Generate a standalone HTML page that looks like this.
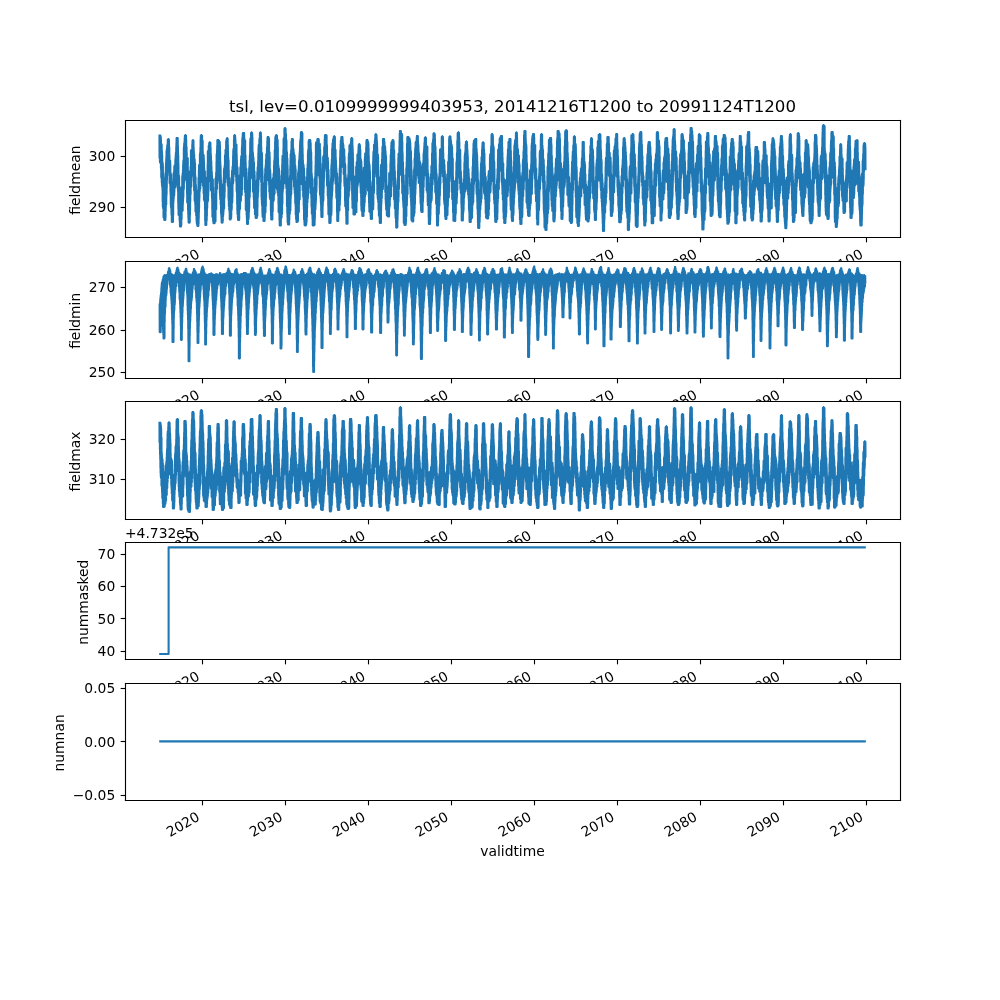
<!DOCTYPE html>
<html><head><meta charset="utf-8"><title>tsl</title>
<style>html,body{margin:0;padding:0;background:#fff;}svg{display:block;transform:translateZ(0);}text{font-family:"DejaVu Sans","Liberation Sans",sans-serif;}</style>
</head><body>
<svg  width="1000" height="1000" viewBox="0 0 720 720">
 
 <defs>
  <style type="text/css">*{stroke-linejoin: round; stroke-linecap: butt}</style>
 </defs>
 <g id="figure_1">
  <g id="patch_1">
   <path d="M 0 720 
L 720 720 
L 720 0 
L 0 0 
z
" style="fill: #ffffff"/>
  </g>
  <g id="axes_1">
   <g id="patch_2">
    <path d="M 90 170.813793 
L 648 170.813793 
L 648 86.4 
L 90 86.4 
z
" style="fill: #ffffff"/>
   </g>
   <g id="matplotlib.axis_1">
    <g id="xtick_1">
     <g id="line2d_1">
      <defs>
       <path id="mb9af4d5690" d="M 0 0 
L 0 3.5 
" style="stroke: #000000; stroke-width: 0.8"/>
      </defs>
      <g>
       <use href="#mb9af4d5690" x="145.8" y="171" style="stroke: #000000; stroke-width: 0.8"/>
      </g>
     </g>
     <g id="text_1">
      <text style="font-size: 10px; font-family: 'DejaVu Sans', 'Liberation Sans', sans-serif" transform="translate(122.393771 197.699233) rotate(-30)">2020</text>
     </g>
    </g>
    <g id="xtick_2">
     <g id="line2d_2">
      <g>
       <use href="#mb9af4d5690" x="205.56" y="171" style="stroke: #000000; stroke-width: 0.8"/>
      </g>
     </g>
     <g id="text_2">
      <text style="font-size: 10px; font-family: 'DejaVu Sans', 'Liberation Sans', sans-serif" transform="translate(182.123892 197.699233) rotate(-30)">2030</text>
     </g>
    </g>
    <g id="xtick_3">
     <g id="line2d_3">
      <g>
       <use href="#mb9af4d5690" x="265.32" y="171" style="stroke: #000000; stroke-width: 0.8"/>
      </g>
     </g>
     <g id="text_3">
      <text style="font-size: 10px; font-family: 'DejaVu Sans', 'Liberation Sans', sans-serif" transform="translate(241.837662 197.699233) rotate(-30)">2040</text>
     </g>
    </g>
    <g id="xtick_4">
     <g id="line2d_4">
      <g>
       <use href="#mb9af4d5690" x="325.08" y="171" style="stroke: #000000; stroke-width: 0.8"/>
      </g>
     </g>
     <g id="text_4">
      <text style="font-size: 10px; font-family: 'DejaVu Sans', 'Liberation Sans', sans-serif" transform="translate(301.567783 197.699233) rotate(-30)">2050</text>
     </g>
    </g>
    <g id="xtick_5">
     <g id="line2d_5">
      <g>
       <use href="#mb9af4d5690" x="384.84" y="171" style="stroke: #000000; stroke-width: 0.8"/>
      </g>
     </g>
     <g id="text_5">
      <text style="font-size: 10px; font-family: 'DejaVu Sans', 'Liberation Sans', sans-serif" transform="translate(361.281553 197.699233) rotate(-30)">2060</text>
     </g>
    </g>
    <g id="xtick_6">
     <g id="line2d_6">
      <g>
       <use href="#mb9af4d5690" x="444.6" y="171" style="stroke: #000000; stroke-width: 0.8"/>
      </g>
     </g>
     <g id="text_6">
      <text style="font-size: 10px; font-family: 'DejaVu Sans', 'Liberation Sans', sans-serif" transform="translate(421.011674 197.699233) rotate(-30)">2070</text>
     </g>
    </g>
    <g id="xtick_7">
     <g id="line2d_7">
      <g>
       <use href="#mb9af4d5690" x="504.36" y="171" style="stroke: #000000; stroke-width: 0.8"/>
      </g>
     </g>
     <g id="text_7">
      <text style="font-size: 10px; font-family: 'DejaVu Sans', 'Liberation Sans', sans-serif" transform="translate(480.725444 197.699233) rotate(-30)">2080</text>
     </g>
    </g>
    <g id="xtick_8">
     <g id="line2d_8">
      <g>
       <use href="#mb9af4d5690" x="564.12" y="171" style="stroke: #000000; stroke-width: 0.8"/>
      </g>
     </g>
     <g id="text_8">
      <text style="font-size: 10px; font-family: 'DejaVu Sans', 'Liberation Sans', sans-serif" transform="translate(540.455565 197.699233) rotate(-30)">2090</text>
     </g>
    </g>
    <g id="xtick_9">
     <g id="line2d_9">
      <g>
       <use href="#mb9af4d5690" x="623.88" y="171" style="stroke: #000000; stroke-width: 0.8"/>
      </g>
     </g>
     <g id="text_9">
      <text style="font-size: 10px; font-family: 'DejaVu Sans', 'Liberation Sans', sans-serif" transform="translate(600.169335 197.699233) rotate(-30)">2100</text>
     </g>
    </g>
   </g>
   <g id="matplotlib.axis_2">
    <g id="ytick_1">
     <g id="line2d_10">
      <defs>
       <path id="mb0a17fd25a" d="M 0 0 
L -3.5 0 
" style="stroke: #000000; stroke-width: 0.8"/>
      </defs>
      <g>
       <use href="#mb0a17fd25a" x="90.36" y="149.4" style="stroke: #000000; stroke-width: 0.8"/>
      </g>
     </g>
     <g id="text_10">
      <text style="font-size: 10px; font-family: 'DejaVu Sans', 'Liberation Sans', sans-serif; text-anchor: end" x="83" y="152.692597" transform="rotate(-0 83 152.692597)">290</text>
     </g>
    </g>
    <g id="ytick_2">
     <g id="line2d_11">
      <g>
       <use href="#mb0a17fd25a" x="90.36" y="112.68" style="stroke: #000000; stroke-width: 0.8"/>
      </g>
     </g>
     <g id="text_11">
      <text style="font-size: 10px; font-family: 'DejaVu Sans', 'Liberation Sans', sans-serif; text-anchor: end" x="83" y="115.974983" transform="rotate(-0 83 115.974983)">300</text>
     </g>
    </g>
    <g id="text_12">
     <text style="font-size: 10px; font-family: 'DejaVu Sans', 'Liberation Sans', sans-serif; text-anchor: middle" x="57.832812" y="128.606897" transform="translate(-0.5 1.08) rotate(-90 57.832812 128.606897)">fieldmean</text>
    </g>
   </g>
   <g id="L_fieldmean">
    <path d="M114.98 97.7L115.05 113.7L115.11 97.7L115.17 113.7L115.23 97.7L115.3 116L115.36 97.7L115.42 117L115.48 98.8L115.54 117L115.61 98.8L115.67 117L115.73 100.7L115.79 117L115.86 104L115.92 116.6L115.98 104L116.04 120.9L116.1 104L116.17 122.2L116.23 104L116.29 127.7L116.35 108.1L116.42 127.7L116.48 109.5L116.54 128.8L116.6 111.4L116.66 131.4L116.73 115.9L116.79 133L116.85 117.6L116.91 134.4L116.98 117.6L117.04 134.4L117.1 118.6L117.16 136.7L117.22 125.1L117.29 145L117.35 125.1L117.41 148.6L117.47 126.5L117.54 149.7L117.6 128.2L117.66 149.7L117.72 132.1L117.78 149.7L117.85 132.2L117.91 156.4L117.97 135.5L118.03 156.4L118.1 136L118.16 156.4L118.22 136.1L118.28 156.4L118.34 139.1L118.41 158.2L118.47 139.1L118.53 158.2L118.59 139.1L118.66 158.2L118.72 140.8L118.78 158.2L118.84 141.6L118.9 158.2L118.97 139.4L119.03 156.4L119.09 134.6L119.15 152.1L119.22 133.3L119.28 148.5L119.34 129.9L119.4 147.6L119.46 124L119.53 147.3L119.59 120.3L119.65 141.5L119.71 117.5L119.78 139.7L119.84 114.6L119.9 135.3L119.96 112.6L120.02 129.7L120.09 108.6L120.15 126.8L120.21 108.3L120.27 124.6L120.34 106.9L120.4 121L120.46 106.9L120.52 121L120.58 104.8L120.65 119.3L120.71 104.2L120.77 119.3L120.83 104.2L120.9 119.3L120.96 100.6L121.02 114.1L121.08 100.6L121.14 110.2L121.21 100.6L121.27 114.4L121.33 100.6L121.39 118.3L121.46 100.6L121.52 120.2L121.58 105.9L121.64 120.2L121.7 105.9L121.77 121.3L121.83 111.5L121.89 121.3L121.95 115.8L122.02 124.4L122.08 115.8L122.14 126.4L122.2 115.8L122.27 131.8L122.33 115.8L122.39 131.8L122.45 118.1L122.51 131.8L122.58 123.9L122.64 131.8L122.7 125.6L122.76 133.7L122.83 125.6L122.89 137.9L122.95 125.6L123.01 140.4L123.07 125.6L123.14 147.3L123.2 128.7L123.26 149.1L123.32 135.7L123.39 149.5L123.45 138.5L123.51 149.5L123.57 143.8L123.63 154.3L123.7 144L123.76 155.1L123.82 144L123.88 159.6L123.95 144L124.01 159.6L124.07 146.6L124.13 159.6L124.19 143.4L124.26 159.6L124.32 143.4L124.38 159.6L124.44 140.6L124.51 155L124.57 138.1L124.63 146.5L124.69 135.5L124.75 144.8L124.82 135.5L124.88 143.1L124.94 131.2L125 141.6L125.07 131.2L125.13 140.8L125.19 124.8L125.25 140.8L125.31 124.8L125.38 138.5L125.44 124.8L125.5 134.8L125.56 123L125.63 134.8L125.69 119.9L125.75 134.8L125.81 119.9L125.87 134.8L125.94 119.1L126 134.8L126.06 119.1L126.12 130.3L126.19 119.1L126.25 130.3L126.31 119.1L126.37 130.3L126.43 114.9L126.5 130.3L126.56 113.8L126.62 129.5L126.68 112L126.75 128.8L126.81 110L126.87 123.5L126.93 110L126.99 122.5L127.06 105.8L127.12 122L127.18 103.1L127.24 122L127.31 99.6L127.37 122L127.43 99.6L127.49 114.7L127.55 99.6L127.62 119L127.68 99.6L127.74 119.5L127.8 99.6L127.87 133.5L127.93 105.2L127.99 134.2L128.05 110.3L128.11 135.1L128.18 112.1L128.24 136.6L128.3 117.7L128.36 137.7L128.43 126.1L128.49 145.9L128.55 126.6L128.61 150.3L128.67 126.6L128.74 154.6L128.8 128L128.86 154.6L128.92 134.7L128.99 154.6L129.05 137L129.11 154.6L129.17 137L129.23 154.6L129.3 137L129.36 153.9L129.42 137L129.48 158L129.55 137.6L129.61 159.6L129.67 138.8L129.73 162.9L129.8 138.8L129.86 162.9L129.92 145.3L129.98 162.9L130.04 144.7L130.11 162.9L130.17 144.4L130.23 162.9L130.29 137.4L130.36 161.8L130.42 137.4L130.48 157.6L130.54 135L130.6 157.6L130.67 135L130.73 150.5L130.79 135L130.85 150.8L130.92 135L130.98 151.6L131.04 135L131.1 151.6L131.16 135.2L131.23 151.6L131.29 135.2L131.35 151.6L131.41 126.9L131.48 147.2L131.54 126.9L131.6 145.2L131.66 125L131.72 143.3L131.79 125L131.85 141.7L131.91 122.4L131.97 136.4L132.04 118.6L132.1 136.4L132.16 115.9L132.22 135.6L132.28 115.5L132.35 131.5L132.41 114.8L132.47 126.9L132.53 106.6L132.6 125.4L132.66 105.4L132.72 125.4L132.78 103.5L132.84 122.3L132.91 103.5L132.97 115.7L133.03 102L133.09 113.4L133.16 99.4L133.22 113.4L133.28 97.7L133.34 113.4L133.4 97.7L133.47 112L133.53 97.7L133.59 113.1L133.65 97.7L133.72 115.4L133.78 97.7L133.84 121.2L133.9 100.2L133.96 129.3L134.03 105.9L134.09 129.3L134.15 105.9L134.21 129.3L134.28 109.8L134.34 129.3L134.4 115.4L134.46 129.3L134.52 115.5L134.59 124.2L134.65 114L134.71 132.1L134.77 114L134.84 139.4L134.9 114L134.96 145.6L135.02 114L135.08 145.9L135.15 122.9L135.21 145.9L135.27 130.1L135.33 145.9L135.4 134.6L135.46 145.9L135.52 136.7L135.58 151L135.64 137.6L135.71 154L135.77 137.8L135.83 157.4L135.89 139.6L135.96 160.1L136.02 140.8L136.08 160.1L136.14 141.6L136.2 160.1L136.27 141.1L136.33 160.1L136.39 139L136.45 160.1L136.52 133.1L136.58 154.8L136.64 130.4L136.7 151.9L136.76 128.2L136.83 145.3L136.89 126.4L136.95 140.2L137.01 123.3L137.08 139.7L137.14 123.3L137.2 135L137.26 123.1L137.33 134.2L137.39 120.3L137.45 134.2L137.51 120.1L137.57 134.2L137.64 108.4L137.7 129.7L137.76 108.4L137.82 127.6L137.89 108.4L137.95 125.9L138.01 108.4L138.07 119.7L138.13 108.4L138.2 119.7L138.26 108.8L138.32 119.7L138.38 108.8L138.45 119.7L138.51 107.7L138.57 119.5L138.63 103.8L138.69 119.5L138.76 101.4L138.82 119.5L138.88 101.4L138.94 119.5L139.01 101.4L139.07 124.2L139.13 101.4L139.19 124.2L139.25 106L139.32 125.2L139.38 108.6L139.44 125.2L139.5 111.2L139.57 126L139.63 111.2L139.69 126.9L139.75 114.8L139.81 130.8L139.88 114.8L139.94 137.1L140 114.8L140.06 137.1L140.13 117.5L140.19 137.1L140.25 117.5L140.31 144.3L140.37 125.8L140.44 144.3L140.5 127.6L140.56 144.5L140.62 127.6L140.69 146L140.75 133.1L140.81 147.4L140.87 133.2L140.93 152.3L141 136.7L141.06 152.3L141.12 139.8L141.18 152.3L141.25 138.9L141.31 152.3L141.37 138.9L141.43 155.2L141.49 138.9L141.56 155.2L141.62 138.9L141.68 158.4L141.74 138.9L141.81 160.2L141.87 146.3L141.93 161.1L141.99 146.3L142.05 161.1L142.12 146.4L142.18 161.1L142.24 149.5L142.3 162.5L142.37 150.3L142.43 162.5L142.49 145.4L142.55 162.5L142.61 145.2L142.68 162.5L142.74 141.4L142.8 161.1L142.86 136.9L142.93 157.2L142.99 134.8L143.05 152.9L143.11 128.2L143.17 149.7L143.24 128.2L143.3 145.1L143.36 122.8L143.42 142.5L143.49 119L143.55 138.1L143.61 119L143.67 137.6L143.73 119L143.8 135.7L143.86 119L143.92 135.7L143.98 118.2L144.05 135.7L144.11 110.9L144.17 133.4L144.23 110.9L144.29 133.4L144.36 109.5L144.42 127.4L144.48 106.2L144.54 124.1L144.61 100.5L144.67 124.1L144.73 97.8L144.79 124.1L144.85 97.8L144.92 120.8L144.98 97.8L145.04 115.1L145.1 97.8L145.17 114.3L145.23 97.8L145.29 114.3L145.35 98L145.42 123L145.48 101.5L145.54 127.6L145.6 101.5L145.66 128.9L145.73 101.5L145.79 130.8L145.85 109.3L145.91 130.8L145.98 116.2L146.04 130.8L146.1 111.8L146.16 130.8L146.22 111.8L146.29 130.6L146.35 111.8L146.41 134L146.47 111.8L146.54 134L146.6 114.2L146.66 134L146.72 116.4L146.78 139.2L146.85 120.9L146.91 139.2L146.97 123.5L147.03 143.8L147.1 123.5L147.16 143.8L147.22 123.5L147.28 143.8L147.34 123.5L147.41 144.8L147.47 127.9L147.53 144.8L147.59 127.9L147.66 144.8L147.72 127.9L147.78 150.9L147.84 129.9L147.9 158.7L147.97 131.3L148.03 161.8L148.09 132.6L148.15 161.8L148.22 137.2L148.28 161.8L148.34 143.8L148.4 161.8L148.46 139.8L148.53 158.8L148.59 139.8L148.65 158.7L148.71 131L148.78 155.3L148.84 131L148.9 149.7L148.96 131L149.02 149.7L149.09 131L149.15 145.3L149.21 131L149.27 145.3L149.34 131.4L149.4 145.3L149.46 128.3L149.52 144.1L149.58 122.6L149.65 144.1L149.71 118.3L149.77 140.9L149.83 108.9L149.9 137.9L149.96 108.9L150.02 127.6L150.08 108.9L150.14 126.8L150.21 108.9L150.27 118.8L150.33 108.4L150.39 117.4L150.46 104.9L150.52 115.2L150.58 104.9L150.64 115.2L150.7 104.9L150.77 115L150.83 102.9L150.89 114L150.95 102.9L151.02 114L151.08 102.9L151.14 114.1L151.2 102.9L151.26 116.6L151.33 102.9L151.39 123.6L151.45 106.2L151.51 128L151.58 110.3L151.64 128L151.7 112.4L151.76 130.8L151.82 115.7L151.89 130.8L151.95 116L152.01 136.3L152.07 119.5L152.14 136.9L152.2 123.1L152.26 136.9L152.32 123.7L152.38 136.9L152.45 126.6L152.51 136.9L152.57 129.2L152.63 138.3L152.7 129.2L152.76 142L152.82 129.2L152.88 143.3L152.95 129.2L153.01 150.8L153.07 129.2L153.13 156L153.19 134.8L153.26 156L153.32 139.4L153.38 156L153.44 141.4L153.51 156L153.57 141.7L153.63 158.8L153.69 141.7L153.75 159.6L153.82 143.6L153.88 160.6L153.94 147L154 160.6L154.07 147.3L154.13 160.6L154.19 147.9L154.25 160.6L154.31 147.9L154.38 160.6L154.44 147.2L154.5 159.3L154.56 147.2L154.63 159.3L154.69 141.8L154.75 159.3L154.81 141.8L154.87 159.3L154.94 141.8L155 159.3L155.06 140.7L155.12 151L155.19 134.8L155.25 151L155.31 128.7L155.37 151L155.43 128.7L155.5 150.6L155.56 128.7L155.62 139.7L155.68 127.2L155.75 136.5L155.81 124.2L155.87 136.5L155.93 124.2L155.99 135.8L156.06 116.4L156.12 135.8L156.18 111L156.24 131.9L156.31 111L156.37 131.9L156.43 108.1L156.49 128.9L156.55 105L156.62 121.7L156.68 101L156.74 121.7L156.8 101L156.87 117.9L156.93 101L156.99 115.5L157.05 101L157.11 115.5L157.18 101L157.24 115.5L157.3 101.8L157.36 115.2L157.43 101.8L157.49 116.1L157.55 101.8L157.61 116.1L157.67 101.8L157.74 116.1L157.8 102.2L157.86 117.7L157.92 102.2L157.99 123.1L158.05 102.2L158.11 129.6L158.17 104.2L158.23 129.6L158.3 108.8L158.36 130.9L158.42 116.3L158.48 138.8L158.55 118.7L158.61 140.8L158.67 120.2L158.73 143.3L158.79 126.1L158.86 143.3L158.92 130L158.98 143.4L159.04 132.6L159.11 147.3L159.17 132.6L159.23 147.7L159.29 132.6L159.35 153.8L159.42 133.6L159.48 154.6L159.54 133.6L159.6 156.7L159.67 137.3L159.73 160.1L159.79 146.3L159.85 160.1L159.91 146.3L159.98 160.1L160.04 146.7L160.1 160.1L160.16 145L160.23 159.1L160.29 145L160.35 155.7L160.41 141.8L160.48 155.7L160.54 136.4L160.6 154.2L160.66 136.4L160.72 152.7L160.79 136.4L160.85 151.3L160.91 136.4L160.97 149.9L161.04 133.1L161.1 149.9L161.16 129.4L161.22 149.9L161.28 127.9L161.35 142.5L161.41 122.7L161.47 142.1L161.53 121.5L161.6 138.3L161.66 121.5L161.72 131.6L161.78 121.5L161.84 131.4L161.91 119.5L161.97 131.2L162.03 119.5L162.09 131.2L162.16 112L162.22 129.2L162.28 112L162.34 127.3L162.4 112L162.47 125.8L162.53 108L162.59 120.3L162.65 108L162.72 120.3L162.78 108L162.84 120.3L162.9 108L162.96 119.1L163.03 101.7L163.09 119.1L163.15 101.5L163.21 119.1L163.28 100.6L163.34 115.3L163.4 100L163.46 112.2L163.52 100L163.59 118.7L163.65 100L163.71 118.8L163.77 100L163.84 125.5L163.9 104.6L163.96 125.5L164.02 109.5L164.08 128.3L164.15 113.3L164.21 133.8L164.27 115.4L164.33 133.8L164.4 115.4L164.46 133.8L164.52 122.6L164.58 134.2L164.64 127.8L164.71 142.9L164.77 128.8L164.83 144.3L164.89 128.8L164.96 148.5L165.02 130.9L165.08 148.5L165.14 132.8L165.2 151.1L165.27 139.6L165.33 151.1L165.39 144.6L165.45 152.7L165.52 144.6L165.58 157.9L165.64 145L165.7 157.9L165.76 145L165.83 157.9L165.89 148.6L165.95 157.9L166.01 145.6L166.08 157.5L166.14 145.6L166.2 157.1L166.26 145L166.32 156.2L166.39 141.9L166.45 151.4L166.51 140.2L166.57 151.4L166.64 140.2L166.7 150.1L166.76 133.6L166.82 146.1L166.88 127.9L166.95 146.1L167.01 127.8L167.07 145.5L167.13 125.8L167.2 142L167.26 123L167.32 133L167.38 122.9L167.44 132L167.51 122.9L167.57 132L167.63 120.1L167.69 132L167.76 120.1L167.82 130.7L167.88 120.1L167.94 127.2L168.01 112.2L168.07 126.2L168.13 108.5L168.19 125.3L168.25 107.3L168.32 125.3L168.38 107.3L168.44 120.2L168.5 107.3L168.57 118.9L168.63 100.6L168.69 118.9L168.75 97.7L168.81 118.9L168.88 97.7L168.94 114.4L169 97.7L169.06 114.2L169.13 97.7L169.19 114.2L169.25 99.5L169.31 114.2L169.37 100.9L169.44 114.2L169.5 104.6L169.56 112.3L169.62 104.2L169.69 111.1L169.75 104.2L169.81 114.9L169.87 104.2L169.93 123.6L170 104.2L170.06 127.3L170.12 104.2L170.18 127.3L170.25 111.1L170.31 130.4L170.37 115.2L170.43 131.9L170.49 120.3L170.56 137.3L170.62 120.3L170.68 138L170.74 120.8L170.81 139L170.87 120.8L170.93 146.9L170.99 125.5L171.05 151.4L171.12 132.8L171.18 154.1L171.24 133.8L171.3 154.1L171.37 138.2L171.43 156.5L171.49 142.4L171.55 158.2L171.61 142.4L171.68 158.2L171.74 142.4L171.8 158.2L171.86 138.2L171.93 158.2L171.99 137.3L172.05 158.2L172.11 137L172.17 152.6L172.24 137L172.3 150.3L172.36 131.4L172.42 150.3L172.49 129.2L172.55 150.3L172.61 126.9L172.67 150.3L172.73 126.9L172.8 146.2L172.86 126.9L172.92 144.4L172.98 126.9L173.05 144.4L173.11 125.1L173.17 144.4L173.23 121L173.29 144.4L173.36 119.9L173.42 140.3L173.48 119.9L173.54 140.2L173.61 117.6L173.67 140.2L173.73 114.7L173.79 140.2L173.85 112.7L173.92 140.2L173.98 112.7L174.04 136.6L174.1 112.4L174.17 126.6L174.23 112.4L174.29 126.3L174.35 106.6L174.41 126.3L174.48 104.9L174.54 126.3L174.6 100.4L174.66 126.3L174.73 99.1L174.79 118.9L174.85 99.1L174.91 116.7L174.97 96.2L175.04 115.2L175.1 96L175.16 115.2L175.22 96L175.29 115.9L175.35 96L175.41 119.9L175.47 96L175.54 123.5L175.6 96L175.66 123.5L175.72 99.1L175.78 123.5L175.85 101.2L175.91 123.5L175.97 101.2L176.03 123.5L176.1 101.2L176.16 123.3L176.22 101.2L176.28 128.5L176.34 101.2L176.41 136.3L176.47 112L176.53 136.7L176.59 112L176.66 138.3L176.72 117L176.78 138.3L176.84 121.2L176.9 138.3L176.97 121.6L177.03 141.4L177.09 121.6L177.15 151L177.22 121.6L177.28 151L177.34 127.1L177.4 151L177.46 129.4L177.53 151L177.59 134.6L177.65 151.9L177.71 137.4L177.78 154.8L177.84 137.4L177.9 157.2L177.96 137.4L178.02 161.1L178.09 143.7L178.15 161.1L178.21 148.4L178.27 161.1L178.34 148.5L178.4 161.1L178.46 148.2L178.52 157.6L178.58 146.2L178.65 157.6L178.71 145.4L178.77 157.6L178.83 137.9L178.9 156.4L178.96 136.6L179.02 152.3L179.08 132.8L179.14 152.3L179.21 132.1L179.27 149.3L179.33 124.1L179.39 143.1L179.46 124.1L179.52 142.2L179.58 121.4L179.64 141.8L179.7 120.1L179.77 138.1L179.83 115.7L179.89 136.9L179.95 115.7L180.02 130.1L180.08 111.8L180.14 128.9L180.2 110.9L180.26 125.7L180.33 101.9L180.39 125.7L180.45 99.9L180.51 125.7L180.58 99.9L180.64 121.4L180.7 99.9L180.76 115.3L180.82 98.7L180.89 111.4L180.95 95.7L181.01 111.4L181.07 95.7L181.14 114.2L181.2 95.7L181.26 119.4L181.32 95.7L181.38 119.4L181.45 96.4L181.51 127.8L181.57 98.9L181.63 127.8L181.7 109.1L181.76 127.8L181.82 109.5L181.88 127.8L181.94 110.5L182.01 127.8L182.07 112.8L182.13 127.5L182.19 112.8L182.26 127.8L182.32 114L182.38 138L182.44 116.8L182.5 138L182.57 116.8L182.63 138L182.69 117.1L182.75 138.6L182.82 122.7L182.88 142.3L182.94 123.5L183 143.9L183.06 123.5L183.13 149.6L183.19 126.3L183.25 149.6L183.31 130.2L183.38 149.6L183.44 131.4L183.5 149.6L183.56 131.4L183.63 149.5L183.69 131.4L183.75 154.3L183.81 132.1L183.87 154.3L183.94 134.4L184 154.3L184.06 137.2L184.12 154.3L184.19 138.5L184.25 156.8L184.31 138.5L184.37 156.8L184.43 138.5L184.5 156.8L184.56 140.1L184.62 156.8L184.68 140.8L184.75 156.8L184.81 134.6L184.87 155.3L184.93 131.6L184.99 155.3L185.06 130.7L185.12 155.3L185.18 129.7L185.24 149.1L185.31 128.8L185.37 141.9L185.43 124.2L185.49 141.9L185.55 123.4L185.62 138.6L185.68 120.6L185.74 137.8L185.8 120.6L185.87 133.5L185.93 119.2L185.99 130.1L186.05 115.9L186.11 129.3L186.18 110.3L186.24 129.3L186.3 106.6L186.36 127.7L186.43 104.5L186.49 126.5L186.55 104.5L186.61 122.3L186.67 104.5L186.74 118.2L186.8 104.5L186.86 118.2L186.92 100.2L186.99 118.2L187.05 99.8L187.11 114.7L187.17 99.3L187.23 114.7L187.3 95.7L187.36 115.3L187.42 95.7L187.48 115.5L187.55 95.7L187.61 118.7L187.67 95.7L187.73 119.8L187.79 98.2L187.86 121.2L187.92 105.6L187.98 121.2L188.04 109.2L188.11 121.3L188.17 110.3L188.23 131.1L188.29 110.3L188.35 131.1L188.42 110.4L188.48 141.4L188.54 114.6L188.6 143.7L188.67 121.3L188.73 146.3L188.79 123L188.85 148L188.91 126.9L188.98 148.3L189.04 131.8L189.1 153.4L189.16 131.8L189.23 155.9L189.29 134.6L189.35 155.9L189.41 140.4L189.47 155.9L189.54 137.1L189.6 155.9L189.66 137.1L189.72 156.7L189.79 137.1L189.85 158.9L189.91 137.1L189.97 158.9L190.03 138.3L190.1 158.9L190.16 143.7L190.22 158.9L190.28 134.9L190.35 158.9L190.41 134.9L190.47 156.7L190.53 134.9L190.59 154L190.66 134.9L190.72 153.2L190.78 134.9L190.84 153.2L190.91 131.4L190.97 152.7L191.03 125.2L191.09 148.6L191.16 121.6L191.22 148.4L191.28 121.5L191.34 142.3L191.4 119.8L191.47 135.1L191.53 118.5L191.59 133.3L191.65 115.5L191.72 130.1L191.78 114.7L191.84 130.1L191.9 111.3L191.96 129.9L192.03 111.3L192.09 127.4L192.15 111.3L192.21 127.4L192.28 110L192.34 122.5L192.4 106L192.46 122.5L192.52 106L192.59 121.3L192.65 101.4L192.71 118.5L192.77 99.1L192.84 115.1L192.9 99.1L192.96 115.1L193.02 99.1L193.08 114.5L193.15 99.1L193.21 115.8L193.27 99.1L193.33 119.6L193.4 99.7L193.46 122.3L193.52 100L193.58 124.5L193.64 109.6L193.71 130.2L193.77 109.6L193.83 131.3L193.89 109.6L193.96 132.8L194.02 112.8L194.08 138.1L194.14 122L194.2 138.1L194.27 122L194.33 139.7L194.39 123L194.45 142.2L194.52 125.1L194.58 143.1L194.64 127.8L194.7 143.1L194.76 130.3L194.83 143.1L194.89 129.8L194.95 143.1L195.01 129.8L195.08 143.6L195.14 129.8L195.2 151.5L195.26 129.8L195.32 155.1L195.39 129.8L195.45 157.9L195.51 132.8L195.57 157.9L195.64 141.1L195.7 157.9L195.76 141.1L195.82 157.9L195.88 140.2L195.95 157.9L196.01 134L196.07 152.2L196.13 133.9L196.2 152.2L196.26 133.9L196.32 145.3L196.38 133.9L196.44 144.9L196.51 131.2L196.57 144.9L196.63 131.1L196.69 144.9L196.76 128.3L196.82 144L196.88 128.3L196.94 144L197 128.3L197.07 140.7L197.13 125.5L197.19 139.4L197.25 125L197.32 139.4L197.38 123.8L197.44 139.4L197.5 119.2L197.56 139.4L197.63 116L197.69 135.4L197.75 116L197.81 135.4L197.88 113.7L197.94 134.9L198 108.1L198.06 134.9L198.12 108.1L198.19 134.9L198.25 102L198.31 125.1L198.37 99.5L198.44 124.6L198.5 98.4L198.56 117.7L198.62 98.4L198.69 114.6L198.75 97.7L198.81 115.8L198.87 97.7L198.93 115.8L199 97.7L199.06 121.7L199.12 97.7L199.18 121.7L199.25 97.7L199.31 121.7L199.37 100.7L199.43 123.8L199.49 100.7L199.56 128.3L199.62 100.9L199.68 136.4L199.74 100.9L199.81 136.4L199.87 106L199.93 136.4L199.99 114.3L200.05 138.6L200.12 119L200.18 138.6L200.24 119L200.3 138.6L200.37 120.3L200.43 141L200.49 121.7L200.55 141L200.61 121.7L200.68 146.9L200.74 121.7L200.8 152.6L200.86 126.1L200.93 152.6L200.99 129.8L201.05 152.6L201.11 132.4L201.17 152.6L201.24 132.6L201.3 153.8L201.36 132.6L201.42 158.4L201.49 132.6L201.55 162.1L201.61 132.6L201.67 162.1L201.73 136.4L201.8 162.1L201.86 138.2L201.92 162.1L201.98 137.8L202.05 162.1L202.11 137.8L202.17 156.6L202.23 137.8L202.29 156.6L202.36 137.8L202.42 156.6L202.48 135.8L202.54 156.6L202.61 135.8L202.67 154.4L202.73 129.7L202.79 154.2L202.85 126.9L202.92 153.7L202.98 125.5L203.04 147.4L203.1 123.1L203.17 146.4L203.23 123.1L203.29 139.2L203.35 118.6L203.41 137.9L203.48 114.3L203.54 135.7L203.6 112.4L203.66 135.7L203.73 112.4L203.79 135.7L203.85 112.4L203.91 132.1L203.97 112.4L204.04 132.1L204.1 112.4L204.16 132.1L204.22 107.5L204.29 132.1L204.35 100.2L204.41 131.3L204.47 99.5L204.53 126L204.6 99.5L204.66 120.3L204.72 99.5L204.78 119.5L204.85 99.3L204.91 115.7L204.97 92.8L205.03 115.7L205.09 92.8L205.16 112.9L205.22 92.8L205.28 112.9L205.34 92.8L205.41 112.4L205.47 92.8L205.53 112.4L205.59 96.5L205.65 118L205.72 96.5L205.78 120.4L205.84 100.5L205.9 123.6L205.97 100.7L206.03 123.6L206.09 101.5L206.15 132.3L206.22 108.3L206.28 134.4L206.34 109.8L206.4 135.6L206.46 109.8L206.53 135.6L206.59 114.2L206.65 140L206.71 114.2L206.78 148.5L206.84 118.7L206.9 148.5L206.96 121.7L207.02 153.6L207.09 128.1L207.15 156.2L207.21 130.5L207.27 160.1L207.34 130.5L207.4 160.1L207.46 140.8L207.52 161.5L207.58 141.1L207.65 161.5L207.71 142.4L207.77 161.5L207.83 140.3L207.9 161.5L207.96 140.3L208.02 161.5L208.08 140.3L208.14 158.2L208.21 140.3L208.27 153.9L208.33 140.3L208.39 153.9L208.46 138.5L208.52 153.9L208.58 133.5L208.64 151.5L208.7 131L208.77 151.5L208.83 128.5L208.89 151.5L208.95 126.7L209.02 146.8L209.08 126.7L209.14 142.8L209.2 120.1L209.26 140.1L209.33 115.3L209.39 140.1L209.45 111.1L209.51 140.1L209.58 111.1L209.64 136.7L209.7 111.1L209.76 126.5L209.82 108.1L209.89 123.7L209.95 108.1L210.01 123.5L210.07 102.1L210.14 120.5L210.2 102.1L210.26 119.9L210.32 100.3L210.38 119.9L210.45 100.3L210.51 117.1L210.57 100.3L210.63 120.1L210.7 100.3L210.76 120.5L210.82 106.5L210.88 128.5L210.94 106.5L211.01 128.5L211.07 107.9L211.13 128.5L211.19 107.9L211.26 128.5L211.32 110.2L211.38 124.9L211.44 110.2L211.5 124.9L211.57 111.3L211.63 127.7L211.69 112L211.75 130.8L211.82 112L211.88 134.3L211.94 112L212 134.3L212.06 114.1L212.13 134.3L212.19 119.3L212.25 136.5L212.31 119.3L212.38 139L212.44 119.3L212.5 139.2L212.56 121.8L212.62 140.9L212.69 121.8L212.75 146.3L212.81 127.1L212.87 146.3L212.94 130.4L213 148.1L213.06 130.4L213.12 154.7L213.18 130.4L213.25 154.7L213.31 130.4L213.37 157.6L213.43 133.8L213.5 157.6L213.56 138.7L213.62 159.6L213.68 140.7L213.74 159.6L213.81 140.7L213.87 159.6L213.93 140.7L213.99 159.6L214.06 134.8L214.12 159.3L214.18 134.8L214.24 159.3L214.31 134.8L214.37 158.8L214.43 134.8L214.49 153.3L214.55 134.8L214.62 152.9L214.68 129.5L214.74 152.9L214.8 124.7L214.87 152.4L214.93 123.7L214.99 152.4L215.05 123.7L215.11 146.7L215.18 122.3L215.24 143.4L215.3 119.8L215.36 143.4L215.43 116.3L215.49 143.4L215.55 115.3L215.61 143.4L215.67 115.3L215.74 132.4L215.8 112.4L215.86 132.4L215.92 110.2L215.99 132.4L216.05 108.7L216.11 130.7L216.17 104.3L216.23 130.7L216.3 101.5L216.36 127.4L216.42 100.9L216.48 125.1L216.55 100.9L216.61 118.6L216.67 99.1L216.73 116.3L216.79 95.5L216.86 114.9L216.92 95.5L216.98 113.9L217.04 95.5L217.11 117.5L217.17 95.5L217.23 122L217.29 95.5L217.35 123.5L217.42 96.1L217.48 130.5L217.54 96.1L217.6 132.6L217.67 106.3L217.73 132.6L217.79 111L217.85 132.6L217.91 115.2L217.98 132.6L218.04 117.7L218.1 136.9L218.16 118.9L218.23 136.9L218.29 118.9L218.35 136.9L218.41 118.9L218.47 141.7L218.54 121.1L218.6 141.7L218.66 121.1L218.72 141.7L218.79 123.4L218.85 147.7L218.91 127.5L218.97 150.8L219.03 127.5L219.1 158.1L219.16 127.5L219.22 158.3L219.28 135.2L219.35 160.1L219.41 144.1L219.47 162L219.53 148.1L219.59 162L219.66 148.7L219.72 162.2L219.78 148.7L219.84 162.2L219.91 150.3L219.97 162.2L220.03 147.9L220.09 162.2L220.15 147L220.22 161.4L220.28 141.7L220.34 161.4L220.4 137.8L220.47 160.1L220.53 134.2L220.59 158.9L220.65 133L220.71 156L220.78 132.4L220.84 156L220.9 130.8L220.96 149.7L221.03 130.5L221.09 145.8L221.15 130.5L221.21 145.8L221.27 127.4L221.34 143.4L221.4 121.5L221.46 143.1L221.52 121.5L221.59 141.2L221.65 118.8L221.71 138.7L221.77 117.3L221.84 135.8L221.9 110.5L221.96 135.1L222.02 108.6L222.08 131.1L222.15 107.6L222.21 129.3L222.27 107.5L222.33 123.7L222.4 101.8L222.46 119.1L222.52 101.8L222.58 119.1L222.64 101L222.71 119.1L222.77 101L222.83 117.5L222.89 101L222.96 117L223.02 101L223.08 120.1L223.14 101L223.2 120.2L223.27 101.1L223.33 122.8L223.39 102.6L223.45 122.9L223.52 103.2L223.58 133.2L223.64 107.5L223.7 133.5L223.76 109.6L223.83 139.1L223.89 109.6L223.95 139.1L224.01 115.9L224.08 139.1L224.14 125L224.2 139.1L224.26 125L224.32 142.1L224.39 126.6L224.45 148.4L224.51 128.7L224.57 149.3L224.64 128.7L224.7 153.7L224.76 128.7L224.82 154.1L224.88 137.2L224.95 154.1L225.01 140.3L225.07 155.6L225.13 140.3L225.2 157.7L225.26 140.3L225.32 162.1L225.38 140.3L225.44 162.1L225.51 148.2L225.57 162.1L225.63 148.4L225.69 162.1L225.76 148.4L225.82 162.1L225.88 148.4L225.94 161.8L226 146.6L226.07 161.8L226.13 139.3L226.19 161.8L226.25 136.2L226.32 161.8L226.38 136.2L226.44 158.6L226.5 136.2L226.56 156.6L226.63 135.1L226.69 150.7L226.75 135.1L226.81 150.7L226.88 129.5L226.94 150.7L227 128L227.06 148.2L227.12 127.4L227.19 146.1L227.25 123.8L227.31 144.2L227.37 119.2L227.44 138.6L227.5 112.7L227.56 138.6L227.62 103.6L227.68 137.6L227.75 102.6L227.81 133L227.87 102.6L227.93 125.6L228 102.6L228.06 126.1L228.12 102.6L228.18 126.1L228.24 107.3L228.31 126.1L228.37 108L228.43 126.1L228.49 106.6L228.56 124.9L228.62 100.6L228.68 124.9L228.74 100.3L228.8 124.9L228.87 100.3L228.93 123.3L228.99 100.3L229.05 118.3L229.12 100.3L229.18 120.5L229.24 100.3L229.3 122.2L229.37 100.8L229.43 124.9L229.49 104.3L229.55 125.2L229.61 104.6L229.68 125.2L229.74 103.7L229.8 125.2L229.86 103.7L229.93 125.2L229.99 103.7L230.05 125.7L230.11 103.7L230.17 127.8L230.24 108L230.3 128.8L230.36 108L230.42 135.3L230.49 113.4L230.55 140L230.61 117.8L230.67 140L230.73 117.8L230.8 140L230.86 121.6L230.92 141.5L230.98 127.3L231.05 143L231.11 127.3L231.17 145.6L231.23 127.3L231.29 147.5L231.36 134.4L231.42 151.5L231.48 137L231.54 156L231.61 137.4L231.67 156L231.73 144.1L231.79 156L231.85 141.2L231.92 156L231.98 140.1L232.04 156L232.1 140L232.17 148.8L232.23 138.1L232.29 146.9L232.35 129.7L232.41 144.7L232.48 126.8L232.54 144.7L232.6 122.1L232.66 144L232.73 118L232.79 138.9L232.85 113.3L232.91 135.3L232.97 112.9L233.04 130.2L233.1 112.3L233.16 127.8L233.22 112.3L233.29 121.1L233.35 112.3L233.41 120.6L233.47 112.3L233.53 120.4L233.6 106.3L233.66 118.6L233.72 105.7L233.78 118.6L233.85 105.7L233.91 117.8L233.97 100.5L234.03 113.9L234.09 97.7L234.16 113.9L234.22 97.4L234.28 113.9L234.34 97.4L234.41 113.9L234.47 97.4L234.53 106.9L234.59 97.4L234.65 110.7L234.72 97.6L234.78 113.9L234.84 97.6L234.9 116.8L234.97 97.6L235.03 121.1L235.09 103.7L235.15 122.3L235.21 104.8L235.28 123.4L235.34 111.2L235.4 123.5L235.46 113.5L235.53 128.5L235.59 113.7L235.65 133.5L235.71 113.7L235.77 133.5L235.84 113.7L235.9 133.5L235.96 116L236.02 133.7L236.09 122.4L236.15 141L236.21 122.4L236.27 141.2L236.33 122.4L236.4 142.7L236.46 126.1L236.52 148.1L236.58 131.3L236.65 154.3L236.71 131.3L236.77 154.3L236.83 134.4L236.9 154.3L236.96 138.9L237.02 154.3L237.08 139.2L237.14 154.3L237.21 139.2L237.27 160.4L237.33 139.2L237.39 160.4L237.46 139.2L237.52 160.4L237.58 143L237.64 160.4L237.7 142.9L237.77 160.4L237.83 139.7L237.89 159.5L237.95 138.9L238.02 155.6L238.08 138.9L238.14 154.6L238.2 132L238.26 154.6L238.33 132L238.39 154.6L238.45 129.6L238.51 152.5L238.58 127.8L238.64 143.7L238.7 120.9L238.76 141.9L238.82 119.1L238.89 140.7L238.95 117.7L239.01 138.4L239.07 115.1L239.14 137.1L239.2 114.3L239.26 133.3L239.32 107.2L239.38 132.2L239.45 107.2L239.51 130.4L239.57 103.3L239.63 130.4L239.7 103.3L239.76 127.5L239.82 103.1L239.88 122L239.94 100.6L240.01 118.7L240.07 100.6L240.13 118.6L240.19 100.6L240.26 121.1L240.32 100.6L240.38 121.1L240.44 98.6L240.5 121.1L240.57 98.6L240.63 121.1L240.69 98.6L240.75 119.3L240.82 98.6L240.88 119.3L240.94 98.6L241 119.8L241.06 107.8L241.13 126.7L241.19 108.1L241.25 126.7L241.31 108.1L241.38 126.7L241.44 108.1L241.5 126.7L241.56 113.3L241.62 129L241.69 115.2L241.75 132.1L241.81 118.1L241.87 132.4L241.94 120.9L242 132.4L242.06 122.9L242.12 132.4L242.18 125.2L242.25 138.7L242.31 125.2L242.37 142.3L242.43 125.2L242.5 142.3L242.56 125.2L242.62 142.3L242.68 132.3L242.74 144.2L242.81 137.4L242.87 152.8L242.93 139.3L242.99 158.9L243.06 139.3L243.12 158.9L243.18 143.6L243.24 158.9L243.3 147.2L243.37 158.9L243.43 144.9L243.49 154.7L243.55 142.4L243.62 151.5L243.68 142.4L243.74 148L243.8 142.4L243.86 151.3L243.93 142.4L243.99 151.3L244.05 145.9L244.11 151.3L244.18 138.9L244.24 151.3L244.3 138.1L244.36 148L244.42 131.7L244.49 147.6L244.55 127.6L244.61 144.1L244.67 126.7L244.74 142.4L244.8 121.1L244.86 135.9L244.92 119.2L244.99 131.9L245.05 113.3L245.11 131.1L245.17 108.3L245.23 124.4L245.3 108.3L245.36 119.4L245.42 104.1L245.48 119.3L245.55 101.4L245.61 116.8L245.67 101.4L245.73 111.5L245.79 101.1L245.86 109.9L245.92 98.8L245.98 109.9L246.04 98.8L246.11 109.9L246.17 98.8L246.23 110.2L246.29 98.8L246.35 110.2L246.42 98.8L246.48 110.2L246.54 100.7L246.6 111.9L246.67 103.1L246.73 116.4L246.79 103.1L246.85 119.9L246.91 104.2L246.98 119.9L247.04 104.4L247.1 119.9L247.16 107.6L247.23 119.9L247.29 107.6L247.35 119.8L247.41 107.6L247.47 119.8L247.54 107.6L247.6 125.2L247.66 107.6L247.72 125.2L247.79 112.2L247.85 125.2L247.91 113.1L247.97 125.8L248.03 118.1L248.1 131.9L248.16 118.1L248.22 134L248.28 118.1L248.35 134L248.41 119.4L248.47 134L248.53 126L248.59 144.5L248.66 126L248.72 148.3L248.78 128.4L248.84 148.3L248.91 128.4L248.97 148.3L249.03 138.6L249.09 148.3L249.15 143.7L249.22 149.8L249.28 143.7L249.34 150.6L249.4 143.7L249.47 155.6L249.53 143.7L249.59 160.9L249.65 147.8L249.71 160.9L249.78 146L249.84 160.9L249.9 145.2L249.96 160.9L250.03 140.4L250.09 160.9L250.15 136.7L250.21 151.9L250.27 135L250.34 151.4L250.4 133L250.46 151.4L250.52 133L250.59 142.8L250.65 128.6L250.71 142.3L250.77 128.6L250.83 140.9L250.9 126.3L250.96 140.9L251.02 125.3L251.08 137.4L251.15 118.2L251.21 137.4L251.27 112.9L251.33 137.4L251.39 110.5L251.46 136L251.52 110.5L251.58 130.6L251.64 110.5L251.71 129.1L251.77 104.7L251.83 129.1L251.89 104.7L251.95 129.1L252.02 104.7L252.08 125.5L252.14 104.7L252.2 126.1L252.27 104.7L252.33 126.1L252.39 105L252.45 126.1L252.52 103.8L252.58 126.1L252.64 103.8L252.7 125.4L252.76 103.8L252.83 125.4L252.89 102.3L252.95 125.4L253.01 100L253.08 125.4L253.14 100L253.2 122.9L253.26 100L253.32 125.5L253.39 100L253.45 125.8L253.51 100L253.57 132.8L253.64 104.8L253.7 139.5L253.76 106.9L253.82 144.2L253.88 110L253.95 149.5L254.01 113.7L254.07 149.5L254.13 119.5L254.2 149.5L254.26 125.8L254.32 149.5L254.38 127.4L254.44 148.4L254.51 127.2L254.57 150.1L254.63 127.2L254.69 154.3L254.76 127.2L254.82 154.3L254.88 127.2L254.94 154.3L255 127.9L255.07 154.3L255.13 133.8L255.19 154.3L255.25 132L255.32 154.3L255.38 132L255.44 154.3L255.5 132L255.56 152.3L255.63 132L255.69 152.3L255.75 128.8L255.81 152.3L255.88 128.8L255.94 152.6L256 128.8L256.06 152.6L256.12 128.8L256.19 152.6L256.25 128.8L256.31 152.6L256.37 130.3L256.44 152.6L256.5 126.7L256.56 145.9L256.62 120.3L256.68 144.9L256.75 120.3L256.81 144.9L256.87 120.3L256.93 138.6L257 116.8L257.06 135.5L257.12 116.8L257.18 133.9L257.24 116.8L257.31 133.9L257.37 116.8L257.43 132.5L257.49 111.4L257.56 132.5L257.62 111.4L257.68 131.3L257.74 111.4L257.8 131.3L257.87 111.4L257.93 128.6L257.99 110.9L258.05 128.6L258.12 110.4L258.18 128.6L258.24 108.2L258.3 127.3L258.36 105.7L258.43 123.3L258.49 104.3L258.55 120.4L258.61 104.3L258.68 120.4L258.74 104.3L258.8 120.4L258.86 104.3L258.92 120.9L258.99 104.9L259.05 127.7L259.11 107.5L259.17 127.7L259.24 107.9L259.3 127.7L259.36 113.3L259.42 127.7L259.48 115.2L259.55 127.7L259.61 115.2L259.67 133.5L259.73 115.2L259.8 135.1L259.86 116.1L259.92 138.9L259.98 116.4L260.05 138.9L260.11 119.5L260.17 141.9L260.23 123.3L260.29 148.2L260.36 123.3L260.42 150.6L260.48 123.3L260.54 151.8L260.61 126.4L260.67 151.8L260.73 134L260.79 151.8L260.85 133.2L260.92 151.8L260.98 133.2L261.04 155.3L261.1 133.2L261.17 155.3L261.23 133.2L261.29 155.3L261.35 133.3L261.41 155.3L261.48 132.3L261.54 155.3L261.6 130.1L261.66 152.3L261.73 130.1L261.79 152.3L261.85 127.9L261.91 152.3L261.97 126.7L262.04 149L262.1 120.9L262.16 147.8L262.22 120.9L262.29 145.8L262.35 120.9L262.41 145.8L262.47 120.9L262.53 141.7L262.6 120.9L262.66 141.7L262.72 121.7L262.78 139.6L262.85 114.1L262.91 139.6L262.97 112.6L263.03 139.6L263.09 110.6L263.16 139.6L263.22 110.6L263.28 135.5L263.34 110.6L263.41 129.7L263.47 110.6L263.53 132L263.59 110.6L263.65 132L263.72 111.2L263.78 132L263.84 106L263.9 132L263.97 102.1L264.03 128.9L264.09 101L264.15 127.2L264.21 101L264.28 122L264.34 101L264.4 122L264.46 101L264.53 122L264.59 102.4L264.65 122L264.71 102.4L264.77 123.7L264.84 102.4L264.9 129.9L264.96 102.4L265.02 130.4L265.09 103.6L265.15 137.2L265.21 106.7L265.27 137.2L265.33 112.2L265.4 137.2L265.46 116.2L265.52 137.2L265.58 118L265.65 137.2L265.71 118.4L265.77 141.7L265.83 118.4L265.89 146L265.96 119.6L266.02 149.3L266.08 122.6L266.14 152.2L266.21 123.9L266.27 152.2L266.33 132L266.39 152.2L266.45 137.5L266.52 152.2L266.58 136.8L266.64 151.6L266.7 136.8L266.77 151.6L266.83 136.8L266.89 153.2L266.95 136.8L267.01 155.5L267.08 136.8L267.14 157.5L267.2 139.1L267.26 157.5L267.33 143.8L267.39 157.5L267.45 143.8L267.51 157.5L267.58 141L267.64 157.5L267.7 139.3L267.76 152.7L267.82 139.3L267.89 149.6L267.95 134.7L268.01 149.6L268.07 134.7L268.14 150.4L268.2 134.7L268.26 150.4L268.32 130.7L268.38 150.4L268.45 130.7L268.51 150.4L268.57 130.7L268.63 147.9L268.7 122.6L268.76 138.9L268.82 116.4L268.88 138.9L268.94 112.2L269.01 138.9L269.07 109.2L269.13 137.4L269.19 109.2L269.26 125.1L269.32 109.2L269.38 122.8L269.44 104.5L269.5 120.9L269.57 104.5L269.63 120.9L269.69 104.5L269.75 120.9L269.82 104.5L269.88 120.5L269.94 104.5L270 120.5L270.06 101.6L270.13 118L270.19 101.6L270.25 117.5L270.31 99.3L270.38 116.9L270.44 97.1L270.5 115.4L270.56 97.1L270.62 112.7L270.69 97.1L270.75 112.7L270.81 97.1L270.87 117.2L270.94 97.6L271 119.1L271.06 100.1L271.12 127L271.18 101.5L271.25 127L271.31 103.7L271.37 127L271.43 106.3L271.5 127L271.56 111.2L271.62 127L271.68 111.4L271.74 132.5L271.81 111.4L271.87 140.3L271.93 111.4L271.99 140.3L272.06 113L272.12 142.3L272.18 120.2L272.24 143.4L272.3 126.6L272.37 143.5L272.43 128.3L272.49 145.4L272.55 128L272.62 145.4L272.68 128L272.74 151L272.8 128L272.86 151.1L272.93 128L272.99 155.2L273.05 128L273.11 155.2L273.18 133.9L273.24 155.2L273.3 137.5L273.36 155.9L273.42 138.2L273.49 157.1L273.55 138.2L273.61 160.4L273.67 138.2L273.74 160.4L273.8 135.5L273.86 160.4L273.92 133L273.98 160.4L274.05 129.3L274.11 160.4L274.17 127.8L274.23 151.9L274.3 127.3L274.36 147.5L274.42 122.7L274.48 145.7L274.54 118.8L274.61 142.8L274.67 118.8L274.73 142.6L274.79 118.8L274.86 138.4L274.92 118.8L274.98 135.8L275.04 118.8L275.11 136L275.17 115.1L275.23 136L275.29 114.7L275.35 136L275.42 109.7L275.48 136L275.54 105.9L275.6 134.7L275.67 105.9L275.73 128L275.79 105.4L275.85 125L275.91 100.3L275.98 119.7L276.04 100.3L276.1 119.7L276.16 100.3L276.23 115.4L276.29 100.3L276.35 115.5L276.41 100.3L276.47 115.5L276.54 102L276.6 117.2L276.66 102.5L276.72 117.2L276.79 104.9L276.85 117.2L276.91 105.2L276.97 120L277.03 105.6L277.1 122.8L277.16 105.8L277.22 122.8L277.28 108.2L277.35 124.6L277.41 109.2L277.47 131.2L277.53 111.8L277.59 138.2L277.66 112.1L277.72 138.3L277.78 113.1L277.84 143.9L277.91 118.1L277.97 146.2L278.03 129.4L278.09 147.7L278.15 133.5L278.22 150.9L278.28 136.6L278.34 151L278.4 136.6L278.47 151L278.53 137.5L278.59 151.1L278.65 137.7L278.71 154.9L278.78 139.4L278.84 154.9L278.9 139.4L278.96 154.9L279.03 140.3L279.09 154.9L279.15 142.5L279.21 154.9L279.27 141.8L279.34 154.1L279.4 141.8L279.46 155.7L279.52 141.8L279.59 155.7L279.65 135.1L279.71 155.7L279.77 135.1L279.83 155.7L279.9 135.1L279.96 155.7L280.02 134.1L280.08 149.9L280.15 133.1L280.21 148.8L280.27 132.2L280.33 148.8L280.39 124.8L280.46 148.1L280.52 124.8L280.58 143.5L280.64 124.8L280.71 139.3L280.77 124.8L280.83 140.7L280.89 124.8L280.95 141.2L281.02 128.6L281.08 141.2L281.14 123.7L281.2 141.2L281.27 117.7L281.33 141.2L281.39 115.9L281.45 141.2L281.51 111.5L281.58 133L281.64 110.9L281.7 130L281.76 107.4L281.83 124.5L281.89 104.9L281.95 122.9L282.01 102.7L282.07 122.5L282.14 102.7L282.2 118.5L282.26 102.5L282.32 116.8L282.39 102.5L282.45 116.8L282.51 102.5L282.57 114.7L282.63 101.4L282.7 114.7L282.76 101.4L282.82 114.7L282.88 101.4L282.95 120L283.01 101.4L283.07 120L283.13 101.4L283.2 120L283.26 101.8L283.32 122.3L283.38 108.2L283.44 127.6L283.51 108.2L283.57 134.2L283.63 108.2L283.69 134.2L283.76 114.6L283.82 134.2L283.88 120.1L283.94 143.5L284 123.4L284.07 143.5L284.13 123.4L284.19 143.5L284.25 127.7L284.32 145.1L284.38 129.3L284.44 150L284.5 132.4L284.56 150L284.63 133.8L284.69 150L284.75 135.6L284.81 150.7L284.88 141.5L284.94 155.2L285 141.8L285.06 157L285.12 145.6L285.19 157L285.25 145.6L285.31 160.1L285.37 146.7L285.44 163.7L285.5 148.7L285.56 163.7L285.62 150L285.68 163.7L285.75 151.1L285.81 163.7L285.87 149.8L285.93 163.5L286 139.1L286.06 158.4L286.12 139.1L286.18 154.2L286.24 139L286.31 150.7L286.37 136.2L286.43 147.2L286.49 130.3L286.56 145.3L286.62 127.8L286.68 145.3L286.74 122.5L286.8 141.9L286.87 118.1L286.93 136L286.99 114L287.05 136L287.12 110.8L287.18 130.9L287.24 110.8L287.3 125.8L287.36 110.8L287.43 125.8L287.49 110.8L287.55 125.8L287.61 112.9L287.68 125.8L287.74 105.4L287.8 125.8L287.86 101.1L287.92 122.6L287.99 96.2L288.05 121.2L288.11 94.5L288.17 113.4L288.24 94.5L288.3 111.7L288.36 94.5L288.42 112.1L288.48 94.5L288.55 112.1L288.61 97.5L288.67 112.5L288.73 100.7L288.8 112.5L288.86 96.6L288.92 112.5L288.98 96.6L289.04 114.3L289.11 96.6L289.17 118.2L289.23 96.6L289.29 121.7L289.36 96.6L289.42 125L289.48 102.1L289.54 126.2L289.6 108.9L289.67 131.4L289.73 111L289.79 138.9L289.85 116.9L289.92 139L289.98 116.9L290.04 139L290.1 122.1L290.16 140.2L290.23 126.2L290.29 143.7L290.35 126.2L290.41 144.8L290.48 126.2L290.54 146.9L290.6 130.1L290.66 149L290.73 135.5L290.79 149.3L290.85 135.5L290.91 160.3L290.97 139.4L291.04 160.3L291.1 141.7L291.16 160.3L291.22 144L291.29 160.3L291.35 148.7L291.41 161.8L291.47 150.5L291.53 161.8L291.6 150.5L291.66 161.8L291.72 149.9L291.78 161.8L291.85 147.8L291.91 161.8L291.97 146.9L292.03 161.1L292.09 138.4L292.16 159.6L292.22 138.4L292.28 155.7L292.34 137L292.41 155.7L292.47 133.4L292.53 148.9L292.59 125.9L292.65 147.8L292.72 121L292.78 147.8L292.84 121L292.9 144.1L292.97 116.6L293.03 139.7L293.09 113L293.15 139.7L293.21 103.7L293.28 139.7L293.34 103L293.4 132.5L293.46 98.8L293.53 127.4L293.59 98.8L293.65 121.5L293.71 98.8L293.77 117.9L293.84 98.8L293.9 117.7L293.96 98.8L294.02 121.2L294.09 100.3L294.15 121.2L294.21 99.8L294.27 121.2L294.33 99.8L294.4 121.2L294.46 99.8L294.52 121.2L294.58 99.8L294.65 120.6L294.71 99.8L294.77 120.6L294.83 100.3L294.89 120.6L294.96 101.1L295.02 123.5L295.08 102.7L295.14 123.5L295.21 102.7L295.27 127.1L295.33 105.9L295.39 134.1L295.45 109L295.52 134.1L295.58 109L295.64 136.4L295.7 109L295.77 139.1L295.83 115.7L295.89 142.2L295.95 115.7L296.01 142.3L296.08 122L296.14 144.5L296.2 123.3L296.26 148.2L296.33 126.4L296.39 157.6L296.45 129.7L296.51 158.5L296.57 134.1L296.64 158.5L296.7 136.3L296.76 158.5L296.82 137.9L296.89 158.5L296.95 143.4L297.01 159.3L297.07 143.4L297.13 159.3L297.2 142.8L297.26 159.3L297.32 142.2L297.38 159.3L297.45 140.6L297.51 155.9L297.57 140.6L297.63 155.5L297.69 140.6L297.76 155.5L297.82 137.7L297.88 155L297.94 136.4L298.01 154.2L298.07 134.3L298.13 153.7L298.19 129.5L298.26 153.2L298.32 122L298.38 150.1L298.44 122L298.5 147.2L298.57 120L298.63 146.5L298.69 114.2L298.75 140.4L298.82 114.2L298.88 139.2L298.94 110.6L299 136L299.06 108.2L299.13 133.1L299.19 106.2L299.25 130.1L299.31 106.2L299.38 124.5L299.44 102.4L299.5 122.7L299.56 102.4L299.62 122.7L299.69 102.4L299.75 123.7L299.81 102.4L299.87 123.7L299.94 105.5L300 123.7L300.06 101.2L300.12 123.7L300.18 99.6L300.25 122.2L300.31 98.1L300.37 116.9L300.43 98.1L300.5 116.9L300.56 98.1L300.62 118.9L300.68 98.1L300.74 120.1L300.81 101.4L300.87 122.2L300.93 103.8L300.99 122.6L301.06 104.8L301.12 126.5L301.18 108L301.24 126.5L301.3 110.4L301.37 128.1L301.43 110.4L301.49 128.6L301.55 110.8L301.62 131.6L301.68 113L301.74 131.6L301.8 115.2L301.86 131.6L301.93 116.9L301.99 131.6L302.05 116.9L302.11 130L302.18 116.9L302.24 128.2L302.3 116.9L302.36 130.2L302.42 118.1L302.49 132L302.55 118.1L302.61 134.8L302.67 119.4L302.74 138.4L302.8 121.9L302.86 141.8L302.92 121.9L302.98 146.3L303.05 126.8L303.11 146.3L303.17 128.8L303.23 147.9L303.3 128.8L303.36 151.7L303.42 135.3L303.48 151.7L303.54 135.3L303.61 152.4L303.67 136.2L303.73 152.4L303.79 139.5L303.86 152.4L303.92 139.5L303.98 152.4L304.04 135.8L304.1 152.4L304.17 132.7L304.23 145.5L304.29 126.2L304.35 144.9L304.42 119.8L304.48 142.6L304.54 119.4L304.6 139L304.66 117.9L304.73 134.7L304.79 117.9L304.85 134.7L304.91 117.9L304.98 129.6L305.04 115.6L305.1 126.3L305.16 111.1L305.22 126.3L305.29 109.9L305.35 126.3L305.41 108.8L305.47 125L305.54 107.2L305.6 122.3L305.66 105.4L305.72 120.3L305.79 103L305.85 120.3L305.91 103L305.97 115.5L306.03 99.3L306.1 114L306.16 99.3L306.22 118.2L306.28 99.3L306.35 120.6L306.41 99.3L306.47 123.1L306.53 99.3L306.59 123.7L306.66 105.8L306.72 126L306.78 108.1L306.84 126L306.91 111L306.97 126L307.03 105.7L307.09 126L307.15 105.7L307.22 128.4L307.28 105.7L307.34 137L307.4 105.7L307.47 137L307.53 105.7L307.59 137L307.65 114.2L307.71 137L307.78 122.3L307.84 138.8L307.9 125.2L307.96 138.8L308.03 125.2L308.09 145.1L308.15 125.2L308.21 147.6L308.27 127.4L308.34 147.6L308.4 127.4L308.46 147.6L308.52 132.4L308.59 147.6L308.65 132.4L308.71 147.1L308.77 132.4L308.83 156.2L308.9 132.4L308.96 161.1L309.02 137.8L309.08 161.1L309.15 138.4L309.21 161.1L309.27 143.9L309.33 161.1L309.39 146.2L309.46 161.1L309.52 141.9L309.58 158.6L309.64 139.8L309.71 154.9L309.77 134.7L309.83 150.1L309.89 134.7L309.95 146.3L310.02 134.3L310.08 146L310.14 133.1L310.2 144.2L310.27 133.1L310.33 144.2L310.39 127.6L310.45 144.2L310.51 125.7L310.58 144.2L310.64 124.8L310.7 142.7L310.76 119.7L310.83 137.6L310.89 119.7L310.95 132.9L311.01 119.2L311.07 132.9L311.14 118.8L311.2 132.9L311.26 110.4L311.32 132.9L311.39 110.1L311.45 129L311.51 103.2L311.57 126.6L311.63 103.2L311.7 120.9L311.76 103.2L311.82 120.9L311.88 102.3L311.95 117.6L312.01 100.4L312.07 117.6L312.13 100.4L312.19 117.6L312.26 96.4L312.32 115.5L312.38 96.4L312.44 113.3L312.51 96.4L312.57 111.2L312.63 96.4L312.69 115.1L312.75 96.7L312.82 115.4L312.88 96.7L312.94 118.7L313 100L313.07 118.7L313.13 104.4L313.19 124.8L313.25 105.9L313.31 129.3L313.38 105.9L313.44 131L313.5 109.9L313.56 138.3L313.63 114.9L313.69 138.3L313.75 120.7L313.81 138.3L313.88 121.9L313.94 139.2L314 125L314.06 140.1L314.12 125L314.19 146.5L314.25 126.2L314.31 146.8L314.37 130.7L314.44 146.8L314.5 130.7L314.56 147.5L314.62 132.2L314.68 154.5L314.75 135.6L314.81 162.1L314.87 137.6L314.93 162.1L315 137.6L315.06 162.1L315.12 142.1L315.18 162.1L315.24 142.1L315.31 159.5L315.37 142.1L315.43 154L315.49 141.6L315.56 154L315.62 141.6L315.68 154L315.74 141.6L315.8 153.1L315.87 138.5L315.93 148.9L315.99 133.3L316.05 147.9L316.12 131.4L316.18 147.9L316.24 128.4L316.3 143.7L316.36 127.4L316.43 140.9L316.49 126.8L316.55 140.9L316.61 124.8L316.68 135.8L316.74 118.1L316.8 132.8L316.86 113.2L316.92 131.9L316.99 107.8L317.05 127.4L317.11 107.6L317.17 124L317.24 107.6L317.3 117.1L317.36 107.6L317.42 114.9L317.48 107.6L317.55 114.9L317.61 107.6L317.67 114.9L317.73 107.3L317.8 114.9L317.86 107.3L317.92 118L317.98 107.3L318.04 118L318.11 106.9L318.17 118L318.23 98.6L318.29 118L318.36 98.6L318.42 110.6L318.48 98.6L318.54 113.1L318.6 98.6L318.67 118.1L318.73 98.6L318.79 124.6L318.85 105.1L318.92 124.6L318.98 110.2L319.04 126.9L319.1 116.9L319.16 126.9L319.23 115.4L319.29 126.9L319.35 115.4L319.41 127.3L319.48 115.4L319.54 131.4L319.6 115.4L319.66 131.4L319.72 118.8L319.79 136.3L319.85 118.9L319.91 144.1L319.97 123.3L320.04 145.5L320.1 123.3L320.16 146.7L320.22 126.5L320.28 147.3L320.35 128.6L320.41 147.8L320.47 136.4L320.53 150.9L320.6 137L320.66 155.9L320.72 139.6L320.78 155.9L320.84 139.8L320.91 157.5L320.97 142.4L321.03 157.5L321.09 143.8L321.16 157.5L321.22 141.2L321.28 157.5L321.34 141.2L321.41 152.9L321.47 141L321.53 154.7L321.59 141L321.65 154.7L321.72 141L321.78 154.7L321.84 141L321.9 154.7L321.97 133.1L322.03 154.7L322.09 129.3L322.15 148.8L322.21 125.7L322.28 148.4L322.34 125.7L322.4 144.9L322.46 125.7L322.53 142.1L322.59 125.7L322.65 142.1L322.71 126.7L322.77 142.1L322.84 116.7L322.9 142.1L322.96 116.7L323.02 142.1L323.09 116.7L323.15 137.7L323.21 116.1L323.27 130.9L323.33 111.4L323.4 130.9L323.46 105.6L323.52 128.5L323.58 100L323.65 125.9L323.71 98.6L323.77 121L323.83 98.6L323.89 114.5L323.96 98.6L324.02 111.1L324.08 98.6L324.14 111.1L324.21 98.6L324.27 111.1L324.33 101.2L324.39 114.1L324.45 101.2L324.52 114.7L324.58 102.1L324.64 114.7L324.7 103.5L324.77 114.7L324.83 104.6L324.89 115.7L324.95 104.6L325.01 121.3L325.08 104.6L325.14 127.1L325.2 105.8L325.26 127.1L325.33 106L325.39 129.8L325.45 110.5L325.51 138.3L325.57 114.1L325.64 138.3L325.7 114.1L325.76 143.2L325.82 114.1L325.89 143.2L325.95 127L326.01 143.2L326.07 130.4L326.13 143.2L326.2 130.4L326.26 147L326.32 130.4L326.38 153L326.45 130.4L326.51 153L326.57 130.4L326.63 158.7L326.69 137L326.76 158.7L326.82 140.2L326.88 158.7L326.94 141.6L327.01 158.7L327.07 144.7L327.13 158.7L327.19 144.7L327.25 158.9L327.32 144.7L327.38 158.9L327.44 144.8L327.5 158.9L327.57 139L327.63 158.9L327.69 135.7L327.75 155.3L327.81 134.7L327.88 153.7L327.94 130.7L328 153.7L328.06 130.7L328.13 147.3L328.19 130.7L328.25 146.7L328.31 130.7L328.37 146.7L328.44 130.1L328.5 146.7L328.56 128.2L328.62 146.3L328.69 123.4L328.75 143L328.81 116.8L328.87 141.2L328.94 116.8L329 137L329.06 115L329.12 137L329.18 110.7L329.25 132.2L329.31 109.4L329.37 127.8L329.43 101.4L329.5 127.8L329.56 101L329.62 124.4L329.68 96.1L329.74 123.8L329.81 95.7L329.87 111.6L329.93 95.7L329.99 110.8L330.06 95.7L330.12 114.8L330.18 95.7L330.24 117.6L330.3 95.7L330.37 117.6L330.43 99L330.49 117.6L330.55 102.2L330.62 117.6L330.68 108L330.74 117.4L330.8 108L330.86 122.3L330.93 108L330.99 126.5L331.05 108L331.11 128L331.18 108L331.24 128.8L331.3 114.8L331.36 132L331.42 122.5L331.49 132.2L331.55 123.7L331.61 135.9L331.67 123.7L331.74 135.9L331.8 126.7L331.86 136.9L331.92 128.9L331.98 139L332.05 128.9L332.11 139L332.17 133.1L332.23 139L332.3 134L332.36 146.9L332.42 134L332.48 149.4L332.54 134L332.61 158.6L332.67 135.9L332.73 158.6L332.79 142.1L332.86 158.6L332.92 148.1L332.98 158.6L333.04 150.3L333.1 158.6L333.17 149.2L333.23 153.5L333.29 143.1L333.35 153.5L333.42 140.3L333.48 152.1L333.54 139.4L333.6 151.4L333.66 137.5L333.73 146.8L333.79 133.2L333.85 142.4L333.91 132L333.98 142.4L334.04 132L334.1 141.3L334.16 132L334.22 139.6L334.29 129.1L334.35 137.9L334.41 122.6L334.47 137.9L334.54 117.3L334.6 137.9L334.66 116.4L334.72 137.9L334.78 112.5L334.85 126L334.91 111.1L334.97 123.1L335.03 110.4L335.1 121L335.16 110.4L335.22 120.9L335.28 108.5L335.34 120.9L335.41 104.2L335.47 120.6L335.53 104.2L335.59 120.6L335.66 102.2L335.72 120.6L335.78 102.2L335.84 118.8L335.9 102.2L335.97 123.3L336.03 102.2L336.09 123.3L336.15 103.9L336.22 123.3L336.28 107.3L336.34 127.4L336.4 108.5L336.47 127.6L336.53 111.2L336.59 136.3L336.65 113.1L336.71 136.3L336.78 120.8L336.84 136.3L336.9 121.2L336.96 137.9L337.03 122.1L337.09 137.9L337.15 122.1L337.21 139.8L337.27 124.8L337.34 139.8L337.4 127.1L337.46 140.9L337.52 128.5L337.59 142.5L337.65 128.5L337.71 144.1L337.77 131.4L337.83 150.4L337.9 132.4L337.96 151.3L338.02 134L338.08 152.7L338.15 134.8L338.21 158.7L338.27 139.2L338.33 159.6L338.39 141.2L338.46 159.6L338.52 143.7L338.58 159.6L338.64 144.5L338.71 159.6L338.77 142.1L338.83 159.6L338.89 142.1L338.95 157.7L339.02 142.1L339.08 157.7L339.14 142.1L339.2 156.4L339.27 142.2L339.33 156.8L339.39 139.4L339.45 156.8L339.51 134.1L339.58 156.8L339.64 134.1L339.7 156.8L339.76 131.2L339.83 152.4L339.89 129L339.95 147.3L340.01 129L340.07 147.3L340.14 129L340.2 147.3L340.26 129L340.32 146L340.39 123.6L340.45 146L340.51 120.1L340.57 145.5L340.63 120.1L340.7 140.5L340.76 113.6L340.82 137.7L340.88 111.3L340.95 133.1L341.01 107L341.07 132.1L341.13 103.3L341.19 128.8L341.26 103.3L341.32 124.3L341.38 101.4L341.44 122.6L341.51 101.4L341.57 118.9L341.63 101.4L341.69 122.2L341.75 101.4L341.82 122.2L341.88 103.6L341.94 122.2L342 103.6L342.07 122.2L342.13 105.9L342.19 121.4L342.25 100.3L342.31 121.4L342.38 100.3L342.44 123L342.5 100.3L342.56 123L342.63 100.3L342.69 124.4L342.75 100.3L342.81 125.1L342.87 107.1L342.94 130.5L343 107.1L343.06 130.8L343.12 109.6L343.19 135.1L343.25 110.7L343.31 139.2L343.37 111.9L343.43 139.8L343.5 116.2L343.56 139.8L343.62 120.4L343.68 141.4L343.75 123.3L343.81 145.5L343.87 128.8L343.93 150.3L343.99 129.9L344.06 151L344.12 129.9L344.18 154.5L344.24 137.6L344.31 160.2L344.37 137.7L344.43 164L344.49 143.5L344.56 164L344.62 143.5L344.68 164L344.74 151.4L344.8 164L344.87 147.8L344.93 164L344.99 144L345.05 160.3L345.12 141.6L345.18 159.7L345.24 141.6L345.3 156.3L345.36 140.5L345.43 152.1L345.49 140.3L345.55 150.7L345.61 138.6L345.68 150.7L345.74 138.6L345.8 147.6L345.86 138.6L345.92 147.6L345.99 136.3L346.05 145.9L346.11 131.2L346.17 145.9L346.24 124.9L346.3 143.9L346.36 122.2L346.42 142.9L346.48 118L346.55 142.9L346.61 118L346.67 135.8L346.73 116.8L346.8 133.9L346.86 113.2L346.92 125.3L346.98 113.2L347.04 125.3L347.11 112.7L347.17 124.9L347.23 108.2L347.29 124.9L347.36 107.3L347.42 124.9L347.48 105.2L347.54 122.3L347.6 102.9L347.67 118.4L347.73 102.9L347.79 115.6L347.85 102.9L347.92 115L347.98 102.9L348.04 118.3L348.1 102.9L348.16 118.3L348.23 107.1L348.29 124.7L348.35 107.6L348.41 131.8L348.48 110.6L348.54 133.7L348.6 110.6L348.66 138.2L348.72 118.3L348.79 139.1L348.85 120.1L348.91 139.1L348.97 124.5L349.04 139.1L349.1 127.2L349.16 139.1L349.22 127.2L349.28 140.8L349.35 127.2L349.41 140.8L349.47 127.2L349.53 143.2L349.6 128.1L349.66 143.2L349.72 132L349.78 146.3L349.84 132L349.91 153.6L349.97 132.8L350.03 153.6L350.09 132.8L350.16 156.6L350.22 137.4L350.28 156.6L350.34 137.7L350.4 156.6L350.47 139.1L350.53 156.6L350.59 136.1L350.65 156.6L350.72 136.1L350.78 155.7L350.84 136.1L350.9 157.2L350.96 136.1L351.03 157.2L351.09 136.1L351.15 157.2L351.21 140.4L351.28 157.2L351.34 141.8L351.4 155.3L351.46 140.2L351.52 154.9L351.59 130.3L351.65 154.9L351.71 130.3L351.77 150.8L351.84 125.9L351.9 150.6L351.96 125.9L352.02 145.3L352.09 123.4L352.15 145.3L352.21 123.4L352.27 138.9L352.33 123.4L352.4 136L352.46 123.4L352.52 138.4L352.58 123.4L352.65 138.4L352.71 124.9L352.77 138.4L352.83 123.8L352.89 138.4L352.96 113L353.02 137.6L353.08 111.3L353.14 133.6L353.21 111.3L353.27 132.7L353.33 111.3L353.39 128.6L353.45 111.3L353.52 128.6L353.58 112.7L353.64 128.6L353.7 107.3L353.77 126L353.83 105.1L353.89 121.5L353.95 105.1L354.01 121.5L354.08 97.1L354.14 117.7L354.2 97.1L354.26 112.9L354.33 97.1L354.39 112.9L354.45 97.1L354.51 119.3L354.57 97.1L354.64 119.5L354.7 98.3L354.76 119.5L354.82 103.7L354.89 119.5L354.95 105.6L355.01 130.3L355.07 105.6L355.13 130.3L355.2 105.6L355.26 130.3L355.32 107L355.38 130.3L355.45 115.2L355.51 136.2L355.57 116.6L355.63 139.3L355.69 116.6L355.76 139.3L355.82 121.6L355.88 143.4L355.94 133.4L356.01 144.1L356.07 133.4L356.13 146.5L356.19 133.4L356.25 146.5L356.32 134.1L356.38 146.5L356.44 134.1L356.5 152.8L356.57 134.1L356.63 156.6L356.69 134.1L356.75 159.5L356.81 142L356.88 159.6L356.94 144.4L357 159.6L357.06 146.9L357.13 159.6L357.19 146.8L357.25 159.6L357.31 146.8L357.37 158.2L357.44 146.8L357.5 157.7L357.56 141.4L357.62 157.7L357.69 137.1L357.75 157.7L357.81 137.1L357.87 157.7L357.93 132.7L358 153.3L358.06 129.8L358.12 146.8L358.18 128.3L358.25 144.9L358.31 125.9L358.37 142.9L358.43 121.7L358.49 142.9L358.56 121.7L358.62 137L358.68 114L358.74 136L358.81 107.9L358.87 136L358.93 107.9L358.99 136L359.05 107.9L359.12 131L359.18 107.9L359.24 122.9L359.3 107.9L359.37 122.9L359.43 104.5L359.49 122.9L359.55 103.8L359.62 122.9L359.68 103.8L359.74 121.8L359.8 103.8L359.86 121.2L359.93 100.1L359.99 121.2L360.05 100.1L360.11 121.2L360.18 99.6L360.24 120.4L360.3 99.6L360.36 117.6L360.42 99.1L360.49 117.6L360.55 99.1L360.61 117.6L360.67 99.1L360.74 114.8L360.8 98.1L360.86 114.8L360.92 98.1L360.98 117L361.05 98.1L361.11 121.3L361.17 98.1L361.23 121.9L361.3 98.1L361.36 130L361.42 105.8L361.48 131.5L361.54 109.9L361.61 131.5L361.67 113.6L361.73 133.1L361.79 117.8L361.86 135.6L361.92 117.8L361.98 139.9L362.04 117.8L362.1 140L362.17 117.8L362.23 143.8L362.29 124.8L362.35 143.8L362.42 127.9L362.48 143.8L362.54 129L362.6 152.1L362.66 129.2L362.73 153.2L362.79 129.2L362.85 157.3L362.91 129.2L362.98 157.3L363.04 138.4L363.1 157.3L363.16 144.8L363.22 160.4L363.29 147.2L363.35 160.4L363.41 147.2L363.47 160.4L363.54 147.2L363.6 160.4L363.66 147.2L363.72 160.4L363.78 150L363.85 157.9L363.91 147.1L363.97 156L364.03 140.3L364.1 156L364.16 135.6L364.22 154L364.28 133.3L364.34 153.3L364.41 129.8L364.47 148.2L364.53 129.8L364.59 141.8L364.66 129.8L364.72 141.8L364.78 129.8L364.84 141.2L364.9 130.4L364.97 141.2L365.03 130.4L365.09 141.1L365.15 131L365.22 141.1L365.28 121.7L365.34 141L365.4 120.1L365.46 138.4L365.53 115.6L365.59 137.2L365.65 112.9L365.71 133.7L365.78 110.9L365.84 129.8L365.9 107.7L365.96 124.9L366.02 107.7L366.09 120.5L366.15 106.5L366.21 118.7L366.27 102.3L366.34 117.8L366.4 102.3L366.46 117.1L366.52 102.3L366.58 117.6L366.65 102.3L366.71 117.6L366.77 102L366.83 117.6L366.9 100.3L366.96 117.6L367.02 100.3L367.08 117.1L367.15 100.3L367.21 118.2L367.27 100.3L367.33 125.1L367.39 100.3L367.46 130.4L367.52 108.3L367.58 138.8L367.64 108.6L367.71 144.6L367.77 113.3L367.83 148.4L367.89 115.6L367.95 150.9L368.02 123.5L368.08 150.9L368.14 133.4L368.2 150.9L368.27 133.4L368.33 150.9L368.39 133.4L368.45 149.3L368.51 133.4L368.58 156.7L368.64 136.1L368.7 157.9L368.76 136.1L368.83 158.9L368.89 139.1L368.95 158.9L369.01 141.7L369.07 158.9L369.14 138.6L369.2 158.9L369.26 135.5L369.32 155L369.39 130.9L369.45 154.9L369.51 125L369.57 153.5L369.63 125L369.7 148L369.76 125L369.82 146.5L369.88 125L369.95 142.3L370.01 120.3L370.07 142.3L370.13 120.3L370.19 139.6L370.26 116.6L370.32 138.1L370.38 108.9L370.44 136.6L370.51 105.2L370.57 135.2L370.63 105.2L370.69 133.1L370.75 103.6L370.82 127.7L370.88 103.6L370.94 120.9L371 101.5L371.07 120.9L371.13 100.9L371.19 120.9L371.25 100.9L371.31 120.9L371.38 100.9L371.44 119.5L371.5 100.9L371.56 119.5L371.63 95.7L371.69 119.5L371.75 95.7L371.81 121L371.87 95.7L371.94 121L372 95.7L372.06 125.3L372.12 99.2L372.19 125.6L372.25 104.2L372.31 126L372.37 106.4L372.43 126.4L372.5 107.7L372.56 128.7L372.62 107.7L372.68 131.1L372.75 107.7L372.81 131.6L372.87 109L372.93 131.8L372.99 112.2L373.06 131.8L373.12 112.2L373.18 133.6L373.24 112.2L373.31 135.4L373.37 112.2L373.43 137.4L373.49 112.2L373.55 137.4L373.62 116.4L373.68 140.2L373.74 118.6L373.8 140.6L373.87 118.6L373.93 145.4L373.99 123.9L374.05 148.9L374.11 125.6L374.18 150.4L374.24 126.9L374.3 150.4L374.36 131.6L374.43 153.1L374.49 132.7L374.55 158.2L374.61 134.9L374.68 158.2L374.74 136.7L374.8 161.1L374.86 141.1L374.92 161.1L374.99 141.1L375.05 161.1L375.11 139.1L375.17 161.1L375.24 139.1L375.3 161.1L375.36 139.1L375.42 157.2L375.48 139.1L375.55 156.3L375.61 135.1L375.67 156.3L375.73 135.1L375.8 156.3L375.86 130.5L375.92 154.8L375.98 129.5L376.04 149.3L376.11 126.6L376.17 144.6L376.23 125.2L376.29 141.4L376.36 124.2L376.42 141.3L376.48 124.2L376.54 141.3L376.6 117.6L376.67 136.8L376.73 115.1L376.79 136.3L376.85 115.1L376.92 136.3L376.98 114.4L377.04 131L377.1 109.2L377.16 125L377.23 108.4L377.29 125L377.35 105.2L377.41 122.5L377.48 97.6L377.54 118L377.6 97.6L377.66 117.2L377.72 94.5L377.79 112.9L377.85 94.5L377.91 111.5L377.97 94.5L378.04 110.7L378.1 94.5L378.16 110.7L378.22 94.5L378.28 113L378.35 99.5L378.41 115.1L378.47 102.6L378.53 121.5L378.6 104.2L378.66 129.4L378.72 104.2L378.78 129.4L378.84 105.6L378.91 129.4L378.97 111.4L379.03 130.7L379.09 116.4L379.16 138.3L379.22 117.8L379.28 145.7L379.34 120.6L379.4 145.7L379.47 121.5L379.53 145.7L379.59 127.9L379.65 145.7L379.72 131.2L379.78 147.2L379.84 131.2L379.9 149.7L379.96 131.2L380.03 149.9L380.09 135.1L380.15 149.9L380.21 135.2L380.28 153L380.34 138.6L380.4 154.9L380.46 138.6L380.52 154.9L380.59 138.6L380.65 155.3L380.71 139.5L380.77 155.3L380.84 138.3L380.9 155.3L380.96 135.6L381.02 155.3L381.08 129.7L381.15 155.3L381.21 129.7L381.27 151.2L381.33 129.7L381.4 150.3L381.46 129.7L381.52 148.1L381.58 131.5L381.64 148.1L381.71 125.8L381.77 146.1L381.83 122.8L381.89 146.1L381.96 122.8L382.02 146.1L382.08 122.8L382.14 139L382.2 122.8L382.27 137.4L382.33 124.9L382.39 139.5L382.45 121.4L382.52 139.5L382.58 119L382.64 139.5L382.7 117.6L382.77 139.5L382.83 109.1L382.89 135.4L382.95 105L383.01 131L383.08 103.3L383.14 123.7L383.2 103.2L383.26 123.2L383.33 99.7L383.39 116.4L383.45 99.7L383.51 116.4L383.57 98L383.64 116.4L383.7 98L383.76 113.1L383.82 98L383.89 111.4L383.95 96.7L384.01 111.4L384.07 96.7L384.13 113.9L384.2 96.7L384.26 120.6L384.32 96.7L384.38 120.6L384.45 98.9L384.51 120.6L384.57 105.7L384.63 120.6L384.69 104.6L384.76 120.6L384.82 104.6L384.88 123.2L384.94 104.6L385.01 124.9L385.07 104.6L385.13 126.3L385.19 104.6L385.25 128.6L385.32 113.5L385.38 128.6L385.44 114.3L385.5 128.6L385.57 121L385.63 134.8L385.69 121.3L385.75 139L385.81 121.3L385.88 139.6L385.94 121.5L386 139.7L386.06 127.2L386.13 144.8L386.19 129.7L386.25 144.8L386.31 132.2L386.37 144.8L386.44 132.2L386.5 144.8L386.56 135L386.62 150.4L386.69 135L386.75 157.7L386.81 140.4L386.87 157.9L386.93 142.3L387 161.4L387.06 148.5L387.12 161.4L387.18 146.1L387.25 161.4L387.31 146.1L387.37 161.4L387.43 146.1L387.49 154.3L387.56 145.4L387.62 151.2L387.68 139.6L387.74 151.2L387.81 134.2L387.87 151.2L387.93 130.3L387.99 149.4L388.05 129.6L388.12 144.9L388.18 129.6L388.24 138.3L388.3 126.9L388.37 136.1L388.43 125L388.49 136.1L388.55 120.4L388.61 136.1L388.68 117.8L388.74 133.2L388.8 109.9L388.86 130.5L388.93 108.8L388.99 125.1L389.05 108.8L389.11 123.2L389.17 108.8L389.24 117.3L389.3 108.8L389.36 117.3L389.42 109.6L389.49 117.3L389.55 100.3L389.61 117.3L389.67 97.1L389.73 115.8L389.8 97.1L389.86 116.6L389.92 97.1L389.98 116.6L390.05 97.1L390.11 116.6L390.17 97.1L390.23 116.6L390.3 104.9L390.36 116.6L390.42 104.9L390.48 122.4L390.54 106.9L390.61 124.3L390.67 108.2L390.73 126.6L390.79 108.2L390.86 126.6L390.92 114.3L390.98 129.8L391.04 114.3L391.1 131.3L391.17 115.4L391.23 131.3L391.29 115.4L391.35 135.6L391.42 119L391.48 140L391.54 122.8L391.6 146.6L391.66 122.9L391.73 151.4L391.79 126.2L391.85 152.8L391.91 130.5L391.98 154.2L392.04 130.5L392.1 156.5L392.16 140.9L392.22 163.6L392.29 141.2L392.35 163.6L392.41 143.1L392.47 163.6L392.54 143.8L392.6 163.7L392.66 144L392.72 163.7L392.78 144L392.85 165.4L392.91 144L392.97 165.4L393.03 144L393.1 165.4L393.16 141L393.22 165.4L393.28 141L393.34 165.4L393.41 141L393.47 161L393.53 141L393.59 161L393.66 141.1L393.72 161L393.78 137.1L393.84 160L393.9 137.1L393.97 156.5L394.03 135.8L394.09 153.6L394.15 133.2L394.22 153.6L394.28 126.7L394.34 153.6L394.4 120.2L394.46 151.3L394.53 120.2L394.59 150.4L394.65 119.3L394.71 150.4L394.78 115.3L394.84 138L394.9 110.9L394.96 138L395.02 110.9L395.09 137.1L395.15 109.7L395.21 131.7L395.27 105.9L395.34 131.7L395.4 101.2L395.46 131.7L395.52 100.7L395.58 129L395.65 100.7L395.71 124.3L395.77 100.7L395.83 124.3L395.9 100.6L395.96 124.3L396.02 100.6L396.08 124.3L396.14 99.6L396.21 125.5L396.27 99.6L396.33 125.5L396.39 99.6L396.46 125.5L396.52 99.6L396.58 128.8L396.64 99.6L396.7 129.3L396.77 103.4L396.83 132.3L396.89 104.5L396.95 135.5L397.02 112.2L397.08 140.4L397.14 112.2L397.2 144.3L397.26 117.2L397.33 144.3L397.39 120.9L397.45 148L397.51 120.9L397.58 148.8L397.64 124.2L397.7 149.2L397.76 127.5L397.83 151.7L397.89 131.1L397.95 151.7L398.01 131.1L398.07 151.7L398.14 135.2L398.2 151.7L398.26 137.7L398.32 151.7L398.39 136.2L398.45 150.9L398.51 136.2L398.57 158.3L398.63 136.2L398.7 159.2L398.76 136.2L398.82 159.2L398.88 138.1L398.95 159.2L399.01 140.1L399.07 159.2L399.13 140.1L399.19 157.6L399.26 132.1L399.32 156.4L399.38 129.5L399.44 152.8L399.51 126.8L399.57 151.9L399.63 125.8L399.69 144.6L399.75 125.7L399.82 141.7L399.88 125.7L399.94 141.1L400 125.7L400.07 141.1L400.13 120.7L400.19 137.6L400.25 120.7L400.31 137.6L400.38 116.8L400.44 134.9L400.5 114.5L400.56 134L400.63 114.3L400.69 132.9L400.75 114.3L400.81 130.8L400.87 114.3L400.94 130L401 114.3L401.06 130L401.12 106L401.19 130L401.25 101.4L401.31 127.5L401.37 99.9L401.43 127.5L401.5 98.8L401.56 121.2L401.62 94.5L401.68 115.5L401.75 94.5L401.81 113.9L401.87 94.5L401.93 113.3L401.99 94.5L402.06 116.9L402.12 94.5L402.18 116.9L402.24 95.8L402.31 116.9L402.37 95.8L402.43 116.9L402.49 96.3L402.55 116.2L402.62 96.3L402.68 119.8L402.74 96.3L402.8 121.8L402.87 99.2L402.93 128.6L402.99 100.2L403.05 135.4L403.11 109.3L403.18 135.4L403.24 111.2L403.3 135.4L403.36 117L403.43 135.4L403.49 117.8L403.55 137.7L403.61 117.8L403.67 139.6L403.74 117.8L403.8 141.9L403.86 119.5L403.92 141.9L403.99 127.6L404.05 149.5L404.11 128.6L404.17 151.9L404.23 129.6L404.3 152L404.36 129.6L404.42 157.5L404.48 137.8L404.55 157.5L404.61 137.6L404.67 157.5L404.73 133.8L404.79 157.5L404.86 133.8L404.92 155.5L404.98 133.8L405.04 148.9L405.11 133.1L405.17 148.8L405.23 129.3L405.29 148.8L405.36 121.8L405.42 145L405.48 121.8L405.54 140.5L405.6 121.8L405.67 139.2L405.73 121.8L405.79 134.9L405.85 121.8L405.92 134.8L405.98 122.4L406.04 134.8L406.1 122.4L406.16 134.8L406.23 119.3L406.29 133.6L406.35 116.6L406.41 133.6L406.48 116.6L406.54 131.6L406.6 112.8L406.66 128.5L406.72 105.4L406.79 126.5L406.85 104.7L406.91 124.3L406.97 101L407.04 122.3L407.1 94.9L407.16 116.2L407.22 94.9L407.28 114.7L407.35 94.3L407.41 114.7L407.47 94.2L407.53 104.3L407.6 94.2L407.66 108.3L407.72 94.2L407.78 110.3L407.84 94.2L407.91 111.3L407.97 94.3L408.03 117.8L408.09 94.3L408.16 119.8L408.22 102L408.28 121.9L408.34 102L408.4 124.1L408.47 109.7L408.53 130.8L408.59 110.6L408.65 140.3L408.72 113.5L408.78 140.3L408.84 116L408.9 140.3L408.96 118.5L409.03 140.3L409.09 126.9L409.15 140.3L409.21 126.9L409.28 141L409.34 127.3L409.4 145.8L409.46 127.8L409.52 148.2L409.59 127.8L409.65 148.2L409.71 132.3L409.77 148.2L409.84 132.3L409.9 148.3L409.96 132.3L410.02 149L410.08 132.3L410.15 149L410.21 136.2L410.27 152.7L410.33 137.3L410.4 158.9L410.46 137.3L410.52 158.9L410.58 137.3L410.64 158.9L410.71 144.2L410.77 158.9L410.83 144.6L410.89 158.9L410.96 145.2L411.02 158.9L411.08 145.2L411.14 160.4L411.2 145.2L411.27 160.4L411.33 145.2L411.39 160.4L411.45 139.7L411.52 160.4L411.58 133.4L411.64 160L411.7 130.8L411.76 159.4L411.83 124.8L411.89 151.9L411.95 120.6L412.01 147.4L412.08 116.4L412.14 138.8L412.2 116.4L412.26 136.8L412.32 116.4L412.39 136.8L412.45 112.1L412.51 128.9L412.57 109.2L412.64 128.9L412.7 109.2L412.76 128.7L412.82 109.2L412.88 122.1L412.95 104.7L413.01 117.8L413.07 104.7L413.13 117.8L413.2 104.6L413.26 116.5L413.32 98.6L413.38 115.2L413.45 98.6L413.51 115.6L413.57 98.6L413.63 115.6L413.69 98.6L413.76 115.6L413.82 98.6L413.88 115.6L413.94 103.1L414.01 115.6L414.07 103.8L414.13 121.7L414.19 103.8L414.25 124.4L414.32 103.8L414.38 130L414.44 105.6L414.5 132.8L414.57 111L414.63 138.5L414.69 113L414.75 142L414.81 120.1L414.88 142.1L414.94 120.3L415 152.3L415.06 122.4L415.13 156.2L415.19 130.4L415.25 156.2L415.31 134.1L415.37 156.2L415.44 137.9L415.5 156.5L415.56 140L415.62 156.5L415.69 140L415.75 157.7L415.81 140.2L415.87 160.6L415.93 140.2L416 160.6L416.06 140.2L416.12 160.6L416.18 143.8L416.25 162.5L416.31 145L416.37 162.5L416.43 143.1L416.49 162.5L416.56 143.1L416.62 162.5L416.68 139.8L416.74 159.5L416.81 139.8L416.87 159.5L416.93 139.8L416.99 157.1L417.05 136.5L417.12 155.2L417.18 133.8L417.24 152.1L417.3 133.3L417.37 149.5L417.43 131.3L417.49 145.3L417.55 130.2L417.61 142.5L417.68 128.1L417.74 140L417.8 128.1L417.86 140.9L417.93 128.1L417.99 141.2L418.05 124.4L418.11 141.2L418.17 124.2L418.24 141.2L418.3 124.1L418.36 141.2L418.42 121.4L418.49 136.7L418.55 121.4L418.61 136.7L418.67 121.4L418.73 135.5L418.8 121.4L418.86 135.5L418.92 122.6L418.98 135.1L419.05 116.3L419.11 130.3L419.17 114.2L419.23 129.4L419.29 114.2L419.36 128.5L419.42 114.2L419.48 123.7L419.54 108.1L419.61 122.9L419.67 102.4L419.73 122.9L419.79 102.4L419.85 121L419.92 102.4L419.98 119.3L420.04 102.4L420.1 124.7L420.17 102.4L420.23 126.9L420.29 110L420.35 126.9L420.41 111.9L420.48 126.9L420.54 116.4L420.6 132.2L420.66 116.7L420.73 139L420.79 116.7L420.85 139L420.91 118.7L420.98 139.5L421.04 118.7L421.1 147.5L421.16 125.5L421.22 147.5L421.29 125.5L421.35 147.5L421.41 130.2L421.47 147.5L421.54 133L421.6 146.9L421.66 133L421.72 150.6L421.78 133L421.85 154L421.91 134.9L421.97 156.2L422.03 136.6L422.1 158L422.16 139.6L422.22 158L422.28 140.5L422.34 158L422.41 140L422.47 158L422.53 138.5L422.59 158L422.66 135.3L422.72 154.8L422.78 135.3L422.84 158L422.9 135.3L422.97 158L423.03 135.3L423.09 158L423.15 139.1L423.22 159.3L423.28 142.7L423.34 159.3L423.4 142.7L423.46 159.3L423.53 144.2L423.59 159.3L423.65 144.2L423.71 158.4L423.78 143L423.84 157.3L423.9 134L423.96 157.3L424.02 130.5L424.09 153.9L424.15 130.5L424.21 153.9L424.27 130.5L424.34 145.3L424.4 125.5L424.46 143.1L424.52 122.3L424.58 143.1L424.65 120.7L424.71 139.2L424.77 116.8L424.83 133.9L424.9 116.8L424.96 129.6L425.02 111.5L425.08 128L425.14 111.5L425.21 128L425.27 105.3L425.33 125.4L425.39 105.3L425.46 120.9L425.52 105.3L425.58 116.3L425.64 100L425.7 116.1L425.77 100L425.83 113.8L425.89 100L425.95 120.9L426.02 100L426.08 120.9L426.14 104.3L426.2 120.9L426.26 107.7L426.33 120.9L426.39 107.7L426.45 119.7L426.51 107.7L426.58 124.1L426.64 107.7L426.7 131.2L426.76 109L426.82 139.2L426.89 112.4L426.95 139.2L427.01 116.7L427.07 139.2L427.14 119.3L427.2 139.2L427.26 127.4L427.32 142.7L427.38 130.6L427.45 142.7L427.51 130.6L427.57 142.7L427.63 130.6L427.7 142.7L427.76 133.4L427.82 143.3L427.88 133.4L427.94 150.8L428.01 133.4L428.07 151.8L428.13 133.4L428.19 153L428.26 135.3L428.32 153.3L428.38 141.4L428.44 158.2L428.51 142.4L428.57 158.2L428.63 141.3L428.69 158.2L428.75 140.2L428.82 158.2L428.88 138.7L428.94 158.2L429 137.6L429.07 152.7L429.13 136.2L429.19 151L429.25 129.8L429.31 150.8L429.38 127L429.44 146.4L429.5 120.5L429.56 145.3L429.63 118L429.69 142.8L429.75 118L429.81 135.2L429.87 115.3L429.94 129.9L430 115.3L430.06 129.9L430.12 113.7L430.19 129.9L430.25 106.3L430.31 129.9L430.37 106.3L430.43 129.9L430.5 106.3L430.56 127.1L430.62 101.8L430.68 121.2L430.75 101.8L430.81 121.2L430.87 101.8L430.93 121.2L430.99 101.8L431.06 118.8L431.12 101.8L431.18 117.8L431.24 97.2L431.31 117.8L431.37 97.2L431.43 115.9L431.49 97.2L431.55 115.9L431.62 97.1L431.68 115.9L431.74 97.1L431.8 119.4L431.87 97.1L431.93 119.4L431.99 97.1L432.05 124.4L432.11 97.1L432.18 128.5L432.24 101.2L432.3 130.6L432.36 107L432.43 130.6L432.49 108.3L432.55 132.2L432.61 111.5L432.67 135L432.74 114.5L432.8 136.8L432.86 114.8L432.92 136.8L432.99 116.3L433.05 136.8L433.11 124.9L433.17 142.5L433.23 125.7L433.3 142.5L433.36 125.7L433.42 145L433.48 129L433.55 146.3L433.61 131.9L433.67 148.7L433.73 131.9L433.79 152L433.86 136.3L433.92 153.9L433.98 136.3L434.04 157.2L434.11 136.3L434.17 161L434.23 141.7L434.29 166.1L434.35 150.7L434.42 166.1L434.48 150.7L434.54 166.1L434.6 150.7L434.67 166.1L434.73 146.1L434.79 166.1L434.85 141.5L434.91 159.3L434.98 141.5L435.04 157.7L435.1 141.5L435.16 153.8L435.23 141.5L435.29 152.9L435.35 137.6L435.41 152.9L435.47 137.3L435.54 152.9L435.6 135.8L435.66 147.9L435.72 134.9L435.79 147.9L435.85 133.3L435.91 146.1L435.97 130.8L436.04 146.1L436.1 127.6L436.16 141.8L436.22 120L436.28 141.8L436.35 115.8L436.41 139L436.47 113.7L436.53 139L436.6 113.7L436.66 130L436.72 113.7L436.78 125.7L436.84 113.6L436.91 125.5L436.97 109L437.03 125.5L437.09 103.8L437.16 123.2L437.22 103.8L437.28 121.3L437.34 102.8L437.4 113.4L437.47 98.8L437.53 113.1L437.59 98.8L437.65 113.1L437.72 98.8L437.78 111.4L437.84 98.8L437.9 116.3L437.96 98.8L438.03 118.4L438.09 98.9L438.15 122.2L438.21 103L438.28 122.2L438.34 104L438.4 122.8L438.46 109.8L438.52 122.8L438.59 110.2L438.65 126.5L438.71 110.2L438.77 126.5L438.84 110.2L438.9 126.5L438.96 112.6L439.02 126.5L439.08 113.6L439.15 127.8L439.21 113.6L439.27 135.6L439.33 113.6L439.4 136.9L439.46 113.6L439.52 143.9L439.58 117L439.64 143.9L439.71 124.8L439.77 144.8L439.83 125.2L439.89 151.9L439.96 126.2L440.02 155.3L440.08 135.3L440.14 155.3L440.2 137.4L440.27 155.3L440.33 138.6L440.39 155.3L440.45 138.6L440.52 152.9L440.58 138.6L440.64 152.9L440.7 132.5L440.76 152.9L440.83 132.5L440.89 152.9L440.95 129.6L441.01 151.5L441.08 127.5L441.14 147.3L441.2 127.5L441.26 146.6L441.32 127.5L441.39 139L441.45 127.5L441.51 138.3L441.57 127.1L441.64 138.3L441.7 126L441.76 138.3L441.82 119.1L441.88 138.3L441.95 116.4L442.01 138.3L442.07 110.6L442.13 132L442.2 108.3L442.26 129.3L442.32 108.3L442.38 127.3L442.44 108.3L442.51 126.2L442.57 108.3L442.63 126.2L442.69 105.7L442.76 126.2L442.82 105.5L442.88 126.2L442.94 105.5L443 123L443.07 104.6L443.13 115.9L443.19 103.1L443.25 115L443.32 100L443.38 113.9L443.44 100L443.5 111L443.56 100L443.63 111L443.69 100L443.75 109.9L443.81 96.7L443.88 109.9L443.94 96.7L444 113.5L444.06 96.7L444.13 117.7L444.19 96.7L444.25 117.7L444.31 102.5L444.37 122.5L444.44 107.6L444.5 127.6L444.56 107.7L444.62 127.6L444.69 111.9L444.75 134L444.81 113.4L444.87 135.3L444.93 119.2L445 138.3L445.06 123.4L445.12 141L445.18 126.5L445.25 141L445.31 129.1L445.37 148.1L445.43 130.3L445.49 148.1L445.56 131.5L445.62 149.7L445.68 131.6L445.74 152.3L445.81 137.6L445.87 156.5L445.93 139.5L445.99 159.9L446.05 143L446.12 159.9L446.18 145.9L446.24 159.9L446.3 146.8L446.37 159.9L446.43 146.8L446.49 159.8L446.55 146.8L446.61 159.8L446.68 143.3L446.74 159.8L446.8 143.3L446.86 158.1L446.93 143.3L446.99 158.1L447.05 143.3L447.11 153.9L447.17 144L447.24 153.9L447.3 138.8L447.36 153.9L447.42 133.7L447.49 151.7L447.55 132.6L447.61 151.5L447.67 126.9L447.73 145.8L447.8 126.9L447.86 139.2L447.92 126.9L447.98 139.2L448.05 121.3L448.11 134.9L448.17 121.3L448.23 134L448.29 119.2L448.36 134L448.42 119.2L448.48 129.6L448.54 114.8L448.61 129.6L448.67 114.8L448.73 129.5L448.79 106.1L448.85 129.1L448.92 106.1L448.98 124L449.04 102.6L449.1 123.5L449.17 100L449.23 114.9L449.29 100L449.35 114.6L449.41 100L449.48 112.8L449.54 100L449.6 112.8L449.66 100L449.73 115.3L449.79 102.8L449.85 118.3L449.91 102.8L449.97 120.9L450.04 104.9L450.1 120.9L450.16 106.3L450.22 124L450.29 109.5L450.35 125.9L450.41 109.5L450.47 130.1L450.53 111.9L450.6 135.2L450.66 115L450.72 136.9L450.78 116.4L450.85 141.5L450.91 120L450.97 147.1L451.03 126.7L451.09 149.8L451.16 128.9L451.22 152.4L451.28 128.9L451.34 152.4L451.41 132.5L451.47 152.4L451.53 136.1L451.59 152.6L451.66 136.1L451.72 154.7L451.78 136.1L451.84 156.8L451.9 136.1L451.97 157.2L452.03 137.8L452.09 157.2L452.15 141.5L452.22 165.4L452.28 142.3L452.34 165.4L452.4 143.2L452.46 165.4L452.53 143.2L452.59 165.4L452.65 144.3L452.71 165.4L452.78 139.4L452.84 160L452.9 136.4L452.96 159.8L453.02 135.2L453.09 158.1L453.15 130.9L453.21 154.7L453.27 129L453.34 153L453.4 123.7L453.46 150L453.52 121.6L453.58 145.2L453.65 119.9L453.71 145.2L453.77 119.9L453.83 138.9L453.9 119.9L453.96 139.1L454.02 119.9L454.08 139.1L454.14 119.7L454.21 139.1L454.27 111.1L454.33 139.1L454.39 110.3L454.46 139.1L454.52 110.3L454.58 132.5L454.64 106.3L454.7 128.6L454.77 97.6L454.83 124.3L454.89 97.6L454.95 124.3L455.02 97.6L455.08 118.5L455.14 97.6L455.2 115.1L455.26 97.6L455.33 115.1L455.39 97.1L455.45 115.1L455.51 97.1L455.58 115.5L455.64 97.1L455.7 115.5L455.76 97.1L455.82 120L455.89 97.1L455.95 124.1L456.01 101.5L456.07 125.8L456.14 101.7L456.2 126.6L456.26 103.9L456.32 126.6L456.38 109.1L456.45 126.6L456.51 110.7L456.57 126.6L456.63 111.2L456.7 128.8L456.76 111.2L456.82 134.1L456.88 111.2L456.94 134.9L457.01 114.9L457.07 137.5L457.13 120.1L457.19 145.3L457.26 120.8L457.32 145.9L457.38 120.8L457.44 145.9L457.5 126.5L457.57 145.9L457.63 137.4L457.69 152.3L457.75 137.4L457.82 155.8L457.88 137.6L457.94 162.4L458 139.9L458.06 162.4L458.13 145L458.19 162.4L458.25 147.4L458.31 162.4L458.38 153.2L458.44 163.2L458.5 155.5L458.56 163.2L458.62 150.1L458.69 163.2L458.75 147.5L458.81 163.2L458.87 140.3L458.94 162.9L459 140.3L459.06 155.8L459.12 138L459.19 154.1L459.25 135.7L459.31 145.6L459.37 132.5L459.43 145.6L459.5 132.5L459.56 142.5L459.62 129.5L459.68 142.5L459.75 126.9L459.81 139.6L459.87 124.4L459.93 137L459.99 116.2L460.06 134.8L460.12 111.4L460.18 130.6L460.24 105.9L460.31 126.6L460.37 104L460.43 121.1L460.49 102.6L460.55 117.7L460.62 102.2L460.68 111.9L460.74 96.6L460.8 107.7L460.87 96.6L460.93 107.4L460.99 96.6L461.05 105.2L461.11 95.5L461.18 102.8L461.24 95.5L461.3 111.8L461.36 95.5L461.43 111.8L461.49 95.5L461.55 111.8L461.61 95.5L461.67 112.7L461.74 100.8L461.8 121.2L461.86 104.2L461.92 121.2L461.99 104.3L462.05 121.2L462.11 108L462.17 124.7L462.23 111.9L462.3 131.1L462.36 112.5L462.42 131.1L462.48 116.1L462.55 133.6L462.61 122L462.67 133.6L462.73 124L462.79 134.3L462.86 125.6L462.92 143.1L462.98 127L463.04 143.1L463.11 127L463.17 144L463.23 130.4L463.29 147.1L463.35 130.4L463.42 147.1L463.48 130.4L463.54 147.1L463.6 132.2L463.67 148.4L463.73 137.4L463.79 155L463.85 137.4L463.91 158.5L463.98 139.6L464.04 162.1L464.1 143.3L464.16 162.1L464.23 147L464.29 162.1L464.35 149.3L464.41 162.1L464.47 146L464.54 159.6L464.6 144.2L464.66 159.6L464.72 137.6L464.79 159.6L464.85 135.9L464.91 153.9L464.97 132.5L465.03 150.1L465.1 130.7L465.16 146.6L465.22 130.3L465.28 144.3L465.35 130.3L465.41 143L465.47 130.3L465.53 141.8L465.59 124.5L465.66 141.8L465.72 124.5L465.78 141.8L465.84 119.5L465.91 141.8L465.97 119.5L466.03 137.3L466.09 118.7L466.15 137.3L466.22 113.2L466.28 133.8L466.34 111.2L466.4 128.6L466.47 111.2L466.53 128.6L466.59 110.7L466.65 125.7L466.72 106.7L466.78 125.4L466.84 104.5L466.9 125.4L466.96 104.5L467.03 123.1L467.09 102.7L467.15 121.7L467.21 102.7L467.28 117L467.34 102.4L467.4 116.9L467.46 102.4L467.52 121.4L467.59 102.4L467.65 121.4L467.71 102.4L467.77 123.3L467.84 104.8L467.9 125.6L467.96 105.5L468.02 126.2L468.08 106.3L468.15 128.5L468.21 110.8L468.27 135.7L468.33 112.6L468.4 144.3L468.46 112.6L468.52 144.3L468.58 116.6L468.64 144.3L468.71 121.6L468.77 144.3L468.83 123.7L468.89 146.7L468.96 123.7L469.02 149.2L469.08 129.7L469.14 154.1L469.2 133.5L469.27 154.1L469.33 133.9L469.39 160.6L469.45 136.9L469.52 160.6L469.58 137.1L469.64 160.6L469.7 138.4L469.76 160.6L469.83 137.3L469.89 160.6L469.95 137.3L470.01 160.6L470.08 137.3L470.14 160.6L470.2 137.3L470.26 155.4L470.32 137.3L470.39 155.4L470.45 138.5L470.51 155.4L470.57 138.5L470.64 155.4L470.7 138.5L470.76 155.4L470.82 138.5L470.88 155.4L470.95 134.4L471.01 155.4L471.07 134.4L471.13 155.4L471.2 128.5L471.26 155.4L471.32 124.4L471.38 149.6L471.44 123L471.51 148.2L471.57 122.4L471.63 140.2L471.69 118L471.76 139.2L471.82 118L471.88 133.7L471.94 118L472 133.7L472.07 114.8L472.13 133.7L472.19 114.8L472.25 133.7L472.32 114.4L472.38 127.6L472.44 111.5L472.5 125.4L472.56 110.9L472.63 125.1L472.69 110.9L472.75 124.2L472.81 109.9L472.88 123.2L472.94 107.2L473 123.2L473.06 96L473.12 122.9L473.19 95.5L473.25 121.5L473.31 95.5L473.37 117.2L473.44 95.5L473.5 114.8L473.56 95.5L473.62 114.8L473.68 97.2L473.75 114.8L473.81 103.6L473.87 114.8L473.93 101.4L474 114.8L474.06 101.4L474.12 112.6L474.18 101.4L474.25 116.6L474.31 101.4L474.37 124.8L474.43 103.6L474.49 130.2L474.56 105.5L474.62 133L474.68 105.5L474.74 141.8L474.81 112.4L474.87 141.8L474.93 122.7L474.99 145.1L475.05 125.5L475.12 148.4L475.18 133.1L475.24 148.4L475.3 133.1L475.37 148.4L475.43 133.5L475.49 148.4L475.55 139L475.61 148.9L475.68 139L475.74 158.5L475.8 139L475.86 158.5L475.93 143.4L475.99 158.5L476.05 143.4L476.11 158.5L476.17 144L476.24 153.8L476.3 136.1L476.36 153.8L476.42 136.1L476.49 152.4L476.55 136.1L476.61 151.4L476.67 134.9L476.73 144.2L476.8 131.7L476.86 143.7L476.92 131.7L476.98 143.7L477.05 131.7L477.11 143.5L477.17 127.9L477.23 143.5L477.29 124.2L477.36 143.5L477.42 122.7L477.48 143.5L477.54 122.7L477.61 140.5L477.67 122.7L477.73 139L477.79 122.7L477.85 139L477.92 117L477.98 139L478.04 117L478.1 139L478.17 117L478.23 136.7L478.29 113.8L478.35 132.3L478.41 113.8L478.48 130L478.54 113.8L478.6 126.6L478.66 112.1L478.73 127.8L478.79 112.1L478.85 127.8L478.91 108.3L478.97 127.8L479.04 102.1L479.1 127.8L479.16 102L479.22 127.8L479.29 100L479.35 121.5L479.41 99.8L479.47 116.7L479.53 99.8L479.6 116.7L479.66 99.8L479.72 116.7L479.78 99.6L479.85 116.7L479.91 99.6L479.97 123.8L480.03 99.6L480.09 126.9L480.16 99.6L480.22 130.9L480.28 102.1L480.34 130.9L480.41 104.5L480.47 130.9L480.53 107.2L480.59 130.9L480.65 107.2L480.72 130.9L480.78 107.2L480.84 129.3L480.9 107.2L480.97 129.3L481.03 107.2L481.09 136.8L481.15 110.8L481.21 136.8L481.28 110.8L481.34 141.8L481.4 111.1L481.46 150L481.53 122.1L481.59 150L481.65 122.1L481.71 156.3L481.77 128.2L481.84 156.3L481.9 130L481.96 156.8L482.02 130L482.09 156.8L482.15 135.5L482.21 156.8L482.27 138.1L482.34 156.8L482.4 135.9L482.46 155.2L482.52 135.9L482.58 155.2L482.65 132.7L482.71 155.2L482.77 132.7L482.83 154.6L482.9 132.7L482.96 154.6L483.02 132.7L483.08 150.7L483.14 132.7L483.21 150.7L483.27 128.3L483.33 149.4L483.39 125.9L483.46 149.4L483.52 125.9L483.58 149.4L483.64 122.6L483.7 144.8L483.77 118.4L483.83 143.6L483.89 116.2L483.95 142.2L484.02 116.2L484.08 140.7L484.14 110.5L484.2 134.9L484.26 108L484.33 129.8L484.39 104.7L484.45 127.3L484.51 100.6L484.58 125.6L484.64 99.9L484.7 121.3L484.76 98.6L484.82 114.7L484.89 98.6L484.95 112.5L485.01 96.9L485.07 112.3L485.14 93.5L485.2 110L485.26 93.5L485.32 111.8L485.38 93.5L485.45 111.8L485.51 93.5L485.57 113.6L485.63 93.5L485.7 116.4L485.76 100.9L485.82 120.3L485.88 102.3L485.94 122.4L486.01 104.3L486.07 122.4L486.13 108.5L486.19 122.4L486.26 109.2L486.32 122.4L486.38 109.2L486.44 123.3L486.5 109.2L486.57 123.3L486.63 109.2L486.69 131.6L486.75 112.9L486.82 131.6L486.88 113.5L486.94 137.3L487 113.5L487.06 138L487.13 119.6L487.19 140.6L487.25 123L487.31 141.4L487.38 128.4L487.44 147.5L487.5 132.5L487.56 147.5L487.62 132.5L487.69 153.1L487.75 138.3L487.81 154.6L487.87 139.9L487.94 157.5L488 140.1L488.06 157.5L488.12 140.1L488.18 157.5L488.25 139.5L488.31 157.5L488.37 139.5L488.43 157.5L488.5 139L488.56 155.8L488.62 139L488.68 151.4L488.74 139L488.81 151.4L488.87 137.2L488.93 148.4L488.99 131.8L489.06 148L489.12 129.1L489.18 145.8L489.24 129.1L489.3 145.7L489.37 123L489.43 143L489.49 118.8L489.55 143L489.62 115L489.68 143L489.74 115L489.8 139L489.87 111.2L489.93 130.6L489.99 111.2L490.05 128.2L490.11 111.2L490.18 128.2L490.24 110.3L490.3 124.7L490.36 110.2L490.43 124.7L490.49 109L490.55 124.7L490.61 107.7L490.67 122.4L490.74 100.9L490.8 122.4L490.86 97.1L490.92 122.4L490.99 97.1L491.05 122.4L491.11 97.1L491.17 115.9L491.23 97.1L491.3 115.9L491.36 97.1L491.42 115.9L491.48 97.9L491.55 115.8L491.61 98.9L491.67 115.8L491.73 101.2L491.79 115.9L491.86 101.2L491.92 118.6L491.98 101.2L492.04 118.6L492.11 101.2L492.17 118.6L492.23 101.2L492.29 122.2L492.35 107.7L492.42 126.2L492.48 107.7L492.54 127.4L492.6 109.3L492.67 135.7L492.73 110.1L492.79 142.6L492.85 115.7L492.91 142.6L492.98 116.4L493.04 142.6L493.1 120.2L493.16 142.6L493.23 126.5L493.29 140.7L493.35 128L493.41 140.7L493.47 127.6L493.54 140.1L493.6 127.6L493.66 143.8L493.72 127.6L493.79 153.2L493.85 127.6L493.91 153.2L493.97 127.6L494.03 153.2L494.1 131.9L494.16 153.2L494.22 135L494.28 153.2L494.35 137.1L494.41 151.1L494.47 136.6L494.53 151.1L494.59 132.3L494.66 151.1L494.72 132.3L494.78 149.6L494.84 128.4L494.91 148L494.97 128.4L495.03 140.8L495.09 126.2L495.15 138.7L495.22 126.2L495.28 137.7L495.34 126.2L495.4 137.7L495.47 123.4L495.53 138.6L495.59 123.4L495.65 138.6L495.71 123.4L495.78 138.6L495.84 115.1L495.9 138.6L495.96 110.3L496.03 136.4L496.09 108L496.15 135.7L496.21 102.8L496.27 130.6L496.34 102.8L496.4 125.3L496.46 102.8L496.52 124.3L496.59 102.8L496.65 124.3L496.71 102.8L496.77 124.3L496.83 104.5L496.9 124.3L496.96 104.5L497.02 124.3L497.08 97L497.15 123.1L497.21 97L497.27 116.1L497.33 93.5L497.4 115.3L497.46 92.4L497.52 114L497.58 92.4L497.64 109.4L497.71 92.4L497.77 109.7L497.83 92.4L497.89 109.7L497.96 94.4L498.02 110.9L498.08 94.5L498.14 116.1L498.2 94.5L498.27 116.1L498.33 96.9L498.39 117.1L498.45 97.5L498.52 127L498.58 101.3L498.64 128.5L498.7 101.7L498.76 131.2L498.83 102.4L498.89 134.7L498.95 108.7L499.01 134.7L499.08 117.7L499.14 135.6L499.2 118.9L499.26 140.4L499.32 121.1L499.39 140.4L499.45 121.3L499.51 143.3L499.57 122.9L499.64 147.8L499.7 126.9L499.76 148.4L499.82 127L499.88 154.5L499.95 132.1L500.01 154.5L500.07 136.1L500.13 154.5L500.2 137.3L500.26 156L500.32 139.7L500.38 156L500.44 137.6L500.51 156L500.57 135.4L500.63 156L500.69 135.4L500.76 154.4L500.82 135.4L500.88 150.5L500.94 128.9L501 149.8L501.07 127.5L501.13 149.6L501.19 127.5L501.25 149.6L501.32 117.5L501.38 142L501.44 117.5L501.5 137.7L501.56 117.5L501.63 137.7L501.69 117.5L501.75 137.7L501.81 117.5L501.88 137.7L501.94 113L502 137.7L502.06 111.4L502.12 131.7L502.19 111.4L502.25 131.7L502.31 111.4L502.37 125.4L502.44 106.1L502.5 122.6L502.56 105.1L502.62 119.9L502.68 105.1L502.75 119.9L502.81 105.1L502.87 119.9L502.93 105.1L503 120L503.06 107.3L503.12 120L503.18 100.2L503.24 120L503.31 97.1L503.37 120L503.43 97.1L503.49 120L503.56 97.1L503.62 113.5L503.68 97.1L503.74 112.3L503.8 97.8L503.87 113.6L503.93 97.8L503.99 113.6L504.05 97.8L504.12 122.4L504.18 97.8L504.24 123.2L504.3 103.1L504.36 125.3L504.43 104.4L504.49 131.7L504.55 108.5L504.61 131.7L504.68 113.1L504.74 137.7L504.8 113.4L504.86 137.7L504.93 119.6L504.99 138.7L505.05 122.6L505.11 139.4L505.17 130.4L505.24 144.8L505.3 130.4L505.36 152.1L505.42 133.3L505.49 154.7L505.55 133.3L505.61 156.3L505.67 135.3L505.73 158.6L505.8 142.9L505.86 165.1L505.92 143.9L505.98 165.1L506.05 144.9L506.11 165.1L506.17 148.8L506.23 165.1L506.29 148.1L506.36 165.1L506.42 145.7L506.48 161.5L506.54 138.5L506.61 158.2L506.67 138.5L506.73 158.2L506.79 138.5L506.85 158.2L506.92 138.5L506.98 158.2L507.04 138.5L507.1 158.2L507.17 139.5L507.23 154.1L507.29 136.6L507.35 152.2L507.41 132L507.48 152.2L507.54 129.1L507.6 152.2L507.66 129.1L507.73 150.6L507.79 121.3L507.85 141.3L507.91 121.3L507.97 139.1L508.04 121L508.1 139.1L508.16 114L508.22 132.8L508.29 108.5L508.35 132.8L508.41 102.1L508.47 127.9L508.53 102.1L508.6 125.6L508.66 102.1L508.72 121.2L508.78 102.1L508.85 118.9L508.91 102.1L508.97 118.9L509.03 103.2L509.09 118.2L509.16 98.4L509.22 116.3L509.28 98.4L509.34 116.3L509.41 96L509.47 109.3L509.53 96L509.59 112.8L509.65 96L509.72 118.5L509.78 96L509.84 119.1L509.9 97L509.97 121.7L510.03 104.3L510.09 126.4L510.15 105.6L510.21 127.8L510.28 106.7L510.34 127.8L510.4 110.2L510.46 127.8L510.53 111.4L510.59 133.1L510.65 111.4L510.71 133.1L510.77 111.4L510.84 133.1L510.9 116.3L510.96 133.1L511.02 117.2L511.09 139.1L511.15 117.2L511.21 144.9L511.27 117.2L511.33 144.9L511.4 117.2L511.46 145.8L511.52 124.4L511.58 148.4L511.65 126.3L511.71 151.8L511.77 126.3L511.83 155.3L511.89 127.7L511.96 155.3L512.02 133.1L512.08 155.3L512.14 131.6L512.21 155.3L512.27 131.6L512.33 154.6L512.39 131.6L512.45 154.6L512.52 131.6L512.58 154.6L512.64 132.3L512.7 154.6L512.77 128.4L512.83 154.4L512.89 127.3L512.95 152.9L513.02 127.3L513.08 148.7L513.14 120.7L513.2 142.3L513.26 119L513.33 141L513.39 113.8L513.45 141L513.51 112.6L513.58 137.8L513.64 109L513.7 133.4L513.76 109L513.82 130.5L513.89 109L513.95 128.6L514.01 109L514.07 130L514.14 109L514.2 130L514.26 107.7L514.32 130L514.38 106.9L514.45 130L514.51 106.9L514.57 129.4L514.63 106.9L514.7 127.3L514.76 101.3L514.82 122.9L514.88 98.1L514.94 122.9L515.01 98.1L515.07 119.5L515.13 98.1L515.19 116L515.26 98.1L515.32 117.4L515.38 98.1L515.44 117.4L515.5 101.4L515.57 117.4L515.63 101.4L515.69 117.4L515.75 101.7L515.82 117.5L515.88 103.2L515.94 120.4L516 106L516.06 121.1L516.13 105.3L516.19 121.2L516.25 105.3L516.31 122.2L516.38 105.3L516.44 124.5L516.5 105.3L516.56 127.3L516.62 110.2L516.69 135.7L516.75 110.2L516.81 136.9L516.87 110.2L516.94 140.6L517 114.7L517.06 145L517.12 121L517.18 145L517.25 129.2L517.31 145.7L517.37 131.7L517.43 147.6L517.5 136.3L517.56 149.9L517.62 136.3L517.68 152L517.74 136.3L517.81 155.1L517.87 139L517.93 155.1L517.99 141.1L518.06 155.1L518.12 146.5L518.18 156.3L518.24 146.5L518.3 156.3L518.37 146.5L518.43 156.3L518.49 142.1L518.55 156.3L518.62 136.6L518.68 156.3L518.74 131.1L518.8 153.3L518.86 128.2L518.93 148.4L518.99 128.2L519.05 146.6L519.11 125.1L519.18 138.9L519.24 120.6L519.3 137.6L519.36 118.9L519.42 137.6L519.49 118.3L519.55 131.4L519.61 114.3L519.67 130L519.74 114.3L519.8 130L519.86 112.8L519.92 126L519.98 105.1L520.05 126L520.11 104.6L520.17 126L520.23 104.6L520.3 126L520.36 104.6L520.42 119.3L520.48 100.5L520.55 119.3L520.61 100.5L520.67 119.3L520.73 99.7L520.79 118.1L520.86 99.7L520.92 116.6L520.98 99.7L521.04 116.6L521.11 99.4L521.17 116.6L521.23 97.4L521.29 116.6L521.35 97.4L521.42 116.6L521.48 97.4L521.54 115.5L521.6 97.4L521.67 115.5L521.73 97.4L521.79 115.5L521.85 99L521.91 115.5L521.98 99L522.04 118.3L522.1 99L522.16 130.3L522.23 99L522.29 135.9L522.35 102.5L522.41 135.9L522.47 103.4L522.54 135.9L522.6 109.6L522.66 135.9L522.72 117.1L522.79 137.3L522.85 121.9L522.91 139L522.97 121.9L523.03 141.8L523.1 123.3L523.16 147.9L523.22 125.1L523.28 150.3L523.35 125.1L523.41 150.9L523.47 125.5L523.53 153.8L523.59 128.2L523.66 156.1L523.72 136.4L523.78 158.7L523.84 138L523.91 160.9L523.97 142.6L524.03 160.9L524.09 142.6L524.15 160.9L524.22 144.7L524.28 160.9L524.34 144.7L524.4 160L524.47 142.1L524.53 160L524.59 142.1L524.65 160L524.71 137.9L524.78 158.7L524.84 137.9L524.9 155.5L524.96 135.8L525.03 155.5L525.09 135.1L525.15 153.5L525.21 127.7L525.27 153.2L525.34 124.5L525.4 152.2L525.46 119.8L525.52 149.1L525.59 112.9L525.65 140.8L525.71 112.9L525.77 138.4L525.83 112.9L525.9 136.6L525.96 112.9L526.02 136.6L526.08 112.9L526.15 136.6L526.21 107.7L526.27 136.6L526.33 107L526.39 136.6L526.46 106L526.52 131.2L526.58 103L526.64 125.8L526.71 103L526.77 125.2L526.83 103L526.89 125.2L526.95 100.4L527.02 121.9L527.08 100.3L527.14 121.9L527.2 100.3L527.27 124.1L527.33 100.3L527.39 124.1L527.45 100.3L527.51 126.4L527.58 102.4L527.64 126.5L527.7 102.4L527.76 128.3L527.83 102.4L527.89 128.3L527.95 105.7L528.01 128.3L528.08 105.7L528.14 131L528.2 113.9L528.26 133L528.32 114.5L528.39 133L528.45 115L528.51 133L528.57 117.6L528.64 133L528.7 117.8L528.76 136.7L528.82 117.8L528.88 136.7L528.95 118.4L529.01 140.9L529.07 122.1L529.13 152.1L529.2 122.1L529.26 152.1L529.32 122.1L529.38 152.1L529.44 129.3L529.51 152.2L529.57 132.7L529.63 160.6L529.69 139.9L529.76 160.6L529.82 143.1L529.88 160.6L529.94 140.4L530 160.6L530.07 140.4L530.13 160.6L530.19 139.9L530.25 155.1L530.32 139.9L530.38 154.5L530.44 135.7L530.5 154.5L530.56 131.6L530.63 154.5L530.69 128.4L530.75 154.5L530.81 127.9L530.88 141.5L530.94 127.6L531 140.8L531.06 127.6L531.12 138.8L531.19 123.2L531.25 137L531.31 123.2L531.37 135.5L531.44 122.3L531.5 135.5L531.56 118.4L531.62 135L531.68 115.5L531.75 129.2L531.81 115.5L531.87 129L531.93 111L532 129L532.06 110.4L532.12 124.7L532.18 110.4L532.24 124.7L532.31 110.4L532.37 118.4L532.43 110.4L532.49 118.4L532.56 106.3L532.62 117.2L532.68 102L532.74 116.9L532.8 98.1L532.87 116L532.93 98.1L532.99 114.5L533.05 98.1L533.12 113.8L533.18 98.1L533.24 112.4L533.3 101.2L533.36 116.3L533.43 101.5L533.49 116.7L533.55 102.8L533.61 117.1L533.68 105.7L533.74 126.3L533.8 105.7L533.86 129.6L533.92 105.7L533.99 134.1L534.05 105.7L534.11 136.7L534.17 117.3L534.24 136.7L534.3 121.3L534.36 136.7L534.42 124L534.48 139.5L534.55 124.6L534.61 146.4L534.67 124.6L534.73 146.4L534.8 124.6L534.86 146.4L534.92 127.7L534.98 146.4L535.04 131.7L535.11 149.1L535.17 134L535.23 149.1L535.29 135.1L535.36 152.1L535.42 135.6L535.48 152.6L535.54 137.1L535.61 155L535.67 137.9L535.73 155.4L535.79 139.3L535.85 158.1L535.92 141.7L535.98 158.5L536.04 140.4L536.1 158.5L536.17 140.4L536.23 158.5L536.29 140.4L536.35 158.5L536.41 135.6L536.48 153.2L536.54 135.6L536.6 153.2L536.66 133.5L536.73 152.5L536.79 130.2L536.85 149L536.91 128L536.97 145.4L537.04 119.5L537.1 143.2L537.16 117.4L537.22 141.1L537.29 112.5L537.35 141.1L537.41 105.5L537.47 133.5L537.53 105.5L537.6 126.3L537.66 105.5L537.72 126.3L537.78 105.5L537.85 122.1L537.91 105.5L537.97 122.1L538.03 105L538.09 122.1L538.16 103.7L538.22 119.4L538.28 102.6L538.34 117.8L538.41 101L538.47 114L538.53 96.7L538.59 112.8L538.65 96.7L538.72 112.8L538.78 95.2L538.84 109.9L538.9 95.2L538.97 112.7L539.03 95.2L539.09 118.6L539.15 95.2L539.21 118.6L539.28 95.2L539.34 118.6L539.4 103.7L539.46 120.3L539.53 107.1L539.59 127.8L539.65 107.1L539.71 130.5L539.77 109.7L539.84 131.2L539.9 111.8L539.96 136.8L540.02 113.3L540.09 142.7L540.15 118.1L540.21 143.5L540.27 118.7L540.33 148.6L540.4 125.7L540.46 148.6L540.52 132.1L540.58 149L540.65 135.1L540.71 149L540.77 137.3L540.83 149L540.89 138.5L540.96 153.7L541.02 138.9L541.08 157L541.14 138.9L541.21 157L541.27 141.1L541.33 157L541.39 144.9L541.45 158.6L541.52 144.9L541.58 158.6L541.64 146.5L541.7 158.6L541.77 146.5L541.83 158.6L541.89 140.9L541.95 157.8L542.01 140.9L542.08 157.8L542.14 140.9L542.2 154.5L542.26 138.5L542.33 153.7L542.39 130L542.45 150.8L542.51 129.9L542.57 150.8L542.64 129.9L542.7 147.7L542.76 127L542.82 140.4L542.89 126L542.95 140.4L543.01 126L543.07 140.4L543.13 125.1L543.2 138.1L543.26 124.1L543.32 136.9L543.38 123.2L543.45 136L543.51 122.8L543.57 134.5L543.63 119.4L543.7 134.5L543.76 114.3L543.82 134.5L543.88 112L543.94 134.5L544.01 107.5L544.07 133.1L544.13 106L544.19 129.2L544.26 106L544.32 123.7L544.38 106L544.44 123.7L544.5 106L544.57 123.4L544.63 106L544.69 123.4L544.75 106.1L544.82 123.4L544.88 106.1L544.94 123.4L545 106.1L545.06 122.8L545.13 108.1L545.19 122.8L545.25 108.8L545.31 125.4L545.38 108.8L545.44 125.4L545.5 109.1L545.56 131.6L545.62 109.1L545.69 133.8L545.75 109.1L545.81 136.1L545.87 111.5L545.94 136.1L546 118.3L546.06 136.1L546.12 117.9L546.18 136.1L546.25 117.9L546.31 137.3L546.37 117.9L546.43 137.3L546.5 117.9L546.56 140.1L546.62 122.8L546.68 140.7L546.74 127.7L546.81 144.1L546.87 127.7L546.93 144.1L546.99 130.4L547.06 144.1L547.12 130.4L547.18 146.7L547.24 130.9L547.3 149.6L547.37 130.9L547.43 152.9L547.49 130.9L547.55 152.9L547.62 134.1L547.68 152.9L547.74 134.3L547.8 159.3L547.86 136.8L547.93 159.3L547.99 136.8L548.05 159.3L548.11 141.1L548.18 159.3L548.24 141.3L548.3 159.3L548.36 137.6L548.42 156.6L548.49 137.6L548.55 152.9L548.61 131.8L548.67 152.9L548.74 128L548.8 151.1L548.86 128L548.92 151.1L548.98 119L549.05 147L549.11 116.2L549.17 141.1L549.23 115.6L549.3 138.3L549.36 115.6L549.42 133.9L549.48 115.6L549.54 129.6L549.61 115.6L549.67 131.6L549.73 115.8L549.79 131.6L549.86 111.8L549.92 131.6L549.98 111.8L550.04 131.6L550.1 102.4L550.17 131.6L550.23 102.4L550.29 124.2L550.35 102.4L550.42 124.2L550.48 102.4L550.54 115.5L550.6 102.4L550.66 120.4L550.73 103.8L550.79 121.3L550.85 106.8L550.91 121.3L550.98 107.9L551.04 121.3L551.1 112L551.16 122.6L551.23 112L551.29 124.8L551.35 112L551.41 124.8L551.47 112L551.54 130.5L551.6 112L551.66 132.3L551.72 112L551.79 132.3L551.85 112L551.91 132.3L551.97 117.5L552.03 134.9L552.1 119.9L552.16 138.5L552.22 119.9L552.28 141.1L552.35 119.9L552.41 142.6L552.47 122.4L552.53 142.6L552.59 127.6L552.66 143.3L552.72 127.7L552.78 147.3L552.84 132.1L552.91 149.9L552.97 132.1L553.03 149.9L553.09 134.1L553.15 149.9L553.22 136.4L553.28 151.2L553.34 140.3L553.4 156.4L553.47 140.5L553.53 159.3L553.59 140.5L553.65 159.3L553.71 142.7L553.78 159.3L553.84 139.6L553.9 159.3L553.96 139.6L554.03 158.9L554.09 139.6L554.15 153.9L554.21 138.9L554.27 150.4L554.34 138.8L554.4 150.4L554.46 137.9L554.52 150.4L554.59 132.1L554.65 150.3L554.71 132.1L554.77 150.3L554.83 132.1L554.9 149.2L554.96 132.1L555.02 149.7L555.08 132.1L555.15 149.7L555.21 128.9L555.27 149.7L555.33 117.5L555.39 149.7L555.46 115.2L555.52 149.7L555.58 112.6L555.64 141.3L555.71 108.3L555.77 134.3L555.83 103.9L555.89 130.6L555.95 103.9L556.02 125.4L556.08 103.9L556.14 122L556.2 102.1L556.27 122L556.33 100L556.39 119.5L556.45 100L556.51 120L556.58 100L556.64 121.7L556.7 100L556.76 121.7L556.83 100.7L556.89 123.8L556.95 101.6L557.01 126.8L557.07 101.6L557.14 126.8L557.2 103.1L557.26 126.8L557.32 103.3L557.39 130.9L557.45 107.3L557.51 130.9L557.57 107.3L557.63 130.9L557.7 108.9L557.76 136.2L557.82 112.5L557.88 136.9L557.95 112.5L558.01 138.4L558.07 112.5L558.13 140.1L558.19 119L558.26 143.2L558.32 121.4L558.38 143.3L558.44 124.3L558.51 144L558.57 126.7L558.63 148.4L558.69 130.5L558.76 148.4L558.82 130L558.88 148.4L558.94 130L559 148.4L559.07 130L559.13 150.3L559.19 130L559.25 153.4L559.32 130L559.38 156.4L559.44 136.1L559.5 159.6L559.56 138.9L559.63 159.6L559.69 140.7L559.75 159.6L559.81 142.6L559.88 159.6L559.94 137.8L560 159.5L560.06 137.8L560.12 154.6L560.19 137.8L560.25 151.9L560.31 132.5L560.37 151.4L560.44 127L560.5 151.4L560.56 126.7L560.62 147.8L560.68 125.6L560.75 144.3L560.81 123L560.87 141.2L560.93 123L561 141.2L561.06 123L561.12 139.5L561.18 123L561.24 138.9L561.31 114.2L561.37 138.9L561.43 113.3L561.49 137.5L561.56 110.6L561.62 137.3L561.68 105.9L561.74 128L561.8 105.9L561.87 123.6L561.93 105.9L561.99 123.6L562.05 103.1L562.12 120.4L562.18 103.1L562.24 120.4L562.3 99.7L562.36 119.9L562.43 98.1L562.49 117L562.55 98.1L562.61 117L562.68 98.1L562.74 115L562.8 98.1L562.86 117.4L562.92 100.2L562.99 122.3L563.05 101.7L563.11 123.5L563.17 103.6L563.24 125.2L563.3 107.1L563.36 129.9L563.42 112.1L563.48 133.3L563.55 112.1L563.61 133.3L563.67 112.8L563.73 133.3L563.8 118.6L563.86 138.9L563.92 121.8L563.98 142.9L564.04 121.8L564.11 142.9L564.17 121.8L564.23 146.9L564.29 124.5L564.36 147.8L564.42 129.8L564.48 147.8L564.54 129.8L564.6 148.2L564.67 129.8L564.73 152.1L564.79 133.4L564.85 156L564.92 133.7L564.98 156L565.04 137.3L565.1 157.4L565.16 138.7L565.23 159.5L565.29 141.4L565.35 161.1L565.41 142.8L565.48 162.6L565.54 147.7L565.6 164.2L565.66 147.8L565.72 164.2L565.79 148.2L565.85 164.2L565.91 144.4L565.97 164.2L566.04 141.1L566.1 162.4L566.16 134.8L566.22 159.1L566.29 133.6L566.35 157.3L566.41 132.8L566.47 152.5L566.53 128L566.6 147.8L566.66 128L566.72 143.8L566.78 128L566.85 142.8L566.91 128L566.97 142.8L567.03 127.9L567.09 142.8L567.16 127.9L567.22 142.8L567.28 127.9L567.34 142.8L567.41 127.9L567.47 139.3L567.53 118.5L567.59 139L567.65 118.5L567.72 139L567.78 116.2L567.84 136.4L567.9 116.2L567.97 131.5L568.03 116.2L568.09 129.8L568.15 116.2L568.21 129.8L568.28 116.2L568.34 129.8L568.4 111.2L568.46 129.8L568.53 107.2L568.59 129.4L568.65 99.9L568.71 127.8L568.77 98.3L568.84 123.7L568.9 97.1L568.96 117.7L569.02 97.1L569.09 112.6L569.15 97.1L569.21 119L569.27 97.1L569.33 124L569.4 103.1L569.46 124L569.52 104.3L569.58 124L569.65 112.5L569.71 124L569.77 111.6L569.83 124L569.89 111.6L569.96 133.5L570.02 111.6L570.08 133.5L570.14 111.6L570.21 135.2L570.27 113.4L570.33 139.8L570.39 124.6L570.45 143.9L570.52 124.6L570.58 144.8L570.64 127L570.7 149.2L570.77 129.8L570.83 155.2L570.89 133.9L570.95 155.2L571.01 136.7L571.08 159.6L571.14 140.6L571.2 159.6L571.26 144.9L571.33 159.6L571.39 144.9L571.45 159.6L571.51 144.9L571.57 158.8L571.64 140.9L571.7 158.8L571.76 140.9L571.82 158.8L571.89 139.6L571.95 156.7L572.01 139.6L572.07 150.4L572.13 139.6L572.2 150.9L572.26 139.6L572.32 151.9L572.38 139.6L572.45 153.2L572.51 142.1L572.57 153.2L572.63 131.9L572.69 153.2L572.76 129.3L572.82 153.2L572.88 125.7L572.94 153.2L573.01 122.5L573.07 147.1L573.13 122.5L573.19 139.1L573.25 121.9L573.32 134.2L573.38 119.9L573.44 134.2L573.5 119.5L573.57 132L573.63 113.9L573.69 130.7L573.75 113.9L573.82 127.7L573.88 113.9L573.94 125.5L574 113.2L574.06 122.8L574.13 109.2L574.19 122.8L574.25 106.8L574.31 122.8L574.38 100.6L574.44 118.3L574.5 96.3L574.56 113.3L574.62 96.3L574.69 113.3L574.75 96.3L574.81 105.8L574.87 96.3L574.94 113.3L575 96.4L575.06 118.3L575.12 98.1L575.18 121.4L575.25 98.1L575.31 121.4L575.37 100.9L575.43 128.4L575.5 112.5L575.56 128.4L575.62 112.5L575.68 128.4L575.74 115.5L575.81 128.4L575.87 117.2L575.93 128.4L575.99 117.2L576.06 131.7L576.12 117.2L576.18 134.5L576.24 117.2L576.3 136.8L576.37 121.3L576.43 136.8L576.49 121.3L576.55 137L576.62 125.4L576.68 137L576.74 125.4L576.8 141L576.86 125.4L576.93 141L576.99 125.4L577.05 141L577.11 125.4L577.18 146.5L577.24 129.4L577.3 147.6L577.36 129.4L577.42 148.8L577.49 130.9L577.55 150.5L577.61 132.4L577.67 153.1L577.74 134.1L577.8 154.4L577.86 134.1L577.92 155.3L577.98 137.4L578.05 155.3L578.11 139.4L578.17 155.3L578.23 131.6L578.3 155.3L578.36 131.6L578.42 151.6L578.48 129.2L578.54 148.8L578.61 127.9L578.67 146.2L578.73 127.2L578.79 143.8L578.86 125.9L578.92 142.1L578.98 125.8L579.04 142.1L579.1 125L579.17 142.1L579.23 125L579.29 142.1L579.35 123.3L579.42 142.1L579.48 117.4L579.54 139.3L579.6 116.6L579.66 139.3L579.73 110L579.79 139.3L579.85 110L579.91 133.6L579.98 110L580.04 132.5L580.1 107.4L580.16 131.9L580.22 101.3L580.29 131.9L580.35 101.3L580.41 131.9L580.47 101.3L580.54 127.2L580.6 101.3L580.66 126.8L580.72 101.3L580.78 126.8L580.85 104.4L580.91 126.8L580.97 106L581.03 124.9L581.1 105.1L581.16 124.7L581.22 104.1L581.28 124.7L581.34 104.1L581.41 124.5L581.47 104.1L581.53 124.5L581.59 104.1L581.66 129.9L581.72 104.1L581.78 134.9L581.84 105.6L581.91 134.9L581.97 107.3L582.03 134.9L582.09 111.3L582.15 134.9L582.22 113.2L582.28 135.4L582.34 113.2L582.4 141.8L582.47 118.2L582.53 145.1L582.59 120L582.65 147.3L582.71 121.3L582.78 147.3L582.84 122.7L582.9 152.7L582.96 122.9L583.03 154.7L583.09 128.6L583.15 158.6L583.21 132.8L583.27 159.1L583.34 138.2L583.4 159.1L583.46 141L583.52 159.1L583.59 140.9L583.65 160.6L583.71 140.9L583.77 160.6L583.83 140.9L583.9 160.6L583.96 140.9L584.02 160.6L584.08 141.5L584.15 160.6L584.21 142.5L584.27 159.8L584.33 142.5L584.39 159.1L584.46 143.1L584.52 159.1L584.58 143.1L584.64 159.1L584.71 134.3L584.77 157.9L584.83 130.4L584.89 157.9L584.95 130.4L585.02 155.6L585.08 130.4L585.14 145.6L585.2 128.9L585.27 145.6L585.33 120.2L585.39 145.6L585.45 120.2L585.51 142.2L585.58 120.2L585.64 133.3L585.7 117.6L585.76 131.7L585.83 117.6L585.89 131.7L585.95 117.6L586.01 129.3L586.07 116.5L586.14 129.3L586.2 116.5L586.26 128.2L586.32 115.1L586.39 128.2L586.45 113.3L586.51 126.7L586.57 110.3L586.63 123.3L586.7 102.7L586.76 123.3L586.82 101.7L586.88 115.5L586.95 97.4L587.01 115.2L587.07 97.4L587.13 109.6L587.19 97.4L587.26 106.5L587.32 97.4L587.38 107.5L587.44 97.4L587.51 111.9L587.57 98L587.63 114.3L587.69 98.6L587.75 121.1L587.82 104.7L587.88 122.8L587.94 104.7L588 128.1L588.07 107L588.13 128.1L588.19 110.5L588.25 130.6L588.31 115L588.38 132.2L588.44 119.1L588.5 136.3L588.56 119.1L588.63 139.9L588.69 122.6L588.75 141L588.81 124.7L588.87 144.8L588.94 130.1L589 145.9L589.06 134L589.12 145.9L589.19 136.1L589.25 147.4L589.31 136.1L589.37 148.2L589.44 136.9L589.5 153.2L589.56 136.9L589.62 155.3L589.68 141.8L589.75 155.3L589.81 138L589.87 155.3L589.93 138L590 155.3L590.06 134.9L590.12 151.9L590.18 132.1L590.24 148.4L590.31 126.6L590.37 145.2L590.43 126.6L590.49 144.5L590.56 126.6L590.62 142.9L590.68 126L590.74 142.9L590.8 118.9L590.87 142.9L590.93 118.9L590.99 142.9L591.05 114.1L591.12 131.9L591.18 112.6L591.24 126.8L591.3 112.6L591.36 128.9L591.43 112.6L591.49 128.9L591.55 112.6L591.61 128.9L591.68 114.6L591.74 128.9L591.8 111.3L591.86 124.8L591.92 108.9L591.99 123.2L592.05 106.4L592.11 121.1L592.17 105.7L592.24 118L592.3 99.1L592.36 116.8L592.42 95.3L592.48 116.8L592.55 91.8L592.61 116.8L592.67 90.6L592.73 111.7L592.8 90.6L592.86 110.1L592.92 90.6L592.98 105.1L593.04 90.6L593.11 108.9L593.17 90.6L593.23 116.3L593.29 91L593.36 118.5L593.42 91L593.48 120L593.54 91L593.6 122.9L593.67 106.7L593.73 127.9L593.79 109.1L593.85 128L593.92 109.3L593.98 128L594.04 110.9L594.1 129.5L594.16 110.9L594.23 132L594.29 110.9L594.35 140.4L594.41 115.8L594.48 145L594.54 115.9L594.6 149.5L594.66 119.6L594.72 152.4L594.79 122.2L594.85 154.2L594.91 124.2L594.97 154.2L595.04 135.6L595.1 154.9L595.16 139.7L595.22 154.9L595.28 135.4L595.35 154.9L595.41 135.4L595.47 154.9L595.53 135.4L595.6 155L595.66 135.4L595.72 155.7L595.78 135.4L595.84 156.4L595.91 140.3L595.97 157.5L596.03 141.8L596.09 157.5L596.16 139.6L596.22 157.5L596.28 133.6L596.34 157.5L596.4 128.6L596.47 157.4L596.53 128.1L596.59 156.1L596.65 126.3L596.72 149.3L596.78 126.3L596.84 144.1L596.9 126.3L596.97 145.6L597.03 126.3L597.09 145.6L597.15 126.3L597.21 145.6L597.28 121L597.34 145.6L597.4 121L597.46 144.6L597.53 120.1L597.59 144.6L597.65 116.9L597.71 137.8L597.77 116.9L597.84 135.9L597.9 110.8L597.96 134.4L598.02 110L598.09 133L598.15 110L598.21 133L598.27 110L598.33 128.2L598.4 104.2L598.46 128.2L598.52 101.4L598.58 126.2L598.65 101.2L598.71 124.8L598.77 95.6L598.83 122.6L598.89 95.3L598.96 120.7L599.02 95.2L599.08 116.7L599.14 95.2L599.21 111.9L599.27 95.2L599.33 110.8L599.39 95.2L599.45 114.4L599.52 97.6L599.58 114.4L599.64 97.6L599.7 114.4L599.77 97.6L599.83 118.1L599.89 98.6L599.95 119.3L600.01 98.6L600.08 123.8L600.14 98.6L600.2 127.6L600.26 106.4L600.33 128.4L600.39 106.8L600.45 128.4L600.51 114.8L600.57 131.9L600.64 117.2L600.7 132.9L600.76 117.2L600.82 140.2L600.89 117.2L600.95 140.3L601.01 119.9L601.07 144.6L601.13 122.1L601.2 156.7L601.26 127.6L601.32 159.6L601.38 132.4L601.45 159.6L601.51 135L601.57 159.6L601.63 140.6L601.69 159.6L601.76 143.7L601.82 159.6L601.88 143.7L601.94 163.2L602.01 143.7L602.07 163.2L602.13 143.7L602.19 163.2L602.25 150.6L602.32 163.2L602.38 147.5L602.44 161.8L602.5 145.8L602.57 161.1L602.63 141.3L602.69 159.1L602.75 135.5L602.81 157.3L602.88 135.5L602.94 157.3L603 135.5L603.06 153.9L603.13 135.5L603.19 149.2L603.25 135.5L603.31 148.2L603.37 135.9L603.44 148.2L603.5 135.9L603.56 148.2L603.62 131.8L603.69 148.2L603.75 129.2L603.81 146.5L603.87 127.5L603.93 146.5L604 126.5L604.06 137.8L604.12 126.5L604.18 136.8L604.25 122.5L604.31 136.8L604.37 120.8L604.43 132.6L604.5 119.6L604.56 132.1L604.62 112.9L604.68 129.8L604.74 112.9L604.81 128.1L604.87 112.9L604.93 126L604.99 107.9L605.06 123.1L605.12 104.3L605.18 123.1L605.24 104.3L605.3 119.6L605.37 104.3L605.43 119.8L605.49 104.3L605.55 123.3L605.62 106.3L605.68 124.2L605.74 111.3L605.8 130.4L605.86 112.7L605.93 130.4L605.99 114.3L606.05 130.4L606.11 114.3L606.18 130.4L606.24 114.3L606.3 133.1L606.36 114.3L606.42 140.9L606.49 114.3L606.55 141.8L606.61 121.2L606.67 142.6L606.74 126.2L606.8 144.4L606.86 132.5L606.92 144.4L606.98 135.6L607.05 144.4L607.11 133L607.17 144.4L607.23 133L607.3 145.4L607.36 133L607.42 151L607.48 133L607.54 153.2L607.61 133.1L607.67 153.2L607.73 139.1L607.79 153.2L607.86 138.1L607.92 153.2L607.98 136L608.04 152.7L608.1 133.9L608.17 152.4L608.23 133.9L608.29 152.4L608.35 133.9L608.42 141.8L608.48 131.6L608.54 143.6L608.6 131.6L608.66 143.6L608.73 131.6L608.79 143.6L608.85 131.2L608.91 143.6L608.98 129.8L609.04 144.8L609.1 129.8L609.16 144.8L609.22 129.8L609.29 144.8L609.35 127.8L609.41 144.8L609.47 126.4L609.54 144.8L609.6 122L609.66 138.5L609.72 117.6L609.78 135L609.85 116.8L609.91 135L609.97 116.8L610.03 133.5L610.1 116.8L610.16 129.5L610.22 116.8L610.28 130.5L610.34 116.4L610.41 130.5L610.47 110.4L610.53 130.5L610.59 107.3L610.66 130.5L610.72 104.2L610.78 127.4L610.84 101.8L610.9 124L610.97 101.8L611.03 119.9L611.09 100.4L611.15 110.7L611.22 98.1L611.28 112.1L611.34 98.1L611.4 117L611.46 98.1L611.53 121.4L611.59 98.1L611.65 125.6L611.71 98.2L611.78 127.2L611.84 105.3L611.9 131.8L611.96 108.1L612.02 135.9L612.09 114.7L612.15 146.7L612.21 120.7L612.27 149.5L612.34 122L612.4 153.4L612.46 126.6L612.52 156.8L612.59 132.8L612.65 156.8L612.71 140.8L612.77 156.8L612.83 143L612.9 156.8L612.96 143L613.02 156.8L613.08 143L613.15 153.9L613.21 143.1L613.27 153.9L613.33 142.1L613.39 153.9L613.46 135.8L613.52 153.9L613.58 133L613.64 152.7L613.71 131.5L613.77 148.3L613.83 125.5L613.89 142.9L613.95 124.9L614.02 142.9L614.08 123L614.14 141.4L614.2 123L614.27 142.3L614.33 123L614.39 142.3L614.45 123L614.51 142.3L614.58 123.4L614.64 142.3L614.7 119.9L614.76 140.6L614.83 119.9L614.89 139.6L614.95 117.6L615.01 135.1L615.07 115.6L615.14 131.2L615.2 114.6L615.26 133.1L615.32 114.6L615.39 133.1L615.45 114.6L615.51 133.1L615.57 114.4L615.63 133.1L615.7 107.5L615.76 133.1L615.82 106.5L615.88 126.6L615.95 106.4L616.01 124.9L616.07 103.3L616.13 122.1L616.19 101.6L616.26 122.1L616.32 101.6L616.38 122.1L616.44 101.6L616.51 122.1L616.57 101.6L616.63 121.2L616.69 102.5L616.75 121.2L616.82 102.5L616.88 121.2L616.94 101.3L617 125.2L617.07 101.3L617.13 128.2L617.19 101.3L617.25 132.1L617.31 101.3L617.38 132.1L617.44 109.7L617.5 132.1L617.56 114.6L617.63 132.1L617.69 117L617.75 131.6L617.81 117L617.87 131.6L617.94 116.7L618 131.6L618.06 116.7L618.12 137.7L618.19 116.7L618.25 137.7L618.31 116.7L618.37 137.7L618.43 118.5L618.5 137.7L618.56 125.6L618.62 140.6L618.68 127.4L618.75 141.7L618.81 127.4L618.87 147.3L618.93 128.1L618.99 148.8L619.06 129.1L619.12 150.4L619.18 131.3L619.24 151.8L619.31 132.9L619.37 154L619.43 137.3L619.49 160L619.55 143.4L619.62 162.2L619.68 147.9L619.74 162.2L619.8 147.9L619.87 162.2L619.93 150L619.99 162.2L620.05 143.8L620.12 162.2L620.18 138.5L620.24 162.1L620.3 138.5L620.36 158.4L620.43 137L620.49 154.3L620.55 134.8L620.61 149L620.68 125.7L620.74 147.9L620.8 125.1L620.86 146.7L620.92 125.1L620.99 140.3L621.05 125.1L621.11 139.4L621.17 125.1L621.24 133.9L621.3 116L621.36 133.9L621.42 116L621.48 133.9L621.55 114.5L621.61 132.6L621.67 110.9L621.73 129.1L621.8 110.9L621.86 123.5L621.92 104.8L621.98 121.4L622.04 104.7L622.11 121.4L622.17 103.5L622.23 119.5L622.29 103.5L622.36 114.5L622.42 103.5L622.48 114L622.54 103.5L622.6 116L622.67 103.5L622.73 121.6L622.79 103.8L622.85 121.6L622.92 106.1L622.98 121.6" clip-path="url(#p3edb49991a)" style="fill: none; stroke: #1f77b4; stroke-width: 1.85; stroke-linecap: square"/>
   </g>
   <g id="patch_3">
    <path d="M90.36 171L90.36 86.76" style="fill: none; stroke: #000000; stroke-width: 0.8; stroke-linecap: square"/>
   </g>
   <g id="patch_4">
    <path d="M648.36 171L648.36 86.76" style="fill: none; stroke: #000000; stroke-width: 0.8; stroke-linecap: square"/>
   </g>
   <g id="patch_5">
    <path d="M90.36 171L648.36 171" style="fill: none; stroke: #000000; stroke-width: 0.8; stroke-linecap: square"/>
   </g>
   <g id="patch_6">
    <path d="M90.36 86.76L648.36 86.76" style="fill: none; stroke: #000000; stroke-width: 0.8; stroke-linecap: square"/>
   </g>
   <g id="text_13">
    <text style="font-size: 12px; font-family: 'DejaVu Sans', 'Liberation Sans', sans-serif; text-anchor: middle" x="369" y="80.4" transform="rotate(-0 369 80.4)">tsl, lev=0.0109999999403953, 20141216T1200 to 20991124T1200</text>
   </g>
  </g>
  <g id="axes_2">
   <g id="patch_7">
    <path d="M 90 272.110345 
L 648 272.110345 
L 648 187.696552 
L 90 187.696552 
z
" style="fill: #ffffff"/>
   </g>
   <g id="matplotlib.axis_3">
    <g id="xtick_10">
     <g id="line2d_12">
      <g>
       <use href="#mb9af4d5690" x="145.8" y="272.52" style="stroke: #000000; stroke-width: 0.8"/>
      </g>
     </g>
     <g id="text_14">
      <text style="font-size: 10px; font-family: 'DejaVu Sans', 'Liberation Sans', sans-serif" transform="translate(122.393771 298.995785) rotate(-30)">2020</text>
     </g>
    </g>
    <g id="xtick_11">
     <g id="line2d_13">
      <g>
       <use href="#mb9af4d5690" x="205.56" y="272.52" style="stroke: #000000; stroke-width: 0.8"/>
      </g>
     </g>
     <g id="text_15">
      <text style="font-size: 10px; font-family: 'DejaVu Sans', 'Liberation Sans', sans-serif" transform="translate(182.123892 298.995785) rotate(-30)">2030</text>
     </g>
    </g>
    <g id="xtick_12">
     <g id="line2d_14">
      <g>
       <use href="#mb9af4d5690" x="265.32" y="272.52" style="stroke: #000000; stroke-width: 0.8"/>
      </g>
     </g>
     <g id="text_16">
      <text style="font-size: 10px; font-family: 'DejaVu Sans', 'Liberation Sans', sans-serif" transform="translate(241.837662 298.995785) rotate(-30)">2040</text>
     </g>
    </g>
    <g id="xtick_13">
     <g id="line2d_15">
      <g>
       <use href="#mb9af4d5690" x="325.08" y="272.52" style="stroke: #000000; stroke-width: 0.8"/>
      </g>
     </g>
     <g id="text_17">
      <text style="font-size: 10px; font-family: 'DejaVu Sans', 'Liberation Sans', sans-serif" transform="translate(301.567783 298.995785) rotate(-30)">2050</text>
     </g>
    </g>
    <g id="xtick_14">
     <g id="line2d_16">
      <g>
       <use href="#mb9af4d5690" x="384.84" y="272.52" style="stroke: #000000; stroke-width: 0.8"/>
      </g>
     </g>
     <g id="text_18">
      <text style="font-size: 10px; font-family: 'DejaVu Sans', 'Liberation Sans', sans-serif" transform="translate(361.281553 298.995785) rotate(-30)">2060</text>
     </g>
    </g>
    <g id="xtick_15">
     <g id="line2d_17">
      <g>
       <use href="#mb9af4d5690" x="444.6" y="272.52" style="stroke: #000000; stroke-width: 0.8"/>
      </g>
     </g>
     <g id="text_19">
      <text style="font-size: 10px; font-family: 'DejaVu Sans', 'Liberation Sans', sans-serif" transform="translate(421.011674 298.995785) rotate(-30)">2070</text>
     </g>
    </g>
    <g id="xtick_16">
     <g id="line2d_18">
      <g>
       <use href="#mb9af4d5690" x="504.36" y="272.52" style="stroke: #000000; stroke-width: 0.8"/>
      </g>
     </g>
     <g id="text_20">
      <text style="font-size: 10px; font-family: 'DejaVu Sans', 'Liberation Sans', sans-serif" transform="translate(480.725444 298.995785) rotate(-30)">2080</text>
     </g>
    </g>
    <g id="xtick_17">
     <g id="line2d_19">
      <g>
       <use href="#mb9af4d5690" x="564.12" y="272.52" style="stroke: #000000; stroke-width: 0.8"/>
      </g>
     </g>
     <g id="text_21">
      <text style="font-size: 10px; font-family: 'DejaVu Sans', 'Liberation Sans', sans-serif" transform="translate(540.455565 298.995785) rotate(-30)">2090</text>
     </g>
    </g>
    <g id="xtick_18">
     <g id="line2d_20">
      <g>
       <use href="#mb9af4d5690" x="623.88" y="272.52" style="stroke: #000000; stroke-width: 0.8"/>
      </g>
     </g>
     <g id="text_22">
      <text style="font-size: 10px; font-family: 'DejaVu Sans', 'Liberation Sans', sans-serif" transform="translate(600.169335 298.995785) rotate(-30)">2100</text>
     </g>
    </g>
   </g>
   <g id="matplotlib.axis_4">
    <g id="ytick_3">
     <g id="line2d_21">
      <g>
       <use href="#mb0a17fd25a" x="90.36" y="268.2" style="stroke: #000000; stroke-width: 0.8"/>
      </g>
     </g>
     <g id="text_23">
      <text style="font-size: 10px; font-family: 'DejaVu Sans', 'Liberation Sans', sans-serif; text-anchor: end" x="83" y="271.779132" transform="rotate(-0 83 271.779132)">250</text>
     </g>
    </g>
    <g id="ytick_4">
     <g id="line2d_22">
      <g>
       <use href="#mb0a17fd25a" x="90.36" y="237.96" style="stroke: #000000; stroke-width: 0.8"/>
      </g>
     </g>
     <g id="text_24">
      <text style="font-size: 10px; font-family: 'DejaVu Sans', 'Liberation Sans', sans-serif; text-anchor: end" x="83" y="241.183338" transform="rotate(-0 83 241.183338)">260</text>
     </g>
    </g>
    <g id="ytick_5">
     <g id="line2d_23">
      <g>
       <use href="#mb0a17fd25a" x="90.36" y="207" style="stroke: #000000; stroke-width: 0.8"/>
      </g>
     </g>
     <g id="text_25">
      <text style="font-size: 10px; font-family: 'DejaVu Sans', 'Liberation Sans', sans-serif; text-anchor: end" x="83" y="210.587545" transform="rotate(-0 83 210.587545)">270</text>
     </g>
    </g>
    <g id="text_26">
     <text style="font-size: 10px; font-family: 'DejaVu Sans', 'Liberation Sans', sans-serif; text-anchor: middle" x="57.832812" y="229.903448" transform="translate(-0.5 1.08) rotate(-90 57.832812 229.903448)">fieldmin</text>
    </g>
   </g>
   <g id="L_fieldmin">
    <path d="M114.98 219.4L115.05 239.1L115.11 219.3L115.17 239.1L115.23 218.9L115.3 239.1L115.36 216.6L115.42 239.1L115.48 215.1L115.54 239.1L115.61 214.2L115.67 239.1L115.73 212.8L115.79 235.2L115.86 212.2L115.92 234.2L115.98 211.3L116.04 232.8L116.1 210.2L116.17 232.8L116.23 207.7L116.29 230.6L116.35 206.2L116.42 230.3L116.48 204.5L116.54 230.3L116.6 203.5L116.66 230.9L116.73 203.8L116.79 231.6L116.85 203.3L116.91 231.6L116.98 203L117.04 232.7L117.1 202L117.16 234.9L117.22 201.3L117.29 235.1L117.35 201.4L117.41 236.8L117.47 201.6L117.54 239.4L117.6 200.4L117.66 240.8L117.72 199.2L117.78 243.7L117.85 199.2L117.91 243.7L117.97 199.4L118.03 243.7L118.1 199.9L118.16 243.7L118.22 199.9L118.28 243.7L118.34 198.2L118.41 242.8L118.47 198.2L118.53 231.7L118.59 198.2L118.66 226.4L118.72 198.1L118.78 225.2L118.84 198.3L118.9 221L118.97 198.3L119.03 220.8L119.09 198.5L119.15 220.8L119.22 198.7L119.28 216.1L119.34 198.7L119.4 213.8L119.46 198.9L119.53 212.7L119.59 200.1L119.65 212.7L119.71 199.3L119.78 211.8L119.84 198.6L119.9 210.6L119.96 198L120.02 208.6L120.09 198.4L120.15 207.8L120.21 198.2L120.27 205L120.34 198L120.4 204.9L120.46 198L120.52 204.9L120.58 199L120.65 201.2L120.71 199.8L120.77 201.2L120.83 198.5L120.9 200L120.96 196L121.02 200L121.08 195.7L121.14 200L121.21 195.7L121.27 199L121.33 195.4L121.39 199L121.46 194.8L121.52 198.4L121.58 193.5L121.64 198.6L121.7 193.4L121.77 199.4L121.83 193L121.89 199.4L121.95 193.2L122.02 201.4L122.08 193.9L122.14 201.4L122.2 194.1L122.27 202.7L122.33 194.6L122.39 203.9L122.45 194.9L122.51 205.6L122.58 195L122.64 206.9L122.7 196.5L122.76 206.9L122.83 197.6L122.89 210.4L122.95 197.7L123.01 211L123.07 197.6L123.14 212.3L123.2 197.8L123.26 213.1L123.32 199.1L123.39 215.1L123.45 198.7L123.51 216.8L123.57 198.7L123.63 218.7L123.7 197.8L123.76 222.7L123.82 197.8L123.88 225.7L123.95 199L124.01 230.2L124.07 198.4L124.13 233.2L124.19 198.4L124.26 246.2L124.32 198.7L124.38 246.2L124.44 198.6L124.51 246.2L124.57 198.7L124.63 246.2L124.69 199.2L124.75 246.2L124.82 199.1L124.88 246.2L124.94 198.5L125 236.9L125.07 198.5L125.13 229.3L125.19 199.1L125.25 225.3L125.31 198.9L125.38 224L125.44 198.8L125.5 222.9L125.56 198.9L125.63 219.5L125.69 198.3L125.75 219.5L125.81 198.3L125.87 217.8L125.94 198.4L126 214.3L126.06 198.9L126.12 211.3L126.19 198.9L126.25 210.5L126.31 199.4L126.37 208.6L126.43 198.1L126.5 206.9L126.56 196.7L126.62 206.1L126.68 196.2L126.75 206.1L126.81 196.2L126.87 203.9L126.93 196.2L126.99 203.6L127.06 196L127.12 202.2L127.18 194.6L127.24 200.9L127.31 194.3L127.37 200.5L127.43 193.3L127.49 199.3L127.55 193.3L127.62 197.3L127.68 194.4L127.74 196.4L127.8 192.8L127.87 197.3L127.93 192.8L127.99 197.5L128.05 194.3L128.11 199.2L128.18 194.2L128.24 199.2L128.3 194.2L128.36 201.6L128.43 194.2L128.49 203.5L128.55 196L128.61 203.5L128.67 196.4L128.74 206.1L128.8 196.5L128.86 206.1L128.92 196.2L128.99 207.5L129.05 196.2L129.11 210.1L129.17 197.1L129.23 210.4L129.3 197.6L129.36 215.2L129.42 197.9L129.48 215.2L129.55 197.9L129.61 216.4L129.67 198.3L129.73 219.1L129.8 198.2L129.86 222.2L129.92 197.5L129.98 225L130.04 198.4L130.11 228.8L130.17 198.4L130.23 234.3L130.29 197.9L130.36 244.7L130.42 197.7L130.48 244.7L130.54 198.1L130.6 244.7L130.67 198.7L130.73 244.7L130.79 199.7L130.85 244.7L130.92 198.3L130.98 237.1L131.04 198.2L131.1 232.5L131.16 198.2L131.23 228.1L131.29 199.1L131.35 225L131.41 199.3L131.48 220.9L131.54 199.7L131.6 220L131.66 198L131.72 218L131.79 198.4L131.85 215.8L131.91 198.4L131.97 214.7L132.04 199L132.1 213L132.16 198.1L132.22 210.3L132.28 197.9L132.35 209.5L132.41 197.9L132.47 209.2L132.53 197.6L132.6 207.3L132.66 196.7L132.72 206.1L132.78 196.7L132.84 203.7L132.91 195.6L132.97 202.7L133.03 195.6L133.09 201.7L133.16 196.3L133.22 199.6L133.28 196.7L133.34 199.6L133.4 195.4L133.47 198.3L133.53 195.2L133.59 197.2L133.65 194.3L133.72 197.1L133.78 193.7L133.84 198.6L133.9 193.5L133.96 198.6L134.03 193.5L134.09 200L134.15 194.4L134.21 203.3L134.28 194.5L134.34 203.5L134.4 195.8L134.46 204.8L134.52 196.2L134.59 209.1L134.65 196.2L134.71 210.4L134.77 196.4L134.84 212.1L134.9 196.6L134.96 214.1L135.02 197.5L135.08 219.9L135.15 197L135.21 223.5L135.27 197L135.33 226.4L135.4 197.8L135.46 230.2L135.52 198.8L135.58 236.7L135.64 198.8L135.71 245.9L135.77 198.4L135.83 260.1L135.89 198.3L135.96 260.1L136.02 199L136.08 260.1L136.14 198.1L136.2 260.1L136.27 198.1L136.33 260.1L136.39 197.8L136.45 249.4L136.52 197.5L136.58 241.8L136.64 198.9L136.7 236.6L136.76 198.3L136.83 232.5L136.89 198L136.95 231L137.01 197.8L137.08 227.5L137.14 198.4L137.2 225.4L137.26 198.9L137.33 222.3L137.39 198.8L137.45 221.9L137.51 198.8L137.57 218.8L137.64 198.8L137.7 217.3L137.76 199.5L137.82 216.2L137.89 200L137.95 216.2L138.01 199.9L138.07 214.6L138.13 198.7L138.2 214L138.26 198.2L138.32 211.5L138.38 198.1L138.45 210.2L138.51 197.8L138.57 207.8L138.63 197.3L138.69 207.8L138.76 197L138.82 205.1L138.88 196.4L138.94 205.1L139.01 197.4L139.07 205.1L139.13 196.5L139.19 203.2L139.25 195.7L139.32 201.9L139.38 195.8L139.44 199.1L139.5 195.4L139.57 199.1L139.63 193.8L139.69 197.7L139.75 193.8L139.81 197.1L139.88 194.4L139.94 197.9L140 194.4L140.06 197.9L140.13 194.8L140.19 198.9L140.25 195.1L140.31 201.3L140.37 195.1L140.44 201.7L140.5 195.6L140.56 203.7L140.62 195.6L140.69 205.3L140.75 196.4L140.81 208.6L140.87 196.1L140.93 209L141 196.9L141.06 209L141.12 197L141.18 211L141.25 197L141.31 214.4L141.37 197.8L141.43 214.8L141.49 197.8L141.56 216.5L141.62 198.9L141.68 218L141.74 198.6L141.81 222.5L141.87 198.1L141.93 225.9L141.99 199.1L142.05 231.5L142.12 199.3L142.18 238.9L142.24 198.6L142.3 246.9L142.37 198.9L142.43 246.9L142.49 199L142.55 246.9L142.61 198.8L142.68 246.9L142.74 197.9L142.8 246.9L142.86 197.9L142.93 239.6L142.99 197.9L143.05 234.9L143.11 198.4L143.17 230.6L143.24 198.6L143.3 226.8L143.36 199.4L143.42 222.2L143.49 198.5L143.55 220.9L143.61 198.5L143.67 218.7L143.73 198.1L143.8 217L143.86 197.6L143.92 214.7L143.98 199L144.05 213.8L144.11 199L144.17 211L144.23 198.8L144.29 209.5L144.36 198.7L144.42 208.8L144.48 198.5L144.54 206.1L144.61 198.1L144.67 205.1L144.73 196.5L144.79 204.7L144.85 195.7L144.92 204.7L144.98 195L145.04 203.7L145.1 194.5L145.17 203.3L145.23 193.8L145.29 199.5L145.35 193L145.42 198.3L145.48 193.6L145.54 197.3L145.6 193.8L145.66 197.3L145.73 192.6L145.79 198.8L145.85 192L145.91 199.8L145.98 192.2L146.04 200.6L146.1 192.8L146.16 200.6L146.22 194L146.29 201.8L146.35 194L146.41 205.9L146.47 193.4L146.54 207.8L146.6 194L146.66 208.5L146.72 195L146.78 212L146.85 195.7L146.91 214L146.97 196.1L147.03 215.7L147.1 196.4L147.16 217L147.22 196.4L147.28 220.4L147.34 197.9L147.41 226.6L147.47 198.2L147.53 231.9L147.59 197.9L147.66 237.2L147.72 197.9L147.78 248L147.84 198.5L147.9 248L147.97 198.7L148.03 248L148.09 198.4L148.15 248L148.22 197.8L148.28 248L148.34 198.4L148.4 240.4L148.46 198.4L148.53 235.4L148.59 198.4L148.65 230.5L148.71 198.7L148.78 228L148.84 198.6L148.9 224.8L148.96 198.4L149.02 222.8L149.09 198.4L149.15 221L149.21 199.7L149.27 221L149.34 199.7L149.4 218.3L149.46 199.5L149.52 216.7L149.58 199.3L149.65 214.8L149.71 199.5L149.77 214L149.83 198.7L149.9 213.3L149.96 197.8L150.02 212.9L150.08 197.7L150.14 209.9L150.21 197.7L150.27 209.2L150.33 198.4L150.39 208.5L150.46 197.6L150.52 206.6L150.58 197.6L150.64 205.2L150.7 197.4L150.77 203.2L150.83 197.4L150.89 202.9L150.95 198.2L151.02 202.9L151.08 198.1L151.14 202.9L151.2 197.7L151.26 202.9L151.33 197.7L151.39 201.5L151.45 197.7L151.51 200.8L151.58 198L151.64 199L151.7 197.3L151.76 198.7L151.82 197.3L151.89 198.6L151.95 197.2L152.01 198.4L152.07 196.9L152.14 199.7L152.2 197.4L152.26 202.1L152.32 198.6L152.38 202.9L152.45 197.8L152.51 203.7L152.57 198L152.63 205.3L152.7 198.5L152.76 206.9L152.82 198.8L152.88 209.7L152.95 197.8L153.01 212.7L153.07 197.8L153.13 215.1L153.19 198.1L153.26 217.1L153.32 198.9L153.38 220L153.44 199.9L153.51 223.1L153.57 200L153.63 230.7L153.69 199L153.75 241.1L153.82 198.5L153.88 241.1L153.94 198.3L154 241.1L154.07 197.9L154.13 241.1L154.19 198.4L154.25 241.1L154.31 198.2L154.38 241.1L154.44 199.4L154.5 234L154.56 199.4L154.63 229.9L154.69 198.4L154.75 226.8L154.81 198.3L154.87 225.1L154.94 199L155 222.1L155.06 198.4L155.12 220.1L155.19 198.4L155.25 219.1L155.31 197.8L155.37 216.7L155.43 197.8L155.5 216L155.56 198.6L155.62 216L155.68 198.8L155.75 213.4L155.81 197.8L155.87 212L155.93 197.8L155.99 210.7L156.06 198.1L156.12 208.7L156.18 198.1L156.24 207.9L156.31 197.7L156.37 207.8L156.43 197.7L156.49 206L156.55 198.2L156.62 204.9L156.68 198.1L156.74 204.9L156.8 198L156.87 204.9L156.93 198L156.99 204.9L157.05 198.2L157.11 202.7L157.18 198.2L157.24 202.2L157.3 198.3L157.36 199.7L157.43 198.1L157.49 199.5L157.55 198.1L157.61 199.7L157.67 198.2L157.74 199.7L157.8 198.3L157.86 199.8L157.92 198.5L157.99 199.6L158.05 197.7L158.11 198.8L158.17 197.3L158.23 198.1L158.3 196.6L158.36 201.6L158.42 197.3L158.48 203.3L158.55 196.9L158.61 203.3L158.67 196.9L158.73 205.2L158.79 197.3L158.86 206L158.92 197.7L158.98 206.7L159.04 197.7L159.11 212.9L159.17 198.7L159.23 214.9L159.29 198.3L159.35 217.4L159.42 198L159.48 221.2L159.54 198L159.6 223.3L159.67 198.3L159.73 230.9L159.79 198.6L159.85 240.4L159.91 199.2L159.98 240.4L160.04 198.2L160.1 240.4L160.16 198.1L160.23 240.4L160.29 198.1L160.35 240.4L160.41 199.1L160.48 240.4L160.54 198.4L160.6 233.8L160.66 197.6L160.72 229.7L160.79 197.5L160.85 228.1L160.91 197.9L160.97 224.7L161.04 198.4L161.1 222.4L161.16 198.7L161.22 220.7L161.28 199L161.35 219.9L161.41 199L161.47 216.7L161.53 198.7L161.6 215.4L161.66 197.9L161.72 213.6L161.78 197.3L161.84 213.3L161.91 198.9L161.97 212.2L162.03 199.3L162.09 211.9L162.16 199.6L162.22 211.8L162.28 199.3L162.34 208.3L162.4 199.4L162.47 206.4L162.53 198.9L162.59 206.4L162.65 198.9L162.72 205.3L162.78 198.4L162.84 204.9L162.9 197.8L162.96 203.5L163.03 196.9L163.09 203.5L163.15 197.3L163.21 203.5L163.28 196.4L163.34 202.6L163.4 196.4L163.46 201.7L163.52 196.8L163.59 201L163.65 196.8L163.71 200.7L163.77 196.5L163.84 199.7L163.9 196.2L163.96 199.7L164.02 195.1L164.08 198.9L164.15 195.1L164.21 198L164.27 195.2L164.33 196.3L164.4 193.5L164.46 198.7L164.52 193.5L164.58 200.8L164.64 194.2L164.71 203.7L164.77 194.8L164.83 206.6L164.89 195.5L164.96 207.6L165.02 195L165.08 211.1L165.14 195L165.2 212.5L165.27 196L165.33 223.3L165.39 196.2L165.45 227.1L165.52 196.6L165.58 241.6L165.64 196.6L165.7 241.6L165.76 197.9L165.83 241.6L165.89 197.4L165.95 241.6L166.01 197.4L166.08 241.6L166.14 199L166.2 241.6L166.26 199L166.32 231.2L166.39 199.1L166.45 227L166.51 199.1L166.57 225.4L166.64 198.1L166.7 222.8L166.76 197.2L166.82 220.2L166.88 198.6L166.95 218L167.01 199L167.07 215.6L167.13 199L167.2 214.9L167.26 198.2L167.32 213.7L167.38 198.2L167.44 213.3L167.51 197.8L167.57 211.4L167.63 197.5L167.69 210.3L167.76 198.4L167.82 210.3L167.88 199.2L167.94 210.1L168.01 198.5L168.07 207.8L168.13 198.5L168.19 205.8L168.25 198.6L168.32 204.9L168.38 198.6L168.44 204.9L168.5 198.8L168.57 203.6L168.63 198.8L168.69 203.6L168.75 197.6L168.81 202.5L168.88 197.1L168.94 201.7L169 197.1L169.06 201.5L169.13 196.1L169.19 201.5L169.25 195.2L169.31 200.9L169.37 195.2L169.44 199L169.5 195.3L169.56 198L169.62 195L169.69 197.5L169.75 194.1L169.81 198.1L169.87 194.1L169.93 198.5L170 194.9L170.06 199.1L170.12 195.1L170.18 203.2L170.25 194L170.31 204.4L170.37 194L170.43 207.1L170.49 195.7L170.56 207.6L170.62 196.4L170.68 208.9L170.74 197.1L170.81 211.3L170.87 197L170.93 213.6L170.99 196.9L171.05 214.8L171.12 196.9L171.18 220.2L171.24 197.3L171.3 220.5L171.37 197.8L171.43 223.1L171.49 198.2L171.55 226.9L171.61 198.2L171.68 230.8L171.74 198.7L171.8 235.8L171.86 198.8L171.93 242.7L171.99 198.8L172.05 258L172.11 198.8L172.17 258L172.24 198.2L172.3 258L172.36 198.7L172.42 258L172.49 198.7L172.55 258L172.61 198.4L172.67 258L172.73 198.4L172.8 246.2L172.86 199.1L172.92 242.5L172.98 198.4L173.05 236.3L173.11 197.7L173.17 232.3L173.23 197.7L173.29 227.6L173.36 198.5L173.42 227.1L173.48 198L173.54 223.9L173.61 198L173.67 221.5L173.73 198.9L173.79 220.2L173.85 198.2L173.92 216.4L173.98 198.1L174.04 215.3L174.1 197.3L174.17 213.3L174.23 197.3L174.29 212.3L174.35 198L174.41 212.3L174.48 198L174.54 207.5L174.6 198.3L174.66 207.3L174.73 198.1L174.79 205.8L174.85 198.1L174.91 204.8L174.97 198L175.04 202.6L175.1 198.4L175.16 201.2L175.22 198.3L175.29 200.3L175.35 198.5L175.41 199.9L175.47 197.4L175.54 199.3L175.6 196.6L175.66 198.1L175.72 196.6L175.78 198.3L175.85 196.9L175.91 199.3L175.97 197.6L176.03 200.2L176.1 197.5L176.16 202.5L176.22 196.9L176.28 204L176.34 196.9L176.41 204.8L176.47 199L176.53 207.3L176.59 198.8L176.66 208.4L176.72 198.4L176.78 209.1L176.84 197.1L176.9 209.8L176.97 196.7L177.03 211.6L177.09 197.5L177.15 214.5L177.22 198.1L177.28 216.2L177.34 199.2L177.4 219.8L177.46 199.1L177.53 222.8L177.59 198.3L177.65 228.9L177.71 198L177.78 235.2L177.84 198.6L177.9 240.4L177.96 198.4L178.02 240.4L178.09 199.3L178.15 240.4L178.21 198.8L178.27 240.4L178.34 198.6L178.4 240.4L178.46 197.6L178.52 235.6L178.58 197.6L178.65 230.4L178.71 198L178.77 226.5L178.83 198L178.9 223.1L178.96 198.3L179.02 222L179.08 198.4L179.14 218.2L179.21 198.6L179.27 218.2L179.33 198.9L179.39 215.3L179.46 198.5L179.52 213.9L179.58 197.7L179.64 212.5L179.7 198.6L179.77 210.9L179.83 198.8L179.89 209.9L179.95 199L180.02 208L180.08 199L180.14 207.7L180.2 198L180.26 207.2L180.33 197.2L180.39 205.8L180.45 197.2L180.51 204.5L180.58 196.4L180.64 204.5L180.7 195.4L180.76 204.5L180.82 195.2L180.89 201.5L180.95 194.7L181.01 201.5L181.07 194.7L181.14 200.2L181.2 194.3L181.26 197.9L181.32 194.3L181.38 196.6L181.45 193.7L181.51 196.6L181.57 193.1L181.63 197L181.7 193.1L181.76 197.3L181.82 193L181.88 198.2L181.94 193.1L182.01 200.3L182.07 194L182.13 201.8L182.19 194.2L182.26 205.9L182.32 194.6L182.38 206.2L182.44 194.8L182.5 207.3L182.57 195.8L182.63 208.2L182.69 196.7L182.75 210.5L182.82 196.8L182.88 212.4L182.94 196.2L183 215.4L183.06 196.5L183.13 220.2L183.19 197.3L183.25 224.5L183.31 198.5L183.38 226.6L183.44 197.4L183.5 234.4L183.56 197.4L183.63 241.1L183.69 197.4L183.75 241.1L183.81 198L183.87 241.1L183.94 198.2L184 241.1L184.06 198.3L184.12 241.1L184.19 198.4L184.25 239.5L184.31 198.4L184.37 231.4L184.43 199.3L184.5 228.3L184.56 199.4L184.62 226.5L184.68 199.6L184.75 223L184.81 198.2L184.87 221.6L184.93 198.2L184.99 218.8L185.06 197.7L185.12 218.5L185.18 197.7L185.24 215.9L185.31 198.9L185.37 212.7L185.43 198.8L185.49 212.3L185.55 198.8L185.62 211.4L185.68 198.4L185.74 211.4L185.8 199.1L185.87 209.8L185.93 198.4L185.99 208.5L186.05 198L186.11 207L186.18 197.7L186.24 206L186.3 197.4L186.36 204.4L186.43 197.4L186.49 204.4L186.55 197.5L186.61 203.6L186.67 196.7L186.74 201.5L186.8 196.2L186.86 200.3L186.92 196.2L186.99 200L187.05 195.4L187.11 200L187.17 194.1L187.23 200L187.3 194.1L187.36 198.1L187.42 194.1L187.48 197.7L187.55 193.4L187.61 198.3L187.67 192.8L187.73 198.8L187.79 192.9L187.86 198.8L187.92 193.4L187.98 199.5L188.04 194.5L188.11 200.7L188.17 194.6L188.23 204.4L188.29 194.9L188.35 204.4L188.42 195.7L188.48 204.4L188.54 197.2L188.6 206.3L188.67 196.8L188.73 207.5L188.79 196.9L188.85 212L188.91 198.3L188.98 212L189.04 198.4L189.1 213.3L189.16 198.4L189.23 213.3L189.29 199.1L189.35 214.5L189.41 199.5L189.47 218.7L189.54 199.6L189.6 222L189.66 198.9L189.72 226.9L189.79 198.9L189.85 230.7L189.91 198.8L189.97 236.5L190.03 198.8L190.1 241.8L190.16 198.5L190.22 241.8L190.28 198.6L190.35 241.8L190.41 198.6L190.47 241.8L190.53 199L190.59 241.8L190.66 199.5L190.72 241.8L190.78 199.1L190.84 231.6L190.91 198.9L190.97 229.2L191.03 198.7L191.09 227.2L191.16 198.7L191.22 223.6L191.28 199.2L191.34 222L191.4 199.1L191.47 219.4L191.53 199.9L191.59 215.8L191.65 198.7L191.72 215.8L191.78 199L191.84 214.5L191.9 199.1L191.96 212.5L192.03 199.1L192.09 212.1L192.15 199.2L192.21 211.6L192.28 198.9L192.34 209.2L192.4 198.7L192.46 209.2L192.52 198.2L192.59 206.1L192.65 197.7L192.71 205.2L192.77 197.5L192.84 205L192.9 197.5L192.96 203.5L193.02 197.3L193.08 202.3L193.15 196.4L193.21 201.4L193.27 196.3L193.33 201.4L193.4 196.5L193.46 201.4L193.52 195.3L193.58 200.5L193.64 194.1L193.71 199.9L193.77 194.1L193.83 197.4L193.89 193.9L193.96 197.7L194.02 193.8L194.08 199.9L194.14 195L194.2 200.4L194.27 195.1L194.33 201.6L194.39 195.1L194.45 204.3L194.52 195.2L194.58 204.3L194.64 195.7L194.7 207.5L194.76 196.3L194.83 208.6L194.89 197.6L194.95 210L195.01 197.8L195.08 213.6L195.14 198.4L195.2 215.9L195.26 198L195.32 220.9L195.39 198L195.45 222.4L195.51 198.2L195.57 226.5L195.64 198.5L195.7 232.7L195.76 198L195.82 247.2L195.88 197.5L195.95 247.2L196.01 199.3L196.07 247.2L196.13 199.6L196.2 247.2L196.26 199.5L196.32 247.2L196.38 199.4L196.44 247.2L196.51 199L196.57 237L196.63 199L196.69 230.4L196.76 199.1L196.82 227.4L196.88 199.1L196.94 223.5L197 198.6L197.07 221.2L197.13 197.9L197.19 220.4L197.25 198.5L197.32 218.4L197.38 198.1L197.44 216.1L197.5 198.1L197.56 215.5L197.63 197.7L197.69 215.5L197.75 198.2L197.81 214.6L197.88 198.4L197.94 211.8L198 197.5L198.06 210.8L198.12 197.7L198.19 210.6L198.25 197.8L198.31 208.3L198.37 197.1L198.44 206.9L198.5 195.8L198.56 205.7L198.62 195.8L198.69 205.7L198.75 196.5L198.81 202.6L198.87 196L198.93 202.6L199 195.2L199.06 200.2L199.12 195.1L199.18 197.9L199.25 194.8L199.31 197.7L199.37 193.4L199.43 197.7L199.49 193.4L199.56 197.7L199.62 193.5L199.68 197.6L199.74 192.8L199.81 197.8L199.87 193.3L199.93 199.3L199.99 194.1L200.05 202.9L200.12 194L200.18 203.7L200.24 194.1L200.3 205.1L200.37 194.7L200.43 205.1L200.49 195.5L200.55 208.7L200.61 195.5L200.68 211.6L200.74 195.8L200.8 212.2L200.86 196.6L200.93 214.1L200.99 196.9L201.05 215.4L201.11 197.3L201.17 218.5L201.24 197.2L201.3 220.3L201.36 198.2L201.42 225.4L201.49 198.5L201.55 229.4L201.61 199L201.67 232L201.73 198.5L201.8 236.1L201.86 197.9L201.92 241.3L201.98 198.2L202.05 250.9L202.11 199.4L202.17 250.9L202.23 199.1L202.29 250.9L202.36 198.6L202.42 250.9L202.48 197.9L202.54 250.9L202.61 197.7L202.67 248.6L202.73 198L202.79 239L202.85 198L202.92 236.6L202.98 198.5L203.04 232.5L203.1 198.6L203.17 230.1L203.23 198.6L203.29 225.6L203.35 199.2L203.41 224L203.48 200L203.54 220.8L203.6 199.2L203.66 219.1L203.73 199L203.79 219.1L203.85 198.8L203.91 215.7L203.97 199L204.04 214.5L204.1 198.5L204.16 212.4L204.22 198.5L204.29 210L204.35 197.8L204.41 208.8L204.47 197.8L204.53 207.8L204.6 196.5L204.66 207.3L204.72 194.6L204.78 204.6L204.85 194.6L204.91 203.4L204.97 194.8L205.03 203.4L205.09 194.8L205.16 201.4L205.22 194.4L205.28 200.4L205.34 193.2L205.41 200L205.47 192.5L205.53 198L205.59 192L205.65 197.3L205.72 192L205.78 197.8L205.84 192.1L205.9 198.2L205.97 192.3L206.03 200.1L206.09 193.3L206.15 201.7L206.22 194L206.28 203.1L206.34 194L206.4 204.2L206.46 194.8L206.53 205.4L206.59 195.3L206.65 206.1L206.71 196.1L206.78 209.2L206.84 197.8L206.9 210.3L206.96 197.5L207.02 210.3L207.09 197.8L207.15 214.9L207.21 197.9L207.27 216.8L207.34 197.9L207.4 216.8L207.46 197.9L207.52 218L207.58 198.1L207.65 222.5L207.71 198.4L207.77 226.4L207.83 198.2L207.9 229.3L207.96 198.2L208.02 236.3L208.08 198.2L208.14 240.4L208.21 198.2L208.27 240.4L208.33 198.2L208.39 240.4L208.46 198.2L208.52 240.4L208.58 198.4L208.64 240.4L208.7 199L208.77 236.2L208.83 198.4L208.89 230.5L208.95 198.7L209.02 225.8L209.08 199L209.14 224.5L209.2 199L209.26 221.3L209.33 199L209.39 218.1L209.45 198L209.51 217.4L209.58 198L209.64 215.2L209.7 199.4L209.76 212.6L209.82 198.1L209.89 211.5L209.95 198.1L210.01 210.1L210.07 199.2L210.14 209.1L210.2 197.8L210.26 208.6L210.32 197.5L210.38 206.3L210.45 197.7L210.51 204.9L210.57 197.3L210.63 203.1L210.7 197.1L210.76 203L210.82 196.5L210.88 203L210.94 196.8L211.01 200.3L211.07 196.2L211.13 200L211.19 196.3L211.26 198.7L211.32 195L211.38 198.1L211.44 194.2L211.5 197L211.57 195.2L211.63 197L211.69 194.7L211.75 197.7L211.82 195.3L211.88 198.9L211.94 195.6L212 201.3L212.06 196.3L212.13 204L212.19 196.4L212.25 205.1L212.31 196.4L212.38 206.3L212.44 195.7L212.5 207.3L212.56 196.2L212.62 210.4L212.69 196.8L212.75 212.3L212.81 197.7L212.87 214.6L212.94 197.8L213 218.7L213.06 198L213.12 220.6L213.18 198.3L213.25 223.4L213.31 199L213.37 226.3L213.43 198.2L213.5 229.2L213.56 198.3L213.62 236.2L213.68 198.5L213.74 244.6L213.81 198.5L213.87 253.4L213.93 198.6L213.99 253.4L214.06 198.6L214.12 253.4L214.18 198.8L214.24 253.4L214.31 199.5L214.37 253.4L214.43 199.6L214.49 246.7L214.55 199.6L214.62 240.7L214.68 199.1L214.74 233.3L214.8 199.1L214.87 230.6L214.93 198.4L214.99 228L215.05 198.1L215.11 225L215.18 198.1L215.24 222L215.3 200L215.36 220.5L215.43 199.8L215.49 218.8L215.55 199L215.61 217.2L215.67 199L215.74 215.1L215.8 199.5L215.86 213.1L215.92 198.6L215.99 212.8L216.05 198.1L216.11 211L216.17 197.9L216.23 207.7L216.3 198.1L216.36 206.1L216.42 197.9L216.48 204.4L216.55 196.6L216.61 203.5L216.67 195.6L216.73 203.5L216.79 195.6L216.86 202.9L216.92 195.3L216.98 200.2L217.04 195.3L217.11 199.3L217.17 195.5L217.23 199.3L217.29 195.2L217.35 196.6L217.42 194.5L217.48 198.9L217.54 193.8L217.6 198.9L217.67 194.1L217.73 198.9L217.79 194.4L217.85 199.3L217.91 195.6L217.98 202.1L218.04 195.5L218.1 202.1L218.16 195.7L218.23 203.7L218.29 196.1L218.35 205.2L218.41 196.1L218.47 205.7L218.54 196.8L218.6 207.7L218.66 198L218.72 208.6L218.79 198.6L218.85 211.4L218.91 198.2L218.97 213.8L219.03 198.2L219.1 214L219.16 199.2L219.22 216.1L219.28 198.9L219.35 216.8L219.41 198.8L219.47 221.7L219.53 198.4L219.59 224.1L219.66 198L219.72 226.2L219.78 198.1L219.84 231.8L219.91 198.2L219.97 238.9L220.03 198.4L220.09 240.8L220.15 198.4L220.22 240.8L220.28 198.4L220.34 240.8L220.4 199.2L220.47 240.8L220.53 198.6L220.59 240.8L220.65 198.2L220.71 235.7L220.78 198.2L220.84 229L220.9 198.6L220.96 225L221.03 197.2L221.09 222.6L221.15 197.2L221.21 220.8L221.27 197.6L221.34 217.7L221.4 197.8L221.46 215.5L221.52 197.5L221.59 214.9L221.65 197.5L221.71 212.3L221.77 197.2L221.84 210.6L221.9 196.9L221.96 210.6L222.02 196.5L222.08 210.2L222.15 195.2L222.21 207L222.27 194.4L222.33 205.3L222.4 195L222.46 205L222.52 194.2L222.58 200.6L222.64 194.1L222.71 200.6L222.77 193.7L222.83 200.1L222.89 193.2L222.96 199.1L223.02 193.1L223.08 197.8L223.14 192.8L223.2 199.3L223.27 192.8L223.33 201.3L223.39 193.3L223.45 203.6L223.52 193.3L223.58 203.8L223.64 194.3L223.7 207.1L223.76 194.9L223.83 207.5L223.89 195.9L223.95 209.8L224.01 195.9L224.08 211.5L224.14 195.9L224.2 213.9L224.26 196.4L224.32 216.7L224.39 196.4L224.45 219.5L224.51 196.8L224.57 222.3L224.64 197.4L224.7 226.9L224.76 197.4L224.82 229L224.88 198.2L224.95 233.8L225.01 198.8L225.07 238.5L225.13 198.8L225.2 243.5L225.26 198.3L225.32 252L225.38 198.3L225.44 263.9L225.51 197.8L225.57 267.8L225.63 198.6L225.69 267.8L225.76 197.8L225.82 267.8L225.88 197.8L225.94 267.8L226 197.8L226.07 267.8L226.13 197.5L226.19 260.1L226.25 197.5L226.32 253.6L226.38 198.6L226.44 248.3L226.5 197.8L226.56 243L226.63 199.1L226.69 237.4L226.75 198.9L226.81 234.9L226.88 198.9L226.94 232.5L227 199.1L227.06 230.3L227.12 199.6L227.19 225.8L227.25 199.6L227.31 225.6L227.37 199.3L227.44 222.2L227.5 198.2L227.56 221.4L227.62 198.4L227.68 218L227.75 198.3L227.81 217.2L227.87 198.8L227.93 216.9L228 199.4L228.06 213.8L228.12 198.3L228.18 213.2L228.24 198.1L228.31 211.2L228.37 196.2L228.43 210.1L228.49 196.2L228.56 208.8L228.62 195.6L228.68 208.4L228.74 195.6L228.8 207.3L228.87 196.3L228.93 206L228.99 195.3L229.05 204L229.12 194.6L229.18 202.2L229.24 194.3L229.3 200.2L229.37 194.7L229.43 200.2L229.49 193.9L229.55 200.2L229.61 193.5L229.68 197.6L229.74 193.5L229.8 199.2L229.86 194L229.93 200.8L229.99 195L230.05 203.8L230.11 195.1L230.17 206.4L230.24 195.1L230.3 206.6L230.36 195.4L230.42 208.8L230.49 196.1L230.55 211.2L230.61 196.6L230.67 212.7L230.73 197.7L230.8 216.6L230.86 196.5L230.92 220L230.98 196.5L231.05 223.1L231.11 196.8L231.17 228.7L231.23 197.8L231.29 231.8L231.36 198.3L231.42 237.2L231.48 198.3L231.54 250.5L231.61 198.4L231.67 250.5L231.73 199.1L231.79 250.5L231.85 198.8L231.92 250.5L231.98 198.8L232.04 250.5L232.1 198.5L232.17 250.5L232.23 198L232.29 237.7L232.35 199.1L232.41 232.6L232.48 199.7L232.54 229.8L232.6 199.2L232.66 225.4L232.73 198.1L232.79 225.3L232.85 198.1L232.91 223L232.97 198.2L233.04 220.8L233.1 198.2L233.16 218.9L233.22 198.2L233.29 216.9L233.35 198.4L233.41 214.6L233.47 198.3L233.53 213.9L233.6 198L233.66 210.7L233.72 198L233.78 208.9L233.85 197.9L233.91 207.6L233.97 197.5L234.03 205.3L234.09 196.3L234.16 203.3L234.22 195.6L234.28 203L234.34 195.6L234.41 203L234.47 195.1L234.53 201.1L234.59 194.3L234.65 201.1L234.72 194.1L234.78 198.4L234.84 193.5L234.9 198.3L234.97 192.8L235.03 198.2L235.09 192.8L235.15 197.8L235.21 192.9L235.28 198.3L235.34 194L235.4 198.3L235.46 193.8L235.53 199.1L235.59 193.8L235.65 199.7L235.71 195.3L235.77 200.4L235.84 195.3L235.9 201.9L235.96 194.5L236.02 204.3L236.09 194.5L236.15 206.4L236.21 196.2L236.27 206.4L236.33 196.3L236.4 208.4L236.46 196.5L236.52 209.5L236.58 197.7L236.65 211.9L236.71 197.9L236.77 213.5L236.83 198.1L236.9 217L236.96 199.4L237.02 217L237.08 199.4L237.14 218.1L237.21 199.7L237.27 222.1L237.33 198.2L237.39 226.7L237.46 197.9L237.52 232.8L237.58 198.8L237.64 240.4L237.7 199L237.77 240.4L237.83 198.5L237.89 240.4L237.95 198.2L238.02 240.4L238.08 198.2L238.14 240.4L238.2 198.2L238.26 234.6L238.33 199L238.39 229.4L238.45 198.2L238.51 223.9L238.58 198.2L238.64 222.9L238.7 198.1L238.76 222.8L238.82 199.1L238.89 218L238.95 199.1L239.01 214.8L239.07 198.6L239.14 213.9L239.2 198.7L239.26 210.6L239.32 198.7L239.38 209.6L239.45 199L239.51 209.6L239.57 197.6L239.63 207.8L239.7 197.9L239.76 207.5L239.82 197.1L239.88 206.8L239.94 197.1L240.01 204.3L240.07 197.7L240.13 203.2L240.19 196.8L240.26 203.2L240.32 196.8L240.38 202.8L240.44 196.8L240.5 201.3L240.57 195.5L240.63 200.1L240.69 194.2L240.75 199.6L240.82 194.1L240.88 198.9L240.94 194.7L241 197.5L241.06 194.2L241.13 197.5L241.19 193.5L241.25 197.6L241.31 193.6L241.38 199.3L241.44 195.1L241.5 199.3L241.56 194.9L241.62 200.9L241.69 194.6L241.75 201.2L241.81 194.6L241.87 201.5L241.94 195.2L242 204.6L242.06 195.9L242.12 206.6L242.18 195.9L242.25 208.8L242.31 197L242.37 210.2L242.43 197.8L242.5 214L242.56 197.7L242.62 216.4L242.68 197.7L242.74 218.3L242.81 200L242.87 223.2L242.93 199.6L242.99 229.8L243.06 198.6L243.12 237.2L243.18 198.6L243.24 237.2L243.3 198.3L243.37 237.2L243.43 198.5L243.49 237.2L243.55 197.6L243.62 237.2L243.68 197.6L243.74 230.4L243.8 198.2L243.86 226L243.93 199.2L243.99 222.5L244.05 199.3L244.11 220.9L244.18 198.8L244.24 218.8L244.3 198.5L244.36 217.5L244.42 198.3L244.49 216.2L244.55 198.9L244.61 214L244.67 198.9L244.74 214L244.8 199.2L244.86 212.4L244.92 199.7L244.99 212.4L245.05 199L245.11 209.6L245.17 198.4L245.23 207.8L245.3 198.7L245.36 207.8L245.42 198.2L245.48 207.8L245.55 198.2L245.61 205.7L245.67 198.3L245.73 205.7L245.79 199.5L245.86 205.7L245.92 198.1L245.98 204.4L246.04 197.8L246.11 203.1L246.17 196.8L246.23 201.8L246.29 196.8L246.35 201.8L246.42 197.6L246.48 201.3L246.54 196.7L246.6 200.2L246.67 195.9L246.73 200.2L246.79 195.4L246.85 200.2L246.91 195.1L246.98 198.2L247.04 195.6L247.1 196.6L247.16 194.8L247.23 196.3L247.29 194.1L247.35 196.1L247.41 193.8L247.47 197.1L247.54 193.9L247.6 199.2L247.66 194.3L247.72 201.2L247.79 194.8L247.85 201.8L247.91 195.1L247.97 201.8L248.03 195.5L248.1 203.8L248.16 196.7L248.22 204.2L248.28 196.9L248.35 206.3L248.41 197.2L248.47 208.3L248.53 197.5L248.59 210.2L248.66 197.6L248.72 210.2L248.78 198.1L248.84 213.7L248.91 198.7L248.97 217.4L249.03 198.7L249.09 219.2L249.15 198.7L249.22 221.2L249.28 198.4L249.34 227.4L249.4 197.1L249.47 233.8L249.53 197.1L249.59 242.8L249.65 197.4L249.71 242.8L249.78 198.2L249.84 242.8L249.9 198.6L249.96 242.8L250.03 199.1L250.09 242.8L250.15 198.9L250.21 232.8L250.27 197.9L250.34 228.3L250.4 197.9L250.46 224.4L250.52 197.8L250.59 221.8L250.65 198.4L250.71 218.5L250.77 197.9L250.83 216.8L250.9 197.9L250.96 216.3L251.02 197.7L251.08 214.2L251.15 198.3L251.21 214.2L251.27 198.9L251.33 210.5L251.39 198.9L251.46 210.5L251.52 199.2L251.58 209L251.64 200.2L251.71 208.3L251.77 199.1L251.83 206.3L251.89 198.7L251.95 206L252.02 197.8L252.08 202.9L252.14 197.8L252.2 201.9L252.27 197.4L252.33 201.9L252.39 197L252.45 201L252.52 197.1L252.58 200.7L252.64 196.7L252.7 199.9L252.76 196.7L252.83 198.7L252.89 196.2L252.95 198.7L253.01 195.3L253.08 198.2L253.14 196L253.2 197.2L253.26 194.5L253.32 197.2L253.39 194.5L253.45 198.2L253.51 194.6L253.57 199.9L253.64 194.8L253.7 200.7L253.76 195.2L253.82 200.7L253.88 195.2L253.95 200.7L254.01 195.1L254.07 204.3L254.13 195.7L254.2 205L254.26 196.8L254.32 207.1L254.38 196.7L254.44 207.1L254.51 197L254.57 207.4L254.63 197.8L254.69 211.7L254.76 198L254.82 212.6L254.88 198L254.94 216L255 199.2L255.07 216L255.13 197.8L255.19 219.2L255.25 197.8L255.32 222.7L255.38 198.1L255.44 226.4L255.5 198.8L255.56 236.8L255.63 199.1L255.69 236.8L255.75 199.4L255.81 236.8L255.88 198.7L255.94 236.8L256 198.2L256.06 236.8L256.12 198.6L256.19 236.8L256.25 198.2L256.31 229.1L256.37 198.8L256.44 225L256.5 199L256.56 223.5L256.62 198.2L256.68 219.1L256.75 198.2L256.81 217.8L256.87 198.9L256.93 214L257 198.1L257.06 213.4L257.12 198.5L257.18 212.4L257.24 198.3L257.31 211.8L257.37 198.1L257.43 209.4L257.49 198.1L257.56 209.4L257.62 197.1L257.68 209.4L257.74 197L257.8 207L257.87 196.7L257.93 207L257.99 195.7L258.05 206.7L258.12 195.7L258.18 204.5L258.24 196.2L258.3 202.8L258.36 196.2L258.43 202.8L258.49 194.7L258.55 200.7L258.61 194.7L258.68 199.3L258.74 193.2L258.8 197.4L258.86 193L258.92 197.4L258.99 193L259.05 197.4L259.11 193.8L259.17 197.4L259.24 193.7L259.3 198L259.36 193.7L259.42 199.6L259.48 193.8L259.55 201.6L259.61 193.8L259.67 202L259.73 194L259.8 204.3L259.86 194.3L259.92 205.3L259.98 194.5L260.05 205.9L260.11 195.6L260.17 207.7L260.23 195.4L260.29 208.9L260.36 196.5L260.42 213.5L260.48 196.8L260.54 216.2L260.61 196.5L260.67 217.9L260.73 196.7L260.79 220.1L260.85 198L260.92 226.3L260.98 198.8L261.04 237.1L261.1 199.1L261.17 237.1L261.23 199.1L261.29 237.1L261.35 199.3L261.41 237.1L261.48 199.5L261.54 237.1L261.6 198.4L261.66 237.1L261.73 198.4L261.79 230.2L261.85 198.2L261.91 225.8L261.97 198.5L262.04 223.6L262.1 198.4L262.16 220.7L262.22 198.9L262.29 217.9L262.35 199.2L262.41 217.9L262.47 199.3L262.53 215.4L262.6 198L262.66 214.3L262.72 197.7L262.78 213.3L262.85 197.7L262.91 210.5L262.97 198L263.03 210.5L263.09 198.8L263.16 208.4L263.22 198.7L263.28 208.3L263.34 198.5L263.41 207.1L263.47 197.6L263.53 206.7L263.59 198.2L263.65 205.6L263.72 198.8L263.78 205.6L263.84 197.8L263.9 205.6L263.97 197.8L264.03 203.8L264.09 198.3L264.15 202.2L264.21 197.8L264.28 200.5L264.34 197.1L264.4 200.5L264.46 195.2L264.53 200.5L264.59 195.2L264.65 199.7L264.71 194.9L264.77 198.6L264.84 194.9L264.9 198.4L264.96 194.5L265.02 197.1L265.09 194.5L265.15 197.1L265.21 194.2L265.27 197.3L265.33 194L265.4 197.5L265.46 194L265.52 198.9L265.58 194.1L265.65 201.2L265.71 194.2L265.77 204.1L265.83 195.5L265.89 204.1L265.96 195.9L266.02 204.4L266.08 195.8L266.14 207.3L266.21 196.3L266.27 208L266.33 197L266.39 211.6L266.45 197.3L266.52 212.1L266.58 197.9L266.64 217L266.7 197.9L266.77 217.9L266.83 198.4L266.89 219.2L266.95 197.8L267.01 225.3L267.08 199.5L267.14 228.6L267.2 197.1L267.26 239.4L267.33 197.1L267.39 239.4L267.45 199L267.51 239.4L267.58 199.2L267.64 239.4L267.7 198.2L267.76 239.4L267.82 198.9L267.89 239.4L267.95 199L268.01 230.5L268.07 198.6L268.14 225.3L268.2 198.6L268.26 223.5L268.32 199.5L268.38 220.7L268.45 199.5L268.51 220.1L268.57 199.4L268.63 219.8L268.7 198.9L268.76 215.2L268.82 198.9L268.88 214.6L268.94 199.1L269.01 213.9L269.07 199.1L269.13 213.9L269.19 199.6L269.26 211.1L269.32 199.5L269.38 210.2L269.44 198.6L269.5 210.2L269.57 198.4L269.63 210.2L269.69 198.4L269.75 208.8L269.82 197.9L269.88 206.7L269.94 197.9L270 204.6L270.06 198.1L270.13 204.6L270.19 197.9L270.25 202.2L270.31 197.2L270.38 202.2L270.44 197.2L270.5 202.2L270.56 197.5L270.62 201L270.69 197.4L270.75 199.7L270.81 196.1L270.87 199.7L270.94 195.2L271 198.8L271.06 195.1L271.12 197.4L271.18 194.9L271.25 196.3L271.31 195.4L271.37 196.3L271.43 194.5L271.5 198L271.56 195L271.62 199.6L271.68 195.6L271.74 200.3L271.81 195.8L271.87 200.3L271.93 195.7L271.99 200.7L272.06 196.3L272.12 201.6L272.18 195.9L272.24 205.4L272.3 196.8L272.37 206.8L272.43 197.2L272.49 206.8L272.55 198.3L272.62 207.8L272.68 197.9L272.74 209.6L272.8 197.9L272.86 212.8L272.93 198L272.99 214.4L273.05 198.3L273.11 216.3L273.18 198.5L273.24 219L273.3 198.5L273.36 220.3L273.42 198.3L273.49 226.6L273.55 198.3L273.61 231.5L273.67 197.8L273.74 239.7L273.8 197.8L273.86 239.7L273.92 197.8L273.98 239.7L274.05 198.2L274.11 239.7L274.17 198L274.23 239.7L274.3 197.9L274.36 239.7L274.42 197.9L274.48 231.9L274.54 199L274.61 226.3L274.67 198.9L274.73 225.1L274.79 198.9L274.86 221.9L274.92 198.7L274.98 220.1L275.04 198.7L275.11 220.1L275.17 198.8L275.23 217.1L275.29 198.2L275.35 214.3L275.42 198.4L275.48 213.3L275.54 198.6L275.6 213.3L275.67 198.7L275.73 212.3L275.79 198.4L275.85 208.5L275.91 198.6L275.98 208.3L276.04 198.8L276.1 207.1L276.16 198.1L276.23 206.7L276.29 197.4L276.35 206.7L276.41 197.4L276.47 203L276.54 197.4L276.6 202.6L276.66 196.5L276.72 202.1L276.79 196.4L276.85 201.5L276.91 196.7L276.97 200.2L277.03 196.4L277.1 200.1L277.16 195.4L277.22 198.5L277.28 195.4L277.35 197.1L277.41 195.6L277.47 197.1L277.53 195.6L277.59 197L277.66 195.5L277.72 197.4L277.78 195L277.84 200.9L277.91 194.9L277.97 201.2L278.03 195.2L278.09 201.9L278.15 196.4L278.22 205.1L278.28 196.6L278.34 207.8L278.4 197L278.47 210.8L278.53 196.5L278.59 212.4L278.65 196.7L278.71 217.3L278.78 197L278.84 219.5L278.9 197L278.96 225.8L279.03 197.8L279.09 232.2L279.15 198.6L279.21 232.2L279.27 199.4L279.34 232.2L279.4 198.4L279.46 232.2L279.52 198.4L279.59 232.2L279.65 198.6L279.71 230.8L279.77 198.6L279.83 225.8L279.9 198.7L279.96 220.7L280.02 199.2L280.08 218.7L280.15 199.2L280.21 218.2L280.27 199.2L280.33 217.7L280.39 198.5L280.46 215.1L280.52 198.5L280.58 214.6L280.64 199L280.71 211.8L280.77 199.1L280.83 210.5L280.89 199L280.95 208.5L281.02 199.5L281.08 208.3L281.14 199.9L281.2 207.8L281.27 200.1L281.33 206.2L281.39 199.5L281.45 204.5L281.51 198.7L281.58 204L281.64 197.5L281.7 204L281.76 196.2L281.83 202.9L281.89 196.2L281.95 202.2L282.01 196.6L282.07 202.1L282.14 196L282.2 200.2L282.26 196L282.32 200.2L282.39 196L282.45 199.3L282.51 194.4L282.57 199.3L282.63 194.1L282.7 197.6L282.76 194.1L282.82 197.3L282.88 194.8L282.95 198.4L283.01 194.8L283.07 199.8L283.13 194L283.2 200.7L283.26 194L283.32 201.6L283.38 195.5L283.44 203.4L283.51 195.2L283.57 206.8L283.63 195.2L283.69 206.8L283.76 195.8L283.82 208.6L283.88 196.4L283.94 211.5L284 196.5L284.07 214.3L284.13 196.8L284.19 216.8L284.25 197.2L284.32 216.8L284.38 197.1L284.44 222.3L284.5 197.7L284.56 222.8L284.63 197.6L284.69 226.6L284.75 198.2L284.81 231.2L284.88 198.7L284.94 233.1L285 198.7L285.06 239.3L285.12 199.1L285.19 247.2L285.25 198.7L285.31 255.8L285.37 198.9L285.44 255.8L285.5 198.5L285.56 255.8L285.62 198L285.68 255.8L285.75 198.4L285.81 255.8L285.87 199.1L285.93 246.9L286 199.7L286.06 240.8L286.12 199.1L286.18 236.2L286.24 198.1L286.31 231.8L286.37 198.1L286.43 228.1L286.49 198.4L286.56 224.4L286.62 198.1L286.68 222.8L286.74 198.1L286.8 220.7L286.87 199.6L286.93 219.7L286.99 199.5L287.05 218.7L287.12 198.4L287.18 214.6L287.24 198.4L287.3 211.9L287.36 198.6L287.43 210.7L287.49 198.6L287.55 209.5L287.61 198.8L287.68 209.2L287.74 198.8L287.8 206.7L287.86 198.7L287.92 205.5L287.99 198L288.05 203.3L288.11 198L288.17 202.2L288.24 198.8L288.3 201.8L288.36 197.4L288.42 201.8L288.48 197.4L288.55 199.3L288.61 198.8L288.67 200.6L288.73 198.2L288.8 199.7L288.86 198.2L288.92 200.3L288.98 198.7L289.04 200.6L289.11 198.4L289.17 200.8L289.23 197.6L289.29 203.4L289.36 197.8L289.42 203.7L289.48 197.8L289.54 206.5L289.6 199.2L289.67 208.1L289.73 199.1L289.79 209.4L289.85 199.1L289.92 211.2L289.98 199.3L290.04 212.2L290.1 198.6L290.16 215L290.23 198.6L290.29 217.1L290.35 199.6L290.41 219.4L290.48 198.7L290.54 224.5L290.6 198.7L290.66 227.7L290.73 198.7L290.79 234.7L290.85 198.8L290.91 241.6L290.97 199.1L291.04 241.6L291.1 199.4L291.16 241.6L291.22 199L291.29 241.6L291.35 198.4L291.41 241.6L291.47 198.5L291.53 236.7L291.6 198.3L291.66 229.8L291.72 198.9L291.78 227.8L291.85 199.6L291.91 224.1L291.97 199.7L292.03 221.5L292.09 198.8L292.16 218.2L292.22 198L292.28 218.2L292.34 198L292.41 217L292.47 199L292.53 215.2L292.59 198.9L292.65 213.7L292.72 199.1L292.78 213.3L292.84 199.1L292.9 211.1L292.97 198.5L293.03 210.2L293.09 198.5L293.15 209.2L293.21 198.8L293.28 207.7L293.34 199.7L293.4 206.7L293.46 198.5L293.53 205.5L293.59 198.5L293.65 203.5L293.71 197.4L293.77 203.4L293.84 196.7L293.9 202.5L293.96 196.3L294.02 201.4L294.09 196.3L294.15 201.1L294.21 195.9L294.27 200.8L294.33 195.4L294.4 200.8L294.46 194.8L294.52 200.8L294.58 194.2L294.65 199.4L294.71 192.9L294.77 199.4L294.83 192.8L294.89 198.2L294.96 193.3L295.02 197.5L295.08 193.8L295.14 200.7L295.21 194.2L295.27 200.7L295.33 194.6L295.39 201.8L295.45 194.4L295.52 204L295.58 195.2L295.64 204L295.7 195.1L295.77 205.7L295.83 195.1L295.89 206.2L295.95 197.1L296.01 210.4L296.08 196.9L296.14 211.4L296.2 197.1L296.26 213.6L296.33 197.3L296.39 214.2L296.45 198.3L296.51 215L296.57 198.3L296.64 219.3L296.7 198.6L296.76 220.9L296.82 197.9L296.89 226.2L296.95 197.9L297.01 229.4L297.07 198.6L297.13 231.8L297.2 199.1L297.26 240L297.32 199L297.38 247.9L297.45 198.6L297.51 247.9L297.57 198.4L297.63 247.9L297.69 198.4L297.76 247.9L297.82 197.8L297.88 247.9L297.94 198L298.01 243.7L298.07 198.6L298.13 236.9L298.19 199.3L298.26 233.2L298.32 199.5L298.38 227.4L298.44 199.9L298.5 223.6L298.57 198.5L298.63 222.4L298.69 198.5L298.75 221.9L298.82 198.7L298.88 218.8L298.94 197.8L299 217.9L299.06 197.8L299.13 214.8L299.19 198.1L299.25 211.8L299.31 198.1L299.38 211.8L299.44 198L299.5 211.8L299.56 198.1L299.62 209.6L299.69 196.4L299.75 207.5L299.81 196.4L299.87 207.5L299.94 196L300 204.6L300.06 196L300.12 204.6L300.18 195.6L300.25 202.2L300.31 194.2L300.37 202.2L300.43 194.2L300.5 201.3L300.56 194.2L300.62 201.3L300.68 193.1L300.74 198.2L300.81 193L300.87 198.2L300.93 192.8L300.99 198.4L301.06 192.8L301.12 199L301.18 193.6L301.24 202.3L301.3 194.6L301.37 204.3L301.43 194.9L301.49 206.3L301.55 195.2L301.62 207.5L301.68 195.4L301.74 208.5L301.8 195.8L301.86 212.9L301.93 196.2L301.99 214.1L302.05 196.2L302.11 219.6L302.18 196.2L302.24 220.9L302.3 197.2L302.36 222.2L302.42 198.3L302.49 224.1L302.55 198.1L302.61 228.3L302.67 198.6L302.74 232.4L302.8 198.6L302.86 237.9L302.92 198.4L302.98 245.5L303.05 198.5L303.11 258.4L303.17 198.8L303.23 258.4L303.3 198.8L303.36 258.4L303.42 198.9L303.48 258.4L303.54 197.9L303.61 258.4L303.67 197.9L303.73 258.4L303.79 198.3L303.86 247.3L303.92 198.7L303.98 241.1L304.04 198.5L304.1 235.6L304.17 198.1L304.23 234.5L304.29 198L304.35 229L304.42 198L304.48 225.8L304.54 198.1L304.6 225.4L304.66 198.4L304.73 222L304.79 198.4L304.85 221.9L304.91 198.3L304.98 218.4L305.04 197.5L305.1 216.8L305.16 197.5L305.22 216.2L305.29 198.9L305.35 214.8L305.41 198.7L305.47 212.8L305.54 198.1L305.6 208.9L305.66 197.7L305.72 208.3L305.79 197.6L305.85 208.3L305.91 197L305.97 206.2L306.03 196.1L306.1 205.2L306.16 195.6L306.22 203.5L306.28 195.7L306.35 202.5L306.41 194.9L306.47 202.5L306.53 194.7L306.59 200.4L306.66 194.2L306.72 200.4L306.78 194.2L306.84 198.5L306.91 194.3L306.97 196.4L307.03 194L307.09 196.4L307.15 193.8L307.22 198.4L307.28 193.8L307.34 199.3L307.4 194.6L307.47 201L307.53 194.9L307.59 201.2L307.65 195.2L307.71 203.1L307.78 196.3L307.84 206.5L307.9 197.2L307.96 206.5L308.03 197.7L308.09 206.5L308.15 198.2L308.21 206.5L308.27 198.4L308.34 208.2L308.4 198.4L308.46 208.3L308.52 198.1L308.59 213L308.65 198.1L308.71 213.1L308.77 199.2L308.83 215.2L308.9 198.9L308.96 218L309.02 198.9L309.08 220.7L309.15 198.8L309.21 221.5L309.27 198.3L309.33 226.7L309.39 198.7L309.46 231.4L309.52 199.5L309.58 239.7L309.64 199L309.71 239.7L309.77 199L309.83 239.7L309.89 198.4L309.95 239.7L310.02 199.3L310.08 239.7L310.14 198.1L310.2 239.7L310.27 198.3L310.33 229.8L310.39 199.3L310.45 226.1L310.51 198.9L310.58 221.4L310.64 198.9L310.7 220.3L310.76 197L310.83 218.1L310.89 196.9L310.95 217L311.01 197.2L311.07 213.8L311.14 199.3L311.2 212.7L311.26 197.3L311.32 212.1L311.39 196.3L311.45 208L311.51 196.3L311.57 206.2L311.63 197.1L311.7 205.5L311.76 196.7L311.82 205.5L311.88 195.9L311.95 205L312.01 195.9L312.07 202.7L312.13 195.4L312.19 202.7L312.26 194.6L312.32 199.9L312.38 194.7L312.44 199.6L312.51 194.5L312.57 199.2L312.63 193.6L312.69 197.8L312.75 193.8L312.82 197.5L312.88 193L312.94 197.3L313 194L313.07 198.6L313.13 195.1L313.19 200.2L313.25 194.9L313.31 202L313.38 195.6L313.44 203.7L313.5 195.4L313.56 203.7L313.63 195.8L313.69 207.6L313.75 196.5L313.81 207.6L313.88 196.3L313.94 210.3L314 197L314.06 212L314.12 198L314.19 214.6L314.25 198L314.31 217.4L314.37 198.9L314.44 220.4L314.5 198.7L314.56 227.5L314.62 198.7L314.68 232.5L314.75 198.6L314.81 238.2L314.87 198.1L314.93 238.2L315 197.8L315.06 238.2L315.12 198.2L315.18 238.2L315.24 197.7L315.31 238.2L315.37 197.7L315.43 237.5L315.49 198.2L315.56 231L315.62 197.6L315.68 229.1L315.74 197.8L315.8 224.9L315.87 197.9L315.93 223.9L315.99 198.4L316.05 222.8L316.12 198.5L316.18 221.6L316.24 198.3L316.3 219.2L316.36 198.7L316.43 216.8L316.49 198.3L316.55 214.4L316.61 198.4L316.68 213.1L316.74 198.9L316.8 212.2L316.86 198.7L316.92 212.2L316.99 198.7L317.05 210.5L317.11 199.1L317.17 209.1L317.24 199.1L317.3 209.1L317.36 199.5L317.42 208.3L317.48 199L317.55 207.9L317.61 199L317.67 204.2L317.73 198.8L317.8 204L317.86 198.3L317.92 204L317.98 198.2L318.04 204L318.11 196.6L318.17 203.2L318.23 196.6L318.29 202.6L318.36 196.9L318.42 201.9L318.48 197.1L318.54 201.9L318.6 197.9L318.67 200.9L318.73 197L318.79 200.9L318.85 196.3L318.92 200.7L318.98 195.7L319.04 198.1L319.1 194.8L319.16 197.4L319.23 194.7L319.29 197.4L319.35 194.7L319.41 198.1L319.48 194.5L319.54 199.8L319.6 195.1L319.66 204.1L319.72 195.6L319.79 208L319.85 195.6L319.91 211.8L319.97 195.8L320.04 216.5L320.1 196.6L320.16 220.2L320.22 195.4L320.28 225.2L320.35 195.1L320.41 231.4L320.47 196.2L320.53 245.4L320.6 198.1L320.66 245.4L320.72 198.9L320.78 245.4L320.84 199.2L320.91 245.4L320.97 198.6L321.03 245.4L321.09 198.6L321.16 245.4L321.22 199.3L321.28 238.1L321.34 198.9L321.41 235.3L321.47 198.9L321.53 232.1L321.59 199.7L321.65 227.9L321.72 199.3L321.78 226L321.84 198L321.9 224.6L321.97 198.9L322.03 223.9L322.09 199.2L322.15 220.9L322.21 198.8L322.28 220.8L322.34 199L322.4 219.5L322.46 198.5L322.53 216.5L322.59 198.5L322.65 215.3L322.71 199.5L322.77 215.3L322.84 198.8L322.9 212.5L322.96 198.7L323.02 211.8L323.09 198.7L323.15 211.8L323.21 199.4L323.27 211.8L323.33 199.4L323.4 210L323.46 198.5L323.52 207.7L323.58 198.5L323.65 207L323.71 198.4L323.77 206.1L323.83 198.7L323.89 205.5L323.96 198.7L324.02 205.5L324.08 199.2L324.14 205.1L324.21 198L324.27 203L324.33 197.6L324.39 201.5L324.45 197.6L324.52 201.5L324.58 196.9L324.64 198.4L324.7 196.8L324.77 198.3L324.83 196.8L324.89 197.8L324.95 196.3L325.01 197.8L325.08 196.7L325.14 198.2L325.2 195.9L325.26 197.1L325.33 195.6L325.39 198.3L325.45 194.9L325.51 198.9L325.57 195.3L325.64 199.4L325.7 195.3L325.76 203.5L325.82 196.2L325.89 205.1L325.95 196.5L326.01 207L326.07 195.7L326.13 207.7L326.2 196.3L326.26 209.8L326.32 196.5L326.38 213.8L326.45 197.2L326.51 217.7L326.57 198L326.63 223.6L326.69 196.8L326.76 227L326.82 198L326.88 237.5L326.94 198.2L327.01 237.5L327.07 198.5L327.13 237.5L327.19 198.7L327.25 237.5L327.32 198.9L327.38 237.5L327.44 198.9L327.5 237.5L327.57 200.1L327.63 229.8L327.69 198.9L327.75 225.8L327.81 198.9L327.88 222.3L327.94 198.6L328 222.3L328.06 198.6L328.13 219.8L328.19 198.6L328.25 217.2L328.31 199.7L328.37 213.9L328.44 199.7L328.5 213.9L328.56 199.5L328.62 213.5L328.69 198.5L328.75 210.8L328.81 198.4L328.87 209L328.94 198.4L329 209L329.06 198.3L329.12 208.7L329.18 197.8L329.25 207.7L329.31 197.5L329.37 206.8L329.43 197.2L329.5 205.5L329.56 196.6L329.62 205.5L329.68 196.9L329.74 203.2L329.81 196.1L329.87 203.2L329.93 196.1L329.99 202.2L330.06 196.6L330.12 200.4L330.18 195.9L330.24 200L330.3 195.6L330.37 200L330.43 195.6L330.49 198.3L330.55 195.6L330.62 197.5L330.68 195.7L330.74 196.7L330.8 194.3L330.86 196.7L330.93 193.8L330.99 200.5L331.05 194.1L331.11 202L331.18 195.3L331.24 202L331.3 195.3L331.36 202.6L331.42 196L331.49 205.4L331.55 195.9L331.61 206.8L331.67 196.1L331.74 207.4L331.8 195.3L331.86 210.1L331.92 195.3L331.98 213.9L332.05 197L332.11 217.1L332.17 198.2L332.23 219.1L332.3 198.2L332.36 223.8L332.42 198.2L332.48 226.3L332.54 198.5L332.61 239L332.67 198L332.73 239L332.79 198.5L332.86 239L332.92 198.7L332.98 239L333.04 199.1L333.1 239L333.17 198.7L333.23 239L333.29 198.8L333.35 231.5L333.42 198.8L333.48 228.5L333.54 198.3L333.6 224.1L333.66 198.3L333.73 222.7L333.79 197.4L333.85 221.1L333.91 197.5L333.98 217.6L334.04 197.4L334.1 217.2L334.16 197.8L334.22 214.4L334.29 199.2L334.35 212.7L334.41 198.6L334.47 212.4L334.54 198.7L334.6 210.8L334.66 198.3L334.72 210.8L334.78 197.7L334.85 209.4L334.91 197.7L334.97 208.7L335.03 198.8L335.1 207.9L335.16 198.1L335.22 207.2L335.28 198.1L335.34 203.4L335.41 197.9L335.47 203.3L335.53 197.9L335.59 202.9L335.66 198.3L335.72 202.9L335.78 197.1L335.84 202.9L335.9 195.8L335.97 201.6L336.03 195.6L336.09 200.3L336.15 195L336.22 200.3L336.28 194.8L336.34 199.8L336.4 194.8L336.47 198L336.53 193.8L336.59 197.6L336.65 193.8L336.71 196.9L336.78 194.3L336.84 196.9L336.9 193L336.96 198.2L337.03 192.9L337.09 199.5L337.15 192.8L337.21 200.4L337.27 193.6L337.34 202.2L337.4 193.6L337.46 204L337.52 194.5L337.59 204.6L337.65 194.7L337.71 206.8L337.77 194.7L337.83 207.7L337.9 194.3L337.96 211.9L338.02 195.3L338.08 213.6L338.15 196.7L338.21 215.7L338.27 197.8L338.33 218.3L338.39 197.8L338.46 221.6L338.52 197.5L338.58 225.2L338.64 197.4L338.71 232.6L338.77 197.8L338.83 241.1L338.89 197.8L338.95 241.1L339.02 199L339.08 241.1L339.14 199.3L339.2 241.1L339.27 199.2L339.33 241.1L339.39 198.2L339.45 241.1L339.51 197.6L339.58 233.3L339.64 197.6L339.7 231.5L339.76 198.2L339.83 225.8L339.89 198.8L339.95 224.6L340.01 198.5L340.07 223L340.14 198.7L340.2 220.9L340.26 198.6L340.32 216.8L340.39 198.6L340.45 216.4L340.51 198.7L340.57 214.5L340.63 198.4L340.7 213.5L340.76 197.5L340.82 213.5L340.88 198.6L340.95 210.2L341.01 198.5L341.07 210.2L341.13 197.7L341.19 208.7L341.26 196.4L341.32 207L341.38 198.2L341.44 206.2L341.51 197.1L341.57 206L341.63 196.4L341.69 204.5L341.75 196.4L341.82 203.9L341.88 197.1L341.94 203.3L342 196.3L342.07 203.3L342.13 196.3L342.19 202.1L342.25 196L342.31 202.1L342.38 196L342.44 201.1L342.5 195.4L342.56 200.2L342.63 195.9L342.69 199L342.75 194.8L342.81 199L342.87 194.4L342.94 198L343 193.8L343.06 198.6L343.12 194.3L343.19 198.6L343.25 194.5L343.31 200.3L343.37 194.7L343.43 201.7L343.5 195.2L343.56 205L343.62 196.1L343.68 207.8L343.75 196.3L343.81 209.3L343.87 195.9L343.93 209.8L343.99 195.9L344.06 211.4L344.12 196.6L344.18 215.9L344.24 197.3L344.31 218.6L344.37 197.8L344.43 221.2L344.49 198.7L344.56 225.1L344.62 198.7L344.68 228.5L344.74 198.5L344.8 237.7L344.87 198.2L344.93 245L344.99 198L345.05 245L345.12 198L345.18 245L345.24 198.2L345.3 245L345.36 198.9L345.43 245L345.49 198.4L345.55 238.4L345.61 198.4L345.68 234.3L345.74 198.8L345.8 228.8L345.86 198.8L345.92 224L345.99 199.6L346.05 223.9L346.11 198.7L346.17 222.5L346.24 198.5L346.3 221.1L346.36 198.5L346.42 217.6L346.48 198.7L346.55 215L346.61 198.4L346.67 215L346.73 198.6L346.8 214.8L346.86 198.6L346.92 210.9L346.98 198.9L347.04 210L347.11 198.7L347.17 209.1L347.23 198.2L347.29 208.9L347.36 197.6L347.42 207.6L347.48 196.5L347.54 205.1L347.6 196.7L347.67 204.2L347.73 195.4L347.79 203.8L347.85 195.2L347.92 203.1L347.98 195.1L348.04 203.1L348.1 195.1L348.16 202.1L348.23 195.2L348.29 200L348.35 194.3L348.41 200L348.48 194.5L348.54 199.4L348.6 193.8L348.66 199.4L348.72 192.8L348.79 197L348.85 193L348.91 200.3L348.97 193.2L349.04 201.5L349.1 193.6L349.16 202.1L349.22 193.5L349.28 202.1L349.35 194.5L349.41 203.7L349.47 194.9L349.53 206.4L349.6 195.9L349.66 207.1L349.72 197.4L349.78 209.8L349.84 196.6L349.91 211.3L349.97 197.9L350.03 213L350.09 197.7L350.16 214.9L350.22 198.4L350.28 216.8L350.34 198.5L350.4 223.5L350.47 198.7L350.53 227.2L350.59 198.6L350.65 233.3L350.72 197.5L350.78 240.7L350.84 197.5L350.9 240.7L350.96 197.6L351.03 240.7L351.09 197.6L351.15 240.7L351.21 198.4L351.28 240.7L351.34 197.9L351.4 240.7L351.46 198.3L351.52 233.2L351.59 198.3L351.65 229.6L351.71 199.3L351.77 226.5L351.84 199.1L351.9 223.5L351.96 199L352.02 221.8L352.09 199L352.15 218.4L352.21 198.3L352.27 218L352.33 198.3L352.4 215.7L352.46 198.5L352.52 215.2L352.58 198.5L352.65 213.1L352.71 198.6L352.77 211.7L352.83 198.6L352.89 211.3L352.96 198.6L353.02 209L353.08 198.9L353.14 209L353.21 198.9L353.27 207.8L353.33 197.8L353.39 207.8L353.45 196.9L353.52 207.8L353.58 197.7L353.64 204.3L353.7 197.2L353.77 204.2L353.83 196.5L353.89 204.2L353.95 195.3L354.01 202.3L354.08 195.4L354.14 202.3L354.2 196.1L354.26 200.3L354.33 195.7L354.39 199L354.45 195.6L354.51 198L354.57 194.1L354.64 198L354.7 193.8L354.76 198L354.82 194.3L354.89 197.7L354.95 194.7L355.01 197.4L355.07 193.8L355.13 198.9L355.2 194.2L355.26 199.7L355.32 195L355.38 200.7L355.45 195.8L355.51 203.4L355.57 196.1L355.63 203.4L355.69 195.6L355.76 205.1L355.82 195.1L355.88 206L355.94 195.1L356.01 208.1L356.07 196.4L356.13 210.7L356.19 197.5L356.25 210.7L356.32 197.3L356.38 211.7L356.44 197.4L356.5 214.4L356.57 198.5L356.63 219.1L356.69 198.1L356.75 223.3L356.81 198.1L356.88 225.7L356.94 198.7L357 229.7L357.06 197.8L357.13 237.2L357.19 198L357.25 237.2L357.31 198.2L357.37 237.2L357.44 198.7L357.5 237.2L357.56 198.5L357.62 237.2L357.69 198.5L357.75 237.2L357.81 198.8L357.87 231.5L357.93 198.2L358 227.2L358.06 198.3L358.12 224.4L358.18 198.8L358.25 223.6L358.31 198.3L358.37 220.1L358.43 197.8L358.49 217.8L358.56 198.5L358.62 216.3L358.68 199.8L358.74 214L358.81 199.1L358.87 214L358.93 198.2L358.99 212L359.05 198.2L359.12 211.5L359.18 198.7L359.24 211.5L359.3 198.9L359.37 209.2L359.43 198.6L359.49 206.8L359.55 197.8L359.62 206.8L359.68 197.4L359.74 205.8L359.8 197.4L359.86 204.2L359.93 197.5L359.99 202.4L360.05 196.9L360.11 202.4L360.18 196.6L360.24 202.4L360.3 196L360.36 199.1L360.42 194.5L360.49 197.6L360.55 193.7L360.61 197.6L360.67 194.7L360.74 197.6L360.8 195.1L360.86 196.3L360.92 193.7L360.98 196.3L361.05 193.7L361.11 199.4L361.17 194L361.23 199.4L361.3 193.4L361.36 201.6L361.42 193.3L361.48 201.6L361.54 193.3L361.61 204.3L361.67 194.6L361.73 206.6L361.79 195.7L361.86 207.9L361.92 196L361.98 211.1L362.04 196L362.1 213.3L362.17 196.5L362.23 214.6L362.29 197L362.35 215.5L362.42 197.6L362.48 221.2L362.54 197.2L362.6 224.5L362.66 197.1L362.73 230.7L362.79 198.4L362.85 243L362.91 198.9L362.98 243L363.04 198.6L363.1 243L363.16 198.1L363.22 243L363.29 198.6L363.35 243L363.41 198.2L363.47 243L363.54 198.1L363.6 235.6L363.66 198.9L363.72 229.8L363.78 199.3L363.85 227.5L363.91 198.8L363.97 223L364.03 198.4L364.1 222.5L364.16 197.8L364.22 221.7L364.28 197.8L364.34 217.6L364.41 198.1L364.47 214.9L364.53 198L364.59 214.9L364.66 198L364.72 214.8L364.78 198.6L364.84 211.8L364.9 199.1L364.97 210.6L365.03 198.9L365.09 210.5L365.15 199L365.22 210.4L365.28 199.1L365.34 207.7L365.4 197.6L365.46 207.6L365.53 197.5L365.59 206.9L365.65 197.6L365.71 204.1L365.78 197.4L365.84 204.1L365.9 197L365.96 202.4L366.02 196.8L366.09 201.2L366.15 195.9L366.21 201.2L366.27 195.1L366.34 198.7L366.4 194.8L366.46 198.2L366.52 194.5L366.58 198.2L366.65 194.4L366.71 198.2L366.77 192.8L366.83 197.4L366.9 192.8L366.96 197.4L367.02 193.6L367.08 199.9L367.15 194.2L367.21 201.7L367.27 195.2L367.33 204.3L367.39 195.3L367.46 206.1L367.52 195.3L367.58 206.7L367.64 195.4L367.71 208.6L367.77 196.3L367.83 210.6L367.89 197.6L367.95 213.4L368.02 197.7L368.08 215.4L368.14 196.9L368.2 218.8L368.27 196.9L368.33 221.7L368.39 197.7L368.45 226.8L368.51 198.8L368.58 235.7L368.64 199.4L368.7 239.7L368.76 198.8L368.83 239.7L368.89 198.8L368.95 239.7L369.01 198.1L369.07 239.7L369.14 198.1L369.2 239.7L369.26 198.7L369.32 233.1L369.39 198.6L369.45 229L369.51 198.6L369.57 225.7L369.63 198.4L369.7 223.8L369.76 199L369.82 222.7L369.88 197.6L369.95 220.2L370.01 197.6L370.07 217.5L370.13 199L370.19 215L370.26 198L370.32 212.5L370.38 198L370.44 212.5L370.51 198.9L370.57 211.8L370.63 198.4L370.69 211.8L370.75 198.8L370.82 211.8L370.88 199L370.94 209.7L371 199.1L371.07 207.1L371.13 199.5L371.19 207.1L371.25 198.1L371.31 205.2L371.38 197.5L371.44 204.1L371.5 196.8L371.56 204L371.63 196.8L371.69 202.7L371.75 197.2L371.81 200.8L371.87 197.1L371.94 200.6L372 196.1L372.06 200.6L372.12 195.8L372.19 200.6L372.25 195.2L372.31 199.2L372.37 195L372.43 196.5L372.5 193.8L372.56 196.5L372.62 194.4L372.68 196.5L372.75 194.4L372.81 197L372.87 195.5L372.93 198.1L372.99 195.3L373.06 200.1L373.12 195.5L373.18 200.8L373.24 197.5L373.31 201.5L373.37 197.7L373.43 203.4L373.49 197.1L373.55 204.2L373.62 196.1L373.68 205.4L373.74 196.1L373.8 208.5L373.87 198.2L373.93 208.5L373.99 196.4L374.05 209L374.11 196.4L374.18 210.1L374.24 197.8L374.3 214.6L374.36 197.8L374.43 214.7L374.49 198.7L374.55 217.3L374.61 199.7L374.68 222.2L374.74 199L374.8 230.8L374.86 198.6L374.92 230.8L374.99 198.6L375.05 230.8L375.11 197.7L375.17 230.8L375.24 197.1L375.3 230.8L375.36 197.1L375.42 230.8L375.48 197.6L375.55 224.3L375.61 197.6L375.67 221.5L375.73 198L375.8 218.9L375.86 198.4L375.92 216.1L375.98 198.8L376.04 214L376.11 198.5L376.17 212L376.23 198.2L376.29 212L376.36 198.3L376.42 210.4L376.48 198.8L376.54 210.1L376.6 198.8L376.67 209L376.73 198.2L376.79 207.9L376.85 198.2L376.92 206.3L376.98 199L377.04 206.3L377.1 198.5L377.16 204.8L377.23 197.8L377.29 203.6L377.35 197.4L377.41 203.6L377.48 196.8L377.54 203.3L377.6 196.2L377.66 201.6L377.72 196.2L377.79 201.6L377.85 197.1L377.91 201L377.97 195.7L378.04 198.4L378.1 194.6L378.16 198.4L378.22 194.4L378.28 198.4L378.35 195.4L378.41 197.6L378.47 194L378.53 197.6L378.6 194L378.66 197.1L378.72 194.4L378.78 198.1L378.84 194.1L378.91 201.4L378.97 194.1L379.03 202.3L379.09 194.5L379.16 205.8L379.22 195.8L379.28 208.2L379.34 196L379.4 211.5L379.47 196L379.53 214.4L379.59 196.4L379.65 218.5L379.72 196.5L379.78 222.4L379.84 196.8L379.9 226.4L379.96 196.8L380.03 235.3L380.09 197.3L380.15 240.9L380.21 197.8L380.28 257L380.34 198.9L380.4 257L380.46 199.7L380.52 257L380.59 199.9L380.65 257L380.71 198.3L380.77 257L380.84 198L380.9 257L380.96 198L381.02 248.3L381.08 198.5L381.15 240.9L381.21 198.5L381.27 237.2L381.33 199.3L381.4 234.3L381.46 199.1L381.52 230.5L381.58 198.3L381.64 228.4L381.71 198.3L381.77 228.4L381.83 198.9L381.89 224.5L381.96 198.2L382.02 220.1L382.08 198.2L382.14 219.7L382.2 198.7L382.27 218.9L382.33 198.8L382.39 218.4L382.45 198.8L382.52 216.7L382.58 198.5L382.64 213.2L382.7 197.6L382.77 211.8L382.83 198.3L382.89 210.6L382.95 198.3L383.01 209.2L383.08 198.2L383.14 208.7L383.2 198L383.26 207.9L383.33 196.2L383.39 206.5L383.45 195.7L383.51 205.1L383.57 196L383.64 204.8L383.7 194.9L383.76 202.3L383.82 194.9L383.89 202.3L383.95 194.5L384.01 200.4L384.07 193.2L384.13 200.2L384.2 193.1L384.26 198.5L384.32 193L384.38 196.6L384.45 192.3L384.51 196.6L384.57 192L384.63 197.2L384.69 192L384.76 197.2L384.82 193.5L384.88 199.1L384.94 194.2L385.01 199.1L385.07 194L385.13 199.1L385.19 194.7L385.25 203.8L385.32 194.9L385.38 207.8L385.44 195.2L385.5 207.8L385.57 195.2L385.63 209.2L385.69 195.9L385.75 210.4L385.81 197L385.88 211.6L385.94 197.2L386 212.6L386.06 197.3L386.13 218.2L386.19 197.1L386.25 220.2L386.31 197.1L386.37 225.1L386.44 198.7L386.5 227.2L386.56 198.7L386.62 231.1L386.69 198.6L386.75 233.1L386.81 198.4L386.87 242.9L386.93 198.3L387 244.7L387.06 197.5L387.12 244.7L387.18 197.5L387.25 244.7L387.31 197.9L387.37 244.7L387.43 199.1L387.49 244.7L387.56 199.7L387.62 243L387.68 199.8L387.74 235.5L387.81 199.1L387.87 232.5L387.93 198.9L387.99 226.6L388.05 198.4L388.12 225.8L388.18 198.6L388.24 223.8L388.3 199.3L388.37 223.5L388.43 199L388.49 221.3L388.55 197.3L388.61 217.7L388.68 197.3L388.74 217L388.8 197.2L388.86 213.4L388.93 197.4L388.99 213.2L389.05 198.4L389.11 211.2L389.17 198.4L389.24 210.5L389.3 197.9L389.36 210.5L389.42 197.8L389.49 208.9L389.55 197.6L389.61 207.4L389.67 197.5L389.73 207.3L389.8 197.5L389.86 206.8L389.92 196.6L389.98 204.5L390.05 196.9L390.11 202.2L390.17 195.8L390.23 202.2L390.3 195.9L390.36 201.2L390.42 195.5L390.48 199.7L390.54 195.5L390.61 199L390.67 195.2L390.73 197.4L390.79 195.2L390.86 196.5L390.92 194L390.98 198.8L391.04 194L391.1 200L391.17 195L391.23 200.5L391.29 195.8L391.35 203.6L391.42 195.9L391.48 204.9L391.54 196.1L391.6 206.6L391.66 196L391.73 208L391.79 196.5L391.85 213L391.91 197.4L391.98 214.4L392.04 197.2L392.1 219.4L392.16 196.9L392.22 223.2L392.29 196.9L392.35 228.9L392.41 197.6L392.47 234.8L392.54 198.1L392.6 241.1L392.66 199L392.72 241.1L392.78 198.4L392.85 241.1L392.91 198.4L392.97 241.1L393.03 198.4L393.1 241.1L393.16 198.7L393.22 238.4L393.28 198.7L393.34 231.7L393.41 197.9L393.47 226.4L393.53 197.9L393.59 224.4L393.66 198.2L393.72 221.8L393.78 198.6L393.84 219.1L393.9 198.8L393.97 216.6L394.03 198.8L394.09 215.5L394.15 198.4L394.22 215.5L394.28 198.9L394.34 214.4L394.4 199.1L394.46 213.9L394.53 199.1L394.59 211.6L394.65 199.4L394.71 210L394.78 199.9L394.84 210L394.9 197.6L394.96 210L395.02 197.2L395.09 206.6L395.15 197.2L395.21 206.5L395.27 196.7L395.34 205.1L395.4 196.6L395.46 203.4L395.52 195.6L395.58 203.2L395.65 194.8L395.71 201.7L395.77 194.7L395.83 200.2L395.9 195.1L395.96 199.5L396.02 194.8L396.08 199.5L396.14 194.6L396.21 197.4L396.27 194.4L396.33 197.4L396.39 193.5L396.46 197.8L396.52 193.5L396.58 201.4L396.64 193.6L396.7 202.4L396.77 194L396.83 204.2L396.89 194.3L396.95 205.3L397.02 194.2L397.08 206.8L397.14 194.9L397.2 210.1L397.26 195.8L397.33 212.5L397.39 195.5L397.45 212.7L397.51 195.5L397.58 217.6L397.64 196.9L397.7 221.5L397.76 198L397.83 227.8L397.89 198.3L397.95 232.3L398.01 199.1L398.07 240.6L398.14 199L398.2 250.9L398.26 199.5L398.32 250.9L398.39 199.7L398.45 250.9L398.51 199.7L398.57 250.9L398.63 199.6L398.7 250.9L398.76 198.9L398.82 241.3L398.88 198.9L398.95 236.8L399.01 198.6L399.07 233.5L399.13 198.6L399.19 230.3L399.26 199L399.32 228.5L399.38 198.3L399.44 227.6L399.51 198.3L399.57 223.7L399.63 199.1L399.69 221.2L399.75 199.1L399.82 219.8L399.88 198.4L399.94 218.5L400 198.5L400.07 217.7L400.13 198.5L400.19 215.9L400.25 197.7L400.31 214.4L400.38 198.6L400.44 212.2L400.5 199.1L400.56 211.9L400.63 198.8L400.69 210.6L400.75 198.6L400.81 210.1L400.87 199.2L400.94 208.8L401 198.3L401.06 208.3L401.12 198.3L401.19 207.3L401.25 197.6L401.31 206.2L401.37 197.5L401.43 205.6L401.5 197.5L401.56 204.7L401.62 197.5L401.68 203.2L401.75 198.1L401.81 202.7L401.87 198.5L401.93 202.7L401.99 197.6L402.06 201.8L402.12 197.6L402.18 199.3L402.24 197.6L402.31 199L402.37 197.2L402.43 198.6L402.49 197.2L402.55 198.7L402.62 197.4L402.68 198.4L402.74 196.9L402.8 198.4L402.87 197.8L402.93 199.4L402.99 198L403.05 199.7L403.11 198L403.18 199.4L403.24 198L403.3 199.9L403.36 198L403.43 199.4L403.49 198L403.55 199.9L403.61 198.1L403.67 202.5L403.74 198.8L403.8 204.5L403.86 198.3L403.92 206.3L403.99 197.6L404.05 206.3L404.11 198.1L404.17 207.1L404.23 198.7L404.3 209.4L404.36 197.6L404.42 211.2L404.48 197.4L404.55 213.5L404.61 197.4L404.67 215.4L404.73 198.3L404.79 218.6L404.86 198.3L404.92 223.9L404.98 198.1L405.04 228.4L405.11 197.8L405.17 228.4L405.23 198L405.29 228.4L405.36 198L405.42 228.4L405.48 198L405.54 228.4L405.6 198.5L405.67 228.4L405.73 198.3L405.79 222.3L405.85 197.7L405.92 220.2L405.98 197.6L406.04 218.1L406.1 198.8L406.16 214.5L406.23 198.8L406.29 213.3L406.35 198.2L406.41 211.1L406.48 198.2L406.54 210.5L406.6 198.6L406.66 210.5L406.72 199L406.79 206.2L406.85 198.3L406.91 205L406.97 197.4L407.04 204L407.1 197.4L407.16 203.1L407.22 196.4L407.28 203.1L407.35 196.4L407.41 203.1L407.47 196.7L407.53 202L407.6 196L407.66 201.4L407.72 195.6L407.78 199.7L407.84 195.2L407.91 199.1L407.97 193.8L408.03 197.9L408.09 192.8L408.16 197.9L408.22 192.8L408.28 197.9L408.34 194.2L408.4 199.1L408.47 195.1L408.53 199.9L408.59 194.7L408.65 199.9L408.72 194.7L408.78 200.5L408.84 195.6L408.9 201.4L408.96 195.8L409.03 203L409.09 196.5L409.15 204.1L409.21 196.5L409.28 207L409.34 196.6L409.4 207.8L409.46 196.8L409.52 210L409.59 196.8L409.65 211.2L409.71 198.2L409.77 214.8L409.84 197.9L409.9 218.7L409.96 197.9L410.02 222.2L410.08 198.5L410.15 229.2L410.21 199.4L410.27 229.2L410.33 198.6L410.4 229.2L410.46 198.6L410.52 229.2L410.58 198.8L410.64 229.2L410.71 198.2L410.77 224.7L410.83 198.4L410.89 218.6L410.96 198.4L411.02 217.7L411.08 199.1L411.14 217.6L411.2 199.5L411.27 214L411.33 198.1L411.39 212.3L411.45 198.1L411.52 212.2L411.58 197.9L411.64 212.2L411.7 197.9L411.76 210.9L411.83 198.8L411.89 209.9L411.95 199.3L412.01 207.2L412.08 199.3L412.14 206.6L412.2 198.4L412.26 206.6L412.32 198L412.39 206.6L412.45 197.9L412.51 203.8L412.57 197.9L412.64 203.2L412.7 198.3L412.76 202.2L412.82 198.4L412.88 202.2L412.95 197.2L413.01 202.2L413.07 196.9L413.13 202.2L413.2 196.9L413.26 200.4L413.32 196.2L413.38 200.4L413.45 196L413.51 198.9L413.57 195.9L413.63 197.9L413.69 195.2L413.76 197L413.82 195.2L413.88 197L413.94 194L414.01 197L414.07 192.8L414.13 196.2L414.19 192.8L414.25 196L414.32 192.8L414.38 198.7L414.44 193.1L414.5 198.7L414.57 193.8L414.63 198.9L414.69 193.8L414.75 200.3L414.81 194.6L414.88 201.7L414.94 195.3L415 201.7L415.06 196.4L415.13 204L415.19 197.3L415.25 205L415.31 196.6L415.37 207.6L415.44 196L415.5 209.3L415.56 197.5L415.62 210.1L415.69 197.9L415.75 212.8L415.81 198.3L415.87 213.7L415.93 198.7L416 214.5L416.06 198L416.12 215.8L416.18 197.6L416.25 218L416.31 198L416.37 221.2L416.43 199.2L416.49 224.8L416.56 199.6L416.62 228.8L416.68 199.4L416.74 233.8L416.81 198.9L416.87 240.7L416.93 198.9L416.99 240.7L417.05 199L417.12 240.7L417.18 198.8L417.24 240.7L417.3 198.4L417.37 240.7L417.43 198.7L417.49 240.7L417.55 198.3L417.61 231.4L417.68 197.8L417.74 225.6L417.8 197.8L417.86 222.4L417.93 199.2L417.99 221.4L418.05 199.6L418.11 220.6L418.17 199.1L418.24 218.4L418.3 200L418.36 218.3L418.42 199.3L418.49 213.1L418.55 198.9L418.61 212.2L418.67 197.3L418.73 210.5L418.8 197.3L418.86 208.5L418.92 197.3L418.98 205.7L419.05 197.6L419.11 204.4L419.17 197.4L419.23 203.5L419.29 195.9L419.36 203.3L419.42 195.9L419.48 203.1L419.54 195.6L419.61 201.1L419.67 195.6L419.73 200.3L419.79 194.4L419.85 199.4L419.92 194.4L419.98 198.3L420.04 193.8L420.1 197.4L420.17 193.3L420.23 196.8L420.29 194L420.35 199L420.41 194L420.48 199.1L420.54 195L420.6 201.3L420.66 195.1L420.73 201.3L420.79 195.5L420.85 202.9L420.91 195.7L420.98 205L421.04 195.4L421.1 205.5L421.16 196L421.22 207.4L421.29 196.9L421.35 208.8L421.41 196.5L421.47 209.2L421.54 196.5L421.6 211.2L421.66 197.8L421.72 214.3L421.78 198.2L421.85 216L421.91 198.2L421.97 217.8L422.03 198.4L422.1 220.1L422.16 197.7L422.22 223.5L422.28 197.7L422.34 226L422.41 197.9L422.47 230.9L422.53 197.9L422.59 234.6L422.66 198.2L422.72 243.9L422.78 197.6L422.84 247.2L422.9 198.6L422.97 247.2L423.03 199.1L423.09 247.2L423.15 199.2L423.22 247.2L423.28 198.5L423.34 247.2L423.4 197.7L423.46 240.2L423.53 197.7L423.59 234.4L423.65 199.1L423.71 229.9L423.78 199.1L423.84 226.1L423.9 199.2L423.96 223.5L424.02 199.1L424.09 219.9L424.15 198.2L424.21 219L424.27 198.7L424.34 217L424.4 199.3L424.46 215.7L424.52 199.1L424.58 212L424.65 199.1L424.71 211.5L424.77 198.6L424.83 210.4L424.9 197.9L424.96 208.5L425.02 197.9L425.08 206.6L425.14 196.8L425.21 205.9L425.27 196.9L425.33 205L425.39 197.4L425.46 203.6L425.52 196.9L425.58 203.3L425.64 197L425.7 200.9L425.77 195.4L425.83 200L425.89 194.8L425.95 199.9L426.02 193.8L426.08 199.1L426.14 193.8L426.2 196.7L426.26 194.6L426.33 197.2L426.39 194.7L426.45 198.6L426.51 195.6L426.58 200L426.64 196.3L426.7 200.7L426.76 197L426.82 203.1L426.89 196.6L426.95 204.6L427.01 195.7L427.07 204.6L427.14 195.7L427.2 204.9L427.26 196.5L427.32 206.5L427.38 196.9L427.45 208.3L427.51 197.1L427.57 213L427.63 198.3L427.7 213.2L427.76 198.4L427.82 215.8L427.88 198.7L427.94 216L428.01 198L428.07 218.1L428.13 198.5L428.19 222.6L428.26 198.5L428.32 229.8L428.38 198.3L428.44 237.1L428.51 198.3L428.57 237.1L428.63 197.9L428.69 237.1L428.75 198L428.82 237.1L428.88 198.1L428.94 237.1L429 198.2L429.07 230.9L429.13 198.2L429.19 223.9L429.25 198.3L429.31 221.8L429.38 198.3L429.44 219.3L429.5 199L429.56 217L429.63 199.4L429.69 216.6L429.75 198.4L429.81 214.9L429.87 198.1L429.94 211.9L430 198.4L430.06 211L430.12 198.7L430.19 210L430.25 198.5L430.31 208.9L430.37 198.4L430.43 208.2L430.5 198.4L430.56 206L430.62 198.4L430.68 204.6L430.75 198.4L430.81 204.6L430.87 198.1L430.93 204.4L430.99 197.1L431.06 203.5L431.12 196.3L431.18 203.5L431.24 195.7L431.31 203.2L431.37 195.6L431.43 203.2L431.49 195.1L431.55 201L431.62 194.9L431.68 200.3L431.74 194L431.8 199.1L431.87 194.1L431.93 197.5L431.99 193.1L432.05 197.5L432.11 192.8L432.18 197.4L432.24 192.8L432.3 197.8L432.36 193.2L432.43 198.1L432.49 193.1L432.55 198.8L432.61 192.3L432.67 199.6L432.74 192.3L432.8 202L432.86 192.8L432.92 206.1L432.99 194.1L433.05 206.1L433.11 195L433.17 207L433.23 196L433.3 208.6L433.36 196.8L433.42 211.9L433.48 196.1L433.55 213.5L433.61 196.9L433.67 216.3L433.73 196.7L433.79 217.7L433.86 196.7L433.92 220.2L433.98 197.8L434.04 224.8L434.11 198.5L434.17 229L434.23 199.7L434.29 233.5L434.35 199.9L434.42 237.8L434.48 199.3L434.54 249.3L434.6 199.1L434.67 249.3L434.73 199.4L434.79 249.3L434.85 198.2L434.91 249.3L434.98 198.2L435.04 249.3L435.1 198.5L435.16 249.3L435.23 197.9L435.29 242L435.35 197.9L435.41 236.3L435.47 198.3L435.54 233.2L435.6 198.7L435.66 229.4L435.72 198.6L435.79 225.4L435.85 199L435.91 225.4L435.97 198L436.04 220.3L436.1 198.5L436.16 219.2L436.22 198.5L436.28 216.5L436.35 198.5L436.41 214.4L436.47 199L436.53 212.8L436.6 199L436.66 212.8L436.72 198.2L436.78 211.3L436.84 197.9L436.91 210.2L436.97 197.1L437.03 207.6L437.09 196.8L437.16 206.8L437.22 196.7L437.28 204.3L437.34 195.9L437.4 202.4L437.47 196.5L437.53 201.6L437.59 196L437.65 201.6L437.72 195.5L437.78 201.6L437.84 194.1L437.9 199.3L437.96 193.8L438.03 197.1L438.09 193L438.15 198.3L438.21 193L438.28 201.2L438.34 193.6L438.4 203.6L438.46 194.3L438.52 204.3L438.59 194.9L438.65 207.2L438.71 195.8L438.77 209.2L438.84 196L438.9 211.7L438.96 197.2L439.02 214.9L439.08 198.3L439.15 219.1L439.21 197.9L439.27 224.3L439.33 197.7L439.4 229L439.46 197.4L439.52 236.3L439.58 197.4L439.64 244.4L439.71 198.3L439.77 244.4L439.83 198.7L439.89 244.4L439.96 198.7L440.02 244.4L440.08 198.5L440.14 244.4L440.2 198.5L440.27 244.4L440.33 198.9L440.39 237.8L440.45 198.8L440.52 234.7L440.58 198.4L440.64 230.1L440.7 198.2L440.76 228.6L440.83 198.1L440.89 225.2L440.95 198.6L441.01 223.2L441.08 199L441.14 221.9L441.2 198.9L441.26 221.3L441.32 198.5L441.39 219.8L441.45 198.5L441.51 219.1L441.57 198.6L441.64 217L441.7 198.3L441.76 214L441.82 198L441.88 213.9L441.95 197.8L442.01 213.8L442.07 197.8L442.13 213.8L442.2 198L442.26 211.3L442.32 198.8L442.38 210.1L442.44 198.8L442.51 210.1L442.57 198.3L442.63 207.9L442.69 197.8L442.76 206.6L442.82 198.4L442.88 205.6L442.94 198.4L443 205.6L443.07 197.4L443.13 204.7L443.19 197L443.25 204.3L443.32 197L443.38 204.3L443.44 196.3L443.5 202.9L443.56 196.1L443.63 201L443.69 196L443.75 200.4L443.81 196.3L443.88 199.8L443.94 195.3L444 199.8L444.06 195.3L444.13 198.4L444.19 196L444.25 198.4L444.31 195.7L444.37 196.4L444.44 194.2L444.5 196.9L444.56 194.2L444.62 198.8L444.69 194.8L444.75 200.7L444.81 195.5L444.87 200.7L444.93 195.8L445 202.1L445.06 194.4L445.12 204.6L445.18 194.4L445.25 205.2L445.31 195.1L445.37 206.7L445.43 196.3L445.49 207.2L445.56 196.8L445.62 210.3L445.68 197.5L445.74 211.9L445.81 197.6L445.87 214.6L445.93 197.6L445.99 217.4L446.05 197.7L446.12 221.1L446.18 198.4L446.24 224L446.3 198.4L446.37 235.4L446.43 198.3L446.49 235.4L446.55 198.3L446.61 235.4L446.68 198.5L446.74 235.4L446.8 198.7L446.86 235.4L446.93 198.7L446.99 235.4L447.05 198.1L447.11 229.5L447.17 197.9L447.24 225.8L447.3 197.9L447.36 222.3L447.42 198.7L447.49 220.4L447.55 198.6L447.61 216.5L447.67 197.9L447.73 216.3L447.8 197.8L447.86 214.9L447.92 197.9L447.98 212.2L448.05 199.3L448.11 210.5L448.17 198.1L448.23 210.5L448.29 198.1L448.36 209.9L448.42 198.4L448.48 207.3L448.54 196.8L448.61 207.1L448.67 196.8L448.73 205.2L448.79 196L448.85 204.7L448.92 195.5L448.98 203.4L449.04 195.4L449.1 201.5L449.17 194.8L449.23 201.4L449.29 195L449.35 201.2L449.41 193.3L449.48 200.1L449.54 193.3L449.6 200.1L449.66 193.4L449.73 200.1L449.79 193.7L449.85 198.1L449.91 193.7L449.97 198.1L450.04 194.2L450.1 199.1L450.16 193.8L450.22 199.1L450.29 193.4L450.35 199.1L450.41 193.4L450.47 200.9L450.53 193.7L450.6 204.2L450.66 194.7L450.72 204.5L450.78 195L450.85 206L450.91 195.8L450.97 208.3L451.03 195.3L451.09 208.6L451.16 196.5L451.22 211L451.28 197.6L451.34 211.6L451.41 197.9L451.47 213.2L451.53 198.3L451.59 215.8L451.66 199L451.72 218L451.78 198.7L451.84 219.4L451.9 198.5L451.97 219.4L452.03 198.5L452.09 223.1L452.15 196.6L452.22 226.7L452.28 196.6L452.34 231.3L452.4 197.7L452.46 237L452.53 197.2L452.59 245.7L452.65 197.6L452.71 245.7L452.78 198L452.84 245.7L452.9 199.7L452.96 245.7L453.02 198.8L453.09 245.7L453.15 198.5L453.21 245.7L453.27 198.9L453.34 235.9L453.4 198.5L453.46 230.4L453.52 198.3L453.58 228.5L453.65 198.2L453.71 227.4L453.77 198.2L453.83 222.3L453.9 199L453.96 219.4L454.02 198.6L454.08 218.4L454.14 198.2L454.21 216.6L454.27 198.7L454.33 216.6L454.39 198.4L454.46 216.4L454.52 198.4L454.58 212.7L454.64 198.3L454.7 212.4L454.77 197.9L454.83 211.7L454.89 197.9L454.95 207.9L455.02 197.7L455.08 207.9L455.14 196.8L455.2 206.8L455.26 197L455.33 206.3L455.39 197.5L455.45 203.9L455.51 196.5L455.58 202.3L455.64 196L455.7 200.5L455.76 195.8L455.82 200.5L455.89 194.7L455.95 199.9L456.01 195L456.07 199.9L456.14 193.5L456.2 199.2L456.26 193.5L456.32 199.2L456.38 194.1L456.45 199.2L456.51 193L456.57 196.2L456.63 193L456.7 199.2L456.76 194L456.82 201.3L456.88 195.1L456.94 203.4L457.01 194.6L457.07 204L457.13 194.6L457.19 207.1L457.26 195.4L457.32 207.1L457.38 195.4L457.44 210.4L457.5 196.2L457.57 211.3L457.63 196.8L457.69 213.1L457.75 197.6L457.82 214.5L457.88 198L457.94 218.9L458 198.8L458.06 222.2L458.13 199.1L458.19 223.8L458.25 198.5L458.31 228.3L458.38 198.7L458.44 232.7L458.5 199.1L458.56 240L458.62 198.8L458.69 247.3L458.75 197.9L458.81 247.3L458.87 197.9L458.94 247.3L459 198.3L459.06 247.3L459.12 197.6L459.19 247.3L459.25 197.6L459.31 239.3L459.37 198.6L459.43 233.5L459.5 198.6L459.56 229.5L459.62 198.8L459.68 225.3L459.75 198.4L459.81 223.8L459.87 198.7L459.93 221.6L459.99 198.2L460.06 220.5L460.12 198.6L460.18 216.5L460.24 197.9L460.31 215.5L460.37 198.2L460.43 215.5L460.49 198.2L460.55 213.1L460.62 198.8L460.68 212L460.74 197.7L460.8 210.3L460.87 197L460.93 208.9L460.99 196.9L461.05 207.4L461.11 195.8L461.18 204.9L461.24 195.8L461.3 203.5L461.36 195.9L461.43 203.5L461.49 195.6L461.55 203.2L461.61 196L461.67 203.2L461.74 195.7L461.8 203.2L461.86 195.9L461.92 198.9L461.99 195.2L462.05 197.8L462.11 194.1L462.17 198.4L462.23 193.3L462.3 198.7L462.36 193.7L462.42 200.5L462.48 195.1L462.55 200.5L462.61 194.7L462.67 202L462.73 194.7L462.79 202.4L462.86 194.7L462.92 204.7L462.98 195.1L463.04 208.8L463.11 196.3L463.17 208.8L463.23 196.3L463.29 210.4L463.35 197.1L463.42 213.8L463.48 197.3L463.54 215.8L463.6 197.3L463.67 218.4L463.73 198.3L463.79 223.9L463.85 199.1L463.91 228.7L463.98 198.2L464.04 234.4L464.1 197.7L464.16 240.1L464.23 198.5L464.29 240.1L464.35 198L464.41 240.1L464.47 197.8L464.54 240.1L464.6 198.3L464.66 240.1L464.72 197.8L464.79 234.6L464.85 198.4L464.91 230.6L464.97 198.7L465.03 225.4L465.1 198.1L465.16 223.7L465.22 198.4L465.28 220.4L465.35 198.4L465.41 218.9L465.47 198.6L465.53 218.6L465.59 198.7L465.66 217.9L465.72 198.7L465.78 215.9L465.84 198.3L465.91 213.5L465.97 198.3L466.03 212.9L466.09 198.5L466.15 211.2L466.22 197.2L466.28 210.1L466.34 197.2L466.4 207.4L466.47 198.2L466.53 207.4L466.59 198L466.65 206.9L466.72 197.6L466.78 206.4L466.84 196.9L466.9 205L466.96 196.9L467.03 202.7L467.09 197.3L467.15 202.5L467.21 196.6L467.28 202.5L467.34 195.9L467.4 201.5L467.46 195.8L467.52 200.3L467.59 196L467.65 199.7L467.71 194.3L467.77 199.7L467.84 194.3L467.9 197.3L467.96 193.9L468.02 197.1L468.08 193.4L468.15 197.1L468.21 193.3L468.27 196.6L468.33 192.8L468.4 198.6L468.46 192.8L468.52 198.6L468.58 194.1L468.64 199.2L468.71 194.4L468.77 201.5L468.83 195L468.89 201.5L468.96 194.8L469.02 204.4L469.08 195.3L469.14 204.8L469.2 196.1L469.27 207.8L469.33 196.6L469.39 208L469.45 197.5L469.52 208L469.58 197L469.64 208L469.7 197.5L469.76 212.1L469.83 198.2L469.89 213.7L469.95 198.9L470.01 215.3L470.08 198.9L470.14 217.2L470.2 198.3L470.26 220L470.32 199L470.39 224.6L470.45 198.4L470.51 231.9L470.57 198.1L470.64 239L470.7 198.3L470.76 239L470.82 198.3L470.88 239L470.95 198L471.01 239L471.07 197.9L471.13 239L471.2 197.9L471.26 231.1L471.32 198.9L471.38 226.5L471.44 198.4L471.51 223.5L471.57 198.4L471.63 219.2L471.69 198.7L471.76 217.7L471.82 198.7L471.88 214.4L471.94 198.6L472 212.9L472.07 198.6L472.13 212.9L472.19 198.3L472.25 211L472.32 198.3L472.38 210.1L472.44 199L472.5 209.2L472.56 198.7L472.63 209.2L472.69 198.1L472.75 207.1L472.81 197.2L472.88 205.8L472.94 196.4L473 205.8L473.06 196.4L473.12 202.8L473.19 195.4L473.25 202.8L473.31 195.4L473.37 202.4L473.44 194.7L473.5 201.6L473.56 194.7L473.62 199.3L473.68 193.8L473.75 199.3L473.81 193.2L473.87 199.2L473.93 193.2L474 199.2L474.06 193L474.12 197.3L474.18 193L474.25 198.2L474.31 193.9L474.37 200.6L474.43 193.8L474.49 200.6L474.56 193.8L474.62 200.6L474.68 193.5L474.74 201.7L474.81 193.5L474.87 205.9L474.93 194.4L474.99 207.5L475.05 195.8L475.12 209.4L475.18 195.8L475.24 210L475.3 197.1L475.37 213L475.43 197.6L475.49 215.5L475.55 198L475.61 217.3L475.68 198.5L475.74 221.4L475.8 198.1L475.86 226.1L475.93 198.1L475.99 231.4L476.05 199.1L476.11 237.5L476.17 199.1L476.24 237.5L476.3 199L476.36 237.5L476.42 199L476.49 237.5L476.55 199.8L476.61 237.5L476.67 199.5L476.73 233.1L476.8 199.9L476.86 227.3L476.92 199.6L476.98 224.4L477.05 198.6L477.11 220.3L477.17 199.4L477.23 219.2L477.29 198.4L477.36 218.2L477.42 198.4L477.48 217.8L477.54 198.3L477.61 216.9L477.67 197.3L477.73 213.5L477.79 197.6L477.85 210.9L477.92 197.9L477.98 210.9L478.04 198.1L478.1 210.6L478.17 198.6L478.23 208.6L478.29 199.1L478.35 208.6L478.41 198.8L478.48 207.5L478.54 198.6L478.6 204.4L478.66 197.8L478.73 204.1L478.79 196.8L478.85 204.1L478.91 196.8L478.97 203.8L479.04 197.7L479.1 203.8L479.16 196.8L479.22 200.5L479.29 196.8L479.35 200L479.41 196.8L479.47 200L479.53 196.4L479.6 200L479.66 196.1L479.72 198.4L479.78 194.8L479.85 198.4L479.91 194.8L479.97 198.4L480.03 194.6L480.09 196.5L480.16 194L480.22 197.1L480.28 193.8L480.34 199.2L480.41 194.1L480.47 199.4L480.53 194.3L480.59 199.4L480.65 194.1L480.72 200.2L480.78 194.6L480.84 200.9L480.9 196.3L480.97 202.4L481.03 196.1L481.09 204L481.15 196.1L481.21 205L481.28 196.4L481.34 208.1L481.4 197.1L481.46 208.1L481.53 196.5L481.59 209.7L481.65 197.2L481.71 210.8L481.77 198.9L481.84 213.8L481.9 199L481.96 216.3L482.02 199.1L482.09 219.2L482.15 199L482.21 220.2L482.27 199L482.34 225.1L482.4 198.6L482.46 231.4L482.52 198.6L482.58 240L482.65 198.5L482.71 240L482.77 198.2L482.83 240L482.9 198.2L482.96 240L483.02 198.4L483.08 240L483.14 197.9L483.21 232.1L483.27 198.9L483.33 226.6L483.39 198.9L483.46 222L483.52 199.2L483.58 220.1L483.64 198.2L483.7 219.7L483.77 197.9L483.83 216L483.89 197.9L483.95 214.7L484.02 198.1L484.08 213L484.14 198.4L484.2 211.9L484.26 198.8L484.33 209.7L484.39 199.1L484.45 208.2L484.51 197.8L484.58 207.4L484.64 197.8L484.7 207.4L484.76 197.9L484.82 207L484.89 197.9L484.95 204.8L485.01 196.6L485.07 202.8L485.14 195.9L485.2 200.8L485.26 195.4L485.32 200.6L485.38 195L485.45 200.3L485.51 195.1L485.57 199.8L485.63 194.3L485.7 199.8L485.76 193.6L485.82 197.9L485.88 193.3L485.94 197.9L486.01 192.3L486.07 198.1L486.13 192.3L486.19 200.1L486.26 193.2L486.32 200.6L486.38 193.6L486.44 201.4L486.5 195L486.57 201.9L486.63 195L486.69 204.8L486.75 195.3L486.82 204.8L486.88 195.8L486.94 205.9L487 195.7L487.06 209.9L487.13 195.7L487.19 209.9L487.25 197.1L487.31 210.6L487.38 197.3L487.44 215.9L487.5 198L487.56 217.6L487.62 199.2L487.69 219.3L487.75 199.3L487.81 222.3L487.87 198.6L487.94 227.2L488 198.1L488.06 231.1L488.12 198.4L488.18 238.2L488.25 197.8L488.31 238.2L488.37 197.8L488.43 238.2L488.5 197.7L488.56 238.2L488.62 198.4L488.68 238.2L488.74 197.2L488.81 235.6L488.87 197.2L488.93 229.7L488.99 199.2L489.06 226.2L489.12 199.2L489.18 223.2L489.24 199.8L489.3 221.2L489.37 198.6L489.43 220.9L489.49 198.6L489.55 217.6L489.62 199.2L489.68 214.4L489.74 198.9L489.8 213.8L489.87 198.7L489.93 211L489.99 198.5L490.05 209.5L490.11 198.5L490.18 209.5L490.24 199L490.3 208.9L490.36 198.6L490.43 206.8L490.49 197.6L490.55 206.6L490.61 197.6L490.67 206.6L490.74 197.3L490.8 204.9L490.86 197.2L490.92 202.8L490.99 196.4L491.05 202.8L491.11 196.5L491.17 201.3L491.23 195.8L491.3 200.8L491.36 195.6L491.42 200.8L491.48 194.5L491.55 199.8L491.61 194.7L491.67 198.6L491.73 193.9L491.79 198.5L491.86 193L491.92 196.1L491.98 193.3L492.04 196.1L492.11 193.3L492.17 199.2L492.23 193.3L492.29 199.2L492.35 193.3L492.42 199.2L492.48 194.3L492.54 201.7L492.6 194.7L492.67 202.3L492.73 195.1L492.79 204.7L492.85 195.1L492.91 206.5L492.98 195.9L493.04 207L493.1 195.9L493.16 209.4L493.23 195.9L493.29 212L493.35 197.6L493.41 212.7L493.47 198.9L493.54 215.1L493.6 200L493.66 216.5L493.72 198.8L493.79 217.9L493.85 198.7L493.91 220.7L493.97 198.1L494.03 227.3L494.1 198.9L494.16 230.8L494.22 198.9L494.28 235.5L494.35 199.5L494.41 240.1L494.47 199.4L494.53 240.1L494.59 198.8L494.66 240.1L494.72 198.4L494.78 240.1L494.84 198.4L494.91 240.1L494.97 198.3L495.03 235.4L495.09 198.3L495.15 232.5L495.22 198.4L495.28 226.7L495.34 198.4L495.4 223.7L495.47 197.5L495.53 223.1L495.59 196.8L495.65 222L495.71 197.6L495.78 218.8L495.84 198.6L495.9 217.7L495.96 197.7L496.03 214.9L496.09 197.7L496.15 213.5L496.21 198.2L496.27 211.2L496.34 198.5L496.4 210L496.46 198.5L496.52 210L496.59 198.2L496.65 210L496.71 197.2L496.77 207L496.83 197.2L496.9 205.7L496.96 196.9L497.02 203.7L497.08 196.4L497.15 201.4L497.21 196.1L497.27 200.8L497.33 195.9L497.4 200.8L497.46 195.7L497.52 199L497.58 194.8L497.64 198.5L497.71 194.6L497.77 197.7L497.83 194.1L497.89 198.2L497.96 193.5L498.02 198.2L498.08 193.7L498.14 200L498.2 194.4L498.27 200.1L498.33 196L498.39 200.6L498.45 196.4L498.52 204.1L498.58 196.1L498.64 204.1L498.7 197.1L498.76 204.1L498.83 196.5L498.89 205.1L498.95 196.4L499.01 208L499.08 196.1L499.14 208.7L499.2 196.1L499.26 212.8L499.32 196.9L499.39 214.7L499.45 196.9L499.51 215.3L499.57 198.3L499.64 221.1L499.7 197.5L499.76 223.9L499.82 197.5L499.88 226.9L499.95 198.4L500.01 232.8L500.07 198.7L500.13 239.4L500.2 198.7L500.26 239.4L500.32 197.9L500.38 239.4L500.44 198L500.51 239.4L500.57 198L500.63 239.4L500.69 197.9L500.76 234.7L500.82 197.9L500.88 230.6L500.94 198.6L501 226.1L501.07 198.6L501.13 223.7L501.19 198.5L501.25 222.4L501.32 197.7L501.38 219.2L501.44 197.7L501.5 217.5L501.56 197.9L501.63 217.5L501.69 198.2L501.75 216.5L501.81 198.7L501.88 214.3L501.94 198.1L502 212.2L502.06 197.5L502.12 211.1L502.19 197.5L502.25 209.7L502.31 198.7L502.37 208.4L502.44 198.5L502.5 208.4L502.56 198.2L502.62 206.2L502.68 198.2L502.75 205.5L502.81 197.5L502.87 205.5L502.93 197.1L503 205.5L503.06 196.9L503.12 205.5L503.18 196.9L503.24 201.8L503.31 195.9L503.37 199.8L503.43 195.3L503.49 198.7L503.56 194.9L503.62 198.7L503.68 194.9L503.74 198.7L503.8 194.9L503.87 198.3L503.93 195.1L503.99 198.3L504.05 194.2L504.12 198.3L504.18 193.8L504.24 197.6L504.3 194L504.36 200L504.43 194L504.49 200L504.55 194.3L504.61 202.1L504.68 194.7L504.74 204.3L504.8 194.5L504.86 204.4L504.93 194.7L504.99 206.6L505.05 196.3L505.11 209.2L505.17 196.5L505.24 211.2L505.3 196.5L505.36 213.3L505.42 197.4L505.49 214.9L505.55 198.3L505.61 218.4L505.67 197.6L505.73 223.9L505.8 197.6L505.86 227.8L505.92 198.4L505.98 231.7L506.05 198.4L506.11 240.1L506.17 198.4L506.23 242.3L506.29 199.1L506.36 242.3L506.42 199.2L506.48 242.3L506.54 198.3L506.61 242.3L506.67 198.3L506.73 242.3L506.79 197.4L506.85 236.8L506.92 197.8L506.98 232.6L507.04 199.1L507.1 229.4L507.17 198.9L507.23 227.1L507.29 198.6L507.35 223.5L507.41 198L507.48 222.3L507.54 197.8L507.6 219L507.66 197.8L507.73 217.7L507.79 198.6L507.85 214.9L507.91 197.9L507.97 212.1L508.04 197.4L508.1 211.4L508.16 197.4L508.22 209.6L508.29 197.8L508.35 208.8L508.41 196.7L508.47 207.1L508.53 196.7L508.6 206.3L508.66 196.4L508.72 206.3L508.78 195.8L508.85 203.6L508.91 195.7L508.97 203.3L509.03 195.2L509.09 201.1L509.16 194.8L509.22 200.4L509.28 192.7L509.34 200.4L509.41 192.7L509.47 198.9L509.53 193.1L509.59 198.9L509.65 192.3L509.72 198.5L509.78 192.3L509.84 198L509.9 192.4L509.97 198.2L510.03 192.7L510.09 198.2L510.15 193.2L510.21 200.7L510.28 193.9L510.34 202.4L510.4 194L510.46 202.9L510.53 195L510.59 203.1L510.65 195.5L510.71 205.8L510.77 196.4L510.84 207.8L510.9 197.1L510.96 209.1L511.02 197.1L511.09 210.4L511.15 197.6L511.21 213.5L511.27 198.6L511.33 215.1L511.4 198.2L511.46 216.7L511.52 198.2L511.58 219.9L511.65 198.9L511.71 224.2L511.77 198.4L511.83 229.1L511.89 198L511.96 236.4L512.02 198.8L512.08 236.4L512.14 198L512.21 236.4L512.27 197.7L512.33 236.4L512.39 197.7L512.45 236.4L512.52 197.8L512.58 229.1L512.64 198.1L512.7 226.1L512.77 198L512.83 223.1L512.89 197.6L512.95 218.9L513.02 197.6L513.08 218.6L513.14 198.5L513.2 218.1L513.26 198.5L513.33 215.3L513.39 198.5L513.45 213.3L513.51 198.1L513.58 213.3L513.64 198.2L513.7 211.1L513.76 198.3L513.82 207.9L513.89 197.6L513.95 207.2L514.01 197L514.07 206.4L514.14 197.8L514.2 206.4L514.26 198.1L514.32 204.8L514.38 198.8L514.45 204.8L514.51 197.5L514.57 204.3L514.63 197L514.7 202.8L514.76 196.5L514.82 202.8L514.88 195.5L514.94 202.8L515.01 195.7L515.07 202.2L515.13 195.6L515.19 201.5L515.26 195.4L515.32 200.3L515.38 195.2L515.44 199L515.5 194.3L515.57 197.4L515.63 193.7L515.69 197.3L515.75 192.9L515.82 197.3L515.88 192.6L515.94 196.8L516 192.6L516.06 198L516.13 193.2L516.19 198.3L516.25 194.5L516.31 199.9L516.38 194.8L516.44 202.4L516.5 194.7L516.56 204.8L516.62 194.7L516.69 205.5L516.75 196L516.81 206.7L516.87 195.7L516.94 209L517 195.8L517.06 211.3L517.12 195.8L517.18 212.6L517.25 197.7L517.31 214.7L517.37 197.5L517.43 216.1L517.5 197.5L517.56 220.6L517.62 198.9L517.68 220.6L517.74 197.1L517.81 226.7L517.87 197.1L517.93 231.1L517.99 198.6L518.06 241.2L518.12 198.8L518.18 242.6L518.24 199.7L518.3 242.6L518.37 198.9L518.43 242.6L518.49 198.5L518.55 242.6L518.62 198.5L518.68 242.6L518.74 198.8L518.8 237.1L518.86 198.9L518.93 232.1L518.99 197.3L519.05 228.4L519.11 197.3L519.18 225.6L519.24 198.3L519.3 223.2L519.36 198.3L519.42 220.9L519.49 198.4L519.55 218.4L519.61 198.8L519.67 216.7L519.74 198.9L519.8 213.5L519.86 198.8L519.92 213.2L519.98 198.7L520.05 212.5L520.11 197.9L520.17 210.6L520.23 197.8L520.3 210.6L520.36 198.6L520.42 208.3L520.48 197.5L520.55 207.8L520.61 196.5L520.67 205.6L520.73 195.9L520.79 204.7L520.86 195.7L520.92 203.3L520.98 195.4L521.04 203.3L521.11 195.5L521.17 202.2L521.23 195.5L521.29 201.1L521.35 194.8L521.42 200.3L521.48 194.8L521.54 197.1L521.6 194.8L521.67 196.8L521.73 193.6L521.79 198.9L521.85 193.6L521.91 200.4L521.98 193.5L522.04 201.6L522.1 193.5L522.16 203.2L522.23 194.8L522.29 205L522.35 195L522.41 206.5L522.47 195.9L522.54 209.3L522.6 195.9L522.66 210.1L522.72 196.1L522.79 215.5L522.85 196.6L522.91 217.4L522.97 196.6L523.03 218.4L523.1 197.3L523.16 220.4L523.22 198.4L523.28 225L523.35 198.8L523.41 229.4L523.47 198.8L523.53 234.1L523.59 198.6L523.66 237.3L523.72 198.6L523.78 246.3L523.84 198.8L523.91 258L523.97 199.1L524.03 258L524.09 198.6L524.15 258L524.22 198.6L524.28 258L524.34 198.4L524.4 258L524.47 197.7L524.53 250.3L524.59 197.7L524.65 241.9L524.71 199.4L524.78 239.8L524.84 198.4L524.9 234.3L524.96 197.9L525.03 232.8L525.09 198.1L525.15 230.9L525.21 199L525.27 228.5L525.34 198.3L525.4 225.3L525.46 198.3L525.52 225.2L525.59 198.5L525.65 220.7L525.71 198.5L525.77 220.3L525.83 198.5L525.9 218.3L525.96 198.3L526.02 216.7L526.08 198.1L526.15 215.5L526.21 197.5L526.27 214.2L526.33 198.4L526.39 210.4L526.46 198.1L526.52 210.4L526.58 198.9L526.64 208.6L526.71 198.1L526.77 207.5L526.83 197.4L526.89 205.3L526.95 197.3L527.02 204.6L527.08 197.1L527.14 204.6L527.2 197.1L527.27 201.7L527.33 197L527.39 200.8L527.45 196.6L527.51 200.8L527.58 195.2L527.64 200.8L527.7 195L527.76 200.8L527.83 194.9L527.89 198.1L527.95 193.8L528.01 197L528.08 193.8L528.14 196.9L528.2 194.9L528.26 200L528.32 195.9L528.39 200.2L528.45 196.1L528.51 202.2L528.57 196.2L528.64 203L528.7 196.7L528.76 205.6L528.82 196.9L528.88 208.9L528.95 196.6L529.01 208.9L529.07 197L529.13 208.9L529.2 197.5L529.26 212.3L529.32 197.7L529.38 215.4L529.44 198.6L529.51 215.8L529.57 198.9L529.63 219.1L529.69 198.4L529.76 222.5L529.82 198.2L529.88 231.3L529.94 198.1L530 236.2L530.07 198L530.13 238L530.19 197.2L530.25 238L530.32 197.2L530.38 238L530.44 198.1L530.5 238L530.56 198.4L530.63 238L530.69 198.8L530.75 232.3L530.81 198.4L530.88 226.4L530.94 198L531 225.2L531.06 198L531.12 221.9L531.19 198.3L531.25 220.5L531.31 198.7L531.37 218.7L531.44 198.7L531.5 217.7L531.56 198.2L531.62 214L531.68 197.5L531.75 214L531.81 197.5L531.87 211.8L531.93 199.4L532 209.4L532.06 198.8L532.12 208.4L532.18 198.2L532.24 208L532.31 197.8L532.37 207.2L532.43 197.8L532.49 207.2L532.56 197L532.62 204.8L532.68 195.1L532.74 202.1L532.8 195.1L532.87 200.7L532.93 196.1L532.99 200.7L533.05 196.1L533.12 200.7L533.18 196.1L533.24 200.7L533.3 196.1L533.36 200.7L533.43 195.5L533.49 197.8L533.55 194L533.61 197.2L533.68 193.8L533.74 197.2L533.8 193.7L533.86 197.5L533.92 193.5L533.99 198.3L534.05 194L534.11 198.3L534.17 193.5L534.24 198.4L534.3 194.1L534.36 199.4L534.42 195.6L534.48 202.1L534.55 195.6L534.61 202.1L534.67 196.2L534.73 202.3L534.8 196.3L534.86 203.3L534.92 196.7L534.98 205.9L535.04 197L535.11 206.8L535.17 197.2L535.23 206.8L535.29 198L535.36 208.2L535.42 198.6L535.48 210L535.54 197.8L535.61 213L535.67 197.8L535.73 213.9L535.79 198.6L535.85 216.6L535.92 198L535.98 218.3L536.04 198.3L536.1 219.1L536.17 198.7L536.23 224.3L536.29 199.2L536.35 229.3L536.41 199.3L536.48 229.3L536.54 199.1L536.6 229.3L536.66 199.1L536.73 229.3L536.79 198.7L536.85 229.3L536.91 198.7L536.97 229.3L537.04 199L537.1 225.9L537.16 198.6L537.22 222.5L537.29 198.6L537.35 220.8L537.41 199.3L537.47 217.3L537.53 199.2L537.6 216.5L537.66 198.1L537.72 213.2L537.78 198.3L537.85 211.5L537.91 198.3L537.97 210.4L538.03 198.5L538.09 208.2L538.16 198.8L538.22 208.1L538.28 198.7L538.34 208.1L538.41 198.6L538.47 208.1L538.53 197.3L538.59 205.9L538.65 197.3L538.72 205.3L538.78 196.7L538.84 205.3L538.9 197.4L538.97 203.6L539.03 196.4L539.09 202.3L539.15 197.4L539.21 200.8L539.28 197.1L539.34 200.1L539.4 198L539.46 199.4L539.53 196.6L539.59 199.2L539.65 195.6L539.71 199.2L539.77 195.5L539.84 197L539.9 195.2L539.96 196.6L540.02 195.5L540.09 197L540.15 195.7L540.21 197.7L540.27 196.2L540.33 198L540.4 196.2L540.46 200.2L540.52 195.7L540.58 203.8L540.65 196.1L540.71 205.8L540.77 196.7L540.83 207L540.89 196.5L540.96 208.5L541.02 196.5L541.08 211.9L541.14 196.9L541.21 214.3L541.27 197.4L541.33 215.9L541.39 198.1L541.45 217.2L541.52 198.3L541.58 220.8L541.64 198.2L541.7 223.3L541.77 198.6L541.83 230.6L541.89 198.5L541.95 237.2L542.01 198.2L542.08 247.3L542.14 198.2L542.2 257L542.26 197.9L542.33 257L542.39 198.3L542.45 257L542.51 198.3L542.57 257L542.64 198.6L542.7 257L542.76 198.6L542.82 245.7L542.89 198.4L542.95 240L543.01 197.9L543.07 235.2L543.13 197.5L543.2 229.5L543.26 197.5L543.32 227.1L543.38 198.2L543.45 224.5L543.51 198.2L543.57 221.6L543.63 198.5L543.7 220.1L543.76 198.5L543.82 218.8L543.88 198.9L543.94 217.1L544.01 198.3L544.07 216.6L544.13 197.7L544.19 213.2L544.26 198.2L544.32 211.8L544.38 198.2L544.44 210.3L544.5 197.4L544.57 209.1L544.63 197.3L544.69 207.6L544.75 196.3L544.82 205L544.88 195.7L544.94 205L545 195.2L545.06 203.6L545.13 195.3L545.19 201.9L545.25 195.3L545.31 200.9L545.38 195.2L545.44 199.5L545.5 194.2L545.56 199.5L545.62 194.2L545.69 197.9L545.75 194.7L545.81 198.3L545.87 194.7L545.94 200.4L546 193.8L546.06 202.7L546.12 195.2L546.18 203.8L546.25 195.3L546.31 205.3L546.37 195.5L546.43 206.7L546.5 196.1L546.56 207.3L546.62 196.2L546.68 210.7L546.74 196.4L546.81 212.7L546.87 196.4L546.93 213.2L546.99 197.5L547.06 218L547.12 197L547.18 221.2L547.24 197L547.3 224.7L547.37 197.4L547.43 230L547.49 198.2L547.55 237.1L547.62 197.8L547.68 245.4L547.74 198.7L547.8 245.4L547.86 196.5L547.93 245.4L547.99 196.5L548.05 245.4L548.11 197.5L548.18 245.4L548.24 197.7L548.3 239.8L548.36 198.2L548.42 234.7L548.49 197.6L548.55 228.4L548.61 197.6L548.67 225.7L548.74 198.2L548.8 224.8L548.86 199.1L548.92 222.9L548.98 199.8L549.05 221.2L549.11 199L549.17 219L549.23 198.9L549.3 216.1L549.36 198.9L549.42 216.1L549.48 199L549.54 214.7L549.61 197.8L549.67 212.7L549.73 197.8L549.79 212.6L549.86 198.8L549.92 211L549.98 198.2L550.04 211L550.1 197.9L550.17 208L550.23 198.5L550.29 208L550.35 197.1L550.42 208L550.48 197.1L550.54 205.7L550.6 197.4L550.66 204.1L550.73 197.7L550.79 203.7L550.85 196.6L550.91 202.9L550.98 196.1L551.04 202.9L551.1 194.8L551.16 201.1L551.23 194.9L551.29 199.6L551.35 194.4L551.41 198L551.47 194.4L551.54 197.7L551.6 193.8L551.66 197.7L551.72 193.7L551.79 197.7L551.85 193L551.91 197.4L551.97 193.9L552.03 199.3L552.1 194.6L552.16 201.6L552.22 194.9L552.28 202.2L552.35 195L552.41 202.8L552.47 195L552.53 204.8L552.59 195.7L552.66 204.8L552.72 196.8L552.78 206.4L552.84 197.3L552.91 209.6L552.97 197.8L553.03 210.7L553.09 197.2L553.15 215.3L553.22 197.2L553.28 215.3L553.34 198.9L553.4 218L553.47 199.3L553.53 219.7L553.59 199.5L553.65 223.8L553.71 199.1L553.78 225.3L553.84 198.5L553.9 231L553.96 197.8L554.03 239L554.09 198.7L554.15 250.8L554.21 198.9L554.27 250.8L554.34 198.7L554.4 250.8L554.46 198.5L554.52 250.8L554.59 197.9L554.65 250.8L554.71 197.9L554.77 242.1L554.83 198.3L554.9 234.4L554.96 198.3L555.02 229.3L555.08 198.9L555.15 226.5L555.21 197.8L555.27 224.1L555.33 197.6L555.39 220.8L555.46 197.6L555.52 218L555.58 199.1L555.64 217.2L555.71 199.2L555.77 214.3L555.83 199.2L555.89 212.2L555.95 199.2L556.02 211.5L556.08 198L556.14 210.8L556.2 197.2L556.27 209.8L556.33 196.4L556.39 208.4L556.45 196.1L556.51 207.5L556.58 196.3L556.64 204.8L556.7 195.9L556.76 204.8L556.83 195.3L556.89 203.5L556.95 195.1L557.01 203.5L557.07 194.7L557.14 203.5L557.2 194.1L557.26 199.3L557.32 193.9L557.39 198.9L557.45 193.2L557.51 198.3L557.57 192.8L557.63 197.1L557.7 193L557.76 197.1L557.82 193.5L557.88 198.2L557.95 193.9L558.01 199.5L558.07 193.9L558.13 201.2L558.19 194L558.26 201.2L558.32 195.6L558.38 201.7L558.44 195.5L558.51 204.6L558.57 195.7L558.63 207L558.69 196.6L558.76 207L558.82 197.2L558.88 209.2L558.94 198L559 209.6L559.07 197.1L559.13 211.6L559.19 197.1L559.25 216.8L559.32 198.1L559.38 216.8L559.44 198L559.5 219.2L559.56 198.7L559.63 222.7L559.69 198.7L559.75 227.5L559.81 198.5L559.88 234.9L559.94 197.3L560 234.9L560.06 197.3L560.12 234.9L560.19 197.8L560.25 234.9L560.31 197.7L560.37 234.9L560.44 197.5L560.5 234.9L560.56 197.5L560.62 226.7L560.68 197.5L560.75 225.5L560.81 197.5L560.87 220.6L560.93 197.6L561 219.2L561.06 197.7L561.12 216.8L561.18 198.2L561.24 215.3L561.31 198.9L561.37 215.3L561.43 198.2L561.49 213.8L561.56 198.4L561.62 211.8L561.68 198L561.74 209.6L561.8 197.7L561.87 207.7L561.93 197.7L561.99 207.7L562.05 198.6L562.12 206.3L562.18 199.2L562.24 206.3L562.3 197.8L562.36 204.2L562.43 197.8L562.49 204.2L562.55 198L562.61 204.2L562.68 196.3L562.74 201.6L562.8 196.3L562.86 201.6L562.92 195.8L562.99 200.3L563.05 195.5L563.11 200.1L563.17 194.8L563.24 200.1L563.3 194.4L563.36 200L563.42 194.1L563.48 198.3L563.55 193.9L563.61 196.1L563.67 192.9L563.73 196.3L563.8 192.8L563.86 199.1L563.92 192.8L563.98 201.5L564.04 193.7L564.11 201.7L564.17 193.8L564.23 206L564.29 194.6L564.36 208.6L564.42 194.6L564.48 208.6L564.54 194.8L564.6 211.5L564.67 195.6L564.73 213.9L564.79 196.8L564.85 216.1L564.92 197.1L564.98 217.7L565.04 197.2L565.1 220.7L565.16 197.5L565.23 225.6L565.29 198L565.35 230L565.41 198.6L565.48 236.1L565.54 198.9L565.6 248.6L565.66 199.2L565.72 248.6L565.79 199.1L565.85 248.6L565.91 199.2L565.97 248.6L566.04 199.2L566.1 248.6L566.16 198.9L566.22 248.6L566.29 198.3L566.35 239.3L566.41 198.4L566.47 234.7L566.53 198.9L566.6 230.6L566.66 198.2L566.72 227.5L566.78 197.7L566.85 225.3L566.91 197.7L566.97 223.1L567.03 197.7L567.09 219.9L567.16 197.9L567.22 218.5L567.28 198.6L567.34 218L567.41 199L567.47 217L567.53 198.4L567.59 212.9L567.65 198.8L567.72 212.2L567.78 198.4L567.84 211L567.9 197.5L567.97 209.6L568.03 197L568.09 208.5L568.15 198.3L568.21 208.3L568.28 197.4L568.34 206.1L568.4 196.2L568.46 205.5L568.53 196.2L568.59 205.5L568.65 195.6L568.71 202L568.77 195.6L568.84 201.8L568.9 195.3L568.96 200.7L569.02 194.4L569.09 200.7L569.15 194L569.21 200.7L569.27 193.8L569.33 197.1L569.4 193.9L569.46 196.3L569.52 193L569.58 196.4L569.65 193L569.71 198.9L569.77 193.7L569.83 199.3L569.89 195.6L569.96 201.4L570.02 195.3L570.08 202.3L570.14 195.3L570.21 202.9L570.27 196.5L570.33 203.8L570.39 196L570.45 205.8L570.52 196L570.58 206.4L570.64 196.6L570.7 209.8L570.77 196.9L570.83 211.4L570.89 197.2L570.95 212.3L571.01 197.5L571.08 216L571.14 198.2L571.2 219.1L571.26 198.2L571.33 219.9L571.39 198.1L571.45 224.7L571.51 199L571.57 232.1L571.64 198.2L571.7 236.1L571.76 198.2L571.82 236.1L571.89 198.8L571.95 236.1L572.01 198.8L572.07 236.1L572.13 198L572.2 236.1L572.26 198L572.32 236.1L572.38 198.6L572.45 228L572.51 199.3L572.57 223.7L572.63 198.4L572.69 223.5L572.76 198.3L572.82 219.8L572.88 198.4L572.94 218.2L573.01 198.5L573.07 216.6L573.13 198.6L573.19 213.6L573.25 198.8L573.32 213.5L573.38 198.6L573.44 213.5L573.5 198.8L573.57 211.8L573.63 199.2L573.69 211L573.75 198.1L573.82 207.3L573.88 198.7L573.94 206L574 198.7L574.06 205L574.13 198.1L574.19 205L574.25 197.2L574.31 205L574.38 197.2L574.44 203L574.5 196.5L574.56 202.8L574.62 195.2L574.69 200.7L574.75 194.9L574.81 200.7L574.87 195.3L574.94 199.7L575 194.8L575.06 199.4L575.12 193.9L575.18 197.8L575.25 193.4L575.31 197.8L575.37 192.8L575.43 198.6L575.5 192.8L575.56 198.6L575.62 192.8L575.68 198.6L575.74 193.7L575.81 198.8L575.87 193.3L575.93 202.1L575.99 193.4L576.06 202.1L576.12 195L576.18 205L576.24 195.4L576.3 207.6L576.37 195.8L576.43 207.6L576.49 195.7L576.55 208.7L576.62 196.9L576.68 211.4L576.74 196.9L576.8 212.8L576.86 197.9L576.93 216.2L576.99 197.9L577.05 217.5L577.11 198.8L577.18 219.4L577.24 198.3L577.3 225.4L577.36 197.8L577.42 228.9L577.49 197.8L577.55 237.5L577.61 198L577.67 237.5L577.74 198.5L577.8 237.5L577.86 198.2L577.92 237.5L577.98 198.2L578.05 237.5L578.11 199.4L578.17 237.5L578.23 197.5L578.3 232L578.36 198.1L578.42 231.1L578.48 198.9L578.54 227.6L578.61 199.5L578.67 223.9L578.73 199.3L578.79 222.9L578.86 198.4L578.92 219.1L578.98 197.8L579.04 216.9L579.1 197.8L579.17 216.9L579.23 198.6L579.29 212.4L579.35 198.9L579.42 212.2L579.48 199.6L579.54 211.3L579.6 200.3L579.66 211.2L579.73 200.3L579.79 210.9L579.85 198.6L579.91 209.3L579.98 198.6L580.04 206.8L580.1 198.6L580.16 205.9L580.22 198.2L580.29 205.8L580.35 198L580.41 205.8L580.47 197.7L580.54 205.3L580.6 197.5L580.66 201.9L580.72 197.2L580.78 201L580.85 195.7L580.91 200.6L580.97 195.3L581.03 200.6L581.1 195.2L581.16 200.6L581.22 194.6L581.28 199.4L581.34 194.5L581.41 198.2L581.47 194L581.53 196.8L581.59 192.6L581.66 196.7L581.72 192.3L581.78 196.7L581.84 193.4L581.91 196.4L581.97 193L582.03 196.4L582.09 193L582.15 197.1L582.22 193.5L582.28 197.4L582.34 194.9L582.4 198.3L582.47 195.3L582.53 199.4L582.59 195.1L582.65 200.5L582.71 196.1L582.78 202.1L582.84 196.2L582.9 202.1L582.96 196.1L583.03 203.2L583.09 196.2L583.15 204.2L583.21 196.8L583.27 207.5L583.34 198.5L583.4 207.5L583.46 198.5L583.52 208.9L583.59 198.6L583.65 209.6L583.71 197.5L583.77 210.7L583.83 197.5L583.9 213.5L583.96 198.9L584.02 213.5L584.08 198.6L584.15 218L584.21 198.4L584.27 223L584.33 198.4L584.39 227.4L584.46 199L584.52 227.4L584.58 198.8L584.64 227.4L584.71 198.8L584.77 227.4L584.83 199L584.89 227.4L584.95 198.1L585.02 222.5L585.08 197.9L585.14 217.9L585.2 197.9L585.27 216.2L585.33 197.5L585.39 213.3L585.45 197.8L585.51 211.2L585.58 197.8L585.64 208L585.7 198.7L585.76 206.9L585.83 198.4L585.89 205.1L585.95 197.9L586.01 203.8L586.07 196.6L586.14 203.7L586.2 196.5L586.26 203.4L586.32 197.3L586.39 202.8L586.45 197.5L586.51 202.8L586.57 197.2L586.63 201.7L586.7 196.3L586.76 201.7L586.82 196L586.88 199.8L586.95 194.7L587.01 199.2L587.07 194L587.13 199.2L587.19 193.5L587.26 198.4L587.32 193.4L587.38 195.8L587.44 193.3L587.51 197.8L587.57 193.5L587.63 198L587.69 194L587.75 198.5L587.82 194.3L587.88 199.5L587.94 195.2L588 202.2L588.07 195.3L588.13 202.3L588.19 195.3L588.25 202.3L588.31 195.3L588.38 202.3L588.44 196.1L588.5 204.1L588.56 196.9L588.63 207L588.69 196.9L588.75 209.2L588.81 197.1L588.87 209.2L588.94 197.9L589 210.7L589.06 197.9L589.12 211.3L589.19 198.4L589.25 214.2L589.31 199.1L589.37 217.2L589.44 199.1L589.5 218.7L589.56 199.1L589.62 221.2L589.68 199.9L589.75 226.8L589.81 199L589.87 229.5L589.93 198.8L590 233.7L590.06 198.4L590.12 238.5L590.18 196.9L590.24 238.5L590.31 196.9L590.37 238.5L590.43 197.9L590.49 238.5L590.56 198.3L590.62 238.5L590.68 197.3L590.74 236.4L590.8 197.3L590.87 230.8L590.93 198.5L590.99 228L591.05 198L591.12 225.6L591.18 198.1L591.24 222L591.3 198.3L591.36 220.6L591.43 198.3L591.49 217.7L591.55 197.7L591.61 215.5L591.68 197.7L591.74 214.5L591.8 198.1L591.86 210.5L591.92 197.3L591.99 209.1L592.05 197.3L592.11 208.4L592.17 197.2L592.24 208.4L592.3 196.7L592.36 207.9L592.42 196.4L592.48 207.9L592.55 195.6L592.61 206.3L592.67 195.4L592.73 205.7L592.8 195.5L592.86 202.7L592.92 195.4L592.98 201.4L593.04 194.7L593.11 200.2L593.17 193.6L593.23 200L593.29 193.6L593.36 198.3L593.42 193.9L593.48 196.7L593.54 192.8L593.6 197.1L593.67 192.8L593.73 200.5L593.79 193.4L593.85 200.5L593.92 193.9L593.98 203.4L594.04 194.4L594.1 205.2L594.16 194.5L594.23 207.1L594.29 194.6L594.35 209.4L594.41 195.1L594.48 211.5L594.54 195L594.6 214.2L594.66 195L594.72 216.7L594.79 196.8L594.85 219.9L594.91 196.8L594.97 222.6L595.04 197.6L595.1 226L595.16 198L595.22 233.5L595.28 198.5L595.35 240.9L595.41 197.9L595.47 249.3L595.53 197.9L595.6 249.3L595.66 199.7L595.72 249.3L595.78 198.9L595.84 249.3L595.91 198.5L595.97 249.3L596.03 198.4L596.09 246.7L596.16 198L596.22 239.1L596.28 198.7L596.34 233.5L596.4 197.4L596.47 230.6L596.53 197.4L596.59 227.1L596.65 198.9L596.72 225.2L596.78 199.2L596.84 223.2L596.9 199.6L596.97 219.4L597.03 199.6L597.09 217L597.15 198.5L597.21 216.2L597.28 197.7L597.34 216.2L597.4 197.8L597.46 215L597.53 199.2L597.59 212.5L597.65 198.3L597.71 211.9L597.77 198L597.84 211.1L597.9 198.1L597.96 208.6L598.02 196.9L598.09 207.3L598.15 196.8L598.21 205.9L598.27 196.8L598.33 205.2L598.4 195.9L598.46 205.2L598.52 195.3L598.58 203.2L598.65 195.2L598.71 203.2L598.77 194.6L598.83 201.3L598.89 194.3L598.96 200.5L599.02 193.4L599.08 199.9L599.14 193.4L599.21 198.2L599.27 194.1L599.33 197.2L599.39 193L599.45 196.7L599.52 192.8L599.58 197.5L599.64 193L599.7 198L599.77 193.4L599.83 200.4L599.89 194.1L599.95 202L600.01 195.7L600.08 202L600.14 195.4L600.2 206L600.26 195.2L600.33 206L600.39 195.6L600.45 206.5L600.51 195.9L600.57 210.1L600.64 196.1L600.7 210.3L600.76 197.4L600.82 211.7L600.89 198L600.95 213.8L601.01 198.6L601.07 216.4L601.13 198.8L601.2 218L601.26 199.8L601.32 219.6L601.38 199.3L601.45 222.9L601.51 198.7L601.57 225.5L601.63 198.7L601.69 230.8L601.76 199L601.82 236.2L601.88 198.5L601.94 242.8L602.01 198.7L602.07 242.8L602.13 199.1L602.19 242.8L602.25 198.8L602.32 242.8L602.38 199.1L602.44 242.8L602.5 199.1L602.57 239.6L602.63 198.9L602.69 234L602.75 198.3L602.81 227.2L602.88 197.9L602.94 224.5L603 198.7L603.06 222.3L603.13 198.8L603.19 220.1L603.25 198.7L603.31 217.5L603.37 198.7L603.44 217.2L603.5 198.8L603.56 215.7L603.62 199L603.69 213.5L603.75 199.3L603.81 211.9L603.87 198.6L603.93 210L604 198.7L604.06 210L604.12 198.4L604.18 208.7L604.25 197.2L604.31 208.7L604.37 197.2L604.43 206.7L604.5 198L604.56 205L604.62 196.9L604.68 203L604.74 195.5L604.81 201.2L604.87 194.7L604.93 201.2L604.99 194.5L605.06 199.9L605.12 194.6L605.18 199.9L605.24 194.7L605.3 199.9L605.37 193.7L605.43 199.9L605.49 193.6L605.55 198L605.62 193.3L605.68 198L605.74 193.3L605.8 199.1L605.86 194.7L605.93 201.3L605.99 194.5L606.05 201.3L606.11 195.8L606.18 203.7L606.24 196L606.3 204.2L606.36 195.8L606.42 205.9L606.49 195.8L606.55 208.9L606.61 196.2L606.67 211.4L606.74 197.3L606.8 212.9L606.86 197.8L606.92 214.6L606.98 197.4L607.05 217L607.11 198.6L607.17 219.6L607.23 198.5L607.3 223.9L607.36 198.5L607.42 228.7L607.48 198.8L607.54 233.5L607.61 198.2L607.67 245.2L607.73 198.2L607.79 245.2L607.86 199L607.92 245.2L607.98 198.8L608.04 245.2L608.1 198.7L608.17 245.2L608.23 199.1L608.29 245.2L608.35 199.5L608.42 235.6L608.48 199.5L608.54 231.1L608.6 199.5L608.66 227.1L608.73 199L608.79 224.4L608.85 198.8L608.91 222.7L608.98 197.9L609.04 220.1L609.1 197.8L609.16 217.6L609.22 198.5L609.29 217.6L609.35 198.7L609.41 214.6L609.47 198.1L609.54 213.2L609.6 198L609.66 211.4L609.72 198.7L609.78 210.9L609.85 199.2L609.91 209L609.97 198L610.03 209L610.1 197.8L610.16 206.5L610.22 197.7L610.28 205L610.34 197.9L610.41 204.1L610.47 196.8L610.53 203.2L610.59 196.7L610.66 203.2L610.72 196.6L610.78 201.9L610.84 195.8L610.9 201.9L610.97 195.8L611.03 199.8L611.09 195.3L611.15 198.6L611.22 194.4L611.28 198.6L611.34 194.4L611.4 197.1L611.46 194L611.53 197.4L611.59 194.5L611.65 198.9L611.71 194.3L611.78 200.7L611.84 194.3L611.9 201.6L611.96 194.3L612.02 203.4L612.09 195.6L612.15 205.6L612.21 196.7L612.27 208.5L612.34 196.7L612.4 210.3L612.46 197.5L612.52 215L612.59 196.9L612.65 218.2L612.71 197.8L612.77 223L612.83 197.9L612.9 225L612.96 197.9L613.02 231.8L613.08 198L613.15 243.7L613.21 197.1L613.27 243.7L613.33 197L613.39 243.7L613.46 198.3L613.52 243.7L613.58 199L613.64 243.7L613.71 198.2L613.77 243.7L613.83 198.9L613.89 236.9L613.95 198.9L614.02 231.4L614.08 199L614.14 226.4L614.2 198.1L614.27 223.8L614.33 198.2L614.39 223.8L614.45 198.7L614.51 223.1L614.58 199L614.64 220.3L614.7 199.6L614.76 219.2L614.83 200.2L614.89 215.7L614.95 200.1L615.01 214.9L615.07 199.2L615.14 212.5L615.2 199.2L615.26 212.3L615.32 199.2L615.39 212.3L615.45 199.1L615.51 210L615.57 198.6L615.63 208.1L615.7 198.4L615.76 207.1L615.82 198.8L615.88 206.5L615.95 198.7L616.01 205.3L616.07 198.5L616.13 204.3L616.19 197.2L616.26 202.8L616.32 197.2L616.38 202.8L616.44 196.9L616.51 202.8L616.57 196.9L616.63 201.1L616.69 196.4L616.75 200.9L616.82 196L616.88 200L616.94 194.9L617 200L617.07 194.8L617.13 200L617.19 193.4L617.25 199.6L617.31 193.4L617.38 198.7L617.44 193L617.5 198.7L617.56 193.1L617.63 199.5L617.69 194.1L617.75 200.9L617.81 194.1L617.87 200.9L617.94 195L618 203.7L618.06 195.8L618.12 205.9L618.19 196.5L618.25 206.6L618.31 196.6L618.37 208.7L618.43 197L618.5 211.8L618.56 197L618.62 212.2L618.68 196.8L618.75 216.1L618.81 197.3L618.87 219.2L618.93 198.6L618.99 222L619.06 199.1L619.12 225.8L619.18 198.8L619.24 233.3L619.31 198.2L619.37 239L619.43 198.2L619.49 239L619.55 197.9L619.62 239L619.68 198.3L619.74 239L619.8 198.5L619.87 239L619.93 198.4L619.99 239L620.05 198.8L620.12 232.2L620.18 198.5L620.24 230.6L620.3 198.5L620.36 228.4L620.43 199.5L620.49 226L620.55 198.6L620.61 224L620.68 198L620.74 220.3L620.8 198.7L620.86 217.8L620.92 198.7L620.99 217.6L621.05 198.7L621.11 215.4L621.17 198.7L621.24 214.7L621.3 198.9L621.36 214L621.42 198.9L621.48 211.2L621.55 198.7L621.61 211.2L621.67 199L621.73 211.2L621.8 198.9L621.86 210L621.92 198.9L621.98 209.8L622.04 198.2L622.11 208L622.17 198.1L622.23 208L622.29 198.4L622.36 206.6L622.42 198.4L622.48 206.6L622.54 199L622.6 206.4L622.67 198.9L622.73 206.4L622.79 198.9L622.85 203.9L622.92 198.8L622.98 203.6" clip-path="url(#pe4cbeb2625)" style="fill: none; stroke: #1f77b4; stroke-width: 1.6; stroke-linecap: square"/>
   </g>
   <g id="patch_8">
    <path d="M90.36 272.52L90.36 188.28" style="fill: none; stroke: #000000; stroke-width: 0.8; stroke-linecap: square"/>
   </g>
   <g id="patch_9">
    <path d="M648.36 272.52L648.36 188.28" style="fill: none; stroke: #000000; stroke-width: 0.8; stroke-linecap: square"/>
   </g>
   <g id="patch_10">
    <path d="M90.36 272.52L648.36 272.52" style="fill: none; stroke: #000000; stroke-width: 0.8; stroke-linecap: square"/>
   </g>
   <g id="patch_11">
    <path d="M90.36 188.28L648.36 188.28" style="fill: none; stroke: #000000; stroke-width: 0.8; stroke-linecap: square"/>
   </g>
  </g>
  <g id="axes_3">
   <g id="patch_12">
    <path d="M 90 373.406897 
L 648 373.406897 
L 648 288.993103 
L 90 288.993103 
z
" style="fill: #ffffff"/>
   </g>
   <g id="matplotlib.axis_5">
    <g id="xtick_19">
     <g id="line2d_24">
      <g>
       <use href="#mb9af4d5690" x="145.8" y="374.04" style="stroke: #000000; stroke-width: 0.8"/>
      </g>
     </g>
     <g id="text_27">
      <text style="font-size: 10px; font-family: 'DejaVu Sans', 'Liberation Sans', sans-serif" transform="translate(122.393771 400.292336) rotate(-30)">2020</text>
     </g>
    </g>
    <g id="xtick_20">
     <g id="line2d_25">
      <g>
       <use href="#mb9af4d5690" x="205.56" y="374.04" style="stroke: #000000; stroke-width: 0.8"/>
      </g>
     </g>
     <g id="text_28">
      <text style="font-size: 10px; font-family: 'DejaVu Sans', 'Liberation Sans', sans-serif" transform="translate(182.123892 400.292336) rotate(-30)">2030</text>
     </g>
    </g>
    <g id="xtick_21">
     <g id="line2d_26">
      <g>
       <use href="#mb9af4d5690" x="265.32" y="374.04" style="stroke: #000000; stroke-width: 0.8"/>
      </g>
     </g>
     <g id="text_29">
      <text style="font-size: 10px; font-family: 'DejaVu Sans', 'Liberation Sans', sans-serif" transform="translate(241.837662 400.292336) rotate(-30)">2040</text>
     </g>
    </g>
    <g id="xtick_22">
     <g id="line2d_27">
      <g>
       <use href="#mb9af4d5690" x="325.08" y="374.04" style="stroke: #000000; stroke-width: 0.8"/>
      </g>
     </g>
     <g id="text_30">
      <text style="font-size: 10px; font-family: 'DejaVu Sans', 'Liberation Sans', sans-serif" transform="translate(301.567783 400.292336) rotate(-30)">2050</text>
     </g>
    </g>
    <g id="xtick_23">
     <g id="line2d_28">
      <g>
       <use href="#mb9af4d5690" x="384.84" y="374.04" style="stroke: #000000; stroke-width: 0.8"/>
      </g>
     </g>
     <g id="text_31">
      <text style="font-size: 10px; font-family: 'DejaVu Sans', 'Liberation Sans', sans-serif" transform="translate(361.281553 400.292336) rotate(-30)">2060</text>
     </g>
    </g>
    <g id="xtick_24">
     <g id="line2d_29">
      <g>
       <use href="#mb9af4d5690" x="444.6" y="374.04" style="stroke: #000000; stroke-width: 0.8"/>
      </g>
     </g>
     <g id="text_32">
      <text style="font-size: 10px; font-family: 'DejaVu Sans', 'Liberation Sans', sans-serif" transform="translate(421.011674 400.292336) rotate(-30)">2070</text>
     </g>
    </g>
    <g id="xtick_25">
     <g id="line2d_30">
      <g>
       <use href="#mb9af4d5690" x="504.36" y="374.04" style="stroke: #000000; stroke-width: 0.8"/>
      </g>
     </g>
     <g id="text_33">
      <text style="font-size: 10px; font-family: 'DejaVu Sans', 'Liberation Sans', sans-serif" transform="translate(480.725444 400.292336) rotate(-30)">2080</text>
     </g>
    </g>
    <g id="xtick_26">
     <g id="line2d_31">
      <g>
       <use href="#mb9af4d5690" x="564.12" y="374.04" style="stroke: #000000; stroke-width: 0.8"/>
      </g>
     </g>
     <g id="text_34">
      <text style="font-size: 10px; font-family: 'DejaVu Sans', 'Liberation Sans', sans-serif" transform="translate(540.455565 400.292336) rotate(-30)">2090</text>
     </g>
    </g>
    <g id="xtick_27">
     <g id="line2d_32">
      <g>
       <use href="#mb9af4d5690" x="623.88" y="374.04" style="stroke: #000000; stroke-width: 0.8"/>
      </g>
     </g>
     <g id="text_35">
      <text style="font-size: 10px; font-family: 'DejaVu Sans', 'Liberation Sans', sans-serif" transform="translate(600.169335 400.292336) rotate(-30)">2100</text>
     </g>
    </g>
   </g>
   <g id="matplotlib.axis_6">
    <g id="ytick_6">
     <g id="line2d_33">
      <g>
       <use href="#mb0a17fd25a" x="90.36" y="345.24" style="stroke: #000000; stroke-width: 0.8"/>
      </g>
     </g>
     <g id="text_36">
      <text style="font-size: 10px; font-family: 'DejaVu Sans', 'Liberation Sans', sans-serif; text-anchor: end" x="83" y="348.684049" transform="rotate(-0 83 348.684049)">310</text>
     </g>
    </g>
    <g id="ytick_7">
     <g id="line2d_34">
      <g>
       <use href="#mb0a17fd25a" x="90.36" y="316.44" style="stroke: #000000; stroke-width: 0.8"/>
      </g>
     </g>
     <g id="text_37">
      <text style="font-size: 10px; font-family: 'DejaVu Sans', 'Liberation Sans', sans-serif; text-anchor: end" x="83" y="319.87388" transform="rotate(-0 83 319.87388)">320</text>
     </g>
    </g>
    <g id="text_38">
     <text style="font-size: 10px; font-family: 'DejaVu Sans', 'Liberation Sans', sans-serif; text-anchor: middle" x="57.832812" y="331.2" transform="translate(-0.5 1.08) rotate(-90 57.832812 331.2)">fieldmax</text>
    </g>
   </g>
   <g id="L_fieldmax">
    <path d="M114.98 304.5L115.05 318.6L115.11 304.5L115.17 318.6L115.23 304.5L115.3 323.9L115.36 304.5L115.42 327.2L115.48 306.1L115.54 330.6L115.61 306.1L115.67 336.6L115.73 307.3L115.79 340.4L115.86 308.7L115.92 342.5L115.98 315.1L116.04 343.9L116.1 315.1L116.17 344.3L116.23 325.3L116.29 344.3L116.35 327L116.42 349.6L116.48 329.1L116.54 349.6L116.6 330.2L116.66 350.4L116.73 331L116.79 352.4L116.85 331L116.91 354.9L116.98 333.7L117.04 358.6L117.1 333.7L117.16 358.6L117.22 337.3L117.29 359.5L117.35 339L117.41 362.6L117.47 341L117.54 364.8L117.6 343.8L117.66 364.8L117.72 343.8L117.78 364.8L117.85 345.7L117.91 364.8L117.97 344.2L118.03 364.8L118.1 343.1L118.16 364.7L118.22 343.1L118.28 364.7L118.34 343.1L118.41 364.7L118.47 343.1L118.53 363.5L118.59 341.4L118.66 362.7L118.72 341.4L118.78 362.7L118.84 341.4L118.9 362.7L118.97 341.4L119.03 361.6L119.09 341.2L119.15 360.3L119.22 339.7L119.28 360.3L119.34 335.4L119.4 360.3L119.46 335.4L119.53 356.7L119.59 335.4L119.65 356.7L119.71 335.4L119.78 356.6L119.84 333.7L119.9 356.2L119.96 332.4L120.02 351.4L120.09 332.4L120.15 351.4L120.21 329.2L120.27 351.4L120.34 326L120.4 348L120.46 323.8L120.52 346.7L120.58 322.7L120.65 344.1L120.71 316.2L120.77 344.1L120.83 312.3L120.9 341.1L120.96 310.7L121.02 338.3L121.08 310.7L121.14 338.3L121.21 310.7L121.27 337.8L121.33 307.1L121.39 335.3L121.46 304.5L121.52 335.3L121.58 304.5L121.64 335.3L121.7 304.5L121.77 327.8L121.83 304.5L121.89 327.4L121.95 304.5L122.02 335.8L122.08 307.7L122.14 336.3L122.2 312.3L122.27 336.9L122.33 312.3L122.39 336.9L122.45 316.4L122.51 341.4L122.58 319.1L122.64 341.4L122.7 326.3L122.76 341.4L122.83 329.7L122.89 341.4L122.95 330.4L123.01 341.4L123.07 330.4L123.14 340.3L123.2 330.4L123.26 344.7L123.32 331.4L123.39 344.7L123.45 331.4L123.51 349L123.57 331.5L123.63 350.9L123.7 332.2L123.76 352.3L123.82 341.8L123.88 355.5L123.95 341.8L124.01 355.5L124.07 342.7L124.13 360.2L124.19 350.3L124.26 360.2L124.32 352.4L124.38 360.2L124.44 352.4L124.51 360.2L124.57 352.4L124.63 366L124.69 352.7L124.75 366L124.82 353L124.88 366L124.94 350.3L125 366L125.07 348.7L125.13 366L125.19 348.7L125.25 364.4L125.31 348.7L125.38 361.5L125.44 346L125.5 355.8L125.56 345.2L125.63 352.6L125.69 341.4L125.75 352.6L125.81 341.1L125.87 350.5L125.94 337.9L126 348.8L126.06 334.2L126.12 347.9L126.19 328.2L126.25 347.9L126.31 326.3L126.37 344.9L126.43 326.3L126.5 342.6L126.56 322L126.62 337.5L126.68 321.3L126.75 334.3L126.81 321.3L126.87 334.3L126.93 320L126.99 334.3L127.06 315.9L127.12 330.2L127.18 309L127.24 330.2L127.31 303.3L127.37 330.2L127.43 302.3L127.49 330.2L127.55 302.3L127.62 325.2L127.68 302.3L127.74 323L127.8 302.3L127.87 327.4L127.93 302.3L127.99 331.5L128.05 302.3L128.11 332.9L128.18 311.7L128.24 337.1L128.3 312.6L128.36 339.5L128.43 314.6L128.49 339.5L128.55 314.6L128.61 341.7L128.67 321.5L128.74 346.9L128.8 325.5L128.86 350.5L128.92 330.5L128.99 353.7L129.05 330.5L129.11 353.7L129.17 331.9L129.23 355.9L129.3 334.5L129.36 357.4L129.42 341.9L129.48 357.4L129.55 342.5L129.61 357.4L129.67 342.5L129.73 361.9L129.8 343.8L129.86 363.4L129.92 348.2L129.98 364L130.04 351.5L130.11 366.6L130.17 351.5L130.23 366.6L130.29 351.9L130.36 366.6L130.42 348L130.48 366.6L130.54 346.2L130.6 366.6L130.67 346.1L130.73 362.7L130.79 345.8L130.85 357.1L130.92 345.8L130.98 357.5L131.04 345.8L131.1 357.5L131.16 343L131.23 357.5L131.29 339.8L131.35 357.5L131.41 339.3L131.48 357.5L131.54 335L131.6 357.5L131.66 332.6L131.72 357.2L131.79 332.5L131.85 350.9L131.91 332.5L131.97 349L132.04 326.1L132.1 343.5L132.16 324.2L132.22 343.4L132.28 324.2L132.35 339.4L132.41 323.8L132.47 337L132.53 320.2L132.6 334.1L132.66 314.5L132.72 334.1L132.78 311.3L132.84 334.1L132.91 303.3L132.97 331L133.03 303.3L133.09 329.9L133.16 303.3L133.22 325.1L133.28 303.3L133.34 323.9L133.4 303.3L133.47 332.3L133.53 303.3L133.59 332.3L133.65 305.2L133.72 335.1L133.78 308.7L133.84 338.4L133.9 314.7L133.96 339.6L134.03 325.9L134.09 342.9L134.15 325.9L134.21 342.9L134.28 327.8L134.34 343.2L134.4 327.9L134.46 345.1L134.52 331.5L134.59 348.7L134.65 331.5L134.71 351.8L134.77 334.6L134.84 357.2L134.9 335.8L134.96 357.2L135.02 338.9L135.08 360.7L135.15 342.4L135.21 364.5L135.27 346.9L135.33 366.7L135.4 348.7L135.46 366.7L135.52 348.7L135.58 367.5L135.64 350.6L135.71 367.5L135.77 354.5L135.83 367.5L135.89 354.2L135.96 368.3L136.02 354.2L136.08 368.4L136.14 354.2L136.2 368.4L136.27 354.2L136.33 368.4L136.39 353.4L136.45 368.4L136.52 349.3L136.58 368.4L136.64 347.5L136.7 367.4L136.76 345.2L136.83 362.6L136.89 339.9L136.95 361.2L137.01 339.9L137.08 354.8L137.14 339.9L137.2 353.1L137.26 337.9L137.33 351.1L137.39 336.3L137.45 350.8L137.51 332L137.57 350.7L137.64 331.8L137.7 350.2L137.76 322L137.82 347.4L137.89 317.2L137.95 347.4L138.01 316.2L138.07 344.3L138.13 311.1L138.2 344.3L138.26 305.2L138.32 338.4L138.38 302.3L138.45 332.1L138.51 301.5L138.57 332.1L138.63 297.1L138.69 328L138.76 297.1L138.82 320.9L138.88 297.1L138.94 318.4L139.01 297.1L139.07 323.4L139.13 297.1L139.19 329.6L139.25 297.5L139.32 329.6L139.38 301.7L139.44 333.6L139.5 303.1L139.57 337.8L139.63 303.1L139.69 337.8L139.75 308.1L139.81 337.8L139.88 315.2L139.94 339.7L140 318.2L140.06 340.9L140.13 319.3L140.19 345.9L140.25 324.5L140.31 347.5L140.37 325.6L140.44 350.5L140.5 326.3L140.56 353.1L140.62 326.3L140.69 353.1L140.75 331.1L140.81 353.1L140.87 337L140.93 356L141 338.3L141.06 359.4L141.12 340.6L141.18 361.7L141.25 341.4L141.31 361.7L141.37 341.8L141.43 363.6L141.49 343.1L141.56 366L141.62 343.1L141.68 366L141.74 348.1L141.81 366L141.87 348L141.93 366L141.99 348L142.05 366L142.12 348L142.18 366L142.24 348L142.3 364.3L142.37 348L142.43 364.3L142.49 348L142.55 364.3L142.61 348.4L142.68 364.3L142.74 348.3L142.8 364.3L142.86 343.4L142.93 364.3L142.99 341.8L143.05 362L143.11 341.4L143.17 359.6L143.24 335.4L143.3 358L143.36 335.4L143.42 355.6L143.49 330L143.55 352.4L143.61 327.8L143.67 352.4L143.73 322.9L143.8 350.2L143.86 319.4L143.92 348.9L143.98 314.1L144.05 347.6L144.11 310.7L144.17 342.7L144.23 309.9L144.29 340.3L144.36 308.5L144.42 332.9L144.48 299.4L144.54 329L144.61 296.6L144.67 326.9L144.73 295.8L144.79 322.3L144.85 295.8L144.92 319.2L144.98 295.8L145.04 315.9L145.1 295.8L145.17 322.7L145.23 295.8L145.29 322.7L145.35 296.2L145.42 331.1L145.48 298.6L145.54 331.1L145.6 298.6L145.66 332.3L145.73 303.6L145.79 333.1L145.85 308.7L145.91 337.1L145.98 311.1L146.04 341.5L146.1 312.5L146.16 349.1L146.22 316.9L146.29 349.5L146.35 318.5L146.41 356.6L146.47 322.8L146.54 357.2L146.6 328L146.66 357.8L146.72 334.9L146.78 358L146.85 334.9L146.91 360.3L146.97 342.9L147.03 360.3L147.1 344L147.16 360.3L147.22 344.8L147.28 360.7L147.34 345.9L147.41 361L147.47 345.9L147.53 361L147.59 345.2L147.66 361L147.72 345.2L147.78 361L147.84 345.2L147.9 361L147.97 345.2L148.03 361.4L148.09 345.2L148.15 364.8L148.22 346.1L148.28 364.8L148.34 347.1L148.4 364.8L148.46 347.2L148.53 364.8L148.59 344.9L148.65 364.8L148.71 344.1L148.78 364.8L148.84 344.1L148.9 362.5L148.96 343L149.02 360.5L149.09 340.5L149.15 359.1L149.21 339.6L149.27 358.9L149.34 339L149.4 357.2L149.46 336.9L149.52 357.2L149.58 333.9L149.65 355.2L149.71 328L149.77 355.2L149.83 324.4L149.9 352.8L149.96 319.1L150.02 351.6L150.08 316.4L150.14 349L150.21 316.4L150.27 340.7L150.33 315.5L150.39 340.1L150.46 306.9L150.52 334.4L150.58 306.9L150.64 334.4L150.7 306.9L150.77 334.4L150.83 306.9L150.89 331.7L150.95 306.9L151.02 331.3L151.08 306.9L151.14 332.7L151.2 312.6L151.26 338.9L151.33 312.6L151.39 338.9L151.45 314.2L151.51 346.2L151.58 315L151.64 347.9L151.7 319.4L151.76 347.9L151.82 327.9L151.89 350L151.95 330.4L152.01 351.7L152.07 331.2L152.14 351.7L152.2 333.8L152.26 351.7L152.32 336L152.38 351.7L152.45 338.5L152.51 357.6L152.57 339.4L152.63 357.6L152.7 341.1L152.76 357.6L152.82 341.2L152.88 357.6L152.95 341.2L153.01 357.9L153.07 345.8L153.13 363.9L153.19 345.8L153.26 367L153.32 345.8L153.38 367L153.44 348.1L153.51 367L153.57 349.3L153.63 367L153.69 351.8L153.75 367L153.82 351.8L153.88 366.5L153.94 351.8L154 364.8L154.07 351.8L154.13 363.8L154.19 350.4L154.25 363.6L154.31 349.4L154.38 363.6L154.44 346.8L154.5 363.6L154.56 346.8L154.63 363.6L154.69 345.4L154.75 358.3L154.81 342.1L154.87 356.9L154.94 339.9L155 356.9L155.06 339.9L155.12 356.9L155.19 338L155.25 355L155.31 338L155.37 352.4L155.43 338L155.5 352.4L155.56 334.1L155.62 352.4L155.68 333.9L155.75 352.4L155.81 331.3L155.87 352.4L155.93 329.3L155.99 349.7L156.06 322.2L156.12 344.7L156.18 318.7L156.24 342.9L156.31 318.7L156.37 340.8L156.43 318.7L156.49 335.7L156.55 311.4L156.62 331.2L156.68 307.4L156.74 328.5L156.8 305.5L156.87 327.7L156.93 305.5L156.99 325.7L157.05 305.5L157.11 326.6L157.18 305.5L157.24 336L157.3 305.5L157.36 341.9L157.43 307.8L157.49 343.3L157.55 315.5L157.61 344.7L157.67 319.7L157.74 344.7L157.8 325L157.86 349.5L157.92 331.3L157.99 354L158.05 331.3L158.11 354L158.17 331.9L158.23 355L158.3 336L158.36 360L158.42 339.6L158.48 362.9L158.55 340.3L158.61 362.9L158.67 340.3L158.73 362.9L158.79 343L158.86 362.9L158.92 343.3L158.98 362.9L159.04 343.3L159.11 362.9L159.17 343.3L159.23 361L159.29 343.3L159.35 357.9L159.42 343.3L159.48 358.7L159.54 343.3L159.6 360.6L159.67 345.5L159.73 363.4L159.79 345.5L159.85 365.6L159.91 347.1L159.98 367L160.04 349.7L160.1 367L160.16 349.7L160.23 367L160.29 351L160.35 367L160.41 350.5L160.48 367L160.54 350.5L160.6 365.7L160.66 345.6L160.72 365.7L160.79 343.5L160.85 365.7L160.91 338.3L160.97 365.7L161.04 336.7L161.1 365.7L161.16 336.7L161.22 360.5L161.28 336.7L161.35 354L161.41 336.7L161.47 354L161.53 336.7L161.6 354L161.66 333.4L161.72 354L161.78 333.4L161.84 351.8L161.91 333.3L161.97 351.8L162.03 326.6L162.09 349.6L162.16 320.3L162.22 349.6L162.28 320.3L162.34 345.2L162.4 319.9L162.47 344.7L162.53 317.1L162.59 343.3L162.65 310.3L162.72 336L162.78 303L162.84 333.6L162.9 303L162.96 331.3L163.03 303L163.09 329.3L163.15 303L163.21 328.7L163.28 303L163.34 330.3L163.4 303L163.46 333.3L163.52 307L163.59 341.4L163.65 314.8L163.71 346.5L163.77 319.2L163.84 346.5L163.9 319.6L163.96 346.5L164.02 322.8L164.08 346.5L164.15 324.6L164.21 348L164.27 324.7L164.33 352.2L164.4 324.7L164.46 355.5L164.52 324.7L164.58 357L164.64 325.9L164.71 360.5L164.77 334.7L164.83 360.5L164.89 335.8L164.96 360.8L165.02 339.3L165.08 362.8L165.14 339.3L165.2 363.5L165.27 343.8L165.33 363.5L165.39 343.8L165.45 363.9L165.52 343.8L165.58 364.4L165.64 343.8L165.7 364.4L165.76 346.4L165.83 365.6L165.89 347.7L165.95 365.6L166.01 347.7L166.08 365.6L166.14 343.1L166.2 365.6L166.26 341.5L166.32 365.6L166.39 341.5L166.45 365.6L166.51 339.1L166.57 365.5L166.64 335.1L166.7 358.5L166.76 335.1L166.82 356.1L166.88 333.5L166.95 354L167.01 333.5L167.07 354L167.13 333.5L167.2 353.7L167.26 329.7L167.32 353.7L167.38 329.7L167.44 353.7L167.51 329.7L167.57 350.7L167.63 325.6L167.69 347.6L167.76 322.1L167.82 347.6L167.88 314.8L167.94 342.9L168.01 310.5L168.07 342.9L168.13 307.5L168.19 342.9L168.25 303.8L168.32 337.1L168.38 303.8L168.44 335.3L168.5 303.8L168.57 330.3L168.63 303.8L168.69 326.4L168.75 303.8L168.81 329.4L168.88 303.8L168.94 329.4L169 314.2L169.06 329.4L169.13 314.2L169.19 331.2L169.25 316.7L169.31 334.8L169.37 318.6L169.44 334.8L169.5 318.6L169.56 337.3L169.62 319.8L169.69 340.3L169.75 326L169.81 340.3L169.87 327.1L169.93 342.5L170 327.1L170.06 343.3L170.12 330L170.18 344.1L170.25 333.3L170.31 346.1L170.37 334.7L170.43 347.8L170.49 337.8L170.56 350.6L170.62 337.8L170.68 351.1L170.74 341L170.81 351.1L170.87 341L170.93 351.1L170.99 344.9L171.05 351.1L171.12 345.1L171.18 352L171.24 345.1L171.3 354.7L171.37 345.8L171.43 354.7L171.49 346.5L171.55 354.7L171.61 347.9L171.68 358.7L171.74 349.7L171.8 362L171.86 350.9L171.93 362L171.99 350.4L172.05 362L172.11 347.6L172.17 362L172.24 347.3L172.3 362L172.36 346.4L172.42 361.3L172.49 346.4L172.55 357.2L172.61 346.4L172.67 355.2L172.73 346.4L172.8 356.8L172.86 346.4L172.92 356.8L172.98 346.1L173.05 356.8L173.11 345.7L173.17 356.8L173.23 340.2L173.29 356.8L173.36 338L173.42 356.8L173.48 332L173.54 350.2L173.61 332L173.67 347.3L173.73 332L173.79 342.4L173.85 332L173.92 340.1L173.98 329.6L174.04 338.3L174.1 329.4L174.17 338.3L174.23 326.6L174.29 338L174.35 324.6L174.41 338L174.48 315.6L174.54 337.9L174.6 315.6L174.66 337.9L174.73 313.9L174.79 335.6L174.85 306.6L174.91 328.9L174.97 305.5L175.04 327.5L175.1 305.5L175.16 324.3L175.22 305.5L175.29 321.4L175.35 305.5L175.41 330.6L175.47 305.5L175.54 333.2L175.6 306L175.66 333.4L175.72 309.5L175.78 341L175.85 312.2L175.91 341.3L175.97 322.5L176.03 341.3L176.1 323.6L176.16 341.3L176.22 323.6L176.28 342.6L176.34 327.5L176.41 347.9L176.47 330.8L176.53 355.4L176.59 330.8L176.66 355.4L176.72 330.8L176.78 355.4L176.84 333L176.9 355.4L176.97 337.8L177.03 358.7L177.09 340.1L177.15 359.1L177.22 343.7L177.28 359.1L177.34 346.2L177.4 359.1L177.46 347.6L177.53 363.4L177.59 348.2L177.65 363.4L177.71 348.2L177.78 363.4L177.84 350.4L177.9 363.4L177.96 345.5L178.02 363.4L178.09 345.5L178.15 363.4L178.21 345.5L178.27 360.6L178.34 345L178.4 360.6L178.46 345L178.52 357.5L178.58 345L178.65 357.5L178.71 340.4L178.77 357.5L178.83 339.9L178.9 357.5L178.96 339.9L179.02 357.5L179.08 339.9L179.14 357.1L179.21 334.1L179.27 354.6L179.33 333.4L179.39 354.6L179.46 328.2L179.52 354.6L179.58 321.2L179.64 352.4L179.7 321.2L179.77 347.4L179.83 317.7L179.89 347.4L179.95 317.7L180.02 341L180.08 317.7L180.14 335.8L180.2 312L180.26 334.3L180.33 312L180.39 333.4L180.45 311.6L180.51 332.8L180.58 307.4L180.64 331.2L180.7 302L180.76 329.6L180.82 302L180.89 329.6L180.95 301.9L181.01 325.8L181.07 301.9L181.14 325.1L181.2 301.9L181.26 326.3L181.32 301.9L181.38 326.3L181.45 301.9L181.51 330.9L181.57 301.9L181.63 334.1L181.7 306.5L181.76 337.2L181.82 313.4L181.88 340.8L181.94 314.3L182.01 347.6L182.07 318L182.13 347.6L182.19 322.8L182.26 348.9L182.32 324.5L182.38 356L182.44 328.6L182.5 356L182.57 335L182.63 356L182.69 336.1L182.75 356L182.82 340.6L182.88 356L182.94 340.6L183 356L183.06 340.6L183.13 355.3L183.19 340.6L183.25 359.6L183.31 340.6L183.38 359.6L183.44 345L183.5 363.4L183.56 345.3L183.63 364.1L183.69 348.1L183.75 364.1L183.81 351.7L183.87 364.1L183.94 349.7L184 364.1L184.06 349.7L184.12 364.1L184.19 349.7L184.25 363.9L184.31 349.5L184.37 359.9L184.43 348.5L184.5 359.9L184.56 348.5L184.62 359.9L184.68 348.1L184.75 359L184.81 341.3L184.87 357.8L184.93 341.3L184.99 357.8L185.06 339.1L185.12 354L185.18 335.1L185.24 353.6L185.31 335.1L185.37 350L185.43 335.1L185.49 350L185.55 334.5L185.62 345.7L185.68 328.9L185.74 344.2L185.8 326.2L185.87 344L185.93 325.1L185.99 342.2L186.05 323.9L186.11 341.5L186.18 316.7L186.24 340.9L186.3 313.9L186.36 335.9L186.43 309.8L186.49 332.8L186.55 309.5L186.61 331.1L186.67 307.9L186.74 326.1L186.8 304.3L186.86 324.3L186.92 299.3L186.99 324.3L187.05 299.3L187.11 317.9L187.17 299.3L187.23 324.3L187.3 299.3L187.36 325.7L187.42 299.3L187.48 329.6L187.55 299.3L187.61 331.2L187.67 305.6L187.73 331.2L187.79 309L187.86 337.4L187.92 314.6L187.98 340.8L188.04 317.2L188.11 340.8L188.17 317.2L188.23 348L188.29 320.2L188.35 348L188.42 326.6L188.48 350L188.54 331.5L188.6 352.1L188.67 331.9L188.73 352.7L188.79 334L188.85 354.8L188.91 338.1L188.98 356.7L189.04 339.8L189.1 356.7L189.16 340.3L189.23 357.9L189.29 341.5L189.35 357.9L189.41 344.9L189.47 359.9L189.54 344.9L189.6 359.9L189.66 346.7L189.72 361.4L189.79 346.7L189.85 361.4L189.91 346.7L189.97 361.4L190.03 346.7L190.1 362.2L190.16 346.7L190.22 362.2L190.28 347.2L190.35 362.2L190.41 342.8L190.47 362.2L190.53 340.4L190.59 362.2L190.66 337.4L190.72 358.9L190.78 335.9L190.84 357.1L190.91 335.9L190.97 352.1L191.03 335.9L191.09 352.1L191.16 335.9L191.22 352.1L191.28 335.3L191.34 352.1L191.4 335.3L191.47 352.1L191.53 330.9L191.59 352.1L191.65 326.3L191.72 350.4L191.78 326.3L191.84 347.2L191.9 326.3L191.96 347.2L192.03 326.3L192.09 346.2L192.15 326.3L192.21 343.9L192.28 318.3L192.34 343.9L192.4 317.7L192.46 343.9L192.52 313.8L192.59 343.9L192.65 313.8L192.71 338.2L192.77 309.7L192.84 335.4L192.9 304.7L192.96 332.3L193.02 303.3L193.08 329.2L193.15 303.3L193.21 329.2L193.27 303.3L193.33 331L193.4 303.3L193.46 334.3L193.52 303.3L193.58 338.7L193.64 308.5L193.71 343.2L193.77 316.5L193.83 344.6L193.89 317.4L193.96 344.6L194.02 322.9L194.08 344.6L194.14 327.3L194.2 344.6L194.27 333.5L194.33 346L194.39 333.5L194.45 351.1L194.52 333.5L194.58 360.1L194.64 334.9L194.7 360.1L194.76 334.9L194.83 360.1L194.89 337.9L194.95 360.1L195.01 343.8L195.08 360.1L195.14 348.2L195.2 360.1L195.26 348.2L195.32 359.6L195.39 348.2L195.45 360.4L195.51 348.2L195.57 364.1L195.64 348.2L195.7 364.1L195.76 352.4L195.82 364.1L195.88 351.3L195.95 364.1L196.01 351.3L196.07 364.1L196.13 349.8L196.2 364.1L196.26 344.7L196.32 361.7L196.38 344.7L196.44 358.4L196.51 344.7L196.57 358.4L196.63 344.7L196.69 358.4L196.76 342.6L196.82 358.4L196.88 342.6L196.94 358.4L197 342.6L197.07 355.2L197.13 342.5L197.19 353.5L197.25 341.8L197.32 353.5L197.38 336.7L197.44 351.5L197.5 327.7L197.56 351.5L197.63 326.4L197.69 349.3L197.75 322.2L197.81 346.1L197.88 317.3L197.94 346.1L198 316.2L198.06 346.1L198.12 308.7L198.19 334L198.25 304.5L198.31 331.3L198.37 302.2L198.44 330.3L198.5 297.4L198.56 329.7L198.62 297.4L198.69 320.4L198.75 294.7L198.81 320.4L198.87 294.7L198.93 321.7L199 294.7L199.06 323.9L199.12 294.7L199.18 323.9L199.25 294.7L199.31 324.4L199.37 297.3L199.43 326.9L199.49 309.7L199.56 332.3L199.62 312.3L199.68 337.2L199.74 312.3L199.81 343.1L199.87 315.1L199.93 343.1L199.99 315.8L200.05 347.3L200.12 319.7L200.18 351.6L200.24 324.8L200.3 351.6L200.37 326.9L200.43 357.2L200.49 326.9L200.55 359.1L200.61 330.3L200.68 362.5L200.74 333.4L200.8 362.5L200.86 337.3L200.93 362.5L200.99 342.7L201.05 362.5L201.11 344.1L201.17 363.5L201.24 344.1L201.3 363.5L201.36 344.1L201.42 364.3L201.49 344.1L201.55 366.3L201.61 344.1L201.67 366.3L201.73 346L201.8 366.3L201.86 345.8L201.92 366.3L201.98 345.8L202.05 366.3L202.11 345.8L202.17 366.3L202.23 345.8L202.29 365.3L202.36 345.8L202.42 365.3L202.48 346.7L202.54 365.3L202.61 345.9L202.67 365.3L202.73 345.8L202.79 360.7L202.85 345.8L202.92 360.5L202.98 340L203.04 360.5L203.1 337.2L203.17 360.5L203.23 337.2L203.29 360.5L203.35 335.2L203.41 356.7L203.48 331.1L203.54 353.3L203.6 331.1L203.66 352.5L203.73 328.9L203.79 352.5L203.85 322L203.91 347L203.97 316.9L204.04 345.2L204.1 316.9L204.16 342.5L204.22 310.9L204.29 341.5L204.35 310.9L204.41 341.5L204.47 308.1L204.53 329.5L204.6 304.1L204.66 329.5L204.72 302.1L204.78 326.3L204.85 294.3L204.91 323.2L204.97 294.3L205.03 322.4L205.09 294.3L205.16 322.4L205.22 294.3L205.28 316.4L205.34 294.3L205.41 325L205.47 294.3L205.53 331.4L205.59 300.8L205.65 331.4L205.72 304.8L205.78 331.4L205.84 306.1L205.9 336.1L205.97 313.1L206.03 338.8L206.09 317L206.15 339.4L206.22 317.5L206.28 342.5L206.34 317.5L206.4 348.6L206.46 322.1L206.53 351.3L206.59 324.8L206.65 352L206.71 326.1L206.78 352.5L206.84 326.1L206.9 352.5L206.96 339.1L207.02 357.7L207.09 342.1L207.15 359.5L207.21 342.3L207.27 359.5L207.34 342.4L207.4 359.5L207.46 345.1L207.52 359.5L207.58 348.8L207.65 363L207.71 348.8L207.77 364.8L207.83 348.8L207.9 364.8L207.96 348.8L208.02 365.1L208.08 348.8L208.14 365.1L208.21 352.2L208.27 365.6L208.33 353.2L208.39 365.6L208.46 349.4L208.52 365.6L208.58 347.2L208.64 365.6L208.7 342.6L208.77 365.6L208.83 341L208.89 364.4L208.95 339.3L209.02 359.6L209.08 339.3L209.14 355.7L209.2 339.3L209.26 355.4L209.33 339.3L209.39 353.9L209.45 336.3L209.51 353.9L209.58 334.4L209.64 353.9L209.7 330.2L209.76 353.9L209.82 330.2L209.89 347.9L209.95 329.9L210.01 347.9L210.07 327.9L210.14 347L210.2 327.9L210.26 343.6L210.32 324.7L210.38 342.3L210.45 322.9L210.51 342.3L210.57 317.1L210.63 342.3L210.7 308.8L210.76 338.1L210.82 302.8L210.88 332.9L210.94 297.6L211.01 331.3L211.07 297.6L211.13 326.8L211.19 297.6L211.26 323L211.32 297.6L211.38 324.4L211.44 297.6L211.5 330.3L211.57 297.6L211.63 330.3L211.69 303.1L211.75 334.7L211.82 311.3L211.88 335.7L211.94 312L212 335.7L212.06 320.5L212.13 335.7L212.19 320.6L212.25 341.3L212.31 322.5L212.38 346L212.44 326L212.5 349.8L212.56 326L212.62 353.7L212.69 326L212.75 353.7L212.81 329.5L212.87 353.7L212.94 332.2L213 353.7L213.06 337.8L213.12 353.9L213.18 337.8L213.25 354.9L213.31 337.8L213.37 358.4L213.43 337.8L213.5 359.7L213.56 337.8L213.62 362L213.68 339.2L213.74 362L213.81 343.8L213.87 362L213.93 345L213.99 362L214.06 347.1L214.12 362L214.18 345.3L214.24 362L214.31 345.3L214.37 360.2L214.43 342.3L214.49 360.2L214.55 341.3L214.62 360.2L214.68 340L214.74 360.2L214.8 339.5L214.87 360.2L214.93 334.7L214.99 354.4L215.05 334.7L215.11 352.3L215.18 334.7L215.24 352.3L215.3 334.7L215.36 352.8L215.43 334.7L215.49 352.8L215.55 334.7L215.61 352.8L215.67 330.6L215.74 352.8L215.8 323.3L215.86 352.8L215.92 322.5L215.99 352.8L216.05 314.6L216.11 348.6L216.17 310.5L216.23 343.2L216.3 310.5L216.36 336.5L216.42 310.5L216.48 334.8L216.55 305.8L216.61 332.2L216.67 301.2L216.73 324.9L216.79 301.2L216.86 324.9L216.92 301.2L216.98 325.4L217.04 301.2L217.11 328.5L217.17 301.2L217.23 332L217.29 301.2L217.35 333L217.42 308.8L217.48 338.4L217.54 310.1L217.6 338.5L217.67 317.2L217.73 338.5L217.79 320.6L217.85 343.5L217.91 325.4L217.98 345.3L218.04 327.9L218.1 345.7L218.16 327.9L218.23 345.7L218.29 329.5L218.35 347.2L218.41 330.4L218.47 348.4L218.54 333.2L218.6 349.2L218.66 336.8L218.72 349.8L218.79 336.8L218.85 351.6L218.91 339.1L218.97 357.2L219.03 340.5L219.1 357.2L219.16 340.5L219.22 357.2L219.28 340.5L219.35 357.2L219.41 340.7L219.47 357.2L219.53 340.7L219.59 357.2L219.66 340.7L219.72 354.7L219.78 340.7L219.84 353.8L219.91 342.2L219.97 358.1L220.03 344.7L220.09 361L220.15 345.7L220.22 364.1L220.28 345.7L220.34 364.1L220.4 346.7L220.47 364.1L220.53 347.2L220.59 364.1L220.65 347.2L220.71 364.1L220.78 345.4L220.84 364.1L220.9 345.4L220.96 356.2L221.03 340.3L221.09 353.7L221.15 340.3L221.21 353.7L221.27 340.3L221.34 353.7L221.4 335.5L221.46 353.7L221.52 334.3L221.59 349.6L221.65 334.3L221.71 346.9L221.77 331.6L221.84 346.9L221.9 331.3L221.96 346.9L222.02 331.3L222.08 346.9L222.15 328.3L222.21 346.9L222.27 322.5L222.33 341.4L222.4 317.1L222.46 340.3L222.52 312.4L222.58 340.3L222.64 312.4L222.71 336.3L222.77 312.4L222.83 332.9L222.89 306.9L222.96 332.5L223.02 305.5L223.08 325.8L223.14 305.5L223.2 325.8L223.27 305.5L223.33 325.7L223.39 305.5L223.45 331.6L223.52 305.5L223.58 338.7L223.64 306.3L223.7 341.2L223.76 310.4L223.83 346.1L223.89 316.5L223.95 350.3L224.01 318.2L224.08 350.3L224.14 325.5L224.2 353.4L224.26 333.6L224.32 356.6L224.39 336.5L224.45 357.6L224.51 340.7L224.57 360.6L224.64 340.7L224.7 360.6L224.76 344.2L224.82 360.6L224.88 346.8L224.95 361.9L225.01 348.1L225.07 363.6L225.13 348.1L225.2 365.3L225.26 348.1L225.32 365.3L225.38 349.9L225.44 365.3L225.51 349.9L225.57 365.3L225.63 349.9L225.69 365.3L225.76 349.9L225.82 362.4L225.88 347.7L225.94 362.4L226 347L226.07 362.4L226.13 346.3L226.19 362.4L226.25 346.3L226.32 359.2L226.38 346.3L226.44 360.9L226.5 346.3L226.56 363.3L226.63 346.3L226.69 363.3L226.75 346.3L226.81 363.3L226.88 347L226.94 363.3L227 346.9L227.06 363.3L227.12 345.2L227.19 363L227.25 345.2L227.31 360.9L227.37 344.5L227.44 360.6L227.5 340.4L227.56 357.1L227.62 335.5L227.68 354.7L227.75 331.5L227.81 354.6L227.87 328.2L227.93 354.6L228 325.4L228.06 352.6L228.12 320.6L228.18 346.6L228.24 318.7L228.31 342.5L228.37 315.2L228.43 338.5L228.49 314.5L228.56 335.8L228.62 311.5L228.68 335.8L228.74 311.5L228.8 335.8L228.87 311.5L228.93 329.4L228.99 311.5L229.05 334.1L229.12 311.5L229.18 337.2L229.24 311.5L229.3 339.1L229.37 313.9L229.43 345.6L229.49 318.3L229.55 347.6L229.61 320.8L229.68 347.6L229.74 321.9L229.8 348.8L229.86 327.2L229.93 351.2L229.99 331.6L230.05 355L230.11 332.3L230.17 357.9L230.24 332.3L230.3 361L230.36 332.3L230.42 361.4L230.49 336.9L230.55 361.4L230.61 342.4L230.67 362.3L230.73 346.3L230.8 362.3L230.86 348.3L230.92 362.4L230.98 348.3L231.05 362.4L231.11 348.3L231.17 362.4L231.23 348.3L231.29 366.7L231.36 348.3L231.42 366.7L231.48 348.3L231.54 366.7L231.61 351.3L231.67 366.7L231.73 351.6L231.79 367L231.85 351.2L231.92 367L231.98 351.2L232.04 367L232.1 348.2L232.17 367L232.23 346.2L232.29 367L232.35 345.6L232.41 364.8L232.48 338.2L232.54 364.6L232.6 338.2L232.66 362.4L232.73 338.2L232.79 361.4L232.85 338.2L232.91 358.7L232.97 338.2L233.04 355.6L233.1 338.2L233.16 355.6L233.22 336.3L233.29 353.3L233.35 331.1L233.41 353.3L233.47 328.4L233.53 353.3L233.6 323.7L233.66 353.3L233.72 323.7L233.78 349.8L233.85 322.9L233.91 348L233.97 318.3L234.03 342.1L234.09 314.4L234.16 337.9L234.22 310.3L234.28 335.6L234.34 304L234.41 334.8L234.47 302.2L234.53 333.5L234.59 302.2L234.65 330L234.72 302.2L234.78 327.7L234.84 302.2L234.9 327.7L234.97 302.2L235.03 330.3L235.09 303.8L235.15 330.3L235.21 310.1L235.28 332.8L235.34 312.5L235.4 335.3L235.46 316.3L235.53 335.3L235.59 316.3L235.65 336L235.71 317.3L235.77 336L235.84 320.3L235.9 336L235.96 323.2L236.02 336L236.09 325.5L236.15 341.7L236.21 325.5L236.27 346L236.33 325.5L236.4 350.1L236.46 325.5L236.52 352.9L236.58 326.6L236.65 355.8L236.71 332.9L236.77 355.8L236.83 339.3L236.9 355.8L236.96 340.5L237.02 356.2L237.08 343.3L237.14 356.2L237.21 347.4L237.27 356.2L237.33 347.7L237.39 361.6L237.46 352L237.52 366L237.58 353.3L237.64 368L237.7 353.4L237.77 368L237.83 355.3L237.89 368L237.95 355.2L238.02 368L238.08 355.2L238.14 368L238.2 355.2L238.26 367.7L238.33 354.7L238.39 366.5L238.45 354.2L238.51 364L238.58 349.2L238.64 364L238.7 344.4L238.76 363.2L238.82 343.4L238.89 359.3L238.95 338.8L239.01 356.7L239.07 337.5L239.14 355.4L239.2 337.2L239.26 353.9L239.32 331.3L239.38 353L239.45 331.1L239.51 347.1L239.57 327.4L239.63 347L239.7 327.4L239.76 347L239.82 319.6L239.88 341.3L239.94 318.4L240.01 341.1L240.07 307.1L240.13 339.4L240.19 301.8L240.26 338.7L240.32 301.8L240.38 330.5L240.44 299.3L240.5 327.8L240.57 299.3L240.63 322.5L240.69 299.3L240.75 321.1L240.82 299.3L240.88 326.1L240.94 299.3L241 326.4L241.06 299.3L241.13 328.4L241.19 300.7L241.25 336.8L241.31 304.9L241.38 340.9L241.44 311.5L241.5 347.3L241.56 311.5L241.62 347.3L241.69 315.6L241.75 347.3L241.81 323.9L241.87 347.3L241.94 327.3L242 347.3L242.06 332L242.12 347.3L242.18 332L242.25 351.1L242.31 332L242.37 355.1L242.43 332L242.5 356.8L242.56 332L242.62 357.6L242.68 333.9L242.74 357.8L242.81 341.5L242.87 359.1L242.93 343L242.99 362L243.06 345.5L243.12 365.1L243.18 348.1L243.24 365.1L243.3 348.1L243.37 365.1L243.43 351.7L243.49 367L243.55 352.3L243.62 367L243.68 352.3L243.74 367L243.8 352.3L243.86 367L243.93 353.1L243.99 367L244.05 351.8L244.11 367L244.18 351.8L244.24 362.8L244.3 351.4L244.36 362.1L244.42 347L244.49 361.6L244.55 347L244.61 361.6L244.67 347L244.74 361.6L244.8 339.9L244.86 361.6L244.92 335L244.99 361.6L245.05 335L245.11 358.7L245.17 333.2L245.23 356.8L245.3 333.2L245.36 349.5L245.42 331.4L245.48 346.2L245.55 328.7L245.61 346.2L245.67 328.7L245.73 343.8L245.79 328.2L245.86 343.8L245.92 324.5L245.98 342.6L246.04 320.8L246.11 342.6L246.17 316.7L246.23 342.6L246.29 310.2L246.35 339.2L246.42 309.1L246.48 337.5L246.54 309.1L246.6 333.5L246.67 307.2L246.73 330.5L246.79 303.3L246.85 325.2L246.91 303.3L246.98 322.2L247.04 303.3L247.1 323.4L247.16 303.3L247.23 328.4L247.29 303.3L247.35 329.3L247.41 303.3L247.47 336.3L247.54 307.3L247.6 337.9L247.66 309.7L247.72 343.1L247.79 309.7L247.85 348.2L247.91 309.7L247.97 348.2L248.03 323.1L248.1 348.2L248.16 325.9L248.22 351.3L248.28 327L248.35 351.3L248.41 330.1L248.47 351.3L248.53 330.1L248.59 353.4L248.66 331.5L248.72 355.6L248.78 331.6L248.84 355.6L248.91 335.4L248.97 355.6L249.03 341.5L249.09 358.3L249.15 341.5L249.22 359.1L249.28 341.5L249.34 359.1L249.4 341.5L249.47 362.8L249.53 342.3L249.59 362.8L249.65 345.3L249.71 362.8L249.78 346.3L249.84 364.5L249.9 346.3L249.96 364.5L250.03 347.2L250.09 365.6L250.15 347.2L250.21 365.6L250.27 349.2L250.34 366.2L250.4 351.5L250.46 366.2L250.52 351.5L250.59 366.3L250.65 351.5L250.71 366.3L250.77 353.1L250.83 366.3L250.9 342.9L250.96 366.3L251.02 340.1L251.08 366.3L251.15 337.7L251.21 366.2L251.27 333.7L251.33 365.6L251.39 333.1L251.46 359.4L251.52 322.2L251.58 353L251.64 318.9L251.71 350.1L251.77 316L251.83 347.2L251.89 311.4L251.95 345.4L252.02 303.9L252.08 341L252.14 301.9L252.2 332.4L252.27 301.9L252.33 330.3L252.39 301.9L252.45 328.8L252.52 301.9L252.58 326.7L252.64 301.9L252.7 326.7L252.76 301.9L252.83 330.4L252.89 303.5L252.95 330.4L253.01 305.1L253.08 333.3L253.14 311.3L253.2 333.3L253.26 313.2L253.32 335.3L253.39 316.4L253.45 339.6L253.51 317.5L253.57 344.2L253.64 322.4L253.7 347.2L253.76 322.4L253.82 347.2L253.88 322.8L253.95 347.2L254.01 330.2L254.07 347.2L254.13 332.2L254.2 347.2L254.26 331.3L254.32 347.2L254.38 331.3L254.44 343.7L254.51 331.3L254.57 349.5L254.63 331.3L254.69 350.1L254.76 331.3L254.82 350.9L254.88 332.7L254.94 350.9L255 336.1L255.07 351.6L255.13 337.7L255.19 357L255.25 337.7L255.32 360.7L255.38 337.7L255.44 364.1L255.5 342.2L255.56 365.6L255.63 342.2L255.69 365.6L255.75 347.9L255.81 365.6L255.88 351.2L255.94 365.6L256 351.2L256.06 365.6L256.12 349.4L256.19 364.3L256.25 349.4L256.31 364.3L256.37 349.4L256.44 364.3L256.5 346.5L256.56 364.3L256.62 345.1L256.68 364.3L256.75 342.7L256.81 364.3L256.87 341.6L256.93 362.9L257 337L257.06 359.2L257.12 337L257.18 356.7L257.24 337L257.31 353.7L257.37 337L257.43 350.8L257.49 334.8L257.56 350L257.62 333.9L257.68 348.7L257.74 331.9L257.8 348.7L257.87 324.1L257.93 348L257.99 324.1L258.05 345.7L258.12 316.6L258.18 344.8L258.24 311.2L258.3 339.5L258.36 311.2L258.43 335.2L258.49 306.2L258.55 335.2L258.61 306.2L258.68 329.8L258.74 306.2L258.8 331.2L258.86 306.2L258.92 331.2L258.99 306.2L259.05 337.6L259.11 311L259.17 339.9L259.24 312.2L259.3 344L259.36 319.2L259.42 346.1L259.48 320.2L259.55 347.5L259.61 323.4L259.67 349.9L259.73 331.8L259.8 351.6L259.86 333.5L259.92 352.8L259.98 336.5L260.05 353.7L260.11 337.4L260.17 359.9L260.23 341.9L260.29 361L260.36 341.9L260.42 361L260.48 341.9L260.54 361.3L260.61 341.9L260.67 361.3L260.73 348.1L260.79 361.3L260.85 348.1L260.92 361.3L260.98 348.1L261.04 362.7L261.1 348.1L261.17 364.1L261.23 348.1L261.29 364.1L261.35 350.4L261.41 364.1L261.48 350.4L261.54 364.1L261.6 348.5L261.66 364.1L261.73 347.3L261.79 362.1L261.85 346.4L261.91 362.1L261.97 341.1L262.04 359.7L262.1 338.6L262.16 359.6L262.22 338.1L262.29 358L262.35 334.6L262.41 358L262.47 334.6L262.53 352.6L262.6 333.5L262.66 348.7L262.72 333.5L262.78 348.5L262.85 329L262.91 348.5L262.97 329L263.03 348.5L263.09 329L263.16 347.9L263.22 327.1L263.28 347.9L263.34 324.4L263.41 342.8L263.47 324.4L263.53 341.5L263.59 322.4L263.65 341.5L263.72 312.8L263.78 341.5L263.84 309.8L263.9 338.8L263.97 306.6L264.03 338.8L264.09 305.8L264.15 332.1L264.21 303.6L264.28 329.2L264.34 300.7L264.4 323.2L264.46 300.7L264.53 319.6L264.59 300.7L264.65 323.7L264.71 300.7L264.77 330.1L264.84 300.7L264.9 331.8L264.96 304.5L265.02 332.5L265.09 306.6L265.15 332.5L265.21 311.3L265.27 332.5L265.33 317.2L265.4 338.5L265.46 319.8L265.52 340.9L265.58 321.6L265.65 349.2L265.71 321.6L265.77 349.2L265.83 322.2L265.89 350.5L265.96 327.2L266.02 351.6L266.08 332.9L266.14 354.5L266.21 337.7L266.27 357.1L266.33 340.8L266.39 358L266.45 342.4L266.52 360.4L266.58 345.5L266.64 362.6L266.7 346.3L266.77 363.4L266.83 352.1L266.89 363.7L266.95 354.1L267.01 364.1L267.08 351L267.14 364.1L267.2 351L267.26 364.1L267.33 351L267.39 364.1L267.45 349.8L267.51 364.1L267.58 348.1L267.64 356.2L267.7 344.9L267.76 356.2L267.82 343L267.89 356.1L267.95 339L268.01 354.4L268.07 337.8L268.14 352L268.2 334.7L268.26 352L268.32 334.7L268.38 352L268.45 332.4L268.51 347.7L268.57 329.7L268.63 347.2L268.7 329.7L268.76 344.7L268.82 327.1L268.88 340.8L268.94 327.1L269.01 340.8L269.07 327.1L269.13 340.8L269.19 322.9L269.26 340.8L269.32 319.3L269.38 336.7L269.44 316.2L269.5 336.4L269.57 316.2L269.63 336.2L269.69 316.2L269.75 331L269.82 307.1L269.88 331L269.94 304.9L270 331L270.06 304.2L270.13 331L270.19 299.5L270.25 327.6L270.31 299.5L270.38 324.8L270.44 299L270.5 319.9L270.56 299L270.62 316.9L270.69 299L270.75 321.5L270.81 299L270.87 321.5L270.94 299L271 321.5L271.06 299.3L271.12 325L271.18 302L271.25 330.1L271.31 307L271.37 335.4L271.43 307L271.5 341.1L271.56 311L271.62 345L271.68 316L271.74 345L271.81 317.7L271.87 345L271.93 320.1L271.99 345L272.06 328.8L272.12 345L272.18 335.1L272.24 346.4L272.3 335.1L272.37 350L272.43 335.1L272.49 354.5L272.55 338.8L272.62 356.8L272.68 339.8L272.74 356.8L272.8 341.1L272.86 358.9L272.93 343.7L272.99 362.2L273.05 343.7L273.11 362.2L273.18 349.8L273.24 363.1L273.3 349.8L273.36 364.8L273.42 351.2L273.49 364.8L273.55 352.3L273.61 364.8L273.67 351.7L273.74 364.8L273.8 349.4L273.86 364.8L273.92 344.7L273.98 364.8L274.05 343.8L274.11 361.1L274.17 340.9L274.23 356.2L274.3 336L274.36 356.2L274.42 333.1L274.48 352L274.54 333.1L274.61 352L274.67 331.5L274.73 349.3L274.79 331.5L274.86 347.9L274.92 331.5L274.98 345.3L275.04 331.5L275.11 345.3L275.17 327.7L275.23 343.4L275.29 323.1L275.35 342.1L275.42 321.2L275.48 342.1L275.54 318.2L275.6 342.1L275.67 312.4L275.73 342.1L275.79 308L275.85 334.5L275.91 307.6L275.98 330.8L276.04 307.6L276.1 330.8L276.16 307.6L276.23 330.3L276.29 307.6L276.35 331.4L276.41 307.6L276.47 331.5L276.54 312.7L276.6 336.4L276.66 313.6L276.72 337.6L276.79 316.8L276.85 339.6L276.91 318.8L276.97 343.3L277.03 319.4L277.1 346.1L277.16 323.6L277.22 346.1L277.28 326.4L277.35 346.1L277.41 330L277.47 346.1L277.53 332.3L277.59 346.8L277.66 333.6L277.72 350.5L277.78 333.6L277.84 354L277.91 333.6L277.97 355L278.03 333.6L278.09 361.7L278.15 336.1L278.22 362.5L278.28 339.3L278.34 363.6L278.4 344.1L278.47 363.6L278.53 346.7L278.59 364.1L278.65 347.9L278.71 366.2L278.78 355.9L278.84 366.2L278.9 356.2L278.96 367.4L279.03 356.2L279.09 367.4L279.15 352.5L279.21 367.4L279.27 350.2L279.34 367.4L279.4 350.2L279.46 367.4L279.52 350.2L279.59 367L279.65 350.2L279.71 362.2L279.77 350.2L279.83 362.2L279.9 349.7L279.96 362.2L280.02 348.9L280.08 362.2L280.15 348.9L280.21 360.8L280.27 347.7L280.33 360.1L280.39 342.3L280.46 356.5L280.52 342.3L280.58 355.8L280.64 342.1L280.71 355.3L280.77 342.1L280.83 353.2L280.89 338.8L280.95 353.2L281.02 338.8L281.08 353.2L281.14 338.8L281.2 347.7L281.27 338.8L281.33 347.7L281.39 335.1L281.45 347.7L281.51 332.1L281.58 347.7L281.64 331.4L281.7 347.7L281.76 324.4L281.83 345.2L281.89 320.3L281.95 341.9L282.01 315.8L282.07 337.9L282.14 310.8L282.2 336.5L282.26 309.5L282.32 332.7L282.39 309.5L282.45 325.1L282.51 309.5L282.57 323.3L282.63 309.5L282.7 327.1L282.76 309.5L282.82 332.6L282.88 311.2L282.95 335.6L283.01 316.8L283.07 339.7L283.13 317.3L283.2 339.7L283.26 319.3L283.32 339.7L283.38 328.7L283.44 339.7L283.51 328.9L283.57 339.7L283.63 332.7L283.69 346.1L283.76 332.7L283.82 349.8L283.88 332.7L283.94 349.8L284 332.7L284.07 349.8L284.13 337.2L284.19 351.7L284.25 342.2L284.32 357.5L284.38 344.6L284.44 357.5L284.5 344.6L284.56 357.5L284.63 344.6L284.69 357.5L284.75 350.1L284.81 357.5L284.88 352.8L284.94 355.8L285 349.4L285.06 355.8L285.12 348.8L285.19 355.8L285.25 348.8L285.31 355.4L285.37 348.8L285.44 360.9L285.5 348.8L285.56 363.4L285.62 348.8L285.68 363.4L285.75 348.8L285.81 363.4L285.87 351.2L285.93 363.4L286 346.5L286.06 363.4L286.12 343.8L286.18 360.6L286.24 343.8L286.31 356.9L286.37 343.8L286.43 354L286.49 339.2L286.56 351.5L286.62 339.2L286.68 351.2L286.74 336.9L286.8 351.2L286.87 331.1L286.93 350.9L286.99 325.9L287.05 346.2L287.12 323.8L287.18 346.2L287.24 322.9L287.3 346.2L287.36 318.9L287.43 336L287.49 313.4L287.55 333.7L287.61 312.6L287.68 330.5L287.74 300.3L287.8 330.5L287.86 300.3L287.92 328.1L287.99 293.7L288.05 324.3L288.11 293.7L288.17 321.8L288.24 293.7L288.3 319.1L288.36 293.7L288.42 318.4L288.48 293.7L288.55 325.5L288.61 293.7L288.67 325.5L288.73 299.3L288.8 326.9L288.86 301.5L288.92 330L288.98 305.1L289.04 332.7L289.11 308.8L289.17 338L289.23 312.7L289.29 338.5L289.36 313.4L289.42 341.1L289.48 316.2L289.54 344L289.6 321.1L289.67 344L289.73 322.2L289.79 344L289.85 325.4L289.92 349.2L289.98 325.4L290.04 349.2L290.1 330.5L290.16 349.9L290.23 330.5L290.29 349.9L290.35 330.5L290.41 349.9L290.48 336.4L290.54 351.5L290.6 336.4L290.66 353.4L290.73 336.4L290.79 355.4L290.85 337.7L290.91 355.4L290.97 340.9L291.04 358.6L291.1 344.1L291.16 360.5L291.22 344.1L291.29 362.2L291.35 347.7L291.41 362.2L291.47 347.2L291.53 362.2L291.6 345.8L291.66 362.2L291.72 344.3L291.78 362.2L291.85 344.3L291.91 361.8L291.97 344.3L292.03 355.9L292.09 344.3L292.16 355.9L292.22 343.9L292.28 355.9L292.34 338L292.41 355.9L292.47 338L292.53 353.5L292.59 335.2L292.65 353L292.72 335.2L292.78 352L292.84 333.3L292.9 349.5L292.97 331.5L293.03 349.5L293.09 330.3L293.15 347.7L293.21 330.3L293.28 347.7L293.34 329.2L293.4 345.5L293.46 328.9L293.53 343.9L293.59 328.9L293.65 341.9L293.71 324.2L293.77 339.7L293.84 324.2L293.9 339.7L293.96 323L294.02 339.7L294.09 318.5L294.15 338.7L294.21 317.6L294.27 337.4L294.33 317.6L294.4 337.4L294.46 310.7L294.52 334.8L294.58 307.3L294.65 331.1L294.71 306.6L294.77 330.7L294.83 306.6L294.89 330.4L294.96 306.6L295.02 330.1L295.08 306.6L295.14 334.9L295.21 306.6L295.27 342.1L295.33 313.2L295.39 347.7L295.45 313.2L295.52 348.6L295.58 318.1L295.64 348.6L295.7 321.1L295.77 349.3L295.83 326.7L295.89 352.8L295.95 333.5L296.01 353.7L296.08 338.1L296.14 355.8L296.2 338.1L296.26 356L296.33 338.1L296.39 357.7L296.45 340L296.51 357.7L296.57 342.8L296.64 357.7L296.7 343.3L296.76 357.7L296.82 344.1L296.89 357.7L296.95 345.4L297.01 360.7L297.07 345.4L297.13 361.2L297.2 345.6L297.26 361.2L297.32 345.6L297.38 361.2L297.45 345.6L297.51 361.2L297.57 347.8L297.63 361.2L297.69 347.9L297.76 360.3L297.82 346.4L297.88 359.6L297.94 345.8L298.01 359.6L298.07 344.8L298.13 358.3L298.19 344.8L298.26 357.8L298.32 341.6L298.38 356.6L298.44 338.8L298.5 355.7L298.57 338L298.63 355.1L298.69 336.8L298.75 355.1L298.82 330.3L298.88 352.4L298.94 327.6L299 348.9L299.06 326.8L299.13 348.9L299.19 325.7L299.25 345.3L299.31 322.9L299.38 345.3L299.44 320.2L299.5 339.9L299.56 315.8L299.62 334.2L299.69 315.8L299.75 333.7L299.81 315.8L299.87 335.7L299.94 315.8L300 335.7L300.06 313.1L300.12 335.7L300.18 307.3L300.25 335.7L300.31 304.1L300.37 335.7L300.43 302.9L300.5 335.7L300.56 302.9L300.62 331L300.68 302.9L300.74 330.7L300.81 302.9L300.87 334.4L300.93 302.9L300.99 335.9L301.06 309L301.12 339.4L301.18 313.6L301.24 341.3L301.3 317.4L301.37 345.4L301.43 322.8L301.49 348.2L301.55 328.1L301.62 348.2L301.68 328.2L301.74 352.3L301.8 331.1L301.86 354.1L301.93 331.7L301.99 355.4L302.05 333.4L302.11 359.1L302.18 336.4L302.24 359.6L302.3 341.2L302.36 359.6L302.42 344.7L302.49 359.6L302.55 346.6L302.61 364.1L302.67 346.6L302.74 364.1L302.8 346.6L302.86 364.1L302.92 346.6L302.98 364.1L303.05 348.2L303.11 364.1L303.17 350.7L303.23 364.1L303.3 351.4L303.36 363.2L303.42 345.1L303.48 363.2L303.54 342.5L303.61 362.7L303.67 342.5L303.73 362.7L303.79 342.5L303.86 360.2L303.92 340.7L303.98 357.5L304.04 338L304.1 357.5L304.17 337.9L304.23 357.5L304.29 337.3L304.35 357.5L304.42 333.4L304.48 351.2L304.54 328.9L304.6 346.7L304.66 325.7L304.73 346.7L304.79 324.4L304.85 346.7L304.91 319.4L304.98 343.2L305.04 312.5L305.1 337.3L305.16 309.9L305.22 336.9L305.29 306.2L305.35 334L305.41 300.4L305.47 328.8L305.54 300.4L305.6 320.9L305.66 300.4L305.72 320.9L305.79 300.4L305.85 323.5L305.91 300.4L305.97 323.7L306.03 300.4L306.1 331.4L306.16 310.3L306.22 335.3L306.28 312.9L306.35 335.3L306.41 313L306.47 336.6L306.53 314L306.59 336.6L306.66 314L306.72 336.6L306.78 320.9L306.84 337.9L306.91 323.1L306.97 343.8L307.03 323.1L307.09 345.4L307.15 326.1L307.22 349.1L307.28 330.3L307.34 349.2L307.4 331.3L307.47 349.2L307.53 333.8L307.59 349.2L307.65 340L307.71 350.8L307.78 340L307.84 352.9L307.9 340L307.96 354.2L308.03 340L308.09 354.2L308.15 341.8L308.21 354.2L308.27 342.8L308.34 354.2L308.4 343.2L308.46 355.5L308.52 343.2L308.59 362.2L308.65 343.2L308.71 362.2L308.77 343.2L308.83 362.2L308.9 344.9L308.96 362.2L309.02 348.8L309.08 362.2L309.15 350.4L309.21 362.2L309.27 350.4L309.33 361L309.39 350.4L309.46 361L309.52 348.5L309.58 358.1L309.64 345.4L309.71 357.5L309.77 339.6L309.83 356.5L309.89 339.6L309.95 356.5L310.02 339.6L310.08 355.6L310.14 339.6L310.2 355.3L310.27 339.6L310.33 351.6L310.39 338.9L310.45 351.6L310.51 336.5L310.58 350.6L310.64 336.5L310.7 348.8L310.76 336.5L310.83 347.8L310.89 336.5L310.95 347.8L311.01 334.6L311.07 345.9L311.14 330.4L311.2 345.9L311.26 328L311.32 345.5L311.39 319.9L311.45 344.1L311.51 319L311.57 344.1L311.63 319L311.7 342.3L311.76 316.7L311.82 335.3L311.88 313.7L311.95 335.3L312.01 311.8L312.07 335.3L312.13 305.9L312.19 334.9L312.26 305.9L312.32 333.3L312.38 305.9L312.44 326.1L312.51 305.9L312.57 326.7L312.63 305.9L312.69 328.4L312.75 305.9L312.82 332.7L312.88 307.1L312.94 336.8L313 311.6L313.07 340.6L313.13 311.6L313.19 341.7L313.25 316.3L313.31 341.7L313.38 320.2L313.44 341.9L313.5 322.4L313.56 345.7L313.63 329.1L313.69 349.8L313.75 329.1L313.81 351L313.88 331.5L313.94 354.3L314 331.7L314.06 355.5L314.12 336.2L314.19 356.4L314.25 340.8L314.31 356.4L314.37 340.8L314.44 357.7L314.5 343.3L314.56 359.1L314.62 343.9L314.68 361.7L314.75 343.9L314.81 361.7L314.87 344.2L314.93 361.7L315 345.2L315.06 362.8L315.12 345.2L315.18 362.8L315.24 346.7L315.31 362.8L315.37 346.7L315.43 362.8L315.49 346.2L315.56 362.8L315.62 346.2L315.68 362.8L315.74 346.2L315.8 363.4L315.87 343.5L315.93 363.4L315.99 343.5L316.05 363.4L316.12 343.4L316.18 363.4L316.24 343.4L316.3 363.4L316.36 341.8L316.43 363.4L316.49 341.2L316.55 355.8L316.61 341.2L316.68 355.4L316.74 337.2L316.8 354.1L316.86 335.1L316.92 353.3L316.99 334.5L317.05 353.3L317.11 326.1L317.17 353.3L317.24 324.7L317.3 351.3L317.36 320.4L317.42 351.3L317.48 319.1L317.55 345.9L317.61 314.4L317.67 342.8L317.73 312L317.8 338.6L317.86 310.8L317.92 337L317.98 309.8L318.04 337L318.11 309.8L318.17 331.4L318.23 309.8L318.29 332.8L318.36 309.8L318.42 332.8L318.48 309.8L318.54 334.6L318.6 311.6L318.67 335.8L318.73 314.5L318.79 339.7L318.85 318L318.92 344L318.98 318.6L319.04 347.9L319.1 321.4L319.16 350L319.23 324.4L319.29 350L319.35 328.7L319.41 350L319.48 331.1L319.54 350L319.6 339.7L319.66 350L319.72 339.7L319.79 350L319.85 340.8L319.91 349.4L319.97 340.8L320.04 353L320.1 340.8L320.16 358L320.22 341.6L320.28 364.8L320.35 342.8L320.41 364.8L320.47 344.4L320.53 364.8L320.6 348.5L320.66 364.8L320.72 351.2L320.78 364.8L320.84 349L320.91 364.8L320.97 349L321.03 362.3L321.09 349L321.16 355.9L321.22 349L321.28 354.8L321.34 349L321.41 354.6L321.47 346.3L321.53 354.6L321.59 345.6L321.65 354.6L321.72 343.9L321.78 354.6L321.84 343L321.9 352.1L321.97 339.3L322.03 351L322.09 335.3L322.15 349.8L322.21 334.2L322.28 347.1L322.34 334.2L322.4 345.4L322.46 328L322.53 343.6L322.59 325.7L322.65 341.8L322.71 324.8L322.77 341.5L322.84 324.2L322.9 341L322.96 324.2L323.02 334.5L323.09 324.2L323.15 334.5L323.21 324L323.27 334.5L323.33 320.2L323.4 334.5L323.46 314L323.52 334.5L323.58 309.3L323.65 334.2L323.71 305.7L323.77 330.2L323.83 301.2L323.89 327.8L323.96 298.7L324.02 324.1L324.08 298.7L324.14 322.5L324.21 298.7L324.27 319.2L324.33 298.7L324.39 324.4L324.45 298.7L324.52 328.8L324.58 298.7L324.64 328.8L324.7 301.9L324.77 332.2L324.83 308.7L324.89 338.1L324.95 309.4L325.01 341.8L325.08 311.1L325.14 347.1L325.2 312.4L325.26 347.1L325.33 318L325.39 352L325.45 322.3L325.51 352L325.57 330.7L325.64 354.4L325.7 333.5L325.76 354.4L325.82 333.5L325.89 354.9L325.95 335.9L326.01 356.4L326.07 335.9L326.13 356.4L326.2 337.9L326.26 356.4L326.32 337.9L326.38 357.7L326.45 339.3L326.51 362.2L326.57 339.3L326.63 362.2L326.69 339.3L326.76 362.2L326.82 339.3L326.88 362.7L326.94 343.7L327.01 362.7L327.07 344.3L327.13 362.7L327.19 344.3L327.25 362.7L327.32 344.3L327.38 363.1L327.44 344.3L327.5 363.1L327.57 344.3L327.63 363.1L327.69 344.2L327.75 363.1L327.81 340.9L327.88 363.1L327.94 340.9L328 361.9L328.06 340.9L328.13 361.9L328.19 340.9L328.25 358.7L328.31 340.8L328.37 357.3L328.44 340.6L328.5 357.3L328.56 339.5L328.62 357.3L328.69 338L328.75 356L328.81 334.9L328.87 354L328.94 334.2L329 354L329.06 329L329.12 349.7L329.18 324.9L329.25 348.3L329.31 319.2L329.37 346.8L329.43 317.7L329.5 346.8L329.56 317.7L329.62 343.3L329.68 315.4L329.74 336.9L329.81 310.3L329.87 329.9L329.93 302.9L329.99 327.8L330.06 302.9L330.12 327.8L330.18 302.9L330.24 326.1L330.3 302.9L330.37 327.9L330.43 302.9L330.49 332.7L330.55 303.6L330.62 335.6L330.68 313.5L330.74 335.6L330.8 315.9L330.86 335.6L330.93 319L330.99 336.3L331.05 323.9L331.11 341.3L331.18 323.9L331.24 344.9L331.3 323.9L331.36 346.1L331.42 323.9L331.49 350.9L331.55 326.7L331.61 350.9L331.67 331.7L331.74 351.8L331.8 331.7L331.86 353.1L331.92 335.8L331.98 356L332.05 340.2L332.11 356.7L332.17 341.3L332.23 359.2L332.3 341.3L332.36 359.6L332.42 341.3L332.48 360.4L332.54 344.3L332.61 360.4L332.67 344.3L332.73 362.1L332.79 344.3L332.86 362.1L332.92 344.3L332.98 362.7L333.04 344.3L333.1 362.7L333.17 346.9L333.23 362.7L333.29 349.3L333.35 362.7L333.42 346.3L333.48 362.7L333.54 344L333.6 362.7L333.66 344L333.73 360.1L333.79 344L333.85 360.1L333.91 344L333.98 357.7L334.04 344L334.1 357.7L334.16 345.4L334.22 357.7L334.29 343.6L334.35 357.7L334.41 343.6L334.47 357.7L334.54 335.9L334.6 355.5L334.66 331.3L334.72 355.5L334.78 331.3L334.85 352.6L334.91 325.8L334.97 352.6L335.03 323.7L335.1 347.3L335.16 321.2L335.22 340.4L335.28 318.7L335.34 339.7L335.41 314.8L335.47 336.9L335.53 308.2L335.59 334.1L335.66 305.1L335.72 332.5L335.78 305.1L335.84 329.2L335.9 305.1L335.97 333.9L336.03 305.1L336.09 333.9L336.15 305.1L336.22 334.2L336.28 305.1L336.34 335.7L336.4 313.4L336.47 335.7L336.53 318.1L336.59 338.8L336.65 318.1L336.71 342.4L336.78 318.1L336.84 347.4L336.9 318.1L336.96 347.4L337.03 321L337.09 347.4L337.15 325.2L337.21 351.6L337.27 329.8L337.34 354.1L337.4 334.9L337.46 354.1L337.52 334.9L337.59 354.1L337.65 334.9L337.71 355.4L337.77 337.5L337.83 358.6L337.9 338.3L337.96 360.2L338.02 339.1L338.08 364.3L338.15 341.8L338.21 366.3L338.27 342.9L338.33 366.3L338.39 348.3L338.46 366.3L338.52 348.9L338.58 366.3L338.64 351L338.71 366.3L338.77 351L338.83 365.7L338.89 348.7L338.95 365.7L339.02 348.7L339.08 365.7L339.14 348.7L339.2 365.7L339.27 348.7L339.33 364.8L339.39 348.7L339.45 365.2L339.51 348.7L339.58 365.2L339.64 353L339.7 365.2L339.76 351.6L339.83 365.2L339.89 349.8L339.95 365.2L340.01 345.4L340.07 365.2L340.14 345.4L340.2 364.3L340.26 344.2L340.32 360.5L340.39 344.2L340.45 360.5L340.51 340.3L340.57 360.5L340.63 340.3L340.7 360.5L340.76 340.3L340.82 357.6L340.88 340.2L340.95 357.6L341.01 334L341.07 354.7L341.13 331.3L341.19 354.7L341.26 329L341.32 353.2L341.38 329L341.44 353.1L341.51 327.6L341.57 345.3L341.63 327.6L341.69 343.1L341.75 325.7L341.82 337.5L341.88 319.2L341.94 337.5L342 315.5L342.07 336.5L342.13 315.5L342.19 335.6L342.25 309.4L342.31 332.7L342.38 306.6L342.44 327.4L342.5 306.6L342.56 323.2L342.63 306.6L342.69 329.7L342.75 306.6L342.81 333.9L342.87 306.6L342.94 336.6L343 306.6L343.06 339.4L343.12 308.7L343.19 341.4L343.25 319L343.31 341.6L343.37 325.9L343.43 342.7L343.5 328.1L343.56 346.2L343.62 331.8L343.68 348L343.75 331.8L343.81 348L343.87 331.8L343.93 348L343.99 331.8L344.06 348L344.12 334.3L344.18 348L344.24 336.7L344.31 348L344.37 338.5L344.43 351.5L344.49 338.5L344.56 351.5L344.62 338.5L344.68 353L344.74 338.5L344.8 354.2L344.87 338.5L344.93 355.7L344.99 339.7L345.05 360.4L345.12 341.4L345.18 366.2L345.24 344.6L345.3 366.5L345.36 348.6L345.43 366.7L345.49 348.6L345.55 366.7L345.61 355.2L345.68 366.7L345.74 352.4L345.8 366.7L345.86 351.3L345.92 366.7L345.99 349.8L346.05 363.8L346.11 349.1L346.17 363.8L346.24 345.1L346.3 363.1L346.36 343.4L346.42 363.1L346.48 343.4L346.55 361.5L346.61 343.4L346.67 360.7L346.73 343.4L346.8 356.8L346.86 341.7L346.92 355.8L346.98 336.2L347.04 355.8L347.11 328.2L347.17 353.4L347.23 320L347.29 352.7L347.36 319.5L347.42 352.5L347.48 318.4L347.54 351.6L347.6 315L347.67 343.2L347.73 312.7L347.79 335.5L347.85 305.1L347.92 332.2L347.98 305.1L348.04 332.2L348.1 305.1L348.16 332.2L348.23 305.1L348.29 332.2L348.35 305.1L348.41 331.5L348.48 305.1L348.54 333.2L348.6 308.6L348.66 333.2L348.72 314.5L348.79 333.2L348.85 316.7L348.91 333.2L348.97 318L349.04 337.8L349.1 319.9L349.16 339.7L349.22 319.9L349.28 339.7L349.35 319.9L349.41 341.2L349.47 319.9L349.53 342.3L349.6 325.1L349.66 343.9L349.72 330L349.78 346.1L349.84 330L349.91 352L349.97 333.5L350.03 354.2L350.09 336L350.16 355L350.22 338.8L350.28 356.1L350.34 341.4L350.4 359.6L350.47 345.2L350.53 359.6L350.59 345.2L350.65 359.6L350.72 349.3L350.78 360L350.84 352.6L350.9 361.5L350.96 353.8L351.03 365.6L351.09 353.8L351.15 365.6L351.21 353.8L351.28 365.6L351.34 353.8L351.4 365.6L351.46 353.3L351.52 365.6L351.59 348.5L351.65 361.8L351.71 348.5L351.77 361L351.84 348.5L351.9 360.6L351.96 348.5L352.02 360.6L352.09 348.5L352.15 360.6L352.21 351.7L352.27 360.6L352.33 350.3L352.4 360.6L352.46 349.6L352.52 358.3L352.58 345.4L352.65 358.3L352.71 339.7L352.77 358.3L352.83 337.8L352.89 358.3L352.96 337.4L353.02 358.3L353.08 328.5L353.14 351.6L353.21 328.5L353.27 347.3L353.33 328.5L353.39 345.3L353.45 328.5L353.52 342L353.58 323.8L353.64 338.3L353.7 320.5L353.77 338.3L353.83 317.1L353.89 338.3L353.95 316L354.01 337.2L354.08 311.8L354.14 334.9L354.2 306L354.26 330.9L354.33 305.9L354.39 329L354.45 305.9L354.51 327.1L354.57 305.9L354.64 328L354.7 305.9L354.76 330.6L354.82 305.9L354.89 334.9L354.95 308.3L355.01 338.8L355.07 312.6L355.13 341.7L355.2 316.3L355.26 348.4L355.32 318.6L355.38 348.4L355.45 321L355.51 348.4L355.57 329.4L355.63 348.4L355.69 331.2L355.76 348.4L355.82 336.7L355.88 348.4L355.94 334.1L356.01 346.8L356.07 334.1L356.13 346.8L356.19 331.8L356.25 346.8L356.32 331.8L356.38 346.8L356.44 331.8L356.5 351.8L356.57 331.8L356.63 356.6L356.69 331.8L356.75 356.6L356.81 333.2L356.88 356.6L356.94 334.4L357 357L357.06 340.5L357.13 361.3L357.19 345.3L357.25 361.3L357.31 345.4L357.37 361.3L357.44 345.4L357.5 364.8L357.56 345.4L357.62 364.8L357.69 350.4L357.75 364.8L357.81 348L357.87 364.8L357.93 345.3L358 364.8L358.06 344.3L358.12 364.8L358.18 344.1L358.25 361L358.31 342.8L358.37 358.5L358.43 342.8L358.49 354.4L358.56 339.2L358.62 354.4L358.68 337.5L358.74 354.4L358.81 336.3L358.87 353.6L358.93 333.5L358.99 352.5L359.05 331.6L359.12 348.9L359.18 326.4L359.24 348.9L359.3 324.6L359.37 346.9L359.43 322.2L359.49 345.7L359.55 317.3L359.62 345.7L359.68 310.9L359.74 340.8L359.8 308.5L359.86 336L359.93 307.3L359.99 336L360.05 305.2L360.11 328.1L360.18 305.2L360.24 328.7L360.3 305.2L360.36 331.2L360.42 305.2L360.49 332.1L360.55 305.2L360.61 335.5L360.67 312.8L360.74 338.9L360.8 316.5L360.86 340L360.92 320L360.98 343.4L361.05 324.1L361.11 346.3L361.17 325.6L361.23 348.5L361.3 325.6L361.36 349.9L361.42 332L361.48 352.5L361.54 333L361.61 352.5L361.67 338L361.73 352.5L361.79 338L361.86 353L361.92 338.5L361.98 354.4L362.04 339.8L362.1 362.3L362.17 339.8L362.23 362.3L362.29 339.8L362.35 362.3L362.42 342.5L362.48 362.3L362.54 346.7L362.6 362.3L362.66 349.6L362.73 362.3L362.79 350.3L362.85 363.6L362.91 350.3L362.98 364.3L363.04 350.3L363.1 364.3L363.16 350.3L363.22 364.8L363.29 351.1L363.35 364.8L363.41 352.7L363.47 364.8L363.54 354L363.6 364.8L363.66 346.9L363.72 364.8L363.78 346.9L363.85 363.1L363.91 345.4L363.97 363.1L364.03 344.8L364.1 362.8L364.16 344.2L364.22 359L364.28 344.2L364.34 359L364.41 344.2L364.47 356.8L364.53 340.6L364.59 356.8L364.66 334.4L364.72 356.8L364.78 334.4L364.84 356.7L364.9 334.4L364.97 355.9L365.03 334.4L365.09 352.7L365.15 333.9L365.22 351.6L365.28 332.5L365.34 351.6L365.4 328.1L365.46 350.8L365.53 327.5L365.59 350.7L365.65 327.2L365.71 348.5L365.78 324.6L365.84 344.6L365.9 318.2L365.96 343.4L366.02 314L366.09 343L366.15 311L366.21 342.3L366.27 311L366.34 339.3L366.4 311L366.46 337.5L366.52 311L366.58 341.5L366.65 311L366.71 344.1L366.77 311.1L366.83 345.6L366.9 319.2L366.96 345.6L367.02 320.6L367.08 352L367.15 322.4L367.21 352.8L367.27 327.4L367.33 354.8L367.39 330.8L367.46 358.4L367.52 331.2L367.58 358.4L367.64 335L367.71 358.4L367.77 335L367.83 358.6L367.89 335.4L367.95 359.6L368.02 335.4L368.08 359.6L368.14 335.4L368.2 359.6L368.27 343.2L368.33 362L368.39 344.5L368.45 362L368.51 345.4L368.58 362L368.64 345.4L368.7 362L368.76 342.4L368.83 362L368.89 340.5L368.95 362L369.01 340.5L369.07 359.8L369.14 340.4L369.2 359L369.26 337.6L369.32 356.6L369.39 337.6L369.45 356.6L369.51 337.6L369.57 356.6L369.63 334.9L369.7 356.6L369.76 334.9L369.82 355.7L369.88 334.9L369.95 353.8L370.01 332.2L370.07 353.8L370.13 329L370.19 350.2L370.26 328.6L370.32 350.2L370.38 328.6L370.44 349.7L370.51 327.8L370.57 347.4L370.63 326.5L370.69 345.1L370.75 325.6L370.82 345.1L370.88 325.6L370.94 345.1L371 321L371.07 345.1L371.13 315.3L371.19 339L371.25 315.3L371.31 339L371.38 315.3L371.44 339L371.5 310.1L371.56 335.9L371.63 309.7L371.69 330.9L371.75 305.3L371.81 329.9L371.87 303.2L371.94 327L372 301.6L372.06 326.7L372.12 301.6L372.19 324L372.25 301.6L372.31 324.5L372.37 301.6L372.43 327L372.5 301.6L372.56 329.3L372.62 302.2L372.68 332.8L372.75 302.2L372.81 338L372.87 311.4L372.93 342.9L372.99 312.5L373.06 345.3L373.12 312.5L373.18 349.8L373.24 315.5L373.31 349.8L373.37 325L373.43 353.5L373.49 325L373.55 355.2L373.62 331.4L373.68 355.2L373.74 335.1L373.8 355.2L373.87 335.4L373.93 355.2L373.99 337.2L374.05 355.2L374.11 337.2L374.18 355.2L374.24 337.2L374.3 354.8L374.36 337.2L374.43 355.7L374.49 337.2L374.55 359.3L374.61 337.2L374.68 359.7L374.74 341.4L374.8 359.9L374.86 341.4L374.92 362L374.99 341.5L375.05 362L375.11 341.5L375.17 362L375.24 344.3L375.3 362L375.36 344.3L375.42 362L375.48 344.3L375.55 361.6L375.61 344.2L375.67 360.7L375.73 343.6L375.8 360.7L375.86 337.6L375.92 360.7L375.98 336.3L376.04 360.7L376.11 336.3L376.17 360.7L376.23 334.3L376.29 357.9L376.36 330.5L376.42 355.4L376.48 330L376.54 351.9L376.6 327.2L376.67 350L376.73 327.2L376.79 347.7L376.85 321.8L376.92 345.4L376.98 314.6L377.04 343.2L377.1 312L377.16 343.2L377.23 310.7L377.29 343.2L377.35 310.3L377.41 337.3L377.48 310.3L377.54 332.2L377.6 304.2L377.66 325L377.72 298.6L377.79 325L377.85 298.6L377.91 325.8L377.97 298.6L378.04 325.8L378.1 298.6L378.16 331.4L378.22 298.6L378.28 335.1L378.35 303.3L378.41 339.4L378.47 312.9L378.53 339.4L378.6 314.8L378.66 339.4L378.72 316.3L378.78 340.8L378.84 322.2L378.91 346.3L378.97 323.4L379.03 347.4L379.09 329.6L379.16 352.1L379.22 329.6L379.28 352.1L379.34 330.3L379.4 352.1L379.47 333.9L379.53 352.1L379.59 333.9L379.65 352.1L379.72 338.5L379.78 352.1L379.84 337.5L379.9 351.3L379.96 336.7L380.03 350.3L380.09 336.7L380.15 352.6L380.21 336.7L380.28 355.7L380.34 336.7L380.4 357.3L380.46 336.7L380.52 358.4L380.59 339.3L380.65 362.6L380.71 343.9L380.77 362.6L380.84 342.1L380.9 362.6L380.96 341.3L381.02 362.6L381.08 341.3L381.15 362.6L381.21 341.3L381.27 362.7L381.33 341.3L381.4 362.9L381.46 341.3L381.52 363.4L381.58 341.9L381.64 363.4L381.71 343.7L381.77 363.4L381.83 340.8L381.89 363.4L381.96 339.4L382.02 363.4L382.08 336.9L382.14 361.2L382.2 336.6L382.27 356.9L382.33 336.5L382.39 353.5L382.45 335.7L382.52 347.1L382.58 333.4L382.64 346.5L382.7 330.1L382.77 346.5L382.83 327.1L382.89 346.5L382.95 326L383.01 346.5L383.08 322.7L383.14 342.8L383.2 321.4L383.26 339.4L383.33 320.4L383.39 338.4L383.45 315.1L383.51 338.4L383.57 308.4L383.64 336.2L383.7 306.5L383.76 334L383.82 306.5L383.89 329.5L383.95 302.3L384.01 325.2L384.07 302.3L384.13 320.4L384.2 302.3L384.26 326.4L384.32 302.3L384.38 332.2L384.45 302.3L384.51 333.6L384.57 303.1L384.63 334.5L384.69 308.8L384.76 339L384.82 314.2L384.88 340.1L384.94 318.3L385.01 341.1L385.07 324.2L385.13 346.3L385.19 328.5L385.25 350.9L385.32 331.5L385.38 352.5L385.44 331.6L385.5 352.5L385.57 334.5L385.63 356.4L385.69 341.9L385.75 357.1L385.81 342.9L385.88 358.7L385.94 342.9L386 358.7L386.06 342.9L386.13 358.7L386.19 344.4L386.25 361.3L386.31 346.5L386.37 361.3L386.44 348.8L386.5 362.4L386.56 349.6L386.62 363.7L386.69 352.7L386.75 363.7L386.81 354.4L386.87 365.6L386.93 354.4L387 365.6L387.06 351.5L387.12 365.6L387.18 349.2L387.25 365.6L387.31 349.2L387.37 365.6L387.43 349.2L387.49 365.6L387.56 348.6L387.62 365.1L387.68 345.5L387.74 357.7L387.81 345.5L387.87 356.9L387.93 345.5L387.99 355.6L388.05 345.2L388.12 355.6L388.18 339.7L388.24 355.6L388.3 337.3L388.37 355.6L388.43 336.2L388.49 354.4L388.55 336.2L388.61 352.8L388.68 336.2L388.74 349.1L388.8 330.8L388.86 345.4L388.93 330.8L388.99 345.4L389.05 330.8L389.11 345.4L389.17 330.8L389.24 339.3L389.3 328.8L389.36 339.2L389.42 322.9L389.49 339.2L389.55 318.7L389.61 337.4L389.67 317.1L389.73 336.8L389.8 308.7L389.86 335.2L389.92 301.2L389.98 333.6L390.05 301.2L390.11 326L390.17 301.2L390.23 321.3L390.3 301.2L390.36 324.6L390.42 301.2L390.48 325.1L390.54 301.2L390.61 328.9L390.67 306.2L390.73 332.4L390.79 313.7L390.86 336.8L390.92 316L390.98 339.8L391.04 316L391.1 347.2L391.17 319.2L391.23 349.7L391.29 325.7L391.35 351.5L391.42 330.9L391.48 352.6L391.54 332L391.6 354.7L391.66 337.9L391.73 354.7L391.79 338.8L391.85 357.5L391.91 341.7L391.98 359.5L392.04 341.7L392.1 363.4L392.16 346.6L392.22 363.4L392.29 346.6L392.35 363.4L392.41 346.6L392.47 363.4L392.54 346.6L392.6 363.4L392.66 346.6L392.72 363.3L392.78 346.6L392.85 363.3L392.91 350.2L392.97 363.3L393.03 349.9L393.1 363.3L393.16 345.8L393.22 363.3L393.28 341.7L393.34 363.3L393.41 338.9L393.47 361.3L393.53 338.9L393.59 361.2L393.66 338.9L393.72 357.9L393.78 338.9L393.84 354.3L393.9 335.3L393.97 351.8L394.03 331.8L394.09 351.8L394.15 324.8L394.22 349.4L394.28 318.1L394.34 349.4L394.4 316.3L394.46 347.1L394.53 314.1L394.59 345.9L394.65 309.4L394.71 338.1L394.78 305.7L394.84 333.9L394.9 304.2L394.96 330.7L395.02 302.3L395.09 324.4L395.15 302.3L395.21 321.4L395.27 302.3L395.34 323.5L395.4 302.3L395.46 327.4L395.52 302.3L395.58 327.7L395.65 303.8L395.71 329.3L395.77 304.2L395.83 329.8L395.9 313L395.96 329.8L396.02 314.3L396.08 330L396.14 314.4L396.21 334.4L396.27 314.4L396.33 335.2L396.39 314.4L396.46 339.2L396.52 314.4L396.58 341.8L396.64 317.8L396.7 345.7L396.77 324.4L396.83 349.2L396.89 324.4L396.95 349.2L397.02 332.3L397.08 349.2L397.14 333.4L397.2 349.2L397.26 333.4L397.33 349.2L397.39 333.4L397.45 352.8L397.51 333.4L397.58 358.3L397.64 333.4L397.7 358.3L397.76 335.4L397.83 358.3L397.89 336.6L397.95 358.3L398.01 339.8L398.07 358.3L398.14 343.2L398.2 358.3L398.26 343.2L398.32 358.4L398.39 343.3L398.45 361.4L398.51 345.5L398.57 362.1L398.63 345.5L398.7 363.2L398.76 346.3L398.82 363.2L398.88 349.5L398.95 365.2L399.01 350.7L399.07 366.3L399.13 350.7L399.19 366.3L399.26 343.7L399.32 366.3L399.38 343.7L399.44 366.3L399.51 343.7L399.57 366.3L399.63 343.7L399.69 362.5L399.75 342.6L399.82 360.6L399.88 341.7L399.94 357L400 340.3L400.07 357L400.13 336.1L400.19 357L400.25 326.8L400.31 354.2L400.38 324.4L400.44 354L400.5 318.8L400.56 351.7L400.63 314.3L400.69 348.7L400.75 308.5L400.81 344.9L400.87 304.9L400.94 337.7L401 298.1L401.06 335L401.12 295.8L401.19 332.2L401.25 295.8L401.31 325.6L401.37 295.8L401.43 321.3L401.5 295.8L401.56 326.3L401.62 295.8L401.68 326.3L401.75 296.3L401.81 326.3L401.87 298.3L401.93 331.1L401.99 302.8L402.06 333L402.12 312.5L402.18 336.5L402.24 313.4L402.31 336.5L402.37 316.4L402.43 337.2L402.49 317.9L402.55 340.2L402.62 321.8L402.68 342.6L402.74 321.8L402.8 343.6L402.87 321.8L402.93 343.6L402.99 321.8L403.05 344.2L403.11 326.4L403.18 345.5L403.24 332.4L403.3 349.6L403.36 332.4L403.43 349.6L403.49 332.4L403.55 349.6L403.61 332.4L403.67 349.6L403.74 333.7L403.8 349.6L403.86 333.7L403.92 349.5L403.99 333.7L404.05 353.1L404.11 333.7L404.17 355.2L404.23 333.7L404.3 356.7L404.36 333.7L404.42 356.7L404.48 335.9L404.55 356.7L404.61 342.6L404.67 356.7L404.73 345.4L404.79 356.8L404.86 349L404.92 357.8L404.98 349L405.04 360.9L405.11 349L405.17 362L405.23 350.2L405.29 362L405.36 349.3L405.42 362L405.48 349.3L405.54 362L405.6 348.7L405.67 362L405.73 346.9L405.79 358L405.85 344.3L405.92 356.7L405.98 341.4L406.04 356.5L406.1 340.5L406.16 354.4L406.23 339.4L406.29 354.4L406.35 335.2L406.41 354.4L406.48 328.4L406.54 351.1L406.6 327.3L406.66 351.1L406.72 322.2L406.79 348.7L406.85 310.3L406.91 348.4L406.97 306.1L407.04 341.3L407.1 302.8L407.16 339.7L407.22 299.1L407.28 333.4L407.35 298L407.41 326.5L407.47 298L407.53 320.4L407.6 298L407.66 320.4L407.72 298L407.78 321.3L407.84 298L407.91 325L407.97 298.1L408.03 325.7L408.09 302.3L408.16 326L408.22 302.3L408.28 328.1L408.34 303.1L408.4 339.8L408.47 309.4L408.53 343L408.59 312.1L408.65 343L408.72 317L408.78 345.9L408.84 318.2L408.9 346.9L408.96 321.4L409.03 346.9L409.09 330.1L409.15 346.9L409.21 332.4L409.28 346.9L409.34 336.4L409.4 346.9L409.46 336.4L409.52 347.6L409.59 336.4L409.65 347.6L409.71 336.4L409.77 347.6L409.84 336.4L409.9 348.2L409.96 336.4L410.02 348.2L410.08 339.5L410.15 348.2L410.21 339.5L410.27 353.9L410.33 339.5L410.4 353.9L410.46 339.5L410.52 353.9L410.58 339.5L410.64 358.4L410.71 340.8L410.77 361.3L410.83 344.8L410.89 362.7L410.96 350.6L411.02 362.7L411.08 350L411.14 362.7L411.2 348L411.27 362.7L411.33 346.7L411.39 362.7L411.45 344.3L411.52 362.7L411.58 343.9L411.64 353.9L411.7 341.6L411.76 353.5L411.83 341.6L411.89 353.5L411.95 335.9L412.01 351.4L412.08 331L412.14 349.5L412.2 327.4L412.26 349.5L412.32 323.2L412.39 349.5L412.45 321.3L412.51 347.4L412.57 320.9L412.64 344L412.7 315.9L412.76 337.5L412.82 305.3L412.88 332.2L412.95 300.6L413.01 331L413.07 297.6L413.13 331L413.2 297.6L413.26 329L413.32 297.6L413.38 321.2L413.45 297.6L413.51 318.6L413.57 297.6L413.63 323.3L413.69 300.3L413.76 327.4L413.82 300.3L413.88 334.2L413.94 300.3L414.01 338.2L414.07 304.1L414.13 340.5L414.19 310.3L414.25 340.5L414.32 315.9L414.38 340.5L414.44 322.8L414.5 340.5L414.57 325.9L414.63 343L414.69 328.8L414.75 344.4L414.81 330.8L414.88 344.4L414.94 332.2L415 346.7L415.06 332.2L415.13 348L415.19 336.2L415.25 350.3L415.31 336.2L415.37 351.4L415.44 336.2L415.5 353.8L415.56 339.9L415.62 356.5L415.69 341L415.75 356.5L415.81 341L415.87 356.5L415.93 344.4L416 356.5L416.06 344.4L416.12 356.5L416.18 344.4L416.25 356.4L416.31 344.4L416.37 356.4L416.43 344.4L416.49 356.8L416.56 345.8L416.62 359.1L416.68 351.7L416.74 361.5L416.81 353.3L416.87 367.4L416.93 353.6L416.99 367.4L417.05 355.8L417.12 367.4L417.18 356.3L417.24 367.4L417.3 354.9L417.37 367.4L417.43 352.8L417.49 364.5L417.55 350.8L417.61 362.1L417.68 346.2L417.74 360.2L417.8 346.2L417.86 360.2L417.93 342.4L417.99 358.1L418.05 340.1L418.11 354.8L418.17 340.1L418.24 350.4L418.3 339.9L418.36 350.4L418.42 332.1L418.49 350.2L418.55 328.3L418.61 347.1L418.67 328.3L418.73 347.1L418.8 328.3L418.86 345.8L418.92 320.4L418.98 338.5L419.05 315.8L419.11 336.9L419.17 313.1L419.23 336.9L419.29 313.1L419.36 336.9L419.42 313.1L419.48 332.5L419.54 313.1L419.61 331.2L419.67 313.1L419.73 333L419.79 314L419.85 337.5L419.92 315.7L419.98 344.1L420.04 318L420.1 349.2L420.17 318L420.23 350.6L420.29 322.7L420.35 350.6L420.41 326.1L420.48 350.6L420.54 331.6L420.6 352.9L420.66 336.3L420.73 352.9L420.79 338.8L420.85 356.1L420.91 338.8L420.98 356.1L421.04 339.6L421.1 358.4L421.16 339.6L421.22 358.7L421.29 339.6L421.35 360.8L421.41 345L421.47 360.8L421.54 345.9L421.6 360.8L421.66 348.4L421.72 360.8L421.78 349.9L421.85 360.8L421.91 348.3L421.97 360.8L422.03 348.3L422.1 359.7L422.16 348.3L422.22 362.5L422.28 348.3L422.34 362.5L422.41 348.3L422.47 362.5L422.53 349.2L422.59 365.6L422.66 349.2L422.72 365.6L422.78 350.9L422.84 365.6L422.9 350.3L422.97 365.6L423.03 350.3L423.09 365.6L423.15 342.6L423.22 365.6L423.28 338.9L423.34 363.1L423.4 338.9L423.46 359L423.53 338.9L423.59 355.8L423.65 338.3L423.71 355.6L423.78 336.2L423.84 353.6L423.9 336.2L423.96 353.6L424.02 336.2L424.09 353.6L424.15 332.9L424.21 353.5L424.27 331.4L424.34 350.7L424.4 327L424.46 350.7L424.52 324.2L424.58 350.7L424.65 324.2L424.71 349.5L424.77 324.2L424.83 343.3L424.9 323.5L424.96 342.2L425.02 317.5L425.08 342.2L425.14 308.7L425.21 342.2L425.27 306.4L425.33 339L425.39 305.9L425.46 338.5L425.52 303.8L425.58 334.6L425.64 303.8L425.7 328.2L425.77 303.8L425.83 329.8L425.89 303.8L425.95 332.6L426.02 303.8L426.08 335.6L426.14 304.8L426.2 339.7L426.26 308.3L426.33 343.2L426.39 310.4L426.45 343.2L426.51 313.9L426.58 344.5L426.64 324.3L426.7 344.5L426.76 325.9L426.82 344.5L426.89 327.9L426.95 344.5L427.01 327.9L427.07 347.1L427.14 330.6L427.2 347.1L427.26 330.6L427.32 347.1L427.38 331.1L427.45 355.4L427.51 331.1L427.57 355.4L427.63 337.5L427.7 355.4L427.76 339.1L427.82 357.1L427.88 340L427.94 360.8L428.01 343.9L428.07 362.7L428.13 346.9L428.19 362.7L428.26 346.9L428.32 362.7L428.38 350.7L428.44 362.7L428.51 350.7L428.57 362.7L428.63 350L428.69 362.1L428.75 348.4L428.82 360L428.88 348.4L428.94 357.4L429 347.7L429.07 357.4L429.13 347.7L429.19 354.7L429.25 345.8L429.31 354.7L429.38 345.8L429.44 354L429.5 345.6L429.56 352.6L429.63 341.4L429.69 350.5L429.75 341.4L429.81 350.5L429.87 338.3L429.94 350.5L430 336.6L430.06 347.8L430.12 336.5L430.19 347.8L430.25 335.7L430.31 347.8L430.37 333.9L430.43 342.8L430.5 331.7L430.56 342.8L430.62 326L430.68 341.7L430.75 321.7L430.81 341.7L430.87 321.4L430.93 339.8L430.99 316.2L431.06 335L431.12 311.7L431.18 332.2L431.24 305.9L431.31 331.9L431.37 300.9L431.43 330.3L431.49 300.9L431.55 321.9L431.62 300.9L431.68 316L431.74 300.9L431.8 318L431.87 300.9L431.93 321.9L431.99 300.9L432.05 331.3L432.11 302.2L432.18 335.4L432.24 302.2L432.3 337.7L432.36 308.2L432.43 339.6L432.49 313.4L432.55 340.4L432.61 319.8L432.67 345.6L432.74 326.3L432.8 347.2L432.86 329.6L432.92 349.6L432.99 330.5L433.05 349.6L433.11 332.9L433.17 352.3L433.23 336.6L433.3 352.3L433.36 340.9L433.42 353.9L433.48 340.9L433.55 353.9L433.61 340.9L433.67 357L433.73 343.5L433.79 357L433.86 347.7L433.92 358.7L433.98 347.7L434.04 362L434.11 347.7L434.17 362L434.23 347.7L434.29 362L434.35 347.7L434.42 365.6L434.48 352.2L434.54 365.6L434.6 352.2L434.67 365.6L434.73 352.2L434.79 365.6L434.85 350.5L434.91 365.6L434.98 347.7L435.04 362.6L435.1 341.7L435.16 362.6L435.23 341.7L435.29 362.6L435.35 341.7L435.41 357.3L435.47 341.7L435.54 353.9L435.6 339.3L435.66 353.5L435.72 336.8L435.79 353.1L435.85 336.8L435.91 349.5L435.97 336.8L436.04 348.3L436.1 336.8L436.16 348.3L436.22 331.6L436.28 345.9L436.35 331.6L436.41 345.9L436.47 329.7L436.53 345.9L436.6 323.8L436.66 345.3L436.72 318.5L436.78 345L436.84 318.1L436.91 345L436.97 312.9L437.03 341.9L437.09 309.5L437.16 335.7L437.22 309.5L437.28 332.1L437.34 309.5L437.4 332.1L437.47 309.5L437.53 332.2L437.59 309.5L437.65 335.3L437.72 310.4L437.78 336.5L437.84 315.7L437.9 345L437.96 317.3L438.03 348.5L438.09 320L438.15 350.4L438.21 325.7L438.28 350.4L438.34 326.2L438.4 350.4L438.46 334.3L438.52 350.4L438.59 333.9L438.65 350.4L438.71 333.9L438.77 349.8L438.84 333.9L438.9 352.2L438.96 333.9L439.02 355.1L439.08 333.9L439.15 355.1L439.21 334.6L439.27 356L439.33 338.5L439.4 356.2L439.46 338.5L439.52 359.2L439.58 338.5L439.64 360.1L439.71 342.1L439.77 363L439.83 349L439.89 366.3L439.96 349.9L440.02 366.3L440.08 349.9L440.14 366.3L440.2 349.6L440.27 366.3L440.33 349.6L440.39 366.3L440.45 349.6L440.52 365.3L440.58 349.6L440.64 362.5L440.7 347.7L440.76 360.1L440.83 343.2L440.89 360.1L440.95 342.3L441.01 360.1L441.08 342.3L441.14 360.1L441.2 342.3L441.26 358.9L441.32 342.3L441.39 358.9L441.45 341.8L441.51 358.9L441.57 336L441.64 358.9L441.7 336L441.76 358.9L441.82 333.1L441.88 355.2L441.95 328.8L442.01 351.6L442.07 323.9L442.13 349L442.2 317.7L442.26 345.6L442.32 317.1L442.38 345.6L442.44 317.1L442.51 339.1L442.57 313.3L442.63 336.2L442.69 308.7L442.76 334.3L442.82 304.2L442.88 330.8L442.94 301.6L443 330.8L443.07 301.6L443.13 329.1L443.19 301.6L443.25 326.2L443.32 301.6L443.38 327.5L443.44 301.6L443.5 330.3L443.56 302.2L443.63 336.9L443.69 303.8L443.75 336.9L443.81 309.8L443.88 338L443.94 317L444 338.8L444.06 317.6L444.13 343.9L444.19 317.6L444.25 343.9L444.31 323.7L444.37 348.5L444.44 325.8L444.5 348.5L444.56 325.8L444.62 348.5L444.69 331.4L444.75 351.9L444.81 335.1L444.87 351.9L444.93 335.7L445 351.9L445.06 335.7L445.12 351.9L445.18 339.9L445.25 351.9L445.31 336.5L445.37 350.2L445.43 336.5L445.49 347.5L445.56 336.5L445.62 347.5L445.68 336.5L445.74 349.6L445.81 336.5L445.87 350.4L445.93 338.3L445.99 357.9L446.05 338.3L446.12 363.4L446.18 340L446.24 363.4L446.3 341.5L446.37 363.4L446.43 348.3L446.49 363.4L446.55 350.8L446.61 363.4L446.68 346.4L446.74 363.4L446.8 346.4L446.86 358.2L446.93 346.4L446.99 358.2L447.05 346.4L447.11 358.2L447.17 346.4L447.24 354L447.3 340.9L447.36 354L447.42 339.2L447.49 352.9L447.55 339.2L447.61 352.9L447.67 339.2L447.73 352.9L447.8 339.2L447.86 351.6L447.92 339.2L447.98 351.6L448.05 337L448.11 351.6L448.17 334.9L448.23 351.6L448.29 330.9L448.36 350.2L448.42 326.7L448.48 345.1L448.54 326.6L448.61 344.3L448.67 326.6L448.73 344.3L448.79 326.6L448.85 342.4L448.92 326.6L448.98 337.5L449.04 323.8L449.1 336.1L449.17 321.9L449.23 335.6L449.29 316.8L449.35 333.4L449.41 314.2L449.48 333.4L449.54 309.2L449.6 333.4L449.66 308.7L449.73 329.7L449.79 306.9L449.85 327.7L449.91 306.9L449.97 322L450.04 306.9L450.1 325.9L450.16 306.9L450.22 328.5L450.29 306.9L450.35 334L450.41 308.3L450.47 334L450.53 308.3L450.6 336.1L450.66 312L450.72 336.7L450.78 318.5L450.85 338L450.91 324L450.97 342L451.03 328.4L451.09 344.3L451.16 329L451.22 344.3L451.28 331.9L451.34 345.2L451.41 331.9L451.47 345.2L451.53 333.1L451.59 345.2L451.66 335.8L451.72 345.4L451.78 336.6L451.84 345.4L451.9 336.6L451.97 347.5L452.03 336.6L452.09 350.5L452.15 338.2L452.22 350.5L452.28 339.6L452.34 353L452.4 340L452.46 353L452.53 342L452.59 355.1L452.65 342L452.71 356.2L452.78 342.5L452.84 360.3L452.9 344.5L452.96 363L453.02 344.7L453.09 363L453.15 346.9L453.21 363L453.27 347.3L453.34 363L453.4 342.4L453.46 363L453.52 336.7L453.58 363L453.65 331L453.71 357.8L453.77 327.1L453.83 356.7L453.9 324.9L453.96 353.8L454.02 320.9L454.08 345.7L454.14 315.9L454.21 339.9L454.27 313L454.33 337.4L454.39 310.6L454.46 337.4L454.52 306.2L454.58 332.3L454.64 306.2L454.7 327.7L454.77 304.2L454.83 326.5L454.89 298.5L454.95 326.5L455.02 298.5L455.08 321.4L455.14 295.7L455.2 321.4L455.26 295.7L455.33 319.2L455.39 295.7L455.45 320.4L455.51 295.7L455.58 320.4L455.64 295.7L455.7 324.5L455.76 295.7L455.82 328.5L455.89 298.2L455.95 330.4L456.01 301.7L456.07 332.7L456.14 304.2L456.2 338L456.26 307.4L456.32 339.6L456.38 309.3L456.45 339.6L456.51 315.1L456.57 345.9L456.63 319.2L456.7 347.9L456.76 320.5L456.82 349.8L456.88 323.6L456.94 351.5L457.01 323.6L457.07 351.5L457.13 333.9L457.19 352.9L457.26 336.6L457.32 353L457.38 336.6L457.44 356.9L457.5 337.9L457.57 357.2L457.63 339.3L457.69 357.2L457.75 343.1L457.82 357.2L457.88 343.1L457.94 359.6L458 343.1L458.06 360.6L458.13 344.5L458.19 363.5L458.25 344.5L458.31 363.5L458.38 344.5L458.44 364.3L458.5 348.4L458.56 364.8L458.62 349.1L458.69 364.8L458.75 349.1L458.81 364.8L458.87 349.1L458.94 364.8L459 344.5L459.06 364.8L459.12 342.5L459.19 364.8L459.25 335L459.31 363.9L459.37 332.2L459.43 363.9L459.5 332.1L459.56 356.6L459.62 328L459.68 355.1L459.75 324.5L459.81 349.9L459.87 317.6L459.93 347.2L459.99 317.6L460.06 347.2L460.12 317.6L460.18 340.5L460.24 317.6L460.31 336.6L460.37 317.6L460.43 335.5L460.49 310.5L460.55 335.5L460.62 301.6L460.68 335.5L460.74 301.6L460.8 335.1L460.87 301.6L460.93 335.1L460.99 301.6L461.05 330.9L461.11 301.6L461.18 324.9L461.24 301.6L461.3 326.4L461.36 303.3L461.43 331.6L461.49 307.3L461.55 331.6L461.61 308.9L461.67 331.6L461.74 313.4L461.8 332.3L461.86 313.4L461.92 338.1L461.99 316.1L462.05 338.1L462.11 316.1L462.17 338.1L462.23 316.1L462.3 343.9L462.36 323.7L462.42 345.2L462.48 324.8L462.55 347.2L462.61 324.8L462.67 349.1L462.73 324.8L462.79 349.7L462.86 328.9L462.92 352.1L462.98 328.9L463.04 352.6L463.11 333L463.17 352.6L463.23 337.3L463.29 354.8L463.35 337.6L463.42 354.8L463.48 340.3L463.54 354.8L463.6 340.3L463.67 355L463.73 341L463.79 358.8L463.85 342.2L463.91 359.9L463.98 343.5L464.04 361.4L464.1 343.5L464.16 361.4L464.23 348.2L464.29 363.4L464.35 349.3L464.41 364.8L464.47 350.6L464.54 364.8L464.6 349.7L464.66 364.8L464.72 347.6L464.79 364.8L464.85 347.6L464.91 364.8L464.97 347.6L465.03 362.1L465.1 343.9L465.16 357L465.22 343.7L465.28 357L465.35 343.1L465.41 357L465.47 343.1L465.53 355.5L465.59 338L465.66 353.4L465.72 338L465.78 352.6L465.84 338L465.91 352.6L465.97 338L466.03 350.5L466.09 336.4L466.15 350.5L466.22 333.2L466.28 350.5L466.34 329.5L466.4 350.5L466.47 325.7L466.53 350.5L466.59 321.1L466.65 349.5L466.72 321.1L466.78 342.6L466.84 321.1L466.9 339.3L466.96 316.8L467.03 338.1L467.09 316.2L467.15 333.7L467.21 312.7L467.28 333.7L467.34 307.2L467.4 332.6L467.46 307.2L467.52 328.4L467.59 307.2L467.65 333.8L467.71 307.2L467.77 334.8L467.84 307.2L467.9 334.8L467.96 307.2L468.02 334.8L468.08 315.3L468.15 334.8L468.21 319.7L468.27 339.3L468.33 323.4L468.4 341.6L468.46 325.3L468.52 346.9L468.58 325.3L468.64 347.2L468.71 327.5L468.77 351.9L468.83 327.5L468.89 353.6L468.96 331.3L469.02 358.9L469.08 339.4L469.14 358.9L469.2 341L469.27 358.9L469.33 345.4L469.39 358.9L469.45 345.4L469.52 358.9L469.58 345.7L469.64 356.4L469.7 345.7L469.76 356.4L469.83 345.7L469.89 357.9L469.95 345.7L470.01 361.5L470.08 346.9L470.14 363.4L470.2 349.7L470.26 363.4L470.32 350.5L470.39 363.4L470.45 351.2L470.51 363.4L470.57 351.8L470.64 363.4L470.7 349.6L470.76 360.8L470.82 346.5L470.88 360.6L470.95 344.1L471.01 359.3L471.07 344.1L471.13 359.2L471.2 343.3L471.26 357L471.32 342.9L471.38 355.5L471.44 335.8L471.51 355.5L471.57 335.8L471.63 355.2L471.69 332.7L471.76 355.2L471.82 326.6L471.88 353.4L471.94 326L472 347.5L472.07 325.7L472.13 347.5L472.19 325.7L472.25 343.2L472.32 323.5L472.38 339.2L472.44 321L472.5 338.6L472.56 319.4L472.63 338.6L472.69 319.4L472.75 336.7L472.81 309.2L472.88 336.2L472.94 306L473 332.2L473.06 306L473.12 332L473.19 302.3L473.25 331.8L473.31 302.3L473.37 326.7L473.44 302.3L473.5 321.4L473.56 302.3L473.62 323.9L473.68 302.3L473.75 325.2L473.81 302.3L473.87 326.5L473.93 305.9L474 328.3L474.06 307.4L474.12 330.3L474.18 308.1L474.25 337.1L474.31 311.1L474.37 337.1L474.43 314L474.49 337.1L474.56 314L474.62 343.5L474.68 316.8L474.74 346.5L474.81 322.5L474.87 347.9L474.93 326.7L474.99 347.9L475.05 326.7L475.12 347.9L475.18 330.8L475.24 349.4L475.3 337.2L475.37 353.5L475.43 337.2L475.49 353.5L475.55 339.5L475.61 353.5L475.68 339.9L475.74 353.5L475.8 341L475.86 353.5L475.93 341L475.99 354.4L476.05 342.7L476.11 354.4L476.17 346.1L476.24 355.6L476.3 347.2L476.36 355.6L476.42 347.9L476.49 356.5L476.55 348L476.61 361.2L476.67 349.3L476.73 361.2L476.8 346.7L476.86 361.2L476.92 343.3L476.98 361.2L477.05 336.5L477.11 361.2L477.17 336.5L477.23 355.2L477.29 336.5L477.36 350.1L477.42 336.5L477.48 351L477.54 336.5L477.61 351.9L477.67 336.5L477.73 351.9L477.79 339.7L477.85 351.9L477.92 337.5L477.98 351.9L478.04 337.5L478.1 351.9L478.17 336L478.23 350.6L478.29 329.7L478.35 347.9L478.41 329.7L478.48 347.4L478.54 328.6L478.6 345.9L478.66 328.6L478.73 344.6L478.79 318.9L478.85 343.8L478.91 318.8L478.97 343.8L479.04 314.1L479.1 339.4L479.16 312.5L479.22 339L479.29 310.2L479.35 333.2L479.41 307.8L479.47 332.4L479.53 307.4L479.6 327.3L479.66 307.4L479.72 325.9L479.78 307.4L479.85 327L479.91 307.4L479.97 336.5L480.03 307.4L480.09 336.5L480.16 309.9L480.22 336.5L480.28 312.6L480.34 336.5L480.41 312.6L480.47 336.5L480.53 315.9L480.59 336.5L480.65 316.6L480.72 340.2L480.78 316.6L480.84 340.4L480.9 316.6L480.97 343.3L481.03 317.5L481.09 344.5L481.15 317.9L481.21 347.6L481.28 321.6L481.34 347.8L481.4 324.6L481.46 349.6L481.53 327.1L481.59 349.6L481.65 332.9L481.71 353.7L481.77 334.6L481.84 353.7L481.9 334.9L481.96 359.3L482.02 334.9L482.09 359.3L482.15 335.1L482.21 360.1L482.27 337.6L482.34 360.1L482.4 343.5L482.46 360.1L482.52 343.8L482.58 360.1L482.65 344.9L482.71 360.3L482.77 345.7L482.83 360.3L482.9 346.8L482.96 362L483.02 346.8L483.08 362L483.14 345.1L483.21 362L483.27 344.2L483.33 362L483.39 344.2L483.46 362L483.52 341L483.58 362L483.64 333.3L483.7 355.9L483.77 333.3L483.83 353.5L483.89 333.3L483.95 353.5L484.02 333.3L484.08 349.3L484.14 333.3L484.2 349.3L484.26 328L484.33 349.3L484.39 323.3L484.45 349.3L484.51 320L484.58 348.1L484.64 318.1L484.7 347.9L484.76 316.6L484.82 340.8L484.89 313.4L484.95 334.3L485.01 308.6L485.07 330.2L485.14 305L485.2 330.2L485.26 300L485.32 328.9L485.38 294.3L485.45 328.9L485.51 294.3L485.57 325.2L485.63 294.3L485.7 322.3L485.76 294.3L485.82 325.7L485.88 294.3L485.94 328L486.01 294.3L486.07 331.9L486.13 296L486.19 333.2L486.26 300.8L486.32 335.9L486.38 306.7L486.44 342.6L486.5 309.2L486.57 343.2L486.63 315.8L486.69 343.2L486.75 318L486.82 343.2L486.88 319.2L486.94 344.7L487 324.2L487.06 349.8L487.13 329.1L487.19 352.9L487.25 329.1L487.31 355.9L487.38 329.2L487.44 355.9L487.5 330.3L487.56 358.9L487.62 337.2L487.69 361L487.75 339L487.81 361.9L487.87 340.4L487.94 361.9L488 341.3L488.06 361.9L488.12 346.1L488.18 363.4L488.25 347.1L488.31 363.4L488.37 347.8L488.43 363.4L488.5 347.8L488.56 363.4L488.62 347.8L488.68 363.4L488.74 347.6L488.81 363.4L488.87 347.6L488.93 362.5L488.99 343.8L489.06 362.5L489.12 343.8L489.18 362.5L489.24 342.7L489.3 361.1L489.37 339.9L489.43 358.5L489.49 337.9L489.55 358L489.62 337.9L489.68 358L489.74 337.9L489.8 353.4L489.87 333.9L489.93 353.4L489.99 332.3L490.05 350.3L490.11 331.3L490.18 350.3L490.24 330.7L490.3 350.3L490.36 322.2L490.43 345L490.49 322.2L490.55 345L490.61 314.8L490.67 343.7L490.74 312.2L490.8 338.6L490.86 308.1L490.92 336L490.99 305.6L491.05 333.8L491.11 298.6L491.17 325.4L491.23 298.6L491.3 323.3L491.36 298.6L491.42 320.1L491.48 298.6L491.55 325.1L491.61 298.6L491.67 326.4L491.73 298.6L491.79 330.5L491.86 301L491.92 334.4L491.98 308L492.04 337.5L492.11 314.1L492.17 337.6L492.23 316.5L492.29 341.6L492.35 316.8L492.42 342.8L492.48 324.8L492.54 347.8L492.6 326.7L492.67 351.6L492.73 327.6L492.79 353.1L492.85 327.9L492.91 353.1L492.98 327.9L493.04 353.1L493.1 335.6L493.16 353.1L493.23 339.2L493.29 358L493.35 340.9L493.41 358.5L493.47 341.4L493.54 358.6L493.6 341.9L493.66 361.7L493.72 341.9L493.79 361.8L493.85 344.5L493.91 362L493.97 345.5L494.03 362L494.1 345.5L494.16 362L494.22 346.1L494.28 362L494.35 346.1L494.41 362L494.47 346.1L494.53 360.9L494.59 346.1L494.66 360.9L494.72 347.6L494.78 360.9L494.84 345L494.91 360.9L494.97 342L495.03 360.1L495.09 342L495.15 360.1L495.22 340.3L495.28 358.8L495.34 336.2L495.4 353.7L495.47 335.5L495.53 352.5L495.59 335.3L495.65 349.6L495.71 332.4L495.78 349.6L495.84 331.6L495.9 346.9L495.96 328.2L496.03 346.9L496.09 326.8L496.15 346.9L496.21 326.8L496.27 344.1L496.34 326.3L496.4 340.9L496.46 324.1L496.52 340.9L496.59 318.2L496.65 340L496.71 316.8L496.77 339.6L496.83 313.9L496.9 336.8L496.96 304.2L497.02 331.5L497.08 297.3L497.15 326L497.21 293.7L497.27 324.3L497.33 293.7L497.4 319.4L497.46 293.7L497.52 312.2L497.58 293.7L497.64 318.8L497.71 293.7L497.77 324.5L497.83 293.7L497.89 328.8L497.96 293.9L498.02 328.8L498.08 300.7L498.14 333.3L498.2 308.3L498.27 339L498.33 317.3L498.39 340.5L498.45 319.8L498.52 340.5L498.58 319.8L498.64 346L498.7 319.8L498.76 346L498.83 325.1L498.89 349.7L498.95 327.1L499.01 349.7L499.08 328L499.14 351.3L499.2 333.2L499.26 356.9L499.32 337.5L499.39 356.9L499.45 339.8L499.51 356.9L499.57 339.8L499.64 356.9L499.7 340.6L499.76 356.9L499.82 344.5L499.88 356.9L499.95 344.5L500.01 360.3L500.07 344.5L500.13 363.8L500.2 343.9L500.26 363.8L500.32 341.8L500.38 363.8L500.44 341.8L500.51 363.8L500.57 341.8L500.63 363.8L500.69 341.8L500.76 359.4L500.82 341.8L500.88 357.9L500.94 343.2L501 360.3L501.07 343.2L501.13 362.6L501.19 343.2L501.25 362.6L501.32 343.2L501.38 362.6L501.44 344.4L501.5 362.6L501.56 342.1L501.63 362.6L501.69 342.1L501.75 359.4L501.81 342.1L501.88 359.4L501.94 341.3L502 354.3L502.06 340.6L502.12 353.7L502.19 337.7L502.25 352.1L502.31 333.2L502.37 351.3L502.44 333.2L502.5 348.6L502.56 333.2L502.62 348.4L502.68 327.9L502.75 347.5L502.81 320.2L502.87 345.6L502.93 314.6L503 343.9L503.06 312L503.12 341.9L503.18 310.5L503.24 337.1L503.31 306.4L503.37 335.8L503.43 304.5L503.49 328.7L503.56 304.5L503.62 326.1L503.68 304.5L503.74 333.6L503.8 304.5L503.87 333.9L503.93 304.5L503.99 339.8L504.05 307.2L504.12 344.5L504.18 316.5L504.24 344.5L504.3 321.7L504.36 345L504.43 323.3L504.49 345L504.55 324.4L504.61 347.1L504.68 329.1L504.74 347.1L504.8 331.3L504.86 347.1L504.93 333.3L504.99 347.1L505.05 334.7L505.11 352.1L505.17 335.1L505.24 353.4L505.3 335.1L505.36 353.4L505.42 335.1L505.49 353.4L505.55 335.5L505.61 355.5L505.67 337L505.73 356.1L505.8 337L505.86 356.9L505.92 337L505.98 358.8L506.05 337.3L506.11 358.8L506.17 337.3L506.23 359.6L506.29 340L506.36 359.6L506.42 340L506.48 361.5L506.54 342.8L506.61 361.5L506.67 342.8L506.73 361.5L506.79 342.8L506.85 362.4L506.92 342.8L506.98 362.4L507.04 345.8L507.1 362.4L507.17 346.3L507.23 362.4L507.29 344.4L507.35 362.4L507.41 340.9L507.48 361.3L507.54 340.9L507.6 361.1L507.66 337.8L507.73 359.3L507.79 335.2L507.85 359.3L507.91 333.6L507.97 359.3L508.04 333.6L508.1 359.3L508.16 330L508.22 359.2L508.29 323.4L508.35 352.2L508.41 323.4L508.47 347.4L508.53 323.4L508.6 347.4L508.66 319.4L508.72 344.5L508.78 316.5L508.85 337.4L508.91 309.7L508.97 337.4L509.03 308.6L509.09 332.8L509.16 303.3L509.22 330.6L509.28 303.3L509.34 323.7L509.41 303.3L509.47 324.7L509.53 303.3L509.59 330.2L509.65 303.3L509.72 330.2L509.78 303.3L509.84 333L509.9 310.6L509.97 337.2L510.03 318.3L510.09 337.9L510.15 322L510.21 342.8L510.28 322L510.34 342.8L510.4 326.6L510.46 342.8L510.53 329.3L510.59 345.5L510.65 331.4L510.71 346.5L510.77 332.3L510.84 346.5L510.9 332.3L510.96 348.3L511.02 335.8L511.09 348.3L511.15 335.8L511.21 350.5L511.27 336.3L511.33 358.4L511.4 336.3L511.46 360.1L511.52 338.7L511.58 362.7L511.65 339.3L511.71 362.7L511.77 344.2L511.83 362.7L511.89 350.1L511.96 362.7L512.02 346.3L512.08 362.7L512.14 346.3L512.21 362.7L512.27 346.3L512.33 359L512.39 346.3L512.45 358.8L512.52 342.7L512.58 358.8L512.64 342.1L512.7 358.8L512.77 341.4L512.83 357.3L512.89 341.4L512.95 357.1L513.02 341.4L513.08 352.2L513.14 341.4L513.2 350.5L513.26 341.4L513.33 349.9L513.39 340L513.45 349.9L513.51 336.3L513.58 354.1L513.64 336.3L513.7 354.1L513.76 335.6L513.82 354.1L513.89 333.7L513.95 354.1L514.01 329.9L514.07 354.1L514.14 325.5L514.2 354.1L514.26 320.9L514.32 345.6L514.38 318.5L514.45 342.3L514.51 318.5L514.57 342.3L514.63 312.3L514.7 340.9L514.76 305.9L514.82 335.4L514.88 305.2L514.94 332.6L515.01 302.3L515.07 332.6L515.13 302.3L515.19 328.6L515.26 302.3L515.32 328.8L515.38 302.3L515.44 331.9L515.5 302.3L515.57 331.9L515.63 302.3L515.69 331.9L515.75 308.7L515.82 336.8L515.88 312.1L515.94 339.4L516 313.6L516.06 340.2L516.13 315.1L516.19 343.1L516.25 317.2L516.31 345.9L516.38 319.7L516.44 346.4L516.5 326L516.56 347.9L516.62 326L516.69 348.2L516.75 326L516.81 354.8L516.87 327.6L516.94 361.5L517 333.3L517.06 362.5L517.12 335.5L517.18 362.5L517.25 335.5L517.31 363.4L517.37 339.5L517.43 364.7L517.5 344.7L517.56 364.7L517.62 348.2L517.68 364.7L517.74 348.2L517.81 364.7L517.87 348.2L517.93 364.7L517.99 348.2L518.06 364.7L518.12 348.2L518.18 363.5L518.24 347.5L518.3 364.8L518.37 347.5L518.43 364.8L518.49 347.5L518.55 364.8L518.62 343.7L518.68 364.8L518.74 343.5L518.8 364.8L518.86 341.4L518.93 364.8L518.99 340.5L519.05 364.8L519.11 340.5L519.18 357.5L519.24 337.3L519.3 357.5L519.36 337.3L519.42 354.3L519.49 337.3L519.55 354L519.61 336.8L519.67 351.8L519.74 334.5L519.8 351.8L519.86 333.9L519.92 350.2L519.98 331.7L520.05 349.3L520.11 331.7L520.17 349.3L520.23 326.6L520.3 349.3L520.36 320.7L520.42 349.3L520.48 318.5L520.55 349.3L520.61 311.4L520.67 344.9L520.73 310.6L520.79 341.3L520.86 305.1L520.92 339.5L520.98 305.1L521.04 334.7L521.11 299.5L521.17 329.5L521.23 295.1L521.29 326.9L521.35 295.1L521.42 326L521.48 295.1L521.54 322.6L521.6 295.1L521.67 328.9L521.73 295.1L521.79 331L521.85 295.1L521.91 331L521.98 302.6L522.04 335.5L522.1 304.9L522.16 335.5L522.23 310.9L522.29 344L522.35 313.2L522.41 344L522.47 313.2L522.54 348.5L522.6 316L522.66 353L522.72 318.2L522.79 353.3L522.85 321.7L522.91 355.2L522.97 325.2L523.03 355.3L523.1 330L523.16 355.3L523.22 339.1L523.28 355.7L523.35 339.1L523.41 361.9L523.47 340.2L523.53 362.9L523.59 340.2L523.66 364.1L523.72 340.8L523.78 364.1L523.84 343L523.91 364.1L523.97 343L524.03 364.1L524.09 345.7L524.15 364.1L524.22 345.7L524.28 363.1L524.34 345.7L524.4 363.1L524.47 345.7L524.53 363.1L524.59 345.2L524.65 363.1L524.71 345.2L524.78 362.6L524.84 345.2L524.9 362.6L524.96 342.9L525.03 362.6L525.09 340.2L525.15 362.6L525.21 339.8L525.27 362.6L525.34 336L525.4 357.4L525.46 336L525.52 353.5L525.59 332.3L525.65 353.5L525.71 329.3L525.77 353.5L525.83 327.7L525.9 351.3L525.96 326L526.02 351.3L526.08 326L526.15 348.4L526.21 322L526.27 342.3L526.33 322L526.39 342.3L526.46 313.9L526.52 342.3L526.58 311L526.64 342.3L526.71 307.8L526.77 337.9L526.83 302L526.89 332.6L526.95 298.3L527.02 324.4L527.08 298L527.14 322.2L527.2 298L527.27 322.2L527.33 298L527.39 318.8L527.45 298L527.51 320.8L527.58 298L527.64 320.8L527.7 300.8L527.76 323.6L527.83 302.4L527.89 323.9L527.95 305.3L528.01 327.6L528.08 309L528.14 330.6L528.2 310.1L528.26 336.6L528.32 312.5L528.39 336.7L528.45 312.5L528.51 336.7L528.57 317.7L528.64 341.2L528.7 321.2L528.76 346L528.82 323.5L528.88 347.3L528.95 329.7L529.01 347.5L529.07 329.7L529.13 350L529.2 334.3L529.26 350.1L529.32 339.2L529.38 350.1L529.44 337.2L529.51 350.1L529.57 337.2L529.63 351.1L529.69 337.2L529.76 357.2L529.82 337.2L529.88 359.2L529.94 337.2L530 360.7L530.07 337.7L530.13 363.4L530.19 344.1L530.25 363.4L530.32 347.1L530.38 363.4L530.44 344.7L530.5 363.4L530.56 344.7L530.63 363.4L530.69 342.9L530.75 360.1L530.81 341.5L530.88 354.3L530.94 341L531 354.3L531.06 341L531.12 351.6L531.19 341L531.25 351.2L531.31 334.6L531.37 350.8L531.44 334L531.5 350.8L531.56 334L531.62 350.8L531.68 334L531.75 350.8L531.81 333L531.87 346L531.93 331.7L532 346L532.06 328.1L532.12 345L532.18 325.6L532.24 343.7L532.31 325.6L532.37 343.7L532.43 324.5L532.49 341.8L532.56 317.5L532.62 339.8L532.68 310.8L532.74 337.4L532.8 310L532.87 336.5L532.93 307.4L532.99 335.6L533.05 307.4L533.12 332.4L533.18 307.4L533.24 328.6L533.3 307.4L533.36 332.4L533.43 307.4L533.49 334.9L533.55 307.4L533.61 337.7L533.68 309.4L533.74 337.7L533.8 313.6L533.86 337.7L533.92 315.8L533.99 338.7L534.05 323.5L534.11 343.9L534.17 324.4L534.24 346.2L534.3 324.4L534.36 346.2L534.42 327.9L534.48 350.9L534.55 331.1L534.61 350.9L534.67 334.1L534.73 358.1L534.8 334.8L534.86 359.8L534.92 334.8L534.98 359.8L535.04 334.9L535.11 359.8L535.17 338.4L535.23 359.8L535.29 344.6L535.36 362.7L535.42 344.6L535.48 362.7L535.54 344.6L535.61 362.7L535.67 346.2L535.73 362.7L535.79 346.6L535.85 362.7L535.92 344.8L535.98 362.4L536.04 344.8L536.1 362.4L536.17 344.8L536.23 362.4L536.29 343.7L536.35 358.5L536.41 339.2L536.48 357L536.54 339.1L536.6 355.8L536.66 337.5L536.73 355.2L536.79 336.8L536.85 355.2L536.91 336.8L536.97 352.6L537.04 334.7L537.1 352.6L537.16 334.5L537.22 352.1L537.29 334.5L537.35 352.1L537.41 334.5L537.47 352.1L537.53 334.5L537.6 348.4L537.66 333.9L537.72 348.4L537.78 329.6L537.85 348L537.91 322.2L537.97 347.4L538.03 319.4L538.09 344.2L538.16 319.4L538.22 340.3L538.28 315.1L538.34 338.9L538.41 311.8L538.47 336.1L538.53 309.6L538.59 336.1L538.65 308.3L538.72 336.1L538.78 305.9L538.84 330.6L538.9 299.4L538.97 325.9L539.03 299.4L539.09 323.1L539.15 299.4L539.21 323.1L539.28 299.4L539.34 327L539.4 299.4L539.46 332.4L539.53 299.4L539.59 336.1L539.65 300.8L539.71 336.7L539.77 309.3L539.84 336.7L539.9 316.1L539.96 337.6L540.02 318.6L540.09 339.7L540.15 323.5L540.21 343.1L540.27 323.5L540.33 347L540.4 323.5L540.46 348.4L540.52 326.6L540.58 350.6L540.65 326.6L540.71 355.6L540.77 327.4L540.83 356.9L540.89 334.3L540.96 356.9L541.02 337.9L541.08 356.9L541.14 338.6L541.21 356.9L541.27 341.5L541.33 357.2L541.39 343L541.45 362.4L541.52 343.3L541.58 363.4L541.64 343.3L541.7 363.4L541.77 343.3L541.83 363.4L541.89 345.7L541.95 363.4L542.01 348.6L542.08 363.4L542.14 347L542.2 363.4L542.26 347L542.33 362.2L542.39 346.2L542.45 361L542.51 345.7L542.57 359.7L542.64 345.7L542.7 359.7L542.76 345.2L542.82 359.7L542.89 342.9L542.95 354.9L543.01 342.6L543.07 355.2L543.13 342.6L543.2 355.2L543.26 340.6L543.32 355.2L543.38 334.2L543.45 355.2L543.51 333.2L543.57 355.2L543.63 329.9L543.7 355.2L543.76 328.4L543.82 349.3L543.88 324.2L543.94 346L544.01 322.1L544.07 342.8L544.13 322.1L544.19 342.8L544.26 317.4L544.32 340.3L544.38 314.1L544.44 334.1L544.5 314L544.57 333.2L544.63 312.7L544.69 333.2L544.75 312.7L544.82 330.7L544.88 312.7L544.94 332.5L545 312.7L545.06 333.9L545.13 312.7L545.19 333.9L545.25 312.7L545.31 340.1L545.38 317.9L545.44 340.1L545.5 321.8L545.56 340.1L545.62 323.7L545.69 340.1L545.75 323.7L545.81 343L545.87 331.5L545.94 349L546 331.5L546.06 351.7L546.12 331.5L546.18 351.7L546.25 334.5L546.31 351.7L546.37 336.3L546.43 351.7L546.5 343.2L546.56 351.7L546.62 344L546.68 351.7L546.74 344L546.81 353.8L546.87 344L546.93 353.8L546.99 345.1L547.06 353.8L547.12 345.1L547.18 353.8L547.24 345.1L547.3 353.8L547.37 345.1L547.43 353.8L547.49 345.1L547.55 357.7L547.62 345.4L547.68 359.9L547.74 347.1L547.8 360.9L547.86 348.5L547.93 363.4L547.99 349.7L548.05 363.4L548.11 351L548.18 363.4L548.24 351L548.3 363.4L548.36 351L548.42 363.4L548.49 351L548.55 361.1L548.61 350.3L548.67 357.3L548.74 347.4L548.8 357.3L548.86 347.4L548.92 353.4L548.98 345.9L549.05 353.4L549.11 345L549.17 353.4L549.23 343.2L549.3 353.4L549.36 340.2L549.42 353.4L549.48 339.3L549.54 351.8L549.61 339.3L549.67 351.8L549.73 339.3L549.79 347.9L549.86 334.6L549.92 347.9L549.98 331.7L550.04 347.9L550.1 331.7L550.17 347.9L550.23 331.7L550.29 347.3L550.35 331.7L550.42 346.1L550.48 324.2L550.54 344.8L550.6 322.3L550.66 344.8L550.73 321.1L550.79 344.8L550.85 320L550.91 339.8L550.98 318.7L551.04 338.4L551.1 313.1L551.16 335.1L551.23 312.7L551.29 332.3L551.35 312.7L551.41 334.8L551.47 312.7L551.54 335.7L551.6 312.7L551.66 340.9L551.72 312.7L551.79 341.8L551.85 312.7L551.91 341.8L551.97 321.1L552.03 341.8L552.1 321.1L552.16 342.7L552.22 324.4L552.28 347L552.35 328.2L552.41 348.3L552.47 328.2L552.53 353.9L552.59 328.2L552.66 353.9L552.72 328.2L552.78 354.9L552.84 334.4L552.91 358.2L552.97 338.7L553.03 360.8L553.09 340.1L553.15 361.8L553.22 340.1L553.28 361.9L553.34 342.1L553.4 363.4L553.47 351.1L553.53 364L553.59 351.6L553.65 365.6L553.71 351.6L553.78 365.6L553.84 351.6L553.9 365.6L553.96 351.6L554.03 365.6L554.09 351.6L554.15 365.6L554.21 351.7L554.27 364.5L554.34 351.7L554.4 364.5L554.46 349L554.52 364.5L554.59 349L554.65 364.5L554.71 349L554.77 364.5L554.83 348.3L554.9 363.6L554.96 345.5L555.02 361.5L555.08 345.5L555.15 361.5L555.21 345.1L555.27 361.5L555.33 342.3L555.39 361.5L555.46 338L555.52 361.5L555.58 335.8L555.64 358.1L555.71 332.9L555.77 356L555.83 329.6L555.89 351.1L555.95 329.1L556.02 347.2L556.08 323L556.14 346.5L556.2 320.2L556.27 341.9L556.33 314.1L556.39 341.9L556.45 314.1L556.51 340.9L556.58 313.4L556.64 335.7L556.7 313.1L556.76 331.5L556.83 313.1L556.89 334.1L556.95 313.1L557.01 334.7L557.07 313.1L557.14 337.3L557.2 313.1L557.26 338.8L557.32 313.1L557.39 339L557.45 317.6L557.51 342.4L557.57 319.2L557.63 343.1L557.7 323.2L557.76 343.1L557.82 327.7L557.88 343.1L557.95 327.7L558.01 344.1L558.07 329.4L558.13 344.1L558.19 329.4L558.26 344.2L558.32 329.4L558.38 349.8L558.44 331L558.51 352.4L558.57 331L558.63 353.1L558.69 332.3L558.76 354L558.82 333.3L558.88 357.6L558.94 336.7L559 360L559.07 343L559.13 360L559.19 343L559.25 360L559.32 344L559.38 363.3L559.44 348.9L559.5 363.3L559.56 348.9L559.63 364.4L559.69 348.9L559.75 364.4L559.81 351.4L559.88 364.4L559.94 351.4L560 364.4L560.06 349.8L560.12 364.4L560.19 347.4L560.25 364.4L560.31 345.1L560.37 363.8L560.44 341.4L560.5 363.8L560.56 341.4L560.62 361.4L560.68 341.4L560.75 355L560.81 337.2L560.87 354.9L560.93 334.5L561 354L561.06 334.2L561.12 348.5L561.18 332L561.24 346.7L561.31 328.1L561.37 346.7L561.43 325.4L561.49 346.7L561.56 321.9L561.62 343.6L561.68 318.6L561.74 340L561.8 316.4L561.87 335L561.93 314.8L561.99 333.5L562.05 314.1L562.12 333.5L562.18 308L562.24 327.9L562.3 302.4L562.36 327.3L562.43 299.3L562.49 326.5L562.55 299.3L562.61 326.4L562.68 299.3L562.74 326.4L562.8 299.3L562.86 328.5L562.92 299.3L562.99 333.5L563.05 305L563.11 333.5L563.17 310.7L563.24 337L563.3 316.5L563.36 337L563.42 317.6L563.48 337L563.55 319.4L563.61 340.4L563.67 323.5L563.73 340.9L563.8 326L563.86 347.2L563.92 330.5L563.98 347.2L564.04 331.4L564.11 348.2L564.17 332L564.23 350.7L564.29 332L564.36 351.1L564.42 333.8L564.48 354L564.54 337.5L564.6 354.6L564.67 337.6L564.73 357.6L564.79 341.5L564.85 362.7L564.92 343L564.98 362.7L565.04 343.2L565.1 362.7L565.16 343.2L565.23 362.7L565.29 347.3L565.35 362.7L565.41 348.1L565.48 362.7L565.54 348.1L565.6 361.6L565.66 347.9L565.72 361.6L565.79 347.7L565.85 361.6L565.91 347.4L565.97 361.6L566.04 343.7L566.1 361.6L566.16 343.7L566.22 359.4L566.29 343.7L566.35 357.2L566.41 343.7L566.47 357.2L566.53 343.7L566.6 355.4L566.66 344.7L566.72 355.4L566.78 341.8L566.85 354.5L566.91 339.9L566.97 354.5L567.03 339.9L567.09 353.9L567.16 336.7L567.22 353L567.28 336.7L567.34 349.9L567.41 334L567.47 349.9L567.53 330.6L567.59 349.9L567.65 328.9L567.72 347.8L567.78 324.6L567.84 347.8L567.9 323.8L567.97 347.8L568.03 322.2L568.09 344.5L568.15 315L568.21 340.4L568.28 309L568.34 340.4L568.4 309L568.46 334.9L568.53 307.9L568.59 334.9L568.65 303.8L568.71 332L568.77 303.8L568.84 324.8L568.9 303.8L568.96 323.8L569.02 303.8L569.09 323.8L569.15 303.8L569.21 321.2L569.27 303.9L569.33 321.2L569.4 305L569.46 324.5L569.52 305L569.58 327.9L569.65 308.6L569.71 330.1L569.77 308.6L569.83 335.1L569.89 310.8L569.96 337.4L570.02 312.2L570.08 337.4L570.14 318.2L570.21 342L570.27 321.9L570.33 342L570.39 323.5L570.45 343.6L570.52 325.4L570.58 347.4L570.64 331.5L570.7 351.2L570.77 331.5L570.83 351.2L570.89 332.7L570.95 353.5L571.01 333.5L571.08 358.2L571.14 337L571.2 358.2L571.26 340.4L571.33 358.2L571.39 341.5L571.45 360.1L571.51 345.1L571.57 362.7L571.64 347.3L571.7 362.7L571.76 351.1L571.82 362.7L571.89 349.3L571.95 362.7L572.01 348.3L572.07 362.7L572.13 347.1L572.2 362.5L572.26 345.9L572.32 359.2L572.38 345.7L572.45 356.8L572.51 341.4L572.57 356.7L572.63 341.4L572.69 354.4L572.76 341.4L572.82 354.4L572.88 341.4L572.94 354.2L573.01 341.4L573.07 354.2L573.13 340.8L573.19 354.2L573.25 340.2L573.32 354.2L573.38 338.6L573.44 352.5L573.5 337L573.57 351L573.63 334.6L573.69 347.3L573.75 330.7L573.82 347.3L573.88 330.7L573.94 347.3L574 330.3L574.06 347.3L574.13 328L574.19 341.5L574.25 325.6L574.31 335.2L574.38 321.1L574.44 335.2L574.5 316.5L574.56 335.2L574.62 313.6L574.69 334.9L574.75 304.5L574.81 331L574.87 299.4L574.94 327.3L575 299.4L575.06 322L575.12 299.4L575.18 320.8L575.25 299.4L575.31 328L575.37 299.4L575.43 328.3L575.5 299.4L575.56 333.9L575.62 303.6L575.68 337.5L575.74 310.2L575.81 337.5L575.87 320.2L575.93 337.5L575.99 324.8L576.06 337.8L576.12 325.6L576.18 341.9L576.24 326.5L576.3 346.8L576.37 326.5L576.43 346.8L576.49 326.5L576.55 352.3L576.62 328L576.68 353L576.74 335.7L576.8 354L576.86 336.2L576.93 354L576.99 336.2L577.05 355.3L577.11 341.6L577.18 357.6L577.24 344L577.3 362L577.36 344L577.42 362L577.49 344L577.55 362L577.61 347.7L577.67 364.4L577.74 349.9L577.8 364.4L577.86 347.7L577.92 364.4L577.98 346.2L578.05 364.4L578.11 344L578.17 364.4L578.23 343.3L578.3 364.4L578.36 341.1L578.42 363.2L578.48 340.5L578.54 357.1L578.61 338.8L578.67 353.6L578.73 338.8L578.79 353.6L578.86 338.8L578.92 353.6L578.98 336.9L579.04 353.6L579.1 336.9L579.17 349.2L579.23 336.9L579.29 348.4L579.35 331.2L579.42 347.7L579.48 329.4L579.54 347.3L579.6 325.8L579.66 347.3L579.73 321.2L579.79 347.3L579.85 320.4L579.91 342.4L579.98 320.1L580.04 342.2L580.1 319.1L580.16 340L580.22 319.1L580.29 336.2L580.35 314.8L580.41 335.6L580.47 307L580.54 335.6L580.6 300.4L580.66 330.4L580.72 298.7L580.78 329.6L580.85 298.7L580.91 324.7L580.97 298.7L581.03 324.1L581.1 298.7L581.16 319.7L581.22 298.7L581.28 325.3L581.34 299.7L581.41 327.6L581.47 301.3L581.53 334.1L581.59 301.3L581.66 334.1L581.72 308L581.78 335.1L581.84 312.9L581.91 340.3L581.97 315L582.03 344.6L582.09 316.3L582.15 344.7L582.22 325.2L582.28 346.2L582.34 325.2L582.4 349.1L582.47 329.1L582.53 354.2L582.59 334.1L582.65 354.2L582.71 334.1L582.78 354.2L582.84 335.6L582.9 355.3L582.96 338.8L583.03 355.3L583.09 341.3L583.15 356.9L583.21 345.3L583.27 356.9L583.34 345.3L583.4 359.9L583.46 346.9L583.52 362.1L583.59 347L583.65 363.4L583.71 348L583.77 363.4L583.83 349.2L583.9 363.4L583.96 353.2L584.02 363.4L584.08 350.3L584.15 363.4L584.21 349.8L584.27 361.4L584.33 349.8L584.39 363.2L584.46 349.8L584.52 363.2L584.58 345.5L584.64 363.2L584.71 344.3L584.77 363.2L584.83 342.8L584.89 363.2L584.95 336.9L585.02 363.2L585.08 336.9L585.14 355.3L585.2 335.7L585.27 352.3L585.33 334L585.39 351.9L585.45 333.1L585.51 349L585.58 327.6L585.64 345.3L585.7 327.6L585.76 344.5L585.83 326.7L585.89 344.1L585.95 325.1L586.01 343.9L586.07 324.7L586.14 341.4L586.2 324L586.26 341.4L586.32 314.3L586.39 341.4L586.45 313.1L586.51 341.4L586.57 307.8L586.63 338.6L586.7 307.6L586.76 335.9L586.82 306.7L586.88 332L586.95 303.3L587.01 324.7L587.07 303.3L587.13 326.3L587.19 303.3L587.26 328.3L587.32 303.3L587.38 330.1L587.44 303.3L587.51 330.1L587.57 308L587.63 330.1L587.69 312.2L587.75 336.3L587.82 313.2L587.88 336.3L587.94 313.2L588 341.5L588.07 313.8L588.13 341.6L588.19 317.8L588.25 344L588.31 320L588.38 345.4L588.44 322.3L588.5 351L588.56 329.6L588.63 351L588.69 329.6L588.75 353.6L588.81 331.9L588.87 355.9L588.94 335.9L589 358.5L589.06 339.9L589.12 360.1L589.19 339.9L589.25 360.2L589.31 342.4L589.37 362.9L589.44 347.3L589.5 366L589.56 347.3L589.62 366L589.68 352.3L589.75 366L589.81 353.1L589.87 366L589.93 353.1L590 366L590.06 353.1L590.12 366L590.18 351.5L590.24 363.9L590.31 351.4L590.37 363.9L590.43 350.8L590.49 363.5L590.56 349.2L590.62 363.5L590.68 346L590.74 361.6L590.8 346L590.87 361.2L590.93 343.2L590.99 361.2L591.05 343.2L591.12 361.2L591.18 341.7L591.24 361.2L591.3 333.2L591.36 361.2L591.43 331.6L591.49 356.1L591.55 331.6L591.61 350.3L591.68 331.4L591.74 349.4L591.8 330.4L591.86 347.7L591.92 328.1L591.99 347.7L592.05 325.4L592.11 347.7L592.17 316.8L592.24 343.1L592.3 308.5L592.36 342.7L592.42 304.2L592.48 339.7L592.55 301.9L592.61 338.9L592.67 293.7L592.73 329.1L592.8 293.7L592.86 324.5L592.92 293.7L592.98 317.6L593.04 293.7L593.11 323.1L593.17 293.7L593.23 327.6L593.29 293.7L593.36 333.9L593.42 293.9L593.48 333.9L593.54 300.6L593.6 333.9L593.67 308.2L593.73 336.3L593.79 312.7L593.85 336.3L593.92 318.3L593.98 342.3L594.04 318.3L594.1 342.3L594.16 321.9L594.23 342.4L594.29 324.4L594.35 344.2L594.41 327.6L594.48 348L594.54 329.8L594.6 353.8L594.66 329.8L594.72 355.1L594.79 329.8L594.85 355.8L594.91 334L594.97 355.8L595.04 336.6L595.1 355.8L595.16 341.1L595.22 355.8L595.28 344.6L595.35 358.4L595.41 344.7L595.47 359.6L595.53 344.7L595.6 361.6L595.66 344.7L595.72 361.6L595.78 347.8L595.84 361.6L595.91 347.8L595.97 366L596.03 348.9L596.09 366L596.16 348.9L596.22 366L596.28 348.9L596.34 366L596.4 351.3L596.47 366L596.53 348.4L596.59 364.9L596.65 347.8L596.72 364.9L596.78 347.8L596.84 361L596.9 344L596.97 361L597.03 342.9L597.09 359.9L597.15 342.5L597.21 359.9L597.28 340L597.34 359.9L597.4 334.1L597.46 356.9L597.53 332.7L597.59 352.4L597.65 325.3L597.71 350.3L597.77 323.7L597.84 349.2L597.9 322.3L597.96 346.4L598.02 318.3L598.09 339.5L598.15 314.8L598.21 338.1L598.27 310.3L598.33 335.9L598.4 309.9L598.46 335L598.52 309.3L598.58 333.7L598.65 306.8L598.71 331L598.77 302.9L598.83 324.3L598.89 302.9L598.96 327.1L599.02 302.9L599.08 327.1L599.14 302.9L599.21 331.2L599.27 302.9L599.33 333.2L599.39 305.1L599.45 335.4L599.52 311.1L599.58 343L599.64 312.4L599.7 343L599.77 317L599.83 344.3L599.89 322.3L599.95 344.3L600.01 323.9L600.08 344.6L600.14 328L600.2 345.9L600.26 328.8L600.33 348.7L600.39 330.4L600.45 358.9L600.51 332L600.57 358.9L600.64 335.3L600.7 365.3L600.76 335.8L600.82 365.3L600.89 337.2L600.95 365.3L601.01 348.2L601.07 365.3L601.13 350.3L601.2 365.3L601.26 350.3L601.32 365.3L601.38 350.3L601.45 362.3L601.51 350.3L601.57 363.9L601.63 350.3L601.69 363.9L601.76 351.5L601.82 363.9L601.88 347.4L601.94 363.9L602.01 347.2L602.07 363.9L602.13 347.2L602.19 363.9L602.25 345.1L602.32 361L602.38 345.1L602.44 358.3L602.5 345.1L602.57 358.2L602.63 343.5L602.69 358.2L602.75 343.5L602.81 356.4L602.88 342.7L602.94 355.2L603 342.7L603.06 355.2L603.13 342.4L603.19 355.2L603.25 342.4L603.31 355.2L603.37 340L603.44 355.2L603.5 335.5L603.56 355.2L603.62 333.4L603.69 354L603.75 331.9L603.81 354L603.87 325.6L603.93 347.9L604 319.5L604.06 345.7L604.12 319.5L604.18 344.4L604.25 319.5L604.31 343.2L604.37 316.9L604.43 337.9L604.5 313.6L604.56 334.8L604.62 312L604.68 334.8L604.74 312L604.81 333.3L604.87 312L604.93 331L604.99 312L605.06 332.3L605.12 312L605.18 332.3L605.24 312L605.3 333.8L605.37 312.6L605.43 333.8L605.49 314.1L605.55 336.2L605.62 314.5L605.68 339.2L605.74 317.2L605.8 340.2L605.86 322L605.93 343L605.99 323.8L606.05 344.9L606.11 324.2L606.18 347.9L606.24 328.5L606.3 349.8L606.36 329.9L606.42 354.6L606.49 334.1L606.55 355.4L606.61 335.1L606.67 358.1L606.74 335.1L606.8 359.4L606.86 338.4L606.92 360.1L606.98 344.7L607.05 361.5L607.11 345.3L607.17 361.9L607.23 349.2L607.3 361.9L607.36 352.9L607.42 362.7L607.48 352.9L607.54 362.7L607.61 351.3L607.67 362.7L607.73 343L607.79 362.7L607.86 343L607.92 362.7L607.98 343L608.04 360.1L608.1 343L608.17 356.4L608.23 343L608.29 356.4L608.35 343L608.42 356.4L608.48 343.9L608.54 356.4L608.6 341.1L608.66 355L608.73 336.2L608.79 353.8L608.85 329.1L608.91 353.8L608.98 322.6L609.04 346.4L609.1 322.6L609.16 346.4L609.22 322.6L609.29 345.7L609.35 322.6L609.41 341.6L609.47 317.4L609.54 341.6L609.6 313.9L609.66 335.7L609.72 307.4L609.78 335.6L609.85 297.9L609.91 334.3L609.97 297.9L610.03 331.8L610.1 297.9L610.16 326.6L610.22 297.9L610.28 321.7L610.34 297.9L610.41 323.9L610.47 297.9L610.53 325.2L610.59 298.7L610.66 330.8L610.72 302.4L610.78 331.2L610.84 306L610.9 333.9L610.97 306.9L611.03 339.3L611.09 312.4L611.15 339.3L611.22 316L611.28 344.2L611.34 319.9L611.4 344.2L611.46 322.9L611.53 346.2L611.59 323.8L611.65 346.2L611.71 326.9L611.78 346.2L611.84 327.6L611.9 346.2L611.96 327.6L612.02 346.2L612.09 333.2L612.15 348.4L612.21 333.2L612.27 352.4L612.34 333.2L612.4 352.4L612.46 333.2L612.52 352.4L612.59 333.2L612.65 352.4L612.71 335.3L612.77 354L612.83 340.8L612.9 357.2L612.96 340.8L613.02 357.2L613.08 340.8L613.15 358.3L613.21 340.8L613.27 362.7L613.33 343.1L613.39 362.7L613.46 345.5L613.52 362.7L613.58 346.4L613.64 362.7L613.71 347.5L613.77 362.7L613.83 347.4L613.89 362.7L613.95 347.4L614.02 360.5L614.08 347.4L614.14 360.5L614.2 347.4L614.27 358.7L614.33 341.9L614.39 358.7L614.45 335L614.51 357.9L614.58 332.7L614.64 357.4L614.7 332.7L614.76 357.4L614.83 332.7L614.89 356.1L614.95 332.7L615.01 348.1L615.07 332.7L615.14 348.1L615.2 327.3L615.26 348.1L615.32 327.3L615.39 348.1L615.45 327.3L615.51 345.6L615.57 325.8L615.63 343.6L615.7 321.3L615.76 340.4L615.82 317.1L615.88 340.4L615.95 308.9L616.01 338.2L616.07 306.2L616.13 334.9L616.19 306.2L616.26 328.5L616.32 306.2L616.38 322.4L616.44 306.2L616.51 324.1L616.57 306.2L616.63 328.5L616.69 306.2L616.75 331.2L616.82 309.5L616.88 337.4L616.94 314.2L617 340.6L617.07 314.2L617.13 344.4L617.19 322L617.25 348.4L617.31 323.8L617.38 352.7L617.44 330.8L617.5 353.2L617.56 331.4L617.63 357.3L617.69 334.2L617.75 357.3L617.81 339.8L617.87 357.4L617.94 343.4L618 359.9L618.06 345.8L618.12 360L618.19 345.5L618.25 360L618.31 345.5L618.37 360L618.43 345.5L618.5 360L618.56 345.5L618.62 360L618.68 345.5L618.75 360L618.81 345.5L618.87 359.8L618.93 345.7L618.99 359.8L619.06 345.7L619.12 364L619.18 345.7L619.24 364.8L619.31 345.7L619.37 365.3L619.43 346.3L619.49 365.3L619.55 346.4L619.62 365.3L619.68 347.9L619.74 365.3L619.8 347.2L619.87 365.3L619.93 347.2L619.99 361.1L620.05 347.2L620.12 361.1L620.18 347.2L620.24 361.1L620.3 347.2L620.36 364.5L620.43 347.2L620.49 364.5L620.55 348.9L620.61 364.5L620.68 346.3L620.74 364.5L620.8 346.3L620.86 364.5L620.92 343.6L620.99 364.5L621.05 343.6L621.11 360.1L621.17 343.6L621.24 358.5L621.3 337.1L621.36 356.8L621.42 333.2L621.48 356.8L621.55 333.2L621.61 356.7L621.67 332.3L621.73 355.8L621.8 325.7L621.86 349.8L621.92 325.7L621.98 343.1L622.04 325.7L622.11 342.8L622.17 324.2L622.23 337.6L622.29 321.3L622.36 337.2L622.42 318.2L622.48 335.3L622.54 318.2L622.6 331L622.67 318.2L622.73 328.7L622.79 318.2L622.85 328.7L622.92 318.2L622.98 328.7" clip-path="url(#p51c851bd94)" style="fill: none; stroke: #1f77b4; stroke-width: 1.85; stroke-linecap: square"/>
   </g>
   <g id="patch_13">
    <path d="M90.36 374.04L90.36 289.08" style="fill: none; stroke: #000000; stroke-width: 0.8; stroke-linecap: square"/>
   </g>
   <g id="patch_14">
    <path d="M648.36 374.04L648.36 289.08" style="fill: none; stroke: #000000; stroke-width: 0.8; stroke-linecap: square"/>
   </g>
   <g id="patch_15">
    <path d="M90.36 374.04L648.36 374.04" style="fill: none; stroke: #000000; stroke-width: 0.8; stroke-linecap: square"/>
   </g>
   <g id="patch_16">
    <path d="M90.36 289.08L648.36 289.08" style="fill: none; stroke: #000000; stroke-width: 0.8; stroke-linecap: square"/>
   </g>
  </g>
  <g id="axes_4">
   <g id="patch_17">
    <path d="M 90 474.703448 
L 648 474.703448 
L 648 390.289655 
L 90 390.289655 
z
" style="fill: #ffffff"/>
   </g>
   <g id="matplotlib.axis_7">
    <g id="xtick_28">
     <g id="line2d_35">
      <g>
       <use href="#mb9af4d5690" x="145.8" y="474.84" style="stroke: #000000; stroke-width: 0.8"/>
      </g>
     </g>
     <g id="text_39">
      <text style="font-size: 10px; font-family: 'DejaVu Sans', 'Liberation Sans', sans-serif" transform="translate(122.393771 501.588888) rotate(-30)">2020</text>
     </g>
    </g>
    <g id="xtick_29">
     <g id="line2d_36">
      <g>
       <use href="#mb9af4d5690" x="205.56" y="474.84" style="stroke: #000000; stroke-width: 0.8"/>
      </g>
     </g>
     <g id="text_40">
      <text style="font-size: 10px; font-family: 'DejaVu Sans', 'Liberation Sans', sans-serif" transform="translate(182.123892 501.588888) rotate(-30)">2030</text>
     </g>
    </g>
    <g id="xtick_30">
     <g id="line2d_37">
      <g>
       <use href="#mb9af4d5690" x="265.32" y="474.84" style="stroke: #000000; stroke-width: 0.8"/>
      </g>
     </g>
     <g id="text_41">
      <text style="font-size: 10px; font-family: 'DejaVu Sans', 'Liberation Sans', sans-serif" transform="translate(241.837662 501.588888) rotate(-30)">2040</text>
     </g>
    </g>
    <g id="xtick_31">
     <g id="line2d_38">
      <g>
       <use href="#mb9af4d5690" x="325.08" y="474.84" style="stroke: #000000; stroke-width: 0.8"/>
      </g>
     </g>
     <g id="text_42">
      <text style="font-size: 10px; font-family: 'DejaVu Sans', 'Liberation Sans', sans-serif" transform="translate(301.567783 501.588888) rotate(-30)">2050</text>
     </g>
    </g>
    <g id="xtick_32">
     <g id="line2d_39">
      <g>
       <use href="#mb9af4d5690" x="384.84" y="474.84" style="stroke: #000000; stroke-width: 0.8"/>
      </g>
     </g>
     <g id="text_43">
      <text style="font-size: 10px; font-family: 'DejaVu Sans', 'Liberation Sans', sans-serif" transform="translate(361.281553 501.588888) rotate(-30)">2060</text>
     </g>
    </g>
    <g id="xtick_33">
     <g id="line2d_40">
      <g>
       <use href="#mb9af4d5690" x="444.6" y="474.84" style="stroke: #000000; stroke-width: 0.8"/>
      </g>
     </g>
     <g id="text_44">
      <text style="font-size: 10px; font-family: 'DejaVu Sans', 'Liberation Sans', sans-serif" transform="translate(421.011674 501.588888) rotate(-30)">2070</text>
     </g>
    </g>
    <g id="xtick_34">
     <g id="line2d_41">
      <g>
       <use href="#mb9af4d5690" x="504.36" y="474.84" style="stroke: #000000; stroke-width: 0.8"/>
      </g>
     </g>
     <g id="text_45">
      <text style="font-size: 10px; font-family: 'DejaVu Sans', 'Liberation Sans', sans-serif" transform="translate(480.725444 501.588888) rotate(-30)">2080</text>
     </g>
    </g>
    <g id="xtick_35">
     <g id="line2d_42">
      <g>
       <use href="#mb9af4d5690" x="564.12" y="474.84" style="stroke: #000000; stroke-width: 0.8"/>
      </g>
     </g>
     <g id="text_46">
      <text style="font-size: 10px; font-family: 'DejaVu Sans', 'Liberation Sans', sans-serif" transform="translate(540.455565 501.588888) rotate(-30)">2090</text>
     </g>
    </g>
    <g id="xtick_36">
     <g id="line2d_43">
      <g>
       <use href="#mb9af4d5690" x="623.88" y="474.84" style="stroke: #000000; stroke-width: 0.8"/>
      </g>
     </g>
     <g id="text_47">
      <text style="font-size: 10px; font-family: 'DejaVu Sans', 'Liberation Sans', sans-serif" transform="translate(600.169335 501.588888) rotate(-30)">2100</text>
     </g>
    </g>
   </g>
   <g id="matplotlib.axis_8">
    <g id="ytick_8">
     <g id="line2d_44">
      <g>
       <use href="#mb0a17fd25a" x="90.36" y="469.08" style="stroke: #000000; stroke-width: 0.8"/>
      </g>
     </g>
     <g id="text_48">
      <text style="font-size: 10px; font-family: 'DejaVu Sans', 'Liberation Sans', sans-serif; text-anchor: end" x="83" y="472.340228" transform="rotate(-0 83 472.340228)">40</text>
     </g>
    </g>
    <g id="ytick_9">
     <g id="line2d_45">
      <g>
       <use href="#mb0a17fd25a" x="90.36" y="445.32" style="stroke: #000000; stroke-width: 0.8"/>
      </g>
     </g>
     <g id="text_49">
      <text style="font-size: 10px; font-family: 'DejaVu Sans', 'Liberation Sans', sans-serif; text-anchor: end" x="83" y="449.085739" transform="rotate(-0 83 449.085739)">50</text>
     </g>
    </g>
    <g id="ytick_10">
     <g id="line2d_46">
      <g>
       <use href="#mb0a17fd25a" x="90.36" y="422.28" style="stroke: #000000; stroke-width: 0.8"/>
      </g>
     </g>
     <g id="text_50">
      <text style="font-size: 10px; font-family: 'DejaVu Sans', 'Liberation Sans', sans-serif; text-anchor: end" x="83" y="425.831251" transform="rotate(-0 83 425.831251)">60</text>
     </g>
    </g>
    <g id="ytick_11">
     <g id="line2d_47">
      <g>
       <use href="#mb0a17fd25a" x="90.36" y="399.24" style="stroke: #000000; stroke-width: 0.8"/>
      </g>
     </g>
     <g id="text_51">
      <text style="font-size: 10px; font-family: 'DejaVu Sans', 'Liberation Sans', sans-serif; text-anchor: end" x="83" y="402.576762" transform="rotate(-0 83 402.576762)">70</text>
     </g>
    </g>
    <g id="text_52">
     <text style="font-size: 10px; font-family: 'DejaVu Sans', 'Liberation Sans', sans-serif; text-anchor: middle" x="64.195312" y="432.496552" transform="translate(-0.5 1.08) rotate(-90 64.195312 432.496552)">nummasked</text>
    </g>
    <g id="text_53">
     <text style="font-size: 10px; font-family: 'DejaVu Sans', 'Liberation Sans', sans-serif; text-anchor: start" x="90" y="387.289655" transform="rotate(-0 90 387.289655)">+4.732e5</text>
    </g>
   </g>
   <g id="line2d_48">
    <path d="M 115.363636 470.866458 
L 121.397147 470.866458 
L 121.397147 394.126646 
L 622.636364 394.126646 
" clip-path="url(#pa0b97d15a9)" style="fill: none; stroke: #1f77b4; stroke-width: 1.5; stroke-linecap: square"/>
   </g>
   <g id="patch_18">
    <path d="M90.36 474.84L90.36 390.6" style="fill: none; stroke: #000000; stroke-width: 0.8; stroke-linecap: square"/>
   </g>
   <g id="patch_19">
    <path d="M648.36 474.84L648.36 390.6" style="fill: none; stroke: #000000; stroke-width: 0.8; stroke-linecap: square"/>
   </g>
   <g id="patch_20">
    <path d="M90.36 474.84L648.36 474.84" style="fill: none; stroke: #000000; stroke-width: 0.8; stroke-linecap: square"/>
   </g>
   <g id="patch_21">
    <path d="M90.36 390.6L648.36 390.6" style="fill: none; stroke: #000000; stroke-width: 0.8; stroke-linecap: square"/>
   </g>
  </g>
  <g id="axes_5">
   <g id="patch_22">
    <path d="M 90 576 
L 648 576 
L 648 491.586207 
L 90 491.586207 
z
" style="fill: #ffffff"/>
   </g>
   <g id="matplotlib.axis_9">
    <g id="xtick_37">
     <g id="line2d_49">
      <g>
       <use href="#mb9af4d5690" x="145.8" y="576.36" style="stroke: #000000; stroke-width: 0.8"/>
      </g>
     </g>
     <g id="text_54">
      <text style="font-size: 10px; font-family: 'DejaVu Sans', 'Liberation Sans', sans-serif" transform="translate(122.393771 602.885440) rotate(-30)">2020</text>
     </g>
    </g>
    <g id="xtick_38">
     <g id="line2d_50">
      <g>
       <use href="#mb9af4d5690" x="205.56" y="576.36" style="stroke: #000000; stroke-width: 0.8"/>
      </g>
     </g>
     <g id="text_55">
      <text style="font-size: 10px; font-family: 'DejaVu Sans', 'Liberation Sans', sans-serif" transform="translate(182.123892 602.885440) rotate(-30)">2030</text>
     </g>
    </g>
    <g id="xtick_39">
     <g id="line2d_51">
      <g>
       <use href="#mb9af4d5690" x="265.32" y="576.36" style="stroke: #000000; stroke-width: 0.8"/>
      </g>
     </g>
     <g id="text_56">
      <text style="font-size: 10px; font-family: 'DejaVu Sans', 'Liberation Sans', sans-serif" transform="translate(241.837662 602.885440) rotate(-30)">2040</text>
     </g>
    </g>
    <g id="xtick_40">
     <g id="line2d_52">
      <g>
       <use href="#mb9af4d5690" x="325.08" y="576.36" style="stroke: #000000; stroke-width: 0.8"/>
      </g>
     </g>
     <g id="text_57">
      <text style="font-size: 10px; font-family: 'DejaVu Sans', 'Liberation Sans', sans-serif" transform="translate(301.567783 602.885440) rotate(-30)">2050</text>
     </g>
    </g>
    <g id="xtick_41">
     <g id="line2d_53">
      <g>
       <use href="#mb9af4d5690" x="384.84" y="576.36" style="stroke: #000000; stroke-width: 0.8"/>
      </g>
     </g>
     <g id="text_58">
      <text style="font-size: 10px; font-family: 'DejaVu Sans', 'Liberation Sans', sans-serif" transform="translate(361.281553 602.885440) rotate(-30)">2060</text>
     </g>
    </g>
    <g id="xtick_42">
     <g id="line2d_54">
      <g>
       <use href="#mb9af4d5690" x="444.6" y="576.36" style="stroke: #000000; stroke-width: 0.8"/>
      </g>
     </g>
     <g id="text_59">
      <text style="font-size: 10px; font-family: 'DejaVu Sans', 'Liberation Sans', sans-serif" transform="translate(421.011674 602.885440) rotate(-30)">2070</text>
     </g>
    </g>
    <g id="xtick_43">
     <g id="line2d_55">
      <g>
       <use href="#mb9af4d5690" x="504.36" y="576.36" style="stroke: #000000; stroke-width: 0.8"/>
      </g>
     </g>
     <g id="text_60">
      <text style="font-size: 10px; font-family: 'DejaVu Sans', 'Liberation Sans', sans-serif" transform="translate(480.725444 602.885440) rotate(-30)">2080</text>
     </g>
    </g>
    <g id="xtick_44">
     <g id="line2d_56">
      <g>
       <use href="#mb9af4d5690" x="564.12" y="576.36" style="stroke: #000000; stroke-width: 0.8"/>
      </g>
     </g>
     <g id="text_61">
      <text style="font-size: 10px; font-family: 'DejaVu Sans', 'Liberation Sans', sans-serif" transform="translate(540.455565 602.885440) rotate(-30)">2090</text>
     </g>
    </g>
    <g id="xtick_45">
     <g id="line2d_57">
      <g>
       <use href="#mb9af4d5690" x="623.88" y="576.36" style="stroke: #000000; stroke-width: 0.8"/>
      </g>
     </g>
     <g id="text_62">
      <text style="font-size: 10px; font-family: 'DejaVu Sans', 'Liberation Sans', sans-serif" transform="translate(600.169335 602.885440) rotate(-30)">2100</text>
     </g>
    </g>
    <g id="text_63">
     <text style="font-size: 10px; font-family: 'DejaVu Sans', 'Liberation Sans', sans-serif; text-anchor: middle" x="369" y="616.564940" transform="rotate(-0 369 616.564940)">validtime</text>
    </g>
   </g>
   <g id="matplotlib.axis_10">
    <g id="ytick_12">
     <g id="line2d_58">
      <g>
       <use href="#mb0a17fd25a" x="90.36" y="572.76" style="stroke: #000000; stroke-width: 0.8"/>
      </g>
     </g>
     <g id="text_64">
      <text style="font-size: 10px; font-family: 'DejaVu Sans', 'Liberation Sans', sans-serif; text-anchor: end" x="83" y="575.962228" transform="rotate(-0 83 575.962228)">−0.05</text>
     </g>
    </g>
    <g id="ytick_13">
     <g id="line2d_59">
      <g>
       <use href="#mb0a17fd25a" x="90.36" y="533.88" style="stroke: #000000; stroke-width: 0.8"/>
      </g>
     </g>
     <g id="text_65">
      <text style="font-size: 10px; font-family: 'DejaVu Sans', 'Liberation Sans', sans-serif; text-anchor: end" x="83" y="537.592322" transform="rotate(-0 83 537.592322)">0.00</text>
     </g>
    </g>
    <g id="ytick_14">
     <g id="line2d_60">
      <g>
       <use href="#mb0a17fd25a" x="90.36" y="495.72" style="stroke: #000000; stroke-width: 0.8"/>
      </g>
     </g>
     <g id="text_66">
      <text style="font-size: 10px; font-family: 'DejaVu Sans', 'Liberation Sans', sans-serif; text-anchor: end" x="83" y="499.222416" transform="rotate(-0 83 499.222416)">0.05</text>
     </g>
    </g>
    <g id="text_67">
     <text style="font-size: 10px; font-family: 'DejaVu Sans', 'Liberation Sans', sans-serif; text-anchor: middle" x="46.275" y="533.793103" transform="translate(-0.5 1.08) rotate(-90 46.275 533.793103)">numnan</text>
    </g>
   </g>
   <g id="line2d_61">
    <path d="M 115.363636 533.793103 
L 622.636364 533.793103 
" clip-path="url(#pe36aa06506)" style="fill: none; stroke: #1f77b4; stroke-width: 1.5; stroke-linecap: square"/>
   </g>
   <g id="patch_23">
    <path d="M90.36 576.36L90.36 492.12" style="fill: none; stroke: #000000; stroke-width: 0.8; stroke-linecap: square"/>
   </g>
   <g id="patch_24">
    <path d="M648.36 576.36L648.36 492.12" style="fill: none; stroke: #000000; stroke-width: 0.8; stroke-linecap: square"/>
   </g>
   <g id="patch_25">
    <path d="M90.36 576.36L648.36 576.36" style="fill: none; stroke: #000000; stroke-width: 0.8; stroke-linecap: square"/>
   </g>
   <g id="patch_26">
    <path d="M90.36 492.12L648.36 492.12" style="fill: none; stroke: #000000; stroke-width: 0.8; stroke-linecap: square"/>
   </g>
  </g>
 </g>
 <defs>
  <clipPath id="p3edb49991a">
   <rect x="90" y="86.4" width="558" height="84.413793"/>
  </clipPath>
  <clipPath id="pe4cbeb2625">
   <rect x="90" y="187.696552" width="558" height="84.413793"/>
  </clipPath>
  <clipPath id="p51c851bd94">
   <rect x="90" y="288.993103" width="558" height="84.413793"/>
  </clipPath>
  <clipPath id="pa0b97d15a9">
   <rect x="90" y="390.289655" width="558" height="84.413793"/>
  </clipPath>
  <clipPath id="pe36aa06506">
   <rect x="90" y="491.586207" width="558" height="84.413793"/>
  </clipPath>
 </defs>
</svg>

</body></html>
